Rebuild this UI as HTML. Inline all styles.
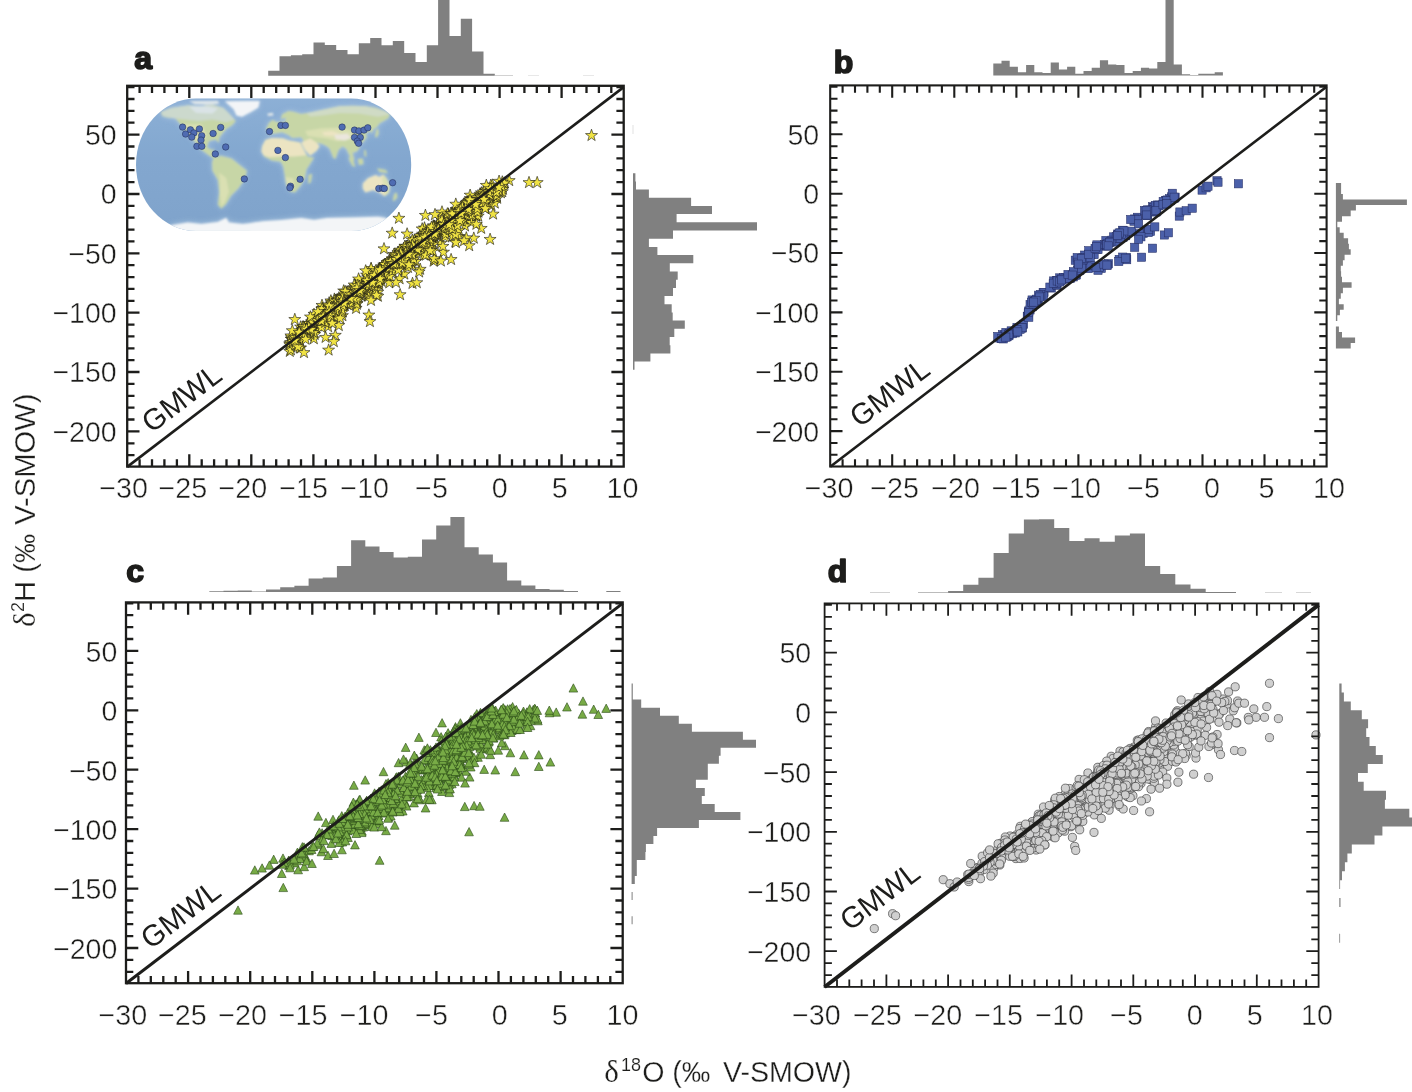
<!DOCTYPE html>
<html lang="en"><head><meta charset="utf-8"><title>Isotope figure</title>
<style>html,body{margin:0;padding:0;background:#fff}svg{display:block}.t text{stroke:#fff;stroke-width:inherit}.t{stroke-width:.45px}</style></head>
<body>
<svg width="1412" height="1092" viewBox="0 0 1412 1092" font-family='"Liberation Sans", sans-serif'>
<g fill="#808080">
<path d="M268.2 75.8V70.8H279.5V56.2H290.9V55.2H302.2V54.2H313.5V42.5H324.8V45H336.2V50H347.5V54.2H358.8V43.2H370.2V38H381.5V45.3H392.8V41.1H404.2V53.1H415.5V62H426.8V45.3H438.1V-0.2H449.5V36.1H460.8V18.7H472.1V51.6H483.5V73.7H494.8V75.8Z"/>
<rect x="495" y="75.1" width="18" height="0.7" opacity=".5"/><rect x="528" y="75.2" width="11" height="0.6" opacity=".3"/><rect x="583" y="75.2" width="11" height="0.6" opacity=".3"/>
<path d="M633 173.2H635.4V181.4H636V189.6H648.9V197.8H691.1V206H712V214.1H676.6V222.3H757V230.5H673V238.7H648.9V246.9H657.4V255.1H693.3V263.3H669.8V271.5H677.7V279.7H676V287.9H673V296H664.5V304.2H671.7V312.4H672.7V320.6H684.8V328.8H674.3V337H669.7V345.2H670.4V353.4H650.4V361.6H634.5V369.8H633Z"/>
<rect x="632.6" y="125" width="0.8" height="9" opacity=".3"/>
<path d="M993.3 75.5V63.5H1001.5V60.8H1009.7V66.8H1017.9V72.2H1026.1V65H1034.3V72.2H1042.5V73.1H1050.7V62.6H1058.9V69.6H1067.1V66.8H1075.3V73.7H1083.5V70.9H1091.7V67.8H1099.9V60.2H1108.1V64.5H1116.3V65H1124.5V73.1H1132.7V70.9H1140.9V67.8H1149.1V68.5H1157.3V62.1H1165.5V-0.5H1173.7V64.5H1181.9V74.2H1190.1V75H1198.3V73.7H1206.5V73.7H1214.7V72.2H1222.9V75.5Z"/>
<path d="M1335.9 183.1H1341.1V188.6H1341.1V194.1H1342.9V199.6H1406.9V205.1H1355.9V210.6H1350.7V216.2H1342V221.7H1337.3V227.2H1339.7V232.7H1343.7V238.2H1348.1V243.7H1348.9V249.2H1350.7V254.7H1344.6V260.2H1342.9V265.8H1340.8V271.3H1341.1V276.8H1342V282.3H1351.6V287.8H1342.9V293.3H1340.8V298.8H1338.9V304.3H1343.7V309.8H1339.9V315.3H1337.3V320.9H1335.9V326.4H1338.9V331.9H1342V337.4H1355.1V342.9H1350.7V348.4H1335.9Z"/>
<path d="M209.3 591.9V591.3H223.5V590.7H237.7V590.4H251.8V591.6H266V589.4H280.2V587.2H294.4V585.7H308.6V578.5H322.7V577.5H336.9V566.1H351.1V540.3H365.3V546.4H379.5V551.9H393.6V557.5H407.8V556.7H422V539.4H436.2V525.6H450.4V516.9H464.5V547.3H478.7V554.5H492.9V562.6H507.1V580.5H521.3V585.5H535.4V589.1H549.6V589.7H563.8V590.9H578V591.9H592.2V591.9H606.3V591H620.5V591.9Z"/>
<path d="M631.6 683.6H632.8V691.6H632.8V699.6H641.2V707.7H660V715.7H678.8V723.7H691.9V731.7H742.9V739.7H756V747.8H720.6V755.8H718.9V763.8H707.8V771.8H707.8V779.8H695.9V787.9H704.8V795.9H701.8V803.9H714.7V811.9H740.4V819.9H698.9V828H657.1V836H653.4V844H645.9V852H645.4V860H636.8V868.1H636.8V876.1H634.8V884.1H631.6V892.1H632.6V900.1H631.6V908.2H631.6V916.2H632.6V924.2H631.6Z"/>
<path d="M948.1 592.9V591.1H963.2V584.7H978.4V577.7H993.6V553H1008.7V533.5H1023.9V519.5H1039V519.2H1054.2V528.1H1069.3V541H1084.5V538.3H1099.6V541.7H1114.8V535.6H1129.9V533.5H1145V565.9H1160.2V574.1H1175.3V584.5H1190.5V588.8H1205.7V592H1220.8V592H1236V592.9Z"/>
<rect x="870" y="592.1" width="20" height="0.8" opacity=".45"/><rect x="918" y="592" width="30" height="0.9" opacity=".6"/><rect x="1265" y="592.2" width="17" height="0.7" opacity=".45"/><rect x="1296" y="592.2" width="15" height="0.7" opacity=".45"/>
<path d="M1339.3 683.5H1341.6V692.4H1343.9V701.4H1350.8V710.3H1361.8V719.3H1368.1V728.2H1366.2V737.1H1369.5V746.1H1375.8V755H1382.8V764H1367.8V772.9H1358V781.8H1363.7V790.8H1386V799.7H1384.9V808.7H1409.3V817.6H1413V826.5H1382.4V835.5H1374.5V844.4H1351.8V853.4H1347.4V862.3H1344.9V871.2H1342V880.2H1340.1V889.1H1339.3V898.1H1340.5V907H1339.3V915.9H1339.3V924.9H1339.3V933.8H1340.1V942.8H1339.3Z"/>
</g>
<g class="t">
<clipPath id="mapclip"><path d="M196 98.6H351.2A60 66.2 0 0 1 351.2 231H196A60 66.2 0 0 1 196 98.6Z"/></clipPath><filter id="soft" x="-5%" y="-5%" width="110%" height="110%"><feGaussianBlur stdDeviation="0.8"/></filter><filter id="halo" x="-10%" y="-10%" width="120%" height="120%"><feGaussianBlur stdDeviation="3.2"/></filter><linearGradient id="sea" x1="0" y1="0" x2="0" y2="1"><stop offset="0" stop-color="#8aaed5"/><stop offset=".45" stop-color="#7fa5ce"/><stop offset="1" stop-color="#7ba1ca"/></linearGradient><g clip-path="url(#mapclip)"><rect x="130" y="95" width="290" height="140" fill="url(#sea)"/><g filter="url(#halo)" opacity=".75"><polygon points="160.9,112 171.2,107.9 187.7,105.4 201.4,106.2 212.4,104.4 223.4,107.9 228.9,113.4 235.8,120.9 232.3,125 226.2,129.1 222,134 219.3,137.4 219,142.9 215.9,139.5 209,141.1 206.9,147 212.1,150.2 214.1,147.7 212.4,154.6 218.6,158.3 216.5,159.4 209.7,155.9 201.4,149.8 195.9,142.9 190.4,136.7 184.3,129.8 179.5,123 175.3,118.2 167.1,117.5 162.3,116.1" fill="#b4cde6"/><polygon points="224.8,101.3 259.8,101 258.4,107.6 250.9,112 242,116.8 236.5,115.4 233.7,109.2 228.9,105.1" fill="#b4cde6"/><polygon points="213.1,158.7 220.7,155.7 231.6,158.4 239.9,165.3 247,170.8 244.7,179.3 238.5,188.2 231,195.8 226.2,204 221.3,208.8 217.9,204.7 219.3,192.3 217.9,180 212.4,170.4 212.1,162.8" fill="#b4cde6"/><polygon points="269.2,122.6 266.4,128.3 267.9,133.7 275.6,133.5 282.1,132.2 288.5,135 292.3,138.1 301.3,137.3 303.8,141.2 301.3,142.7 305.1,150.1 310.3,155.5 316.7,150.4 319.5,146.3 316.7,142.7 321.8,143.7 326.9,146.3 329.7,148.8 333.3,158.1 335.5,159.1 338.5,150.1 342.6,146.3 346.2,148.8 348.7,154 351.3,159.1 352.8,164.5 354.1,159.1 352.6,152.7 356.4,151.7 359.2,148.8 359.2,143.7 362.8,142.4 366.9,137.3 365.6,133.5 370.5,130.9 371.8,133.5 373.3,129.6 376.9,127.1 379.7,123.2 384.6,120.6 388.5,118.1 390,114.2 384.6,111 375.6,107.8 365.4,106.3 352.6,105.8 339.7,106.3 332.1,107.8 321.8,110.1 311.5,112.3 301.3,114 293.6,111.7 288.5,111 282.1,114.2 280.8,119.4 285.9,117.4 284.9,121.9 278.2,122.6 273.1,120.6" fill="#b4cde6"/><polygon points="301.3,142.7 303.8,141.2 310.3,138.6 316.7,142.7 319.5,146.3 316.7,150.4 310.3,155.5 305.1,150.1" fill="#b4cde6"/><polygon points="321.8,132.2 332.1,130.9 339.7,133.5 332.1,136 324.4,135.4" fill="#b4cde6"/><polygon points="262.2,146.3 265.4,139.9 271.8,137.9 283.3,138.6 288.5,140.5 300,142.4 303.8,150.1 307.7,156.5 314.1,157.8 311.5,161.7 306.4,169.4 305.1,177.1 301.3,184.7 294.9,192.4 289.7,191.2 285.9,183.5 284.6,174.5 283.3,166.8 280.8,161.7 271.8,160.4 264.1,156.5 261.5,151.4" fill="#b4cde6"/><polygon points="262.2,146.3 265.4,139.9 271.8,137.9 283.3,138.6 288.5,140.5 300,142.4 303.8,150.1 306.4,155.3 293.6,156.5 280.8,156.5 269.2,157.2 263.5,155.3 261.5,151.4" fill="#b4cde6"/><polygon points="308.3,175.1 312.2,173.8 310.9,182.2 308.3,184.1" fill="#b4cde6"/><polygon points="362.8,183.5 367.9,178.3 375.6,175.1 379.5,177.1 383.3,174.5 386.5,178.3 389.7,184.7 389.1,192.4 384.6,196.3 379.5,192.4 373.1,189.9 365.4,192.4 362.8,188.6" fill="#b4cde6"/><polygon points="348.7,156.5 352.6,159.1 355.4,166.8 352.6,166.2 349.4,160.4" fill="#b4cde6"/><polygon points="357.7,159.1 362.8,158.5 363.5,164.2 359,164.9" fill="#b4cde6"/><polygon points="376.9,168.3 385.9,170 387.8,173.2 379.5,171.9" fill="#b4cde6"/><polygon points="364.1,150.1 366,150.4 366.4,156.8 364.4,155.9" fill="#b4cde6"/><polygon points="376.3,129.6 378.2,128.6 378.8,133.5 376.9,137.6 375,136.7" fill="#b4cde6"/><polygon points="271.2,120.6 273.7,120 274.4,125.1 271.5,125.8" fill="#b4cde6"/><polygon points="394.2,193.7 396.8,192.4 397.4,197.6 393.8,201.4 392.9,199.5" fill="#b4cde6"/><polygon points="164.3,232.2 171.2,225.3 187.7,222.6 201.4,223.9 217.9,221.9 226.2,217.7 228.9,222.6 242.6,223.9 261.9,221.9 281.1,222.6 281.1,232.2" fill="#c4d8ea"/><polygon points="250,223.2 262.8,221.3 282.1,220 301.3,218.1 314.1,220 326.9,218.1 352.6,217.4 378.2,216.8 385.9,218.1 391,223.2 391,234.7 250,234.7" fill="#c4d8ea"/></g><g filter="url(#soft)"><polygon points="160.9,112 171.2,107.9 187.7,105.4 201.4,106.2 212.4,104.4 223.4,107.9 228.9,113.4 235.8,120.9 232.3,125 226.2,129.1 222,134 219.3,137.4 219,142.9 215.9,139.5 209,141.1 206.9,147 212.1,150.2 214.1,147.7 212.4,154.6 218.6,158.3 216.5,159.4 209.7,155.9 201.4,149.8 195.9,142.9 190.4,136.7 184.3,129.8 179.5,123 175.3,118.2 167.1,117.5 162.3,116.1" fill="#c6d5a4"/><polygon points="183.6,124.3 201.4,124.3 206.9,135.3 201.4,144.9 194.6,139.5 187.7,131.2" fill="#d9dfb0"/><polygon points="160.9,112 171.2,107.9 187.7,105.4 201.4,106.2 212.4,104.4 223.4,107.9 228.9,113.4 234.4,119.5 226.2,122.3 212.4,119.5 198.7,120.9 184.9,119.5 174,118.2 163,116.1" fill="#cbd8cc"/><polygon points="189.1,106.5 206.9,106.2 217.9,108.5 212.4,113.4 195.9,112.7" fill="#d9e3e6"/><polygon points="224.8,101.3 259.8,101 258.4,107.6 250.9,112 242,116.8 236.5,115.4 233.7,109.2 228.9,105.1" fill="#f3f5f7"/><polygon points="189.1,101 217.9,100.7 219.3,103.7 206.9,104.8 194.6,104.3" fill="#dfe6ea"/><polygon points="213.1,158.7 220.7,155.7 231.6,158.4 239.9,165.3 247,170.8 244.7,179.3 238.5,188.2 231,195.8 226.2,204 221.3,208.8 217.9,204.7 219.3,192.3 217.9,180 212.4,170.4 212.1,162.8" fill="#c6d5a4"/><polygon points="219.3,172.4 226.2,177.9 228.9,191.6 224.8,202.6 221.3,206.8 220,194.4 220,183.4" fill="#d9dfb0"/><polygon points="267.4,113.4 272.9,112.7 273.5,115.4 268,116.1" fill="#dfe6ea"/><polygon points="269.2,122.6 266.4,128.3 267.9,133.7 275.6,133.5 282.1,132.2 288.5,135 292.3,138.1 301.3,137.3 303.8,141.2 301.3,142.7 305.1,150.1 310.3,155.5 316.7,150.4 319.5,146.3 316.7,142.7 321.8,143.7 326.9,146.3 329.7,148.8 333.3,158.1 335.5,159.1 338.5,150.1 342.6,146.3 346.2,148.8 348.7,154 351.3,159.1 352.8,164.5 354.1,159.1 352.6,152.7 356.4,151.7 359.2,148.8 359.2,143.7 362.8,142.4 366.9,137.3 365.6,133.5 370.5,130.9 371.8,133.5 373.3,129.6 376.9,127.1 379.7,123.2 384.6,120.6 388.5,118.1 390,114.2 384.6,111 375.6,107.8 365.4,106.3 352.6,105.8 339.7,106.3 332.1,107.8 321.8,110.1 311.5,112.3 301.3,114 293.6,111.7 288.5,111 282.1,114.2 280.8,119.4 285.9,117.4 284.9,121.9 278.2,122.6 273.1,120.6" fill="#c6d5a4"/><polygon points="306.4,113.2 321.8,110.1 339.7,106.3 365.4,106.3 384.6,111 390,114.2 378.2,116.8 359,113.6 339.7,112.9 321.8,115.5 310.3,116.5" fill="#cfdac4"/><polygon points="301.3,142.7 303.8,141.2 310.3,138.6 316.7,142.7 319.5,146.3 316.7,150.4 310.3,155.5 305.1,150.1" fill="#ece4c0"/><polygon points="305.1,130.9 321.8,128.3 339.7,127.7 352.6,130.9 355.1,136 347.4,139.9 337.2,141.2 326.9,138.6 316.7,137.3 307.7,136" fill="#d9dfb0"/><polygon points="321.8,132.2 332.1,130.9 339.7,133.5 332.1,136 324.4,135.4" fill="#ece4c0"/><polygon points="334,134.7 347.4,133.5 351.3,137.9 344.9,140.5 335.9,139.2" fill="#ebe6dc"/><polygon points="262.2,146.3 265.4,139.9 271.8,137.9 283.3,138.6 288.5,140.5 300,142.4 303.8,150.1 307.7,156.5 314.1,157.8 311.5,161.7 306.4,169.4 305.1,177.1 301.3,184.7 294.9,192.4 289.7,191.2 285.9,183.5 284.6,174.5 283.3,166.8 280.8,161.7 271.8,160.4 264.1,156.5 261.5,151.4" fill="#c6d5a4"/><polygon points="262.2,146.3 265.4,139.9 271.8,137.9 283.3,138.6 288.5,140.5 300,142.4 303.8,150.1 306.4,155.3 293.6,156.5 280.8,156.5 269.2,157.2 263.5,155.3 261.5,151.4" fill="#ece4c0"/><polygon points="285.3,177.1 293.6,178.3 294.2,187.3 290.4,190.5 286.5,184.1" fill="#d9dfb0"/><polygon points="308.3,175.1 312.2,173.8 310.9,182.2 308.3,184.1" fill="#c6d5a4"/><polygon points="362.8,183.5 367.9,178.3 375.6,175.1 379.5,177.1 383.3,174.5 386.5,178.3 389.7,184.7 389.1,192.4 384.6,196.3 379.5,192.4 373.1,189.9 365.4,192.4 362.8,188.6" fill="#ece4c0"/><polygon points="383.3,174.5 386.5,178.3 389.7,184.7 389.1,192.4 384.6,196.3 384.6,187.3 382.1,179.6" fill="#d9dfb0"/><polygon points="348.7,156.5 352.6,159.1 355.4,166.8 352.6,166.2 349.4,160.4" fill="#c6d5a4"/><polygon points="357.7,159.1 362.8,158.5 363.5,164.2 359,164.9" fill="#c6d5a4"/><polygon points="376.9,168.3 385.9,170 387.8,173.2 379.5,171.9" fill="#c6d5a4"/><polygon points="364.1,150.1 366,150.4 366.4,156.8 364.4,155.9" fill="#c6d5a4"/><polygon points="376.3,129.6 378.2,128.6 378.8,133.5 376.9,137.6 375,136.7" fill="#c6d5a4"/><polygon points="271.2,120.6 273.7,120 274.4,125.1 271.5,125.8" fill="#c6d5a4"/><polygon points="394.2,193.7 396.8,192.4 397.4,197.6 393.8,201.4 392.9,199.5" fill="#c6d5a4"/><polygon points="164.3,232.2 171.2,225.3 187.7,222.6 201.4,223.9 217.9,221.9 226.2,217.7 228.9,222.6 242.6,223.9 261.9,221.9 281.1,222.6 281.1,232.2" fill="#f3f5f7"/><polygon points="250,223.2 262.8,221.3 282.1,220 301.3,218.1 314.1,220 326.9,218.1 352.6,217.4 378.2,216.8 385.9,218.1 391,223.2 391,234.7 250,234.7" fill="#f3f5f7"/></g><rect x="130" y="95" width="290" height="140" fill="#fff" opacity=".03"/></g><g fill="#4f6cb2" stroke="#1f2a55" stroke-width="0.5"><circle cx="182.6" cy="127.1" r="3.25"/><circle cx="185.6" cy="134" r="3.25"/><circle cx="190.4" cy="129.8" r="3.25"/><circle cx="193.9" cy="132.9" r="3.25"/><circle cx="191.8" cy="137.1" r="3.25"/><circle cx="199.4" cy="128.9" r="3.25"/><circle cx="201.7" cy="135.7" r="3.25"/><circle cx="201" cy="140.1" r="3.25"/><circle cx="196.9" cy="146.3" r="3.25"/><circle cx="201.8" cy="146.3" r="3.25"/><circle cx="213.1" cy="133.5" r="3.25"/><circle cx="220.7" cy="127.4" r="3.25"/><circle cx="225.7" cy="147" r="3.25"/><circle cx="215.3" cy="154" r="3.25"/><circle cx="244.3" cy="178.9" r="3.25"/><circle cx="269.5" cy="131.5" r="3.25"/><circle cx="277.9" cy="150.4" r="3.25"/><circle cx="280.9" cy="125.4" r="3.25"/><circle cx="285.4" cy="125.4" r="3.25"/><circle cx="285.4" cy="157.6" r="3.25"/><circle cx="300.1" cy="179.3" r="3.25"/><circle cx="290.5" cy="186.2" r="3.25"/><circle cx="289.9" cy="187.8" r="3.25"/><circle cx="342.1" cy="127.1" r="3.25"/><circle cx="354.5" cy="130.1" r="3.25"/><circle cx="358.9" cy="130.9" r="3.25"/><circle cx="364" cy="130.1" r="3.25"/><circle cx="367.8" cy="127.8" r="3.25"/><circle cx="354.5" cy="137.4" r="3.25"/><circle cx="360.3" cy="137.4" r="3.25"/><circle cx="357.3" cy="141.1" r="3.25"/><circle cx="358.6" cy="143.3" r="3.25"/><circle cx="392.6" cy="182.7" r="3.25"/><circle cx="378.8" cy="188.5" r="3.25"/><circle cx="382.7" cy="188.2" r="3.25"/><circle cx="384.3" cy="188.5" r="3.25"/></g><g fill="#f0e344" stroke="#1a1a12" stroke-width="0.6" stroke-linejoin="miter"><path d="M407.6 249.8l1.4 4.3l4.6 0l-3.6 2.8l1.3 4.3l-3.7 -2.6l-3.7 2.6l1.3 -4.3l-3.6 -2.8l4.5 0z"/><path d="M433.3 229l1.5 4.3l4.5 0l-3.6 2.8l1.3 4.3l-3.7 -2.6l-3.7 2.6l1.4 -4.3l-3.6 -2.8l4.5 0z"/><path d="M392.2 257l1.5 4.3l4.5 0l-3.6 2.8l1.3 4.3l-3.7 -2.6l-3.7 2.6l1.4 -4.3l-3.7 -2.8l4.6 0z"/><path d="M441.6 219.4l1.4 4.3l4.6 0.1l-3.6 2.7l1.3 4.3l-3.7 -2.6l-3.7 2.6l1.3 -4.3l-3.6 -2.7l4.5 -0.1z"/><path d="M445.3 214.2l1.5 4.3l4.5 0.1l-3.6 2.7l1.4 4.3l-3.8 -2.6l-3.7 2.6l1.4 -4.3l-3.6 -2.7l4.5 -0.1z"/><path d="M304.4 324.7l1.5 4.3l4.5 0.1l-3.6 2.7l1.3 4.3l-3.7 -2.6l-3.7 2.6l1.3 -4.3l-3.6 -2.7l4.5 -0.1z"/><path d="M391.3 259.3l1.5 4.3l4.5 0.1l-3.6 2.7l1.3 4.3l-3.7 -2.6l-3.7 2.6l1.4 -4.3l-3.6 -2.7l4.5 -0.1z"/><path d="M431.7 231.7l1.5 4.3l4.5 0l-3.6 2.8l1.3 4.3l-3.7 -2.6l-3.7 2.6l1.3 -4.3l-3.6 -2.8l4.6 0z"/><path d="M311.4 315.6l1.5 4.3l4.5 0.1l-3.6 2.7l1.3 4.3l-3.7 -2.6l-3.7 2.6l1.3 -4.3l-3.6 -2.7l4.5 -0.1z"/><path d="M408.3 247.8l1.4 4.3l4.6 0.1l-3.6 2.7l1.3 4.3l-3.7 -2.6l-3.7 2.6l1.3 -4.3l-3.6 -2.7l4.5 -0.1z"/><path d="M315.5 316.2l1.5 4.3l4.5 0l-3.6 2.8l1.3 4.3l-3.7 -2.6l-3.7 2.6l1.3 -4.3l-3.6 -2.8l4.5 0z"/><path d="M357.5 282.9l1.5 4.3l4.5 0.1l-3.6 2.7l1.3 4.3l-3.7 -2.6l-3.7 2.6l1.3 -4.3l-3.6 -2.7l4.5 -0.1z"/><path d="M376 276.5l1.5 4.3l4.5 0l-3.6 2.8l1.3 4.3l-3.7 -2.6l-3.7 2.6l1.4 -4.3l-3.7 -2.8l4.6 0z"/><path d="M346.8 293.9l1.5 4.3l4.5 0.1l-3.6 2.7l1.3 4.3l-3.7 -2.6l-3.7 2.6l1.3 -4.3l-3.6 -2.7l4.5 -0.1z"/><path d="M386.5 262.3l1.4 4.3l4.6 0.1l-3.6 2.7l1.3 4.3l-3.7 -2.6l-3.7 2.6l1.3 -4.3l-3.6 -2.7l4.5 -0.1z"/><path d="M489.6 191l1.4 4.3l4.5 0l-3.6 2.8l1.4 4.3l-3.7 -2.6l-3.7 2.6l1.3 -4.3l-3.6 -2.8l4.5 0z"/><path d="M326.4 302.1l1.5 4.2l4.5 0.1l-3.6 2.7l1.3 4.4l-3.7 -2.6l-3.7 2.6l1.3 -4.4l-3.6 -2.7l4.5 -0.1z"/><path d="M476.9 201.1l1.5 4.3l4.5 0l-3.6 2.7l1.4 4.4l-3.8 -2.6l-3.7 2.6l1.4 -4.4l-3.6 -2.7l4.5 0z"/><path d="M432.2 235.5l1.5 4.3l4.5 0.1l-3.6 2.7l1.3 4.3l-3.7 -2.6l-3.7 2.6l1.3 -4.3l-3.6 -2.7l4.5 -0.1z"/><path d="M323.2 307.2l1.5 4.3l4.5 0l-3.6 2.8l1.3 4.3l-3.7 -2.6l-3.7 2.6l1.4 -4.3l-3.7 -2.8l4.6 0z"/><path d="M442.5 221.5l1.4 4.3l4.6 0.1l-3.7 2.7l1.4 4.3l-3.7 -2.6l-3.7 2.6l1.3 -4.3l-3.6 -2.7l4.5 -0.1z"/><path d="M340.1 298.7l1.5 4.3l4.5 0.1l-3.6 2.7l1.3 4.3l-3.7 -2.6l-3.7 2.6l1.4 -4.3l-3.7 -2.7l4.6 -0.1z"/><path d="M436.7 225.7l1.5 4.3l4.5 0.1l-3.6 2.7l1.3 4.3l-3.7 -2.6l-3.7 2.6l1.3 -4.3l-3.6 -2.7l4.5 -0.1z"/><path d="M360.2 284.8l1.5 4.3l4.5 0.1l-3.6 2.7l1.3 4.3l-3.7 -2.6l-3.7 2.6l1.3 -4.3l-3.6 -2.7l4.6 -0.1z"/><path d="M407.4 248.4l1.4 4.2l4.6 0.1l-3.6 2.7l1.3 4.4l-3.7 -2.6l-3.7 2.6l1.3 -4.4l-3.6 -2.7l4.5 -0.1z"/><path d="M382.6 261l1.5 4.3l4.5 0.1l-3.6 2.7l1.3 4.3l-3.7 -2.6l-3.7 2.6l1.4 -4.3l-3.7 -2.7l4.6 -0.1z"/><path d="M314 318.6l1.4 4.3l4.6 0.1l-3.6 2.7l1.3 4.3l-3.7 -2.6l-3.7 2.6l1.3 -4.3l-3.6 -2.7l4.5 -0.1z"/><path d="M481.4 186.6l1.4 4.3l4.5 0l-3.6 2.7l1.4 4.4l-3.7 -2.6l-3.7 2.6l1.3 -4.4l-3.6 -2.7l4.5 0z"/><path d="M357.7 285.4l1.5 4.3l4.5 0l-3.6 2.7l1.3 4.4l-3.7 -2.6l-3.7 2.6l1.3 -4.4l-3.6 -2.7l4.5 0z"/><path d="M294.8 313.2l1.5 4.3l4.5 0.1l-3.6 2.7l1.3 4.3l-3.7 -2.6l-3.7 2.6l1.3 -4.3l-3.6 -2.7l4.5 -0.1z"/><path d="M353.9 284.5l1.5 4.3l4.5 0.1l-3.6 2.7l1.3 4.3l-3.7 -2.6l-3.7 2.6l1.4 -4.3l-3.6 -2.7l4.5 -0.1z"/><path d="M331.9 309.7l1.5 4.3l4.5 0.1l-3.6 2.7l1.3 4.3l-3.7 -2.6l-3.7 2.6l1.3 -4.3l-3.6 -2.7l4.6 -0.1z"/><path d="M492.8 183.9l1.4 4.2l4.6 0.1l-3.7 2.7l1.4 4.4l-3.7 -2.6l-3.7 2.6l1.3 -4.4l-3.6 -2.7l4.5 -0.1z"/><path d="M397.9 246.3l1.5 4.3l4.5 0.1l-3.6 2.7l1.3 4.3l-3.7 -2.6l-3.7 2.6l1.3 -4.3l-3.6 -2.7l4.5 -0.1z"/><path d="M414.2 245.4l1.5 4.3l4.5 0.1l-3.6 2.7l1.3 4.3l-3.7 -2.6l-3.7 2.6l1.4 -4.3l-3.6 -2.7l4.5 -0.1z"/><path d="M396.2 253.6l1.5 4.2l4.5 0.1l-3.6 2.7l1.3 4.4l-3.7 -2.6l-3.7 2.6l1.3 -4.4l-3.6 -2.7l4.6 -0.1z"/><path d="M367.3 277.4l1.5 4.2l4.5 0.1l-3.6 2.7l1.3 4.4l-3.7 -2.6l-3.7 2.6l1.4 -4.4l-3.7 -2.7l4.6 -0.1z"/><path d="M400 257.3l1.5 4.3l4.5 0.1l-3.6 2.7l1.3 4.3l-3.7 -2.6l-3.7 2.6l1.3 -4.3l-3.6 -2.7l4.5 -0.1z"/><path d="M295.2 340.3l1.5 4.2l4.5 0.1l-3.6 2.7l1.3 4.4l-3.7 -2.6l-3.7 2.6l1.3 -4.4l-3.6 -2.7l4.5 -0.1z"/><path d="M448.4 207.8l1.5 4.3l4.5 0.1l-3.6 2.7l1.3 4.3l-3.7 -2.6l-3.7 2.6l1.3 -4.3l-3.6 -2.7l4.5 -0.1z"/><path d="M402.6 249.9l1.5 4.3l4.5 0.1l-3.6 2.7l1.3 4.3l-3.7 -2.6l-3.7 2.6l1.4 -4.3l-3.7 -2.7l4.6 -0.1z"/><path d="M473 201.8l1.5 4.3l4.5 0.1l-3.6 2.7l1.3 4.3l-3.7 -2.6l-3.7 2.6l1.3 -4.3l-3.6 -2.7l4.5 -0.1z"/><path d="M345.5 292.8l1.5 4.3l4.5 0.1l-3.6 2.7l1.3 4.3l-3.7 -2.6l-3.7 2.6l1.3 -4.3l-3.6 -2.7l4.5 -0.1z"/><path d="M332 302.8l1.5 4.2l4.5 0.1l-3.6 2.7l1.3 4.4l-3.7 -2.6l-3.7 2.6l1.3 -4.4l-3.6 -2.7l4.5 -0.1z"/><path d="M491.4 183.6l1.4 4.3l4.6 0.1l-3.7 2.7l1.4 4.3l-3.7 -2.6l-3.7 2.6l1.3 -4.3l-3.6 -2.7l4.5 -0.1z"/><path d="M440 225.4l1.5 4.3l4.5 0.1l-3.6 2.7l1.3 4.3l-3.7 -2.6l-3.7 2.6l1.3 -4.3l-3.6 -2.7l4.6 -0.1z"/><path d="M487.9 189.7l1.5 4.3l4.5 0l-3.6 2.8l1.3 4.3l-3.7 -2.6l-3.7 2.6l1.3 -4.3l-3.6 -2.8l4.5 0z"/><path d="M338.5 299.1l1.5 4.3l4.5 0l-3.6 2.8l1.3 4.3l-3.7 -2.6l-3.7 2.6l1.4 -4.3l-3.7 -2.8l4.6 0z"/><path d="M430.3 236.4l1.5 4.2l4.5 0.1l-3.6 2.7l1.3 4.4l-3.7 -2.6l-3.7 2.6l1.3 -4.4l-3.6 -2.7l4.5 -0.1z"/><path d="M480.5 194.5l1.5 4.2l4.5 0.1l-3.6 2.7l1.3 4.4l-3.7 -2.6l-3.7 2.6l1.4 -4.4l-3.6 -2.7l4.5 -0.1z"/><path d="M391.6 255.3l1.5 4.3l4.5 0l-3.6 2.8l1.3 4.3l-3.7 -2.6l-3.7 2.6l1.3 -4.3l-3.6 -2.8l4.5 0z"/><path d="M454.2 212.7l1.5 4.2l4.5 0.1l-3.6 2.7l1.3 4.4l-3.7 -2.6l-3.7 2.6l1.4 -4.4l-3.7 -2.7l4.6 -0.1z"/><path d="M426.4 232.2l1.4 4.3l4.6 0.1l-3.6 2.7l1.3 4.3l-3.7 -2.6l-3.7 2.6l1.3 -4.3l-3.6 -2.7l4.5 -0.1z"/><path d="M482 197l1.4 4.3l4.6 0l-3.7 2.8l1.4 4.3l-3.7 -2.6l-3.7 2.6l1.3 -4.3l-3.6 -2.8l4.5 0z"/><path d="M425.9 233l1.4 4.3l4.6 0.1l-3.7 2.7l1.4 4.3l-3.7 -2.6l-3.7 2.6l1.3 -4.3l-3.6 -2.7l4.5 -0.1z"/><path d="M289.8 345.1l1.5 4.3l4.5 0.1l-3.6 2.7l1.3 4.3l-3.7 -2.6l-3.7 2.6l1.3 -4.3l-3.6 -2.7l4.5 -0.1z"/><path d="M381.5 267.6l1.4 4.3l4.6 0l-3.6 2.8l1.3 4.3l-3.7 -2.6l-3.7 2.6l1.3 -4.3l-3.6 -2.8l4.5 0z"/><path d="M454.1 213l1.4 4.2l4.6 0.1l-3.6 2.7l1.3 4.4l-3.7 -2.6l-3.7 2.6l1.3 -4.4l-3.6 -2.7l4.5 -0.1z"/><path d="M326.3 307.1l1.5 4.3l4.5 0.1l-3.6 2.7l1.3 4.3l-3.7 -2.6l-3.7 2.6l1.3 -4.3l-3.6 -2.7l4.6 -0.1z"/><path d="M416.1 243.4l1.5 4.3l4.5 0.1l-3.6 2.7l1.3 4.3l-3.7 -2.6l-3.7 2.6l1.3 -4.3l-3.6 -2.7l4.6 -0.1z"/><path d="M340.3 297.9l1.4 4.2l4.6 0.1l-3.6 2.7l1.3 4.4l-3.7 -2.6l-3.7 2.6l1.3 -4.4l-3.6 -2.7l4.5 -0.1z"/><path d="M387.7 266.1l1.4 4.3l4.5 0.1l-3.6 2.7l1.4 4.3l-3.7 -2.6l-3.7 2.6l1.3 -4.3l-3.6 -2.7l4.5 -0.1z"/><path d="M314.7 328.2l1.5 4.3l4.5 0.1l-3.6 2.7l1.3 4.3l-3.7 -2.6l-3.7 2.6l1.4 -4.3l-3.7 -2.7l4.6 -0.1z"/><path d="M303.7 329.7l1.5 4.3l4.5 0l-3.6 2.7l1.4 4.4l-3.8 -2.6l-3.7 2.6l1.4 -4.4l-3.6 -2.7l4.5 0z"/><path d="M490.6 184.3l1.5 4.3l4.5 0.1l-3.6 2.7l1.3 4.3l-3.7 -2.6l-3.7 2.6l1.3 -4.3l-3.6 -2.7l4.5 -0.1z"/><path d="M481.2 190.8l1.5 4.2l4.5 0.1l-3.6 2.7l1.3 4.4l-3.7 -2.6l-3.7 2.6l1.3 -4.4l-3.6 -2.7l4.5 -0.1z"/><path d="M424.5 221.7l1.5 4.3l4.5 0.1l-3.6 2.7l1.3 4.3l-3.7 -2.6l-3.7 2.6l1.4 -4.3l-3.7 -2.7l4.6 -0.1z"/><path d="M482.4 190.2l1.5 4.2l4.5 0.1l-3.6 2.7l1.4 4.4l-3.8 -2.6l-3.7 2.6l1.4 -4.4l-3.6 -2.7l4.5 -0.1z"/><path d="M431.2 243.4l1.5 4.3l4.5 0.1l-3.6 2.7l1.3 4.3l-3.7 -2.6l-3.7 2.6l1.3 -4.3l-3.6 -2.7l4.5 -0.1z"/><path d="M378.3 272.1l1.5 4.3l4.5 0l-3.6 2.7l1.3 4.4l-3.7 -2.6l-3.7 2.6l1.3 -4.4l-3.6 -2.7l4.5 0z"/><path d="M379.4 270.2l1.5 4.3l4.5 0l-3.6 2.7l1.3 4.4l-3.7 -2.6l-3.7 2.6l1.3 -4.4l-3.6 -2.7l4.6 0z"/><path d="M440.8 237l1.5 4.3l4.5 0.1l-3.6 2.7l1.3 4.3l-3.7 -2.6l-3.7 2.6l1.3 -4.3l-3.6 -2.7l4.5 -0.1z"/><path d="M335 301.5l1.4 4.3l4.6 0.1l-3.6 2.7l1.3 4.3l-3.7 -2.6l-3.7 2.6l1.3 -4.3l-3.6 -2.7l4.5 -0.1z"/><path d="M411.5 245.8l1.4 4.3l4.6 0.1l-3.6 2.7l1.3 4.3l-3.7 -2.6l-3.7 2.6l1.3 -4.3l-3.6 -2.7l4.5 -0.1z"/><path d="M474.7 193.4l1.4 4.3l4.6 0.1l-3.7 2.7l1.4 4.3l-3.7 -2.6l-3.7 2.6l1.3 -4.3l-3.6 -2.7l4.5 -0.1z"/><path d="M402.1 255.2l1.4 4.3l4.6 0l-3.7 2.7l1.4 4.4l-3.7 -2.6l-3.7 2.6l1.3 -4.4l-3.6 -2.7l4.5 0z"/><path d="M389.7 258.4l1.4 4.3l4.6 0.1l-3.7 2.7l1.4 4.3l-3.7 -2.6l-3.7 2.6l1.3 -4.3l-3.6 -2.7l4.5 -0.1z"/><path d="M445.7 217.3l1.4 4.2l4.5 0.1l-3.6 2.7l1.4 4.4l-3.7 -2.6l-3.8 2.6l1.4 -4.4l-3.6 -2.7l4.5 -0.1z"/><path d="M402.3 251.2l1.5 4.3l4.5 0l-3.6 2.7l1.3 4.4l-3.7 -2.6l-3.7 2.6l1.3 -4.4l-3.6 -2.7l4.5 0z"/><path d="M481.9 189.6l1.4 4.3l4.6 0.1l-3.7 2.7l1.4 4.3l-3.7 -2.6l-3.7 2.6l1.3 -4.3l-3.6 -2.7l4.5 -0.1z"/><path d="M355.7 293.4l1.5 4.3l4.5 0.1l-3.6 2.7l1.3 4.3l-3.7 -2.6l-3.7 2.6l1.3 -4.3l-3.6 -2.7l4.5 -0.1z"/><path d="M492.4 178.8l1.4 4.3l4.5 0l-3.6 2.7l1.4 4.4l-3.7 -2.6l-3.8 2.6l1.4 -4.4l-3.6 -2.7l4.5 0z"/><path d="M296.9 329l1.5 4.3l4.5 0.1l-3.6 2.7l1.3 4.3l-3.7 -2.6l-3.7 2.6l1.3 -4.3l-3.6 -2.7l4.6 -0.1z"/><path d="M323.6 311.7l1.5 4.3l4.5 0.1l-3.6 2.7l1.3 4.3l-3.7 -2.6l-3.7 2.6l1.3 -4.3l-3.6 -2.7l4.5 -0.1z"/><path d="M391 255.1l1.5 4.3l4.5 0.1l-3.6 2.7l1.3 4.3l-3.7 -2.6l-3.7 2.6l1.3 -4.3l-3.6 -2.7l4.5 -0.1z"/><path d="M380.9 270.5l1.5 4.2l4.5 0.1l-3.6 2.7l1.3 4.3l-3.7 -2.5l-3.7 2.5l1.3 -4.3l-3.6 -2.7l4.5 -0.1z"/><path d="M435.8 226.7l1.4 4.3l4.6 0.1l-3.7 2.7l1.4 4.3l-3.7 -2.6l-3.7 2.6l1.3 -4.3l-3.6 -2.7l4.5 -0.1z"/><path d="M303 324.6l1.5 4.2l4.5 0.1l-3.6 2.7l1.3 4.4l-3.7 -2.6l-3.7 2.6l1.3 -4.4l-3.6 -2.7l4.5 -0.1z"/><path d="M343.3 298.2l1.5 4.3l4.5 0.1l-3.6 2.7l1.3 4.3l-3.7 -2.6l-3.7 2.6l1.3 -4.3l-3.6 -2.7l4.5 -0.1z"/><path d="M389.1 264.6l1.5 4.2l4.5 0.1l-3.6 2.7l1.3 4.4l-3.7 -2.6l-3.7 2.6l1.3 -4.4l-3.6 -2.7l4.5 -0.1z"/><path d="M345.5 292.6l1.4 4.3l4.6 0l-3.6 2.8l1.3 4.3l-3.7 -2.6l-3.7 2.6l1.3 -4.3l-3.6 -2.8l4.5 0z"/><path d="M372.2 273.8l1.5 4.3l4.5 0.1l-3.6 2.7l1.3 4.3l-3.7 -2.6l-3.7 2.6l1.4 -4.3l-3.7 -2.7l4.6 -0.1z"/><path d="M449.1 220.2l1.5 4.2l4.5 0.1l-3.6 2.7l1.3 4.3l-3.7 -2.5l-3.7 2.5l1.4 -4.3l-3.7 -2.7l4.6 -0.1z"/><path d="M389.9 263.8l1.4 4.2l4.6 0.1l-3.7 2.7l1.4 4.4l-3.7 -2.6l-3.7 2.6l1.3 -4.4l-3.6 -2.7l4.5 -0.1z"/><path d="M467.1 205.8l1.5 4.3l4.5 0.1l-3.6 2.7l1.3 4.3l-3.7 -2.6l-3.7 2.6l1.4 -4.3l-3.7 -2.7l4.6 -0.1z"/><path d="M478.5 195.8l1.5 4.3l4.5 0.1l-3.6 2.7l1.3 4.3l-3.7 -2.6l-3.7 2.6l1.3 -4.3l-3.6 -2.7l4.5 -0.1z"/><path d="M366.9 273.5l1.5 4.3l4.5 0.1l-3.6 2.7l1.3 4.3l-3.7 -2.6l-3.7 2.6l1.3 -4.3l-3.6 -2.7l4.5 -0.1z"/><path d="M489.8 186.1l1.4 4.3l4.6 0l-3.6 2.8l1.3 4.3l-3.7 -2.6l-3.7 2.6l1.3 -4.3l-3.6 -2.8l4.5 0z"/><path d="M476.9 195.8l1.4 4.3l4.6 0.1l-3.7 2.7l1.4 4.3l-3.7 -2.6l-3.7 2.6l1.3 -4.3l-3.6 -2.7l4.5 -0.1z"/><path d="M452 217.9l1.4 4.2l4.5 0.1l-3.6 2.7l1.4 4.4l-3.7 -2.6l-3.8 2.6l1.4 -4.4l-3.6 -2.7l4.5 -0.1z"/><path d="M322.8 310.5l1.4 4.3l4.6 0l-3.6 2.8l1.3 4.3l-3.7 -2.6l-3.7 2.6l1.3 -4.3l-3.6 -2.8l4.5 0z"/><path d="M461.8 208.2l1.5 4.3l4.5 0.1l-3.6 2.7l1.3 4.3l-3.7 -2.6l-3.7 2.6l1.4 -4.3l-3.6 -2.7l4.5 -0.1z"/><path d="M332 304.5l1.5 4.3l4.5 0.1l-3.6 2.7l1.3 4.3l-3.7 -2.6l-3.7 2.6l1.4 -4.3l-3.6 -2.7l4.5 -0.1z"/><path d="M386.3 259.2l1.4 4.3l4.6 0.1l-3.7 2.7l1.4 4.3l-3.7 -2.6l-3.7 2.6l1.3 -4.3l-3.6 -2.7l4.5 -0.1z"/><path d="M463.1 202.3l1.4 4.3l4.6 0.1l-3.6 2.7l1.3 4.3l-3.7 -2.6l-3.7 2.6l1.3 -4.3l-3.6 -2.7l4.5 -0.1z"/><path d="M304.4 321.3l1.5 4.3l4.5 0.1l-3.6 2.7l1.3 4.3l-3.7 -2.6l-3.7 2.6l1.3 -4.3l-3.6 -2.7l4.5 -0.1z"/><path d="M452.3 215.6l1.4 4.3l4.6 0l-3.7 2.8l1.4 4.3l-3.7 -2.6l-3.7 2.6l1.3 -4.3l-3.6 -2.8l4.5 0z"/><path d="M421.2 235.2l1.5 4.3l4.5 0l-3.6 2.8l1.3 4.3l-3.7 -2.6l-3.7 2.6l1.4 -4.3l-3.7 -2.8l4.6 0z"/><path d="M423.3 234.4l1.4 4.2l4.6 0.1l-3.7 2.7l1.4 4.4l-3.7 -2.6l-3.7 2.6l1.3 -4.4l-3.6 -2.7l4.5 -0.1z"/><path d="M457.2 206l1.5 4.3l4.5 0l-3.6 2.7l1.3 4.4l-3.7 -2.6l-3.7 2.6l1.3 -4.4l-3.6 -2.7l4.5 0z"/><path d="M509.2 174.3l1.5 4.3l4.5 0.1l-3.6 2.7l1.3 4.3l-3.7 -2.6l-3.7 2.6l1.3 -4.3l-3.6 -2.7l4.5 -0.1z"/><path d="M444.6 220.4l1.5 4.3l4.5 0.1l-3.6 2.7l1.3 4.3l-3.7 -2.6l-3.7 2.6l1.3 -4.3l-3.6 -2.7l4.6 -0.1z"/><path d="M393.6 254.6l1.4 4.3l4.6 0.1l-3.6 2.7l1.3 4.3l-3.7 -2.6l-3.7 2.6l1.3 -4.3l-3.6 -2.7l4.5 -0.1z"/><path d="M431.9 226.1l1.4 4.2l4.5 0.1l-3.6 2.7l1.4 4.4l-3.7 -2.6l-3.7 2.6l1.3 -4.4l-3.6 -2.7l4.5 -0.1z"/><path d="M376.2 275l1.5 4.3l4.5 0.1l-3.6 2.7l1.3 4.3l-3.7 -2.6l-3.7 2.6l1.3 -4.3l-3.6 -2.7l4.5 -0.1z"/><path d="M415.3 240.1l1.4 4.3l4.5 0.1l-3.6 2.7l1.4 4.3l-3.7 -2.6l-3.8 2.6l1.4 -4.3l-3.6 -2.7l4.5 -0.1z"/><path d="M491.5 199.3l1.5 4.3l4.5 0.1l-3.6 2.7l1.3 4.3l-3.7 -2.6l-3.7 2.6l1.3 -4.3l-3.6 -2.7l4.5 -0.1z"/><path d="M379.7 266.1l1.4 4.3l4.6 0.1l-3.7 2.7l1.4 4.3l-3.7 -2.6l-3.7 2.6l1.3 -4.3l-3.6 -2.7l4.5 -0.1z"/><path d="M461.3 203.6l1.5 4.2l4.5 0.1l-3.6 2.7l1.4 4.4l-3.8 -2.6l-3.7 2.6l1.4 -4.4l-3.6 -2.7l4.5 -0.1z"/><path d="M469.8 210.2l1.5 4.3l4.5 0.1l-3.6 2.7l1.3 4.3l-3.7 -2.6l-3.7 2.6l1.3 -4.3l-3.6 -2.7l4.5 -0.1z"/><path d="M370.2 273.2l1.5 4.3l4.5 0.1l-3.6 2.7l1.3 4.3l-3.7 -2.6l-3.7 2.6l1.3 -4.3l-3.6 -2.7l4.5 -0.1z"/><path d="M484.8 191.9l1.4 4.3l4.6 0l-3.7 2.8l1.4 4.3l-3.7 -2.6l-3.7 2.6l1.3 -4.3l-3.6 -2.8l4.5 0z"/><path d="M378.4 270.5l1.5 4.3l4.5 0l-3.6 2.8l1.3 4.3l-3.7 -2.6l-3.7 2.6l1.3 -4.3l-3.6 -2.8l4.6 0z"/><path d="M476.6 195.9l1.4 4.2l4.6 0.1l-3.7 2.7l1.4 4.4l-3.7 -2.6l-3.7 2.6l1.3 -4.4l-3.6 -2.7l4.5 -0.1z"/><path d="M437.5 222.3l1.5 4.3l4.5 0l-3.6 2.8l1.3 4.3l-3.7 -2.6l-3.7 2.6l1.3 -4.3l-3.6 -2.8l4.5 0z"/><path d="M411.5 239.4l1.4 4.2l4.5 0.1l-3.6 2.7l1.4 4.4l-3.7 -2.6l-3.7 2.6l1.3 -4.4l-3.6 -2.7l4.5 -0.1z"/><path d="M369.9 274.5l1.5 4.2l4.5 0.1l-3.6 2.7l1.4 4.4l-3.8 -2.6l-3.7 2.6l1.4 -4.4l-3.6 -2.7l4.5 -0.1z"/><path d="M453.5 217.4l1.5 4.2l4.5 0.1l-3.6 2.7l1.3 4.4l-3.7 -2.6l-3.7 2.6l1.3 -4.4l-3.6 -2.7l4.6 -0.1z"/><path d="M325.2 309.4l1.5 4.2l4.5 0.1l-3.6 2.7l1.3 4.4l-3.7 -2.6l-3.7 2.6l1.4 -4.4l-3.6 -2.7l4.5 -0.1z"/><path d="M325.4 310.4l1.5 4.3l4.5 0.1l-3.6 2.7l1.3 4.3l-3.7 -2.6l-3.7 2.6l1.4 -4.3l-3.7 -2.7l4.6 -0.1z"/><path d="M398.6 257.1l1.4 4.3l4.5 0l-3.6 2.8l1.4 4.3l-3.7 -2.6l-3.8 2.6l1.4 -4.3l-3.6 -2.8l4.5 0z"/><path d="M445.7 217.9l1.4 4.3l4.5 0.1l-3.6 2.7l1.4 4.3l-3.7 -2.6l-3.8 2.6l1.4 -4.3l-3.6 -2.7l4.5 -0.1z"/><path d="M424.2 235.7l1.5 4.3l4.5 0.1l-3.6 2.7l1.3 4.3l-3.7 -2.6l-3.7 2.6l1.3 -4.3l-3.6 -2.7l4.6 -0.1z"/><path d="M321.8 303l1.5 4.3l4.5 0l-3.6 2.8l1.3 4.3l-3.7 -2.6l-3.7 2.6l1.3 -4.3l-3.6 -2.8l4.6 0z"/><path d="M301.9 324.2l1.5 4.3l4.5 0.1l-3.6 2.7l1.3 4.3l-3.7 -2.6l-3.7 2.6l1.3 -4.3l-3.6 -2.7l4.6 -0.1z"/><path d="M445.2 230.7l1.5 4.3l4.5 0.1l-3.6 2.7l1.3 4.3l-3.7 -2.6l-3.7 2.6l1.3 -4.3l-3.6 -2.7l4.5 -0.1z"/><path d="M418.9 235.2l1.5 4.3l4.5 0.1l-3.6 2.7l1.3 4.3l-3.7 -2.6l-3.7 2.6l1.4 -4.3l-3.7 -2.7l4.6 -0.1z"/><path d="M379.3 278.6l1.5 4.3l4.5 0l-3.6 2.8l1.3 4.3l-3.7 -2.6l-3.7 2.6l1.3 -4.3l-3.6 -2.8l4.6 0z"/><path d="M344.3 294.3l1.5 4.3l4.5 0l-3.6 2.7l1.3 4.4l-3.7 -2.6l-3.7 2.6l1.3 -4.4l-3.6 -2.7l4.5 0z"/><path d="M467.2 207.4l1.5 4.3l4.5 0.1l-3.6 2.7l1.3 4.3l-3.7 -2.6l-3.7 2.6l1.3 -4.3l-3.6 -2.7l4.5 -0.1z"/><path d="M500.7 183.8l1.5 4.3l4.5 0.1l-3.6 2.7l1.3 4.3l-3.7 -2.6l-3.7 2.6l1.3 -4.3l-3.6 -2.7l4.5 -0.1z"/><path d="M439.7 224.5l1.4 4.3l4.6 0.1l-3.7 2.7l1.4 4.3l-3.7 -2.6l-3.7 2.6l1.3 -4.3l-3.6 -2.7l4.5 -0.1z"/><path d="M403.2 249.5l1.5 4.3l4.5 0.1l-3.6 2.7l1.3 4.3l-3.7 -2.6l-3.7 2.6l1.4 -4.3l-3.7 -2.7l4.6 -0.1z"/><path d="M377.9 269.1l1.5 4.3l4.5 0l-3.6 2.7l1.3 4.4l-3.7 -2.6l-3.7 2.6l1.4 -4.4l-3.7 -2.7l4.6 0z"/><path d="M341.8 298.5l1.5 4.3l4.5 0.1l-3.6 2.7l1.3 4.3l-3.7 -2.6l-3.7 2.6l1.4 -4.3l-3.7 -2.7l4.6 -0.1z"/><path d="M370.3 269l1.5 4.2l4.5 0.1l-3.6 2.7l1.3 4.4l-3.7 -2.6l-3.7 2.6l1.3 -4.4l-3.6 -2.7l4.6 -0.1z"/><path d="M316.6 315l1.5 4.3l4.5 0.1l-3.6 2.7l1.4 4.3l-3.8 -2.6l-3.7 2.6l1.4 -4.3l-3.6 -2.7l4.5 -0.1z"/><path d="M327.7 306.8l1.5 4.2l4.5 0.1l-3.6 2.7l1.3 4.4l-3.7 -2.6l-3.7 2.6l1.3 -4.4l-3.6 -2.7l4.5 -0.1z"/><path d="M448.7 215.9l1.5 4.3l4.5 0l-3.6 2.8l1.3 4.3l-3.7 -2.6l-3.7 2.6l1.3 -4.3l-3.6 -2.8l4.5 0z"/><path d="M350.9 286l1.4 4.3l4.6 0.1l-3.7 2.7l1.4 4.3l-3.7 -2.6l-3.7 2.6l1.3 -4.3l-3.6 -2.7l4.5 -0.1z"/><path d="M290.9 343.5l1.5 4.3l4.5 0.1l-3.6 2.7l1.3 4.3l-3.7 -2.6l-3.7 2.6l1.4 -4.3l-3.7 -2.7l4.6 -0.1z"/><path d="M363.1 282l1.4 4.3l4.5 0l-3.6 2.8l1.4 4.3l-3.7 -2.6l-3.8 2.6l1.4 -4.3l-3.6 -2.8l4.5 0z"/><path d="M342.7 296l1.4 4.3l4.5 0l-3.6 2.7l1.4 4.4l-3.7 -2.6l-3.8 2.6l1.4 -4.4l-3.6 -2.7l4.5 0z"/><path d="M353.1 284.4l1.5 4.3l4.5 0.1l-3.6 2.7l1.3 4.3l-3.7 -2.6l-3.7 2.6l1.3 -4.3l-3.6 -2.7l4.5 -0.1z"/><path d="M470.7 209.9l1.4 4.2l4.6 0.1l-3.7 2.7l1.4 4.4l-3.7 -2.6l-3.7 2.6l1.3 -4.4l-3.6 -2.7l4.5 -0.1z"/><path d="M401.5 253l1.5 4.3l4.5 0.1l-3.6 2.7l1.3 4.3l-3.7 -2.6l-3.7 2.6l1.3 -4.3l-3.6 -2.7l4.6 -0.1z"/><path d="M404.6 251.2l1.5 4.3l4.5 0l-3.6 2.8l1.3 4.3l-3.7 -2.6l-3.7 2.6l1.3 -4.3l-3.6 -2.8l4.5 0z"/><path d="M386.9 264.2l1.5 4.2l4.5 0.1l-3.6 2.7l1.3 4.3l-3.7 -2.5l-3.7 2.5l1.3 -4.3l-3.6 -2.7l4.5 -0.1z"/><path d="M330.4 306.3l1.5 4.3l4.5 0l-3.6 2.8l1.3 4.3l-3.7 -2.6l-3.7 2.6l1.3 -4.3l-3.6 -2.8l4.6 0z"/><path d="M463.3 209.5l1.5 4.3l4.5 0l-3.6 2.8l1.3 4.3l-3.7 -2.6l-3.7 2.6l1.3 -4.3l-3.6 -2.8l4.5 0z"/><path d="M439 218l1.4 4.3l4.5 0l-3.6 2.7l1.4 4.4l-3.7 -2.6l-3.8 2.6l1.4 -4.4l-3.6 -2.7l4.5 0z"/><path d="M392.9 258.4l1.5 4.3l4.5 0.1l-3.6 2.7l1.3 4.3l-3.7 -2.6l-3.7 2.6l1.3 -4.3l-3.6 -2.7l4.5 -0.1z"/><path d="M420.7 237l1.4 4.2l4.6 0.1l-3.6 2.7l1.3 4.4l-3.7 -2.6l-3.7 2.6l1.3 -4.4l-3.6 -2.7l4.5 -0.1z"/><path d="M433.6 254.9l1.5 4.3l4.5 0.1l-3.6 2.7l1.3 4.3l-3.7 -2.6l-3.7 2.6l1.3 -4.3l-3.6 -2.7l4.5 -0.1z"/><path d="M408.9 246.4l1.5 4.3l4.5 0.1l-3.6 2.7l1.3 4.3l-3.7 -2.6l-3.7 2.6l1.3 -4.3l-3.6 -2.7l4.5 -0.1z"/><path d="M477.9 200.9l1.4 4.2l4.6 0.1l-3.7 2.7l1.4 4.4l-3.7 -2.6l-3.7 2.6l1.3 -4.4l-3.6 -2.7l4.5 -0.1z"/><path d="M385.7 270.2l1.4 4.3l4.6 0l-3.7 2.8l1.4 4.3l-3.7 -2.6l-3.7 2.6l1.3 -4.3l-3.6 -2.8l4.5 0z"/><path d="M336.6 302l1.5 4.2l4.5 0.1l-3.6 2.7l1.3 4.4l-3.7 -2.6l-3.7 2.6l1.3 -4.4l-3.6 -2.7l4.6 -0.1z"/><path d="M342.5 292l1.4 4.3l4.5 0.1l-3.6 2.7l1.4 4.3l-3.7 -2.6l-3.7 2.6l1.3 -4.3l-3.6 -2.7l4.5 -0.1z"/><path d="M410 248.6l1.4 4.2l4.5 0.1l-3.6 2.7l1.4 4.4l-3.7 -2.6l-3.7 2.6l1.3 -4.4l-3.6 -2.7l4.5 -0.1z"/><path d="M383.6 270.8l1.5 4.2l4.5 0.1l-3.6 2.7l1.3 4.4l-3.7 -2.6l-3.7 2.6l1.4 -4.4l-3.7 -2.7l4.6 -0.1z"/><path d="M340.3 295.7l1.4 4.3l4.6 0.1l-3.6 2.7l1.3 4.3l-3.7 -2.6l-3.7 2.6l1.3 -4.3l-3.6 -2.7l4.5 -0.1z"/><path d="M396.9 249.5l1.5 4.3l4.5 0.1l-3.6 2.7l1.3 4.3l-3.7 -2.6l-3.7 2.6l1.3 -4.3l-3.6 -2.7l4.5 -0.1z"/><path d="M445.1 220.5l1.4 4.3l4.6 0.1l-3.7 2.7l1.4 4.3l-3.7 -2.6l-3.7 2.6l1.3 -4.3l-3.6 -2.7l4.5 -0.1z"/><path d="M358.8 287.3l1.4 4.3l4.6 0.1l-3.7 2.7l1.4 4.3l-3.7 -2.6l-3.7 2.6l1.3 -4.3l-3.6 -2.7l4.5 -0.1z"/><path d="M335.7 298.8l1.5 4.3l4.5 0l-3.6 2.7l1.3 4.4l-3.7 -2.6l-3.7 2.6l1.3 -4.4l-3.6 -2.7l4.5 0z"/><path d="M449.2 218.9l1.5 4.3l4.5 0.1l-3.6 2.7l1.3 4.3l-3.7 -2.6l-3.7 2.6l1.4 -4.3l-3.7 -2.7l4.6 -0.1z"/><path d="M342.4 309.4l1.5 4.3l4.5 0l-3.6 2.8l1.3 4.3l-3.7 -2.6l-3.7 2.6l1.4 -4.3l-3.6 -2.8l4.5 0z"/><path d="M431 222.9l1.4 4.3l4.6 0.1l-3.7 2.7l1.4 4.3l-3.7 -2.6l-3.7 2.6l1.3 -4.3l-3.6 -2.7l4.5 -0.1z"/><path d="M486.1 191.4l1.5 4.2l4.5 0.1l-3.6 2.7l1.3 4.4l-3.7 -2.6l-3.7 2.6l1.3 -4.4l-3.6 -2.7l4.5 -0.1z"/><path d="M433.9 219.8l1.5 4.2l4.5 0.1l-3.6 2.7l1.3 4.4l-3.7 -2.6l-3.7 2.6l1.4 -4.4l-3.6 -2.7l4.5 -0.1z"/><path d="M299.2 328.1l1.5 4.3l4.5 0l-3.6 2.8l1.3 4.3l-3.7 -2.6l-3.7 2.6l1.3 -4.3l-3.6 -2.8l4.6 0z"/><path d="M322 299.1l1.5 4.3l4.5 0.1l-3.6 2.7l1.3 4.3l-3.7 -2.6l-3.7 2.6l1.3 -4.3l-3.6 -2.7l4.5 -0.1z"/><path d="M434.7 223.2l1.5 4.3l4.5 0l-3.6 2.8l1.3 4.3l-3.7 -2.6l-3.7 2.6l1.3 -4.3l-3.6 -2.8l4.5 0z"/><path d="M491.1 182.9l1.4 4.3l4.6 0l-3.7 2.7l1.4 4.4l-3.7 -2.6l-3.7 2.6l1.3 -4.4l-3.6 -2.7l4.5 0z"/><path d="M346.6 295.6l1.5 4.3l4.5 0.1l-3.6 2.7l1.3 4.3l-3.7 -2.6l-3.7 2.6l1.4 -4.3l-3.6 -2.7l4.5 -0.1z"/><path d="M421.8 229.3l1.4 4.2l4.6 0.1l-3.7 2.7l1.4 4.4l-3.7 -2.6l-3.7 2.6l1.3 -4.4l-3.6 -2.7l4.5 -0.1z"/><path d="M316.3 317l1.5 4.2l4.5 0.1l-3.6 2.7l1.3 4.3l-3.7 -2.5l-3.7 2.5l1.3 -4.3l-3.6 -2.7l4.5 -0.1z"/><path d="M359.7 278.6l1.4 4.3l4.5 0.1l-3.6 2.7l1.4 4.3l-3.7 -2.6l-3.8 2.6l1.4 -4.3l-3.6 -2.7l4.5 -0.1z"/><path d="M369.7 266.8l1.5 4.3l4.5 0.1l-3.6 2.7l1.3 4.3l-3.7 -2.6l-3.7 2.6l1.3 -4.3l-3.6 -2.7l4.5 -0.1z"/><path d="M309.3 327.8l1.5 4.3l4.5 0l-3.6 2.7l1.3 4.4l-3.7 -2.6l-3.7 2.6l1.4 -4.4l-3.7 -2.7l4.6 0z"/><path d="M446.9 223.8l1.4 4.3l4.6 0.1l-3.7 2.7l1.4 4.3l-3.7 -2.6l-3.7 2.6l1.3 -4.3l-3.6 -2.7l4.5 -0.1z"/><path d="M433.7 224.3l1.4 4.3l4.6 0.1l-3.6 2.7l1.3 4.3l-3.7 -2.6l-3.7 2.6l1.3 -4.3l-3.6 -2.7l4.5 -0.1z"/><path d="M413.9 241.7l1.4 4.3l4.5 0.1l-3.6 2.7l1.4 4.3l-3.7 -2.6l-3.7 2.6l1.3 -4.3l-3.6 -2.7l4.5 -0.1z"/><path d="M357.2 296.8l1.4 4.3l4.6 0.1l-3.7 2.7l1.4 4.3l-3.7 -2.6l-3.7 2.6l1.3 -4.3l-3.6 -2.7l4.5 -0.1z"/><path d="M437.6 229.3l1.4 4.2l4.6 0.1l-3.7 2.7l1.4 4.3l-3.7 -2.5l-3.7 2.5l1.3 -4.3l-3.6 -2.7l4.5 -0.1z"/><path d="M463.1 204.3l1.5 4.2l4.5 0.1l-3.6 2.7l1.3 4.4l-3.7 -2.6l-3.7 2.6l1.3 -4.4l-3.6 -2.7l4.5 -0.1z"/><path d="M365.3 279l1.5 4.3l4.5 0l-3.6 2.8l1.3 4.3l-3.7 -2.6l-3.7 2.6l1.3 -4.3l-3.6 -2.8l4.5 0z"/><path d="M410.7 236.6l1.5 4.3l4.5 0.1l-3.6 2.7l1.3 4.3l-3.7 -2.6l-3.7 2.6l1.3 -4.3l-3.6 -2.7l4.5 -0.1z"/><path d="M491.6 185.9l1.5 4.2l4.5 0.1l-3.6 2.7l1.3 4.4l-3.7 -2.6l-3.7 2.6l1.3 -4.4l-3.6 -2.7l4.5 -0.1z"/><path d="M437.1 218.7l1.4 4.3l4.6 0.1l-3.7 2.7l1.4 4.3l-3.7 -2.6l-3.7 2.6l1.3 -4.3l-3.6 -2.7l4.5 -0.1z"/><path d="M291 332.9l1.5 4.3l4.5 0l-3.6 2.8l1.3 4.3l-3.7 -2.6l-3.7 2.6l1.4 -4.3l-3.6 -2.8l4.5 0z"/><path d="M414 240.6l1.4 4.2l4.6 0.1l-3.6 2.7l1.3 4.4l-3.7 -2.6l-3.7 2.6l1.3 -4.4l-3.6 -2.7l4.5 -0.1z"/><path d="M347.3 298l1.5 4.3l4.5 0.1l-3.6 2.7l1.3 4.3l-3.7 -2.6l-3.7 2.6l1.3 -4.3l-3.6 -2.7l4.5 -0.1z"/><path d="M390.7 259.2l1.5 4.3l4.5 0.1l-3.6 2.7l1.3 4.3l-3.7 -2.6l-3.7 2.6l1.3 -4.3l-3.6 -2.7l4.5 -0.1z"/><path d="M414.2 234.7l1.5 4.3l4.5 0l-3.6 2.7l1.4 4.4l-3.8 -2.6l-3.7 2.6l1.4 -4.4l-3.6 -2.7l4.5 0z"/><path d="M374.7 270.1l1.4 4.2l4.6 0.1l-3.7 2.7l1.4 4.4l-3.7 -2.6l-3.7 2.6l1.3 -4.4l-3.6 -2.7l4.5 -0.1z"/><path d="M461.1 211.7l1.4 4.3l4.6 0l-3.6 2.8l1.3 4.3l-3.7 -2.6l-3.7 2.6l1.3 -4.3l-3.6 -2.8l4.5 0z"/><path d="M306.9 320.9l1.5 4.3l4.5 0.1l-3.6 2.7l1.3 4.3l-3.7 -2.6l-3.7 2.6l1.4 -4.3l-3.6 -2.7l4.5 -0.1z"/><path d="M338.3 297.3l1.5 4.3l4.5 0.1l-3.6 2.7l1.3 4.3l-3.7 -2.6l-3.7 2.6l1.4 -4.3l-3.7 -2.7l4.6 -0.1z"/><path d="M319 306.9l1.5 4.3l4.5 0l-3.6 2.8l1.3 4.3l-3.7 -2.6l-3.7 2.6l1.3 -4.3l-3.6 -2.8l4.5 0z"/><path d="M350 287.3l1.5 4.3l4.5 0l-3.6 2.8l1.3 4.3l-3.7 -2.6l-3.7 2.6l1.3 -4.3l-3.6 -2.8l4.5 0z"/><path d="M426.7 238.5l1.5 4.3l4.5 0l-3.6 2.8l1.3 4.3l-3.7 -2.6l-3.7 2.6l1.3 -4.3l-3.6 -2.8l4.5 0z"/><path d="M476.3 209.8l1.5 4.3l4.5 0l-3.6 2.8l1.3 4.3l-3.7 -2.6l-3.7 2.6l1.3 -4.3l-3.6 -2.8l4.5 0z"/><path d="M469.1 193.9l1.5 4.2l4.5 0.1l-3.6 2.7l1.3 4.4l-3.7 -2.6l-3.7 2.6l1.3 -4.4l-3.6 -2.7l4.5 -0.1z"/><path d="M481.2 222.1l1.5 4.3l4.5 0.1l-3.6 2.7l1.3 4.3l-3.7 -2.6l-3.7 2.6l1.3 -4.3l-3.6 -2.7l4.5 -0.1z"/><path d="M377.6 277.8l1.4 4.3l4.5 0.1l-3.6 2.7l1.4 4.3l-3.7 -2.6l-3.8 2.6l1.4 -4.3l-3.6 -2.7l4.5 -0.1z"/><path d="M402.3 248.8l1.5 4.2l4.5 0.1l-3.6 2.7l1.3 4.4l-3.7 -2.6l-3.7 2.6l1.3 -4.4l-3.6 -2.7l4.5 -0.1z"/><path d="M461.1 202.8l1.4 4.3l4.6 0l-3.7 2.7l1.4 4.4l-3.7 -2.6l-3.7 2.6l1.3 -4.4l-3.6 -2.7l4.5 0z"/><path d="M487.4 186.9l1.5 4.2l4.5 0.1l-3.6 2.7l1.3 4.3l-3.7 -2.5l-3.7 2.5l1.3 -4.3l-3.6 -2.7l4.5 -0.1z"/><path d="M359.7 287.6l1.5 4.2l4.5 0.1l-3.6 2.7l1.3 4.4l-3.7 -2.6l-3.7 2.6l1.3 -4.4l-3.6 -2.7l4.5 -0.1z"/><path d="M400.5 246.3l1.5 4.3l4.5 0.1l-3.6 2.7l1.3 4.3l-3.7 -2.6l-3.7 2.6l1.3 -4.3l-3.6 -2.7l4.5 -0.1z"/><path d="M478.7 195.4l1.5 4.2l4.5 0.1l-3.6 2.7l1.3 4.4l-3.7 -2.6l-3.7 2.6l1.3 -4.4l-3.6 -2.7l4.5 -0.1z"/><path d="M459.7 208.9l1.5 4.3l4.5 0.1l-3.6 2.7l1.3 4.3l-3.7 -2.6l-3.7 2.6l1.4 -4.3l-3.7 -2.7l4.6 -0.1z"/><path d="M468 201.3l1.5 4.2l4.5 0.1l-3.6 2.7l1.3 4.4l-3.7 -2.6l-3.7 2.6l1.3 -4.4l-3.6 -2.7l4.5 -0.1z"/><path d="M485.4 196.9l1.5 4.3l4.5 0l-3.6 2.8l1.3 4.3l-3.7 -2.6l-3.7 2.6l1.4 -4.3l-3.7 -2.8l4.6 0z"/><path d="M411.7 238.3l1.5 4.3l4.5 0.1l-3.6 2.7l1.3 4.3l-3.7 -2.6l-3.7 2.6l1.3 -4.3l-3.6 -2.7l4.5 -0.1z"/><path d="M470.1 206.5l1.4 4.3l4.6 0l-3.7 2.8l1.4 4.3l-3.7 -2.6l-3.7 2.6l1.3 -4.3l-3.6 -2.8l4.5 0z"/><path d="M443.5 245.9l1.4 4.3l4.6 0.1l-3.7 2.7l1.4 4.3l-3.7 -2.6l-3.7 2.6l1.3 -4.3l-3.6 -2.7l4.5 -0.1z"/><path d="M399.9 256.1l1.4 4.3l4.6 0.1l-3.7 2.7l1.4 4.3l-3.7 -2.6l-3.7 2.6l1.3 -4.3l-3.6 -2.7l4.5 -0.1z"/><path d="M293.2 332.3l1.5 4.3l4.5 0.1l-3.6 2.7l1.3 4.3l-3.7 -2.6l-3.7 2.6l1.3 -4.3l-3.6 -2.7l4.5 -0.1z"/><path d="M390.9 262.4l1.5 4.3l4.5 0l-3.6 2.7l1.3 4.4l-3.7 -2.6l-3.7 2.6l1.4 -4.4l-3.6 -2.7l4.5 0z"/><path d="M457.5 202.8l1.4 4.3l4.5 0.1l-3.6 2.7l1.4 4.3l-3.7 -2.6l-3.8 2.6l1.4 -4.3l-3.6 -2.7l4.5 -0.1z"/><path d="M370.3 272.6l1.4 4.3l4.6 0.1l-3.7 2.7l1.4 4.3l-3.7 -2.6l-3.7 2.6l1.3 -4.3l-3.6 -2.7l4.5 -0.1z"/><path d="M370.9 275l1.5 4.3l4.5 0.1l-3.6 2.7l1.3 4.3l-3.7 -2.6l-3.7 2.6l1.4 -4.3l-3.6 -2.7l4.5 -0.1z"/><path d="M385.3 266.4l1.5 4.3l4.5 0.1l-3.6 2.7l1.3 4.3l-3.7 -2.6l-3.7 2.6l1.3 -4.3l-3.6 -2.7l4.5 -0.1z"/><path d="M463.1 208l1.5 4.3l4.5 0.1l-3.6 2.7l1.3 4.3l-3.7 -2.6l-3.7 2.6l1.3 -4.3l-3.6 -2.7l4.5 -0.1z"/><path d="M296.3 337.6l1.5 4.3l4.5 0.1l-3.6 2.7l1.3 4.3l-3.7 -2.6l-3.7 2.6l1.3 -4.3l-3.6 -2.7l4.5 -0.1z"/><path d="M346.6 293.1l1.5 4.2l4.5 0.1l-3.6 2.7l1.3 4.4l-3.7 -2.6l-3.7 2.6l1.4 -4.4l-3.7 -2.7l4.6 -0.1z"/><path d="M465.1 214.2l1.5 4.3l4.5 0.1l-3.6 2.7l1.3 4.3l-3.7 -2.6l-3.7 2.6l1.4 -4.3l-3.7 -2.7l4.6 -0.1z"/><path d="M422.2 222.6l1.4 4.3l4.5 0.1l-3.6 2.7l1.4 4.3l-3.7 -2.6l-3.7 2.6l1.3 -4.3l-3.6 -2.7l4.5 -0.1z"/><path d="M328.4 308.5l1.4 4.3l4.5 0.1l-3.6 2.7l1.4 4.3l-3.7 -2.6l-3.8 2.6l1.4 -4.3l-3.6 -2.7l4.5 -0.1z"/><path d="M289.8 337.4l1.5 4.3l4.5 0l-3.6 2.8l1.3 4.3l-3.7 -2.6l-3.7 2.6l1.3 -4.3l-3.6 -2.8l4.5 0z"/><path d="M321.4 307.7l1.5 4.3l4.5 0.1l-3.6 2.7l1.3 4.3l-3.7 -2.6l-3.7 2.6l1.3 -4.3l-3.6 -2.7l4.5 -0.1z"/><path d="M422.7 234l1.4 4.3l4.5 0.1l-3.6 2.7l1.4 4.3l-3.7 -2.6l-3.8 2.6l1.4 -4.3l-3.6 -2.7l4.5 -0.1z"/><path d="M297.1 327.1l1.5 4.3l4.5 0.1l-3.6 2.7l1.3 4.3l-3.7 -2.6l-3.7 2.6l1.4 -4.3l-3.6 -2.7l4.5 -0.1z"/><path d="M373.8 272.5l1.5 4.3l4.5 0.1l-3.6 2.7l1.3 4.3l-3.7 -2.6l-3.7 2.6l1.4 -4.3l-3.7 -2.7l4.6 -0.1z"/><path d="M492.8 188.7l1.5 4.2l4.5 0.1l-3.6 2.7l1.3 4.4l-3.7 -2.6l-3.7 2.6l1.3 -4.4l-3.6 -2.7l4.6 -0.1z"/><path d="M418.9 239.7l1.5 4.3l4.5 0.1l-3.6 2.7l1.3 4.3l-3.7 -2.6l-3.7 2.6l1.3 -4.3l-3.6 -2.7l4.5 -0.1z"/><path d="M494.8 196.8l1.4 4.3l4.6 0.1l-3.6 2.7l1.3 4.3l-3.7 -2.6l-3.7 2.6l1.3 -4.3l-3.6 -2.7l4.5 -0.1z"/><path d="M426.8 229.4l1.4 4.2l4.6 0.1l-3.6 2.7l1.3 4.4l-3.7 -2.6l-3.7 2.6l1.3 -4.4l-3.6 -2.7l4.5 -0.1z"/><path d="M397.5 252.9l1.5 4.3l4.5 0.1l-3.6 2.7l1.4 4.3l-3.8 -2.6l-3.7 2.6l1.4 -4.3l-3.6 -2.7l4.5 -0.1z"/><path d="M367.6 289.6l1.4 4.2l4.6 0.1l-3.7 2.7l1.4 4.4l-3.7 -2.6l-3.7 2.6l1.3 -4.4l-3.6 -2.7l4.5 -0.1z"/><path d="M494.4 190.4l1.5 4.3l4.5 0l-3.6 2.8l1.3 4.3l-3.7 -2.6l-3.7 2.6l1.3 -4.3l-3.6 -2.8l4.5 0z"/><path d="M413.4 242.5l1.5 4.3l4.5 0.1l-3.6 2.7l1.3 4.3l-3.7 -2.6l-3.7 2.6l1.4 -4.3l-3.7 -2.7l4.6 -0.1z"/><path d="M485.6 189.1l1.4 4.2l4.6 0.1l-3.7 2.7l1.4 4.4l-3.7 -2.6l-3.7 2.6l1.3 -4.4l-3.6 -2.7l4.5 -0.1z"/><path d="M407.6 250l1.5 4.2l4.5 0.1l-3.6 2.7l1.3 4.4l-3.7 -2.6l-3.7 2.6l1.3 -4.4l-3.6 -2.7l4.5 -0.1z"/><path d="M298 329.5l1.5 4.3l4.5 0.1l-3.6 2.7l1.3 4.3l-3.7 -2.6l-3.7 2.6l1.3 -4.3l-3.6 -2.7l4.5 -0.1z"/><path d="M331.3 296.3l1.4 4.3l4.5 0.1l-3.6 2.7l1.4 4.3l-3.7 -2.6l-3.8 2.6l1.4 -4.3l-3.6 -2.7l4.5 -0.1z"/><path d="M325.6 331.1l1.5 4.3l4.5 0.1l-3.6 2.7l1.3 4.3l-3.7 -2.6l-3.7 2.6l1.3 -4.3l-3.6 -2.7l4.5 -0.1z"/><path d="M323.6 308.7l1.4 4.3l4.6 0.1l-3.6 2.7l1.3 4.3l-3.7 -2.6l-3.7 2.6l1.3 -4.3l-3.6 -2.7l4.5 -0.1z"/><path d="M357.6 281.9l1.5 4.3l4.5 0l-3.6 2.7l1.3 4.4l-3.7 -2.6l-3.7 2.6l1.4 -4.4l-3.7 -2.7l4.6 0z"/><path d="M388.7 258.3l1.5 4.3l4.5 0.1l-3.6 2.7l1.3 4.3l-3.7 -2.6l-3.7 2.6l1.3 -4.3l-3.6 -2.7l4.5 -0.1z"/><path d="M342.8 294l1.5 4.3l4.5 0.1l-3.6 2.7l1.3 4.3l-3.7 -2.6l-3.7 2.6l1.4 -4.3l-3.7 -2.7l4.6 -0.1z"/><path d="M404.3 248.3l1.5 4.2l4.5 0.1l-3.6 2.7l1.3 4.4l-3.7 -2.6l-3.7 2.6l1.4 -4.4l-3.6 -2.7l4.5 -0.1z"/><path d="M392.5 258l1.5 4.3l4.5 0.1l-3.6 2.7l1.3 4.3l-3.7 -2.6l-3.7 2.6l1.4 -4.3l-3.7 -2.7l4.6 -0.1z"/><path d="M350.2 285.9l1.4 4.3l4.6 0.1l-3.7 2.7l1.4 4.3l-3.7 -2.6l-3.7 2.6l1.3 -4.3l-3.6 -2.7l4.5 -0.1z"/><path d="M434.3 221.8l1.4 4.3l4.5 0.1l-3.6 2.7l1.4 4.3l-3.7 -2.6l-3.7 2.6l1.3 -4.3l-3.6 -2.7l4.5 -0.1z"/><path d="M337.1 301.7l1.4 4.3l4.6 0.1l-3.7 2.7l1.4 4.3l-3.7 -2.6l-3.7 2.6l1.3 -4.3l-3.6 -2.7l4.5 -0.1z"/><path d="M466.3 197.4l1.5 4.3l4.5 0.1l-3.6 2.7l1.3 4.3l-3.7 -2.6l-3.7 2.6l1.3 -4.3l-3.6 -2.7l4.6 -0.1z"/><path d="M442.4 216.7l1.4 4.3l4.6 0.1l-3.7 2.7l1.4 4.3l-3.7 -2.6l-3.7 2.6l1.3 -4.3l-3.6 -2.7l4.5 -0.1z"/><path d="M445.8 225.5l1.5 4.3l4.5 0l-3.6 2.8l1.3 4.3l-3.7 -2.6l-3.7 2.6l1.4 -4.3l-3.7 -2.8l4.6 0z"/><path d="M349.1 290.4l1.5 4.2l4.5 0.1l-3.6 2.7l1.3 4.4l-3.7 -2.6l-3.7 2.6l1.3 -4.4l-3.6 -2.7l4.5 -0.1z"/><path d="M368.4 290l1.4 4.3l4.5 0.1l-3.6 2.7l1.4 4.3l-3.7 -2.6l-3.7 2.6l1.3 -4.3l-3.6 -2.7l4.5 -0.1z"/><path d="M395.3 253.5l1.5 4.3l4.5 0.1l-3.6 2.7l1.4 4.3l-3.8 -2.6l-3.7 2.6l1.4 -4.3l-3.6 -2.7l4.5 -0.1z"/><path d="M393.7 255.4l1.5 4.3l4.5 0l-3.6 2.8l1.3 4.3l-3.7 -2.6l-3.7 2.6l1.3 -4.3l-3.6 -2.8l4.6 0z"/><path d="M389.7 257.9l1.5 4.3l4.5 0l-3.6 2.8l1.3 4.3l-3.7 -2.6l-3.7 2.6l1.3 -4.3l-3.6 -2.8l4.5 0z"/><path d="M336.3 297.1l1.4 4.3l4.6 0.1l-3.6 2.7l1.3 4.3l-3.7 -2.6l-3.7 2.6l1.3 -4.3l-3.6 -2.7l4.5 -0.1z"/><path d="M445.4 215.8l1.4 4.3l4.6 0.1l-3.7 2.7l1.4 4.3l-3.7 -2.6l-3.7 2.6l1.3 -4.3l-3.6 -2.7l4.5 -0.1z"/><path d="M412.5 277.2l1.5 4.3l4.5 0.1l-3.6 2.7l1.3 4.3l-3.7 -2.6l-3.7 2.6l1.3 -4.3l-3.6 -2.7l4.5 -0.1z"/><path d="M366 276l1.5 4.3l4.5 0l-3.6 2.8l1.3 4.3l-3.7 -2.6l-3.7 2.6l1.3 -4.3l-3.6 -2.8l4.6 0z"/><path d="M455.3 210.9l1.5 4.3l4.5 0l-3.6 2.8l1.3 4.3l-3.7 -2.6l-3.7 2.6l1.3 -4.3l-3.6 -2.8l4.5 0z"/><path d="M464.3 212.3l1.5 4.2l4.5 0.1l-3.6 2.7l1.3 4.4l-3.7 -2.6l-3.7 2.6l1.3 -4.4l-3.6 -2.7l4.5 -0.1z"/><path d="M364.4 282.3l1.5 4.3l4.5 0.1l-3.6 2.7l1.3 4.3l-3.7 -2.6l-3.7 2.6l1.4 -4.3l-3.7 -2.7l4.6 -0.1z"/><path d="M347.3 286.5l1.5 4.3l4.5 0.1l-3.6 2.7l1.3 4.3l-3.7 -2.6l-3.7 2.6l1.4 -4.3l-3.7 -2.7l4.6 -0.1z"/><path d="M369 279.5l1.4 4.3l4.5 0.1l-3.6 2.7l1.4 4.3l-3.7 -2.6l-3.7 2.6l1.3 -4.3l-3.6 -2.7l4.5 -0.1z"/><path d="M502.6 181.7l1.5 4.3l4.5 0l-3.6 2.8l1.3 4.3l-3.7 -2.6l-3.7 2.6l1.3 -4.3l-3.6 -2.8l4.5 0z"/><path d="M413 240.7l1.5 4.3l4.5 0.1l-3.6 2.7l1.3 4.3l-3.7 -2.6l-3.7 2.6l1.3 -4.3l-3.6 -2.7l4.5 -0.1z"/><path d="M401.6 259.7l1.5 4.3l4.5 0.1l-3.6 2.7l1.3 4.3l-3.7 -2.6l-3.7 2.6l1.3 -4.3l-3.6 -2.7l4.6 -0.1z"/><path d="M497.2 192l1.5 4.3l4.5 0.1l-3.6 2.7l1.3 4.3l-3.7 -2.6l-3.7 2.6l1.3 -4.3l-3.6 -2.7l4.6 -0.1z"/><path d="M432.8 238.3l1.5 4.3l4.5 0l-3.6 2.8l1.3 4.3l-3.7 -2.6l-3.7 2.6l1.3 -4.3l-3.6 -2.8l4.5 0z"/><path d="M490.1 191.4l1.5 4.2l4.5 0.1l-3.6 2.7l1.3 4.3l-3.7 -2.5l-3.7 2.5l1.4 -4.3l-3.7 -2.7l4.6 -0.1z"/><path d="M374.3 272.1l1.4 4.3l4.6 0.1l-3.6 2.7l1.3 4.3l-3.7 -2.6l-3.7 2.6l1.3 -4.3l-3.6 -2.7l4.5 -0.1z"/><path d="M372 275.8l1.5 4.3l4.5 0.1l-3.6 2.7l1.3 4.3l-3.7 -2.6l-3.7 2.6l1.3 -4.3l-3.6 -2.7l4.5 -0.1z"/><path d="M480.7 192.5l1.5 4.3l4.5 0.1l-3.6 2.7l1.4 4.3l-3.8 -2.6l-3.7 2.6l1.4 -4.3l-3.6 -2.7l4.5 -0.1z"/><path d="M461.4 216.4l1.5 4.3l4.5 0.1l-3.6 2.7l1.3 4.3l-3.7 -2.6l-3.7 2.6l1.3 -4.3l-3.6 -2.7l4.5 -0.1z"/><path d="M293.1 331.5l1.5 4.3l4.5 0.1l-3.6 2.7l1.3 4.3l-3.7 -2.6l-3.7 2.6l1.3 -4.3l-3.6 -2.7l4.5 -0.1z"/><path d="M486 189.7l1.5 4.3l4.5 0.1l-3.6 2.7l1.3 4.3l-3.7 -2.6l-3.7 2.6l1.3 -4.3l-3.6 -2.7l4.5 -0.1z"/><path d="M492.2 183.8l1.5 4.3l4.5 0l-3.6 2.8l1.3 4.3l-3.7 -2.6l-3.7 2.6l1.3 -4.3l-3.6 -2.8l4.6 0z"/><path d="M491.5 185l1.5 4.2l4.5 0.1l-3.6 2.7l1.3 4.4l-3.7 -2.6l-3.7 2.6l1.4 -4.4l-3.6 -2.7l4.5 -0.1z"/><path d="M370.5 278.2l1.5 4.3l4.5 0.1l-3.6 2.7l1.3 4.3l-3.7 -2.6l-3.7 2.6l1.4 -4.3l-3.6 -2.7l4.5 -0.1z"/><path d="M447.5 219.7l1.5 4.3l4.5 0.1l-3.6 2.7l1.3 4.3l-3.7 -2.6l-3.7 2.6l1.4 -4.3l-3.6 -2.7l4.5 -0.1z"/><path d="M331.6 297.9l1.4 4.3l4.6 0l-3.6 2.7l1.3 4.4l-3.7 -2.6l-3.7 2.6l1.3 -4.4l-3.6 -2.7l4.5 0z"/><path d="M366.1 273.1l1.5 4.3l4.5 0.1l-3.6 2.7l1.3 4.3l-3.7 -2.6l-3.7 2.6l1.4 -4.3l-3.6 -2.7l4.5 -0.1z"/><path d="M471.2 216.1l1.5 4.3l4.5 0l-3.6 2.8l1.3 4.3l-3.7 -2.6l-3.7 2.6l1.3 -4.3l-3.6 -2.8l4.5 0z"/><path d="M328.8 305.5l1.5 4.3l4.5 0.1l-3.6 2.7l1.3 4.3l-3.7 -2.6l-3.7 2.6l1.3 -4.3l-3.6 -2.7l4.6 -0.1z"/><path d="M460.6 210.6l1.5 4.2l4.5 0.1l-3.6 2.7l1.3 4.4l-3.7 -2.6l-3.7 2.6l1.3 -4.4l-3.6 -2.7l4.5 -0.1z"/><path d="M485.4 183.8l1.5 4.3l4.5 0.1l-3.6 2.7l1.3 4.3l-3.7 -2.6l-3.7 2.6l1.3 -4.3l-3.6 -2.7l4.5 -0.1z"/><path d="M425.4 229.4l1.5 4.3l4.5 0l-3.6 2.8l1.3 4.3l-3.7 -2.6l-3.7 2.6l1.3 -4.3l-3.6 -2.8l4.6 0z"/><path d="M444.8 226l1.4 4.3l4.6 0.1l-3.7 2.7l1.4 4.3l-3.7 -2.6l-3.7 2.6l1.3 -4.3l-3.6 -2.7l4.5 -0.1z"/><path d="M404.7 250.5l1.5 4.3l4.5 0.1l-3.6 2.7l1.3 4.3l-3.7 -2.6l-3.7 2.6l1.3 -4.3l-3.6 -2.7l4.6 -0.1z"/><path d="M391.9 255.9l1.4 4.3l4.6 0l-3.7 2.8l1.4 4.3l-3.7 -2.6l-3.7 2.6l1.3 -4.3l-3.6 -2.8l4.5 0z"/><path d="M398.6 254.3l1.5 4.3l4.5 0.1l-3.6 2.7l1.3 4.3l-3.7 -2.6l-3.7 2.6l1.3 -4.3l-3.6 -2.7l4.5 -0.1z"/><path d="M471.4 201.2l1.5 4.3l4.5 0.1l-3.6 2.7l1.3 4.3l-3.7 -2.6l-3.7 2.6l1.4 -4.3l-3.6 -2.7l4.5 -0.1z"/><path d="M502.3 175.7l1.5 4.2l4.5 0.1l-3.6 2.7l1.3 4.4l-3.7 -2.6l-3.7 2.6l1.4 -4.4l-3.7 -2.7l4.6 -0.1z"/><path d="M465 205.6l1.4 4.2l4.6 0.1l-3.7 2.7l1.4 4.4l-3.7 -2.6l-3.7 2.6l1.3 -4.4l-3.6 -2.7l4.5 -0.1z"/><path d="M400.1 288.4l1.5 4.3l4.5 0.1l-3.6 2.7l1.3 4.3l-3.7 -2.6l-3.7 2.6l1.3 -4.3l-3.6 -2.7l4.5 -0.1z"/><path d="M490.6 186l1.5 4.3l4.5 0.1l-3.6 2.7l1.3 4.3l-3.7 -2.6l-3.7 2.6l1.3 -4.3l-3.6 -2.7l4.5 -0.1z"/><path d="M480.3 188l1.4 4.2l4.5 0.1l-3.6 2.7l1.4 4.3l-3.7 -2.5l-3.7 2.5l1.3 -4.3l-3.6 -2.7l4.5 -0.1z"/><path d="M500.9 186.5l1.5 4.3l4.5 0l-3.6 2.8l1.3 4.3l-3.7 -2.6l-3.7 2.6l1.4 -4.3l-3.6 -2.8l4.5 0z"/><path d="M329.8 307.4l1.5 4.3l4.5 0l-3.6 2.8l1.3 4.3l-3.7 -2.6l-3.7 2.6l1.3 -4.3l-3.6 -2.8l4.6 0z"/><path d="M355.4 289.9l1.4 4.3l4.6 0.1l-3.7 2.7l1.4 4.3l-3.7 -2.6l-3.7 2.6l1.3 -4.3l-3.6 -2.7l4.5 -0.1z"/><path d="M404.3 267.8l1.4 4.3l4.6 0.1l-3.7 2.7l1.4 4.3l-3.7 -2.6l-3.7 2.6l1.3 -4.3l-3.6 -2.7l4.5 -0.1z"/><path d="M460 212.4l1.5 4.3l4.5 0.1l-3.6 2.7l1.3 4.3l-3.7 -2.6l-3.7 2.6l1.4 -4.3l-3.6 -2.7l4.5 -0.1z"/><path d="M425.4 227.1l1.4 4.3l4.6 0.1l-3.6 2.7l1.3 4.3l-3.7 -2.6l-3.7 2.6l1.3 -4.3l-3.6 -2.7l4.5 -0.1z"/><path d="M359.9 279.9l1.4 4.3l4.6 0.1l-3.7 2.7l1.4 4.3l-3.7 -2.6l-3.7 2.6l1.3 -4.3l-3.6 -2.7l4.5 -0.1z"/><path d="M466 201.5l1.5 4.3l4.5 0.1l-3.6 2.7l1.3 4.3l-3.7 -2.6l-3.7 2.6l1.3 -4.3l-3.6 -2.7l4.5 -0.1z"/><path d="M359.1 279.4l1.5 4.3l4.5 0.1l-3.6 2.7l1.3 4.3l-3.7 -2.6l-3.7 2.6l1.3 -4.3l-3.6 -2.7l4.5 -0.1z"/><path d="M326.3 306.9l1.5 4.3l4.5 0.1l-3.6 2.7l1.3 4.3l-3.7 -2.6l-3.7 2.6l1.3 -4.3l-3.6 -2.7l4.5 -0.1z"/><path d="M476 209.7l1.5 4.3l4.5 0.1l-3.6 2.7l1.3 4.3l-3.7 -2.6l-3.7 2.6l1.3 -4.3l-3.6 -2.7l4.5 -0.1z"/><path d="M309.4 317.5l1.5 4.2l4.5 0.1l-3.6 2.7l1.3 4.4l-3.7 -2.6l-3.7 2.6l1.3 -4.4l-3.6 -2.7l4.5 -0.1z"/><path d="M379.6 273.5l1.5 4.3l4.5 0.1l-3.6 2.7l1.3 4.3l-3.7 -2.6l-3.7 2.6l1.3 -4.3l-3.6 -2.7l4.5 -0.1z"/><path d="M412.2 259.2l1.5 4.3l4.5 0.1l-3.6 2.7l1.3 4.3l-3.7 -2.6l-3.7 2.6l1.3 -4.3l-3.6 -2.7l4.5 -0.1z"/><path d="M326.4 312.2l1.5 4.3l4.5 0.1l-3.6 2.7l1.3 4.3l-3.7 -2.6l-3.7 2.6l1.4 -4.3l-3.7 -2.7l4.6 -0.1z"/><path d="M421.2 231.9l1.4 4.2l4.6 0.1l-3.7 2.7l1.4 4.4l-3.7 -2.6l-3.7 2.6l1.3 -4.4l-3.6 -2.7l4.5 -0.1z"/><path d="M371.1 262.5l1.5 4.3l4.5 0.1l-3.6 2.7l1.3 4.3l-3.7 -2.6l-3.7 2.6l1.4 -4.3l-3.7 -2.7l4.6 -0.1z"/><path d="M451.1 253.3l1.5 4.2l4.5 0.1l-3.6 2.7l1.3 4.3l-3.7 -2.5l-3.7 2.5l1.3 -4.3l-3.6 -2.7l4.5 -0.1z"/><path d="M453 208.9l1.5 4.3l4.5 0l-3.6 2.8l1.3 4.3l-3.7 -2.6l-3.7 2.6l1.4 -4.3l-3.7 -2.8l4.6 0z"/><path d="M390.1 255.4l1.4 4.3l4.6 0.1l-3.6 2.7l1.3 4.3l-3.7 -2.6l-3.7 2.6l1.3 -4.3l-3.6 -2.7l4.5 -0.1z"/><path d="M385.6 265.7l1.4 4.3l4.6 0.1l-3.6 2.7l1.3 4.3l-3.7 -2.6l-3.7 2.6l1.3 -4.3l-3.6 -2.7l4.5 -0.1z"/><path d="M354.5 290.4l1.5 4.3l4.5 0.1l-3.6 2.7l1.3 4.3l-3.7 -2.6l-3.7 2.6l1.3 -4.3l-3.6 -2.7l4.5 -0.1z"/><path d="M503 183l1.5 4.3l4.5 0.1l-3.6 2.7l1.3 4.3l-3.7 -2.6l-3.7 2.6l1.3 -4.3l-3.6 -2.7l4.5 -0.1z"/><path d="M316.5 311.4l1.5 4.3l4.5 0.1l-3.6 2.7l1.3 4.3l-3.7 -2.6l-3.7 2.6l1.4 -4.3l-3.7 -2.7l4.6 -0.1z"/><path d="M435.3 253.5l1.5 4.3l4.5 0.1l-3.6 2.7l1.3 4.3l-3.7 -2.6l-3.7 2.6l1.3 -4.3l-3.6 -2.7l4.5 -0.1z"/><path d="M445.1 212.7l1.5 4.3l4.5 0l-3.6 2.7l1.3 4.4l-3.7 -2.6l-3.7 2.6l1.3 -4.4l-3.6 -2.7l4.5 0z"/><path d="M408.8 256.1l1.4 4.2l4.5 0.1l-3.6 2.7l1.4 4.4l-3.7 -2.6l-3.8 2.6l1.4 -4.4l-3.6 -2.7l4.5 -0.1z"/><path d="M477.8 201.6l1.4 4.3l4.5 0l-3.6 2.7l1.4 4.4l-3.7 -2.6l-3.8 2.6l1.4 -4.4l-3.6 -2.7l4.5 0z"/><path d="M502.3 185.5l1.5 4.2l4.5 0.1l-3.6 2.7l1.3 4.3l-3.7 -2.5l-3.7 2.5l1.3 -4.3l-3.6 -2.7l4.5 -0.1z"/><path d="M335.3 329l1.4 4.3l4.6 0.1l-3.7 2.7l1.4 4.3l-3.7 -2.6l-3.7 2.6l1.3 -4.3l-3.6 -2.7l4.5 -0.1z"/><path d="M417.3 233.7l1.5 4.3l4.5 0.1l-3.6 2.7l1.3 4.3l-3.7 -2.6l-3.7 2.6l1.3 -4.3l-3.6 -2.7l4.5 -0.1z"/><path d="M373.9 280.8l1.5 4.3l4.5 0.1l-3.6 2.7l1.3 4.3l-3.7 -2.6l-3.7 2.6l1.4 -4.3l-3.6 -2.7l4.5 -0.1z"/><path d="M301.1 327.8l1.5 4.3l4.5 0.1l-3.6 2.7l1.3 4.3l-3.7 -2.6l-3.7 2.6l1.3 -4.3l-3.6 -2.7l4.6 -0.1z"/><path d="M340.9 299l1.5 4.3l4.5 0l-3.6 2.8l1.3 4.3l-3.7 -2.6l-3.7 2.6l1.4 -4.3l-3.7 -2.8l4.6 0z"/><path d="M315.5 321.4l1.5 4.3l4.5 0l-3.6 2.8l1.3 4.3l-3.7 -2.6l-3.7 2.6l1.4 -4.3l-3.7 -2.8l4.6 0z"/><path d="M420.9 239.8l1.5 4.2l4.5 0.1l-3.6 2.7l1.3 4.4l-3.7 -2.6l-3.7 2.6l1.3 -4.4l-3.6 -2.7l4.5 -0.1z"/><path d="M370 276.9l1.4 4.2l4.6 0.1l-3.7 2.7l1.4 4.4l-3.7 -2.6l-3.7 2.6l1.3 -4.4l-3.6 -2.7l4.5 -0.1z"/><path d="M444.7 220.2l1.5 4.2l4.5 0.1l-3.6 2.7l1.3 4.4l-3.7 -2.6l-3.7 2.6l1.3 -4.4l-3.6 -2.7l4.5 -0.1z"/><path d="M348.9 289.3l1.5 4.3l4.5 0.1l-3.6 2.7l1.3 4.3l-3.7 -2.6l-3.7 2.6l1.4 -4.3l-3.7 -2.7l4.6 -0.1z"/><path d="M480 198.7l1.5 4.3l4.5 0.1l-3.6 2.7l1.3 4.3l-3.7 -2.6l-3.7 2.6l1.3 -4.3l-3.6 -2.7l4.5 -0.1z"/><path d="M336.2 297.7l1.5 4.3l4.5 0l-3.6 2.8l1.3 4.3l-3.7 -2.6l-3.7 2.6l1.3 -4.3l-3.6 -2.8l4.6 0z"/><path d="M412.6 254.2l1.4 4.3l4.5 0l-3.6 2.8l1.4 4.3l-3.7 -2.6l-3.7 2.6l1.3 -4.3l-3.6 -2.8l4.5 0z"/><path d="M299.8 333.1l1.5 4.3l4.5 0.1l-3.6 2.7l1.3 4.3l-3.7 -2.6l-3.7 2.6l1.3 -4.3l-3.6 -2.7l4.5 -0.1z"/><path d="M382.3 264.9l1.4 4.2l4.6 0.1l-3.7 2.7l1.4 4.4l-3.7 -2.6l-3.7 2.6l1.3 -4.4l-3.6 -2.7l4.5 -0.1z"/><path d="M417.2 240.8l1.5 4.3l4.5 0l-3.6 2.7l1.3 4.4l-3.7 -2.6l-3.7 2.6l1.3 -4.4l-3.6 -2.7l4.5 0z"/><path d="M434.2 252.4l1.5 4.3l4.5 0.1l-3.6 2.7l1.3 4.3l-3.7 -2.6l-3.7 2.6l1.3 -4.3l-3.6 -2.7l4.6 -0.1z"/><path d="M380.4 263.4l1.5 4.3l4.5 0.1l-3.6 2.7l1.3 4.3l-3.7 -2.6l-3.7 2.6l1.4 -4.3l-3.7 -2.7l4.6 -0.1z"/><path d="M289.8 338.4l1.5 4.3l4.5 0.1l-3.6 2.7l1.3 4.3l-3.7 -2.6l-3.7 2.6l1.3 -4.3l-3.6 -2.7l4.5 -0.1z"/><path d="M376.9 267.6l1.4 4.3l4.6 0.1l-3.7 2.7l1.4 4.3l-3.7 -2.6l-3.7 2.6l1.3 -4.3l-3.6 -2.7l4.5 -0.1z"/><path d="M370.1 274.1l1.5 4.2l4.5 0.1l-3.6 2.7l1.3 4.4l-3.7 -2.6l-3.7 2.6l1.4 -4.4l-3.6 -2.7l4.5 -0.1z"/><path d="M356.5 281.8l1.4 4.3l4.6 0l-3.7 2.8l1.4 4.3l-3.7 -2.6l-3.7 2.6l1.3 -4.3l-3.6 -2.8l4.5 0z"/><path d="M374.1 271.4l1.5 4.3l4.5 0.1l-3.6 2.7l1.3 4.3l-3.7 -2.6l-3.7 2.6l1.3 -4.3l-3.6 -2.7l4.5 -0.1z"/><path d="M408.1 243l1.5 4.2l4.5 0.1l-3.6 2.7l1.3 4.4l-3.7 -2.6l-3.7 2.6l1.3 -4.4l-3.6 -2.7l4.5 -0.1z"/><path d="M325.5 311.3l1.5 4.3l4.5 0.1l-3.6 2.7l1.3 4.3l-3.7 -2.6l-3.7 2.6l1.3 -4.3l-3.6 -2.7l4.5 -0.1z"/><path d="M330.7 302.9l1.4 4.3l4.5 0.1l-3.6 2.7l1.4 4.3l-3.7 -2.6l-3.7 2.6l1.3 -4.3l-3.6 -2.7l4.5 -0.1z"/><path d="M293.8 332.1l1.5 4.2l4.5 0.1l-3.6 2.7l1.3 4.4l-3.7 -2.6l-3.7 2.6l1.3 -4.4l-3.6 -2.7l4.5 -0.1z"/><path d="M457.3 208.9l1.5 4.3l4.5 0l-3.6 2.8l1.3 4.3l-3.7 -2.6l-3.7 2.6l1.3 -4.3l-3.6 -2.8l4.5 0z"/><path d="M493.1 185.6l1.4 4.2l4.6 0.1l-3.7 2.7l1.4 4.3l-3.7 -2.5l-3.7 2.5l1.3 -4.3l-3.6 -2.7l4.5 -0.1z"/><path d="M387.5 268.4l1.4 4.3l4.6 0.1l-3.7 2.7l1.4 4.3l-3.7 -2.6l-3.7 2.6l1.3 -4.3l-3.6 -2.7l4.5 -0.1z"/><path d="M432.1 229.1l1.5 4.3l4.5 0.1l-3.6 2.7l1.3 4.3l-3.7 -2.6l-3.7 2.6l1.3 -4.3l-3.6 -2.7l4.5 -0.1z"/><path d="M397.9 251l1.5 4.3l4.5 0l-3.6 2.8l1.3 4.3l-3.7 -2.6l-3.7 2.6l1.4 -4.3l-3.7 -2.8l4.6 0z"/><path d="M366.8 274.9l1.5 4.3l4.5 0.1l-3.6 2.7l1.3 4.3l-3.7 -2.6l-3.7 2.6l1.3 -4.3l-3.6 -2.7l4.5 -0.1z"/><path d="M386.8 271.4l1.5 4.3l4.5 0l-3.6 2.7l1.3 4.4l-3.7 -2.6l-3.7 2.6l1.3 -4.4l-3.6 -2.7l4.5 0z"/><path d="M310.6 319.7l1.4 4.3l4.6 0.1l-3.7 2.7l1.4 4.3l-3.7 -2.6l-3.7 2.6l1.3 -4.3l-3.6 -2.7l4.5 -0.1z"/><path d="M350 295.6l1.5 4.3l4.5 0l-3.6 2.7l1.3 4.4l-3.7 -2.6l-3.7 2.6l1.3 -4.4l-3.6 -2.7l4.5 0z"/><path d="M454 222.3l1.5 4.3l4.5 0.1l-3.6 2.7l1.3 4.3l-3.7 -2.6l-3.7 2.6l1.3 -4.3l-3.6 -2.7l4.5 -0.1z"/><path d="M466.7 204.9l1.4 4.3l4.6 0l-3.6 2.8l1.3 4.3l-3.7 -2.6l-3.7 2.6l1.3 -4.3l-3.6 -2.8l4.5 0z"/><path d="M383.8 258.9l1.5 4.2l4.5 0.1l-3.6 2.7l1.3 4.3l-3.7 -2.5l-3.7 2.5l1.3 -4.3l-3.6 -2.7l4.5 -0.1z"/><path d="M313.8 332.5l1.5 4.3l4.5 0l-3.6 2.8l1.3 4.3l-3.7 -2.6l-3.7 2.6l1.3 -4.3l-3.6 -2.8l4.5 0z"/><path d="M336 299.8l1.5 4.3l4.5 0.1l-3.6 2.7l1.4 4.3l-3.8 -2.6l-3.7 2.6l1.4 -4.3l-3.6 -2.7l4.5 -0.1z"/><path d="M375.7 273.8l1.5 4.3l4.5 0l-3.6 2.8l1.3 4.3l-3.7 -2.6l-3.7 2.6l1.4 -4.3l-3.7 -2.8l4.6 0z"/><path d="M343.5 294.3l1.4 4.3l4.6 0.1l-3.6 2.7l1.3 4.3l-3.7 -2.6l-3.7 2.6l1.3 -4.3l-3.6 -2.7l4.5 -0.1z"/><path d="M353.6 282.8l1.5 4.3l4.5 0l-3.6 2.8l1.3 4.3l-3.7 -2.6l-3.7 2.6l1.4 -4.3l-3.7 -2.8l4.6 0z"/><path d="M445 217.8l1.4 4.3l4.6 0.1l-3.7 2.7l1.4 4.3l-3.7 -2.6l-3.7 2.6l1.3 -4.3l-3.6 -2.7l4.5 -0.1z"/><path d="M327.5 316.6l1.5 4.3l4.5 0.1l-3.6 2.7l1.3 4.3l-3.7 -2.6l-3.7 2.6l1.4 -4.3l-3.6 -2.7l4.5 -0.1z"/><path d="M330.9 305.8l1.5 4.3l4.5 0.1l-3.6 2.7l1.3 4.3l-3.7 -2.6l-3.7 2.6l1.3 -4.3l-3.6 -2.7l4.5 -0.1z"/><path d="M405.6 251.6l1.5 4.2l4.5 0.1l-3.6 2.7l1.3 4.3l-3.7 -2.5l-3.7 2.5l1.3 -4.3l-3.6 -2.7l4.5 -0.1z"/><path d="M372.6 278.8l1.4 4.3l4.6 0l-3.7 2.8l1.4 4.3l-3.7 -2.6l-3.7 2.6l1.3 -4.3l-3.6 -2.8l4.5 0z"/><path d="M475.8 200.1l1.5 4.3l4.5 0.1l-3.6 2.7l1.3 4.3l-3.7 -2.6l-3.7 2.6l1.4 -4.3l-3.7 -2.7l4.6 -0.1z"/><path d="M385.1 272l1.5 4.3l4.5 0.1l-3.6 2.7l1.3 4.3l-3.7 -2.6l-3.7 2.6l1.3 -4.3l-3.6 -2.7l4.5 -0.1z"/><path d="M477.1 193.8l1.4 4.3l4.6 0.1l-3.7 2.7l1.4 4.3l-3.7 -2.6l-3.7 2.6l1.3 -4.3l-3.6 -2.7l4.5 -0.1z"/><path d="M424 233.1l1.4 4.2l4.6 0.1l-3.6 2.7l1.3 4.4l-3.7 -2.6l-3.7 2.6l1.3 -4.4l-3.6 -2.7l4.5 -0.1z"/><path d="M410.6 238.5l1.5 4.3l4.5 0l-3.6 2.8l1.3 4.3l-3.7 -2.6l-3.7 2.6l1.3 -4.3l-3.6 -2.8l4.5 0z"/><path d="M327.6 303.4l1.4 4.3l4.5 0.1l-3.6 2.7l1.4 4.3l-3.7 -2.6l-3.8 2.6l1.4 -4.3l-3.6 -2.7l4.5 -0.1z"/><path d="M372.5 271l1.5 4.3l4.5 0l-3.6 2.8l1.3 4.3l-3.7 -2.6l-3.7 2.6l1.4 -4.3l-3.7 -2.8l4.6 0z"/><path d="M364.2 274.2l1.5 4.3l4.5 0.1l-3.6 2.7l1.3 4.3l-3.7 -2.6l-3.7 2.6l1.3 -4.3l-3.6 -2.7l4.5 -0.1z"/><path d="M342.9 299.4l1.5 4.2l4.5 0.1l-3.6 2.7l1.3 4.4l-3.7 -2.6l-3.7 2.6l1.3 -4.4l-3.6 -2.7l4.5 -0.1z"/><path d="M295.5 334.1l1.5 4.3l4.5 0.1l-3.6 2.7l1.3 4.3l-3.7 -2.6l-3.7 2.6l1.3 -4.3l-3.6 -2.7l4.5 -0.1z"/><path d="M415.6 241.3l1.5 4.3l4.5 0.1l-3.6 2.7l1.3 4.3l-3.7 -2.6l-3.7 2.6l1.4 -4.3l-3.6 -2.7l4.5 -0.1z"/><path d="M411.3 249.7l1.4 4.2l4.6 0.1l-3.6 2.7l1.3 4.4l-3.7 -2.6l-3.7 2.6l1.3 -4.4l-3.6 -2.7l4.5 -0.1z"/><path d="M472.1 195.4l1.5 4.3l4.5 0l-3.6 2.8l1.3 4.3l-3.7 -2.6l-3.7 2.6l1.3 -4.3l-3.6 -2.8l4.5 0z"/><path d="M406.7 240.2l1.5 4.3l4.5 0l-3.6 2.8l1.3 4.3l-3.7 -2.6l-3.7 2.6l1.3 -4.3l-3.6 -2.8l4.6 0z"/><path d="M423.4 232.3l1.4 4.3l4.6 0.1l-3.6 2.7l1.3 4.3l-3.7 -2.6l-3.7 2.6l1.3 -4.3l-3.6 -2.7l4.5 -0.1z"/><path d="M375.3 274.5l1.5 4.2l4.5 0.1l-3.6 2.7l1.3 4.4l-3.7 -2.6l-3.7 2.6l1.4 -4.4l-3.7 -2.7l4.6 -0.1z"/><path d="M326.1 304.9l1.4 4.3l4.6 0l-3.7 2.7l1.4 4.4l-3.7 -2.6l-3.7 2.6l1.3 -4.4l-3.6 -2.7l4.5 0z"/><path d="M489.8 184.8l1.5 4.3l4.5 0.1l-3.6 2.7l1.3 4.3l-3.7 -2.6l-3.7 2.6l1.3 -4.3l-3.6 -2.7l4.5 -0.1z"/><path d="M471.6 204.1l1.5 4.3l4.5 0.1l-3.6 2.7l1.3 4.3l-3.7 -2.6l-3.7 2.6l1.3 -4.3l-3.6 -2.7l4.6 -0.1z"/><path d="M393.9 248.2l1.5 4.2l4.5 0.1l-3.6 2.7l1.3 4.4l-3.7 -2.6l-3.7 2.6l1.3 -4.4l-3.6 -2.7l4.5 -0.1z"/><path d="M329.4 307.8l1.5 4.3l4.5 0.1l-3.6 2.7l1.3 4.3l-3.7 -2.6l-3.7 2.6l1.4 -4.3l-3.6 -2.7l4.5 -0.1z"/><path d="M411.4 246.4l1.4 4.3l4.6 0.1l-3.7 2.7l1.4 4.3l-3.7 -2.6l-3.7 2.6l1.3 -4.3l-3.6 -2.7l4.5 -0.1z"/><path d="M395.7 253.2l1.4 4.3l4.6 0.1l-3.7 2.7l1.4 4.3l-3.7 -2.6l-3.7 2.6l1.3 -4.3l-3.6 -2.7l4.5 -0.1z"/><path d="M305.2 322.9l1.5 4.3l4.5 0l-3.6 2.8l1.3 4.3l-3.7 -2.6l-3.7 2.6l1.3 -4.3l-3.6 -2.8l4.5 0z"/><path d="M370.3 279l1.5 4.3l4.5 0l-3.6 2.8l1.3 4.3l-3.7 -2.6l-3.7 2.6l1.3 -4.3l-3.6 -2.8l4.6 0z"/><path d="M431.9 230.1l1.4 4.3l4.6 0l-3.7 2.8l1.4 4.3l-3.7 -2.6l-3.7 2.6l1.3 -4.3l-3.6 -2.8l4.5 0z"/><path d="M406.1 251.2l1.4 4.3l4.5 0.1l-3.6 2.7l1.4 4.3l-3.7 -2.6l-3.8 2.6l1.4 -4.3l-3.6 -2.7l4.5 -0.1z"/><path d="M415.8 236.4l1.4 4.2l4.6 0.1l-3.7 2.7l1.4 4.4l-3.7 -2.6l-3.7 2.6l1.3 -4.4l-3.6 -2.7l4.5 -0.1z"/><path d="M360.2 285.1l1.5 4.3l4.5 0.1l-3.6 2.7l1.3 4.3l-3.7 -2.6l-3.7 2.6l1.4 -4.3l-3.7 -2.7l4.6 -0.1z"/><path d="M390.6 254.7l1.4 4.3l4.6 0l-3.7 2.8l1.4 4.3l-3.7 -2.6l-3.7 2.6l1.3 -4.3l-3.6 -2.8l4.5 0z"/><path d="M338.8 300.8l1.5 4.2l4.5 0.1l-3.6 2.7l1.3 4.4l-3.7 -2.6l-3.7 2.6l1.3 -4.4l-3.6 -2.7l4.5 -0.1z"/><path d="M376.7 276.3l1.5 4.3l4.5 0l-3.6 2.7l1.3 4.4l-3.7 -2.6l-3.7 2.6l1.3 -4.4l-3.6 -2.7l4.5 0z"/><path d="M294.1 334.3l1.5 4.2l4.5 0.1l-3.6 2.7l1.3 4.3l-3.7 -2.5l-3.7 2.5l1.3 -4.3l-3.6 -2.7l4.6 -0.1z"/><path d="M418.1 237.8l1.5 4.3l4.5 0.1l-3.6 2.7l1.3 4.3l-3.7 -2.6l-3.7 2.6l1.3 -4.3l-3.6 -2.7l4.5 -0.1z"/><path d="M403.6 242.2l1.5 4.3l4.5 0.1l-3.6 2.7l1.3 4.3l-3.7 -2.6l-3.7 2.6l1.3 -4.3l-3.6 -2.7l4.5 -0.1z"/><path d="M367.2 273.1l1.4 4.3l4.6 0.1l-3.6 2.7l1.3 4.3l-3.7 -2.6l-3.7 2.6l1.3 -4.3l-3.6 -2.7l4.5 -0.1z"/><path d="M318.4 310.7l1.4 4.2l4.5 0.1l-3.6 2.7l1.4 4.4l-3.7 -2.6l-3.8 2.6l1.4 -4.4l-3.6 -2.7l4.5 -0.1z"/><path d="M348.7 288.5l1.5 4.3l4.5 0.1l-3.6 2.7l1.3 4.3l-3.7 -2.6l-3.7 2.6l1.4 -4.3l-3.6 -2.7l4.5 -0.1z"/><path d="M478.2 209.8l1.5 4.3l4.5 0.1l-3.6 2.7l1.3 4.3l-3.7 -2.6l-3.7 2.6l1.4 -4.3l-3.7 -2.7l4.6 -0.1z"/><path d="M307.7 317.2l1.5 4.3l4.5 0l-3.6 2.8l1.3 4.3l-3.7 -2.6l-3.7 2.6l1.3 -4.3l-3.6 -2.8l4.5 0z"/><path d="M467.8 199l1.4 4.3l4.6 0.1l-3.7 2.7l1.4 4.3l-3.7 -2.6l-3.7 2.6l1.3 -4.3l-3.6 -2.7l4.5 -0.1z"/><path d="M424.7 236.8l1.5 4.2l4.5 0.1l-3.6 2.7l1.3 4.4l-3.7 -2.6l-3.7 2.6l1.3 -4.4l-3.6 -2.7l4.6 -0.1z"/><path d="M377.7 286.1l1.5 4.2l4.5 0.1l-3.6 2.7l1.3 4.4l-3.7 -2.6l-3.7 2.6l1.3 -4.4l-3.6 -2.7l4.5 -0.1z"/><path d="M417.8 239.4l1.5 4.3l4.5 0l-3.6 2.8l1.3 4.3l-3.7 -2.6l-3.7 2.6l1.3 -4.3l-3.6 -2.8l4.6 0z"/><path d="M351.2 290l1.5 4.2l4.5 0.1l-3.6 2.7l1.3 4.4l-3.7 -2.6l-3.7 2.6l1.3 -4.4l-3.6 -2.7l4.5 -0.1z"/><path d="M295.4 330.3l1.5 4.3l4.5 0.1l-3.6 2.7l1.3 4.3l-3.7 -2.6l-3.7 2.6l1.3 -4.3l-3.6 -2.7l4.5 -0.1z"/><path d="M433.4 227.1l1.5 4.3l4.5 0.1l-3.6 2.7l1.3 4.3l-3.7 -2.6l-3.7 2.6l1.3 -4.3l-3.6 -2.7l4.5 -0.1z"/><path d="M322.4 302.7l1.5 4.2l4.5 0.1l-3.6 2.7l1.3 4.4l-3.7 -2.6l-3.7 2.6l1.3 -4.4l-3.6 -2.7l4.5 -0.1z"/><path d="M360.4 283.3l1.5 4.2l4.5 0.1l-3.6 2.7l1.3 4.4l-3.7 -2.6l-3.7 2.6l1.3 -4.4l-3.6 -2.7l4.5 -0.1z"/><path d="M463.9 206.8l1.4 4.2l4.5 0.1l-3.6 2.7l1.4 4.4l-3.7 -2.6l-3.7 2.6l1.3 -4.4l-3.6 -2.7l4.5 -0.1z"/><path d="M473.5 201l1.5 4.3l4.5 0l-3.6 2.7l1.3 4.4l-3.7 -2.6l-3.7 2.6l1.3 -4.4l-3.6 -2.7l4.5 0z"/><path d="M499.1 175l1.5 4.3l4.5 0.1l-3.6 2.7l1.3 4.3l-3.7 -2.6l-3.7 2.6l1.3 -4.3l-3.6 -2.7l4.5 -0.1z"/><path d="M342.6 289.4l1.5 4.3l4.5 0.1l-3.6 2.7l1.3 4.3l-3.7 -2.6l-3.7 2.6l1.4 -4.3l-3.6 -2.7l4.5 -0.1z"/><path d="M485.1 191.9l1.5 4.3l4.5 0l-3.6 2.8l1.3 4.3l-3.7 -2.6l-3.7 2.6l1.4 -4.3l-3.6 -2.8l4.5 0z"/><path d="M399.3 253l1.5 4.3l4.5 0l-3.6 2.8l1.3 4.3l-3.7 -2.6l-3.7 2.6l1.3 -4.3l-3.6 -2.8l4.6 0z"/><path d="M470.2 192.3l1.5 4.3l4.5 0.1l-3.6 2.7l1.3 4.3l-3.7 -2.6l-3.7 2.6l1.3 -4.3l-3.6 -2.7l4.6 -0.1z"/><path d="M404.9 240.1l1.4 4.3l4.6 0.1l-3.7 2.7l1.4 4.3l-3.7 -2.6l-3.7 2.6l1.3 -4.3l-3.6 -2.7l4.5 -0.1z"/><path d="M414.6 234.2l1.4 4.2l4.6 0.1l-3.7 2.7l1.4 4.4l-3.7 -2.6l-3.7 2.6l1.3 -4.4l-3.6 -2.7l4.5 -0.1z"/><path d="M363.7 276.8l1.5 4.3l4.5 0l-3.6 2.8l1.3 4.3l-3.7 -2.6l-3.7 2.6l1.3 -4.3l-3.6 -2.8l4.5 0z"/><path d="M351 283l1.4 4.3l4.6 0.1l-3.6 2.7l1.3 4.3l-3.7 -2.6l-3.7 2.6l1.3 -4.3l-3.6 -2.7l4.5 -0.1z"/><path d="M343.8 296.4l1.4 4.2l4.6 0.1l-3.7 2.7l1.4 4.4l-3.7 -2.6l-3.7 2.6l1.3 -4.4l-3.6 -2.7l4.5 -0.1z"/><path d="M292.1 333l1.5 4.3l4.5 0.1l-3.6 2.7l1.3 4.3l-3.7 -2.6l-3.7 2.6l1.3 -4.3l-3.6 -2.7l4.5 -0.1z"/><path d="M459.6 208.2l1.5 4.3l4.5 0.1l-3.6 2.7l1.3 4.3l-3.7 -2.6l-3.7 2.6l1.3 -4.3l-3.6 -2.7l4.6 -0.1z"/><path d="M389.3 257.7l1.4 4.3l4.6 0.1l-3.6 2.7l1.3 4.3l-3.7 -2.6l-3.7 2.6l1.3 -4.3l-3.6 -2.7l4.5 -0.1z"/><path d="M345 291.9l1.5 4.3l4.5 0l-3.6 2.8l1.3 4.3l-3.7 -2.6l-3.7 2.6l1.3 -4.3l-3.6 -2.8l4.5 0z"/><path d="M430.6 242l1.4 4.3l4.5 0.1l-3.6 2.7l1.4 4.3l-3.7 -2.6l-3.7 2.6l1.3 -4.3l-3.6 -2.7l4.5 -0.1z"/><path d="M450.2 226.4l1.5 4.3l4.5 0.1l-3.6 2.7l1.3 4.3l-3.7 -2.6l-3.7 2.6l1.3 -4.3l-3.6 -2.7l4.5 -0.1z"/><path d="M406.8 247l1.5 4.2l4.5 0.1l-3.6 2.7l1.3 4.4l-3.7 -2.6l-3.7 2.6l1.3 -4.4l-3.6 -2.7l4.5 -0.1z"/><path d="M490.8 179l1.5 4.3l4.5 0.1l-3.6 2.7l1.3 4.3l-3.7 -2.6l-3.7 2.6l1.4 -4.3l-3.7 -2.7l4.6 -0.1z"/><path d="M365.2 274.9l1.5 4.3l4.5 0.1l-3.6 2.7l1.3 4.3l-3.7 -2.6l-3.7 2.6l1.3 -4.3l-3.6 -2.7l4.5 -0.1z"/><path d="M466.1 206.5l1.5 4.3l4.5 0l-3.6 2.8l1.3 4.3l-3.7 -2.6l-3.7 2.6l1.3 -4.3l-3.6 -2.8l4.5 0z"/><path d="M363.3 280.7l1.5 4.3l4.5 0l-3.6 2.8l1.3 4.3l-3.7 -2.6l-3.7 2.6l1.3 -4.3l-3.6 -2.8l4.5 0z"/><path d="M379.5 273l1.4 4.3l4.6 0.1l-3.7 2.7l1.4 4.3l-3.7 -2.6l-3.7 2.6l1.3 -4.3l-3.6 -2.7l4.5 -0.1z"/><path d="M423.6 236.8l1.5 4.3l4.5 0l-3.6 2.8l1.3 4.3l-3.7 -2.6l-3.7 2.6l1.3 -4.3l-3.6 -2.8l4.5 0z"/><path d="M370.1 286.4l1.5 4.3l4.5 0.1l-3.6 2.7l1.3 4.3l-3.7 -2.6l-3.7 2.6l1.4 -4.3l-3.7 -2.7l4.6 -0.1z"/><path d="M341.2 290.2l1.4 4.3l4.6 0l-3.6 2.7l1.3 4.4l-3.7 -2.6l-3.7 2.6l1.3 -4.4l-3.6 -2.7l4.5 0z"/><path d="M369.2 280.8l1.4 4.3l4.6 0.1l-3.7 2.7l1.4 4.3l-3.7 -2.6l-3.7 2.6l1.3 -4.3l-3.6 -2.7l4.5 -0.1z"/><path d="M382.4 260.4l1.4 4.3l4.5 0.1l-3.6 2.7l1.4 4.3l-3.7 -2.6l-3.8 2.6l1.4 -4.3l-3.6 -2.7l4.5 -0.1z"/><path d="M484.8 202.1l1.5 4.3l4.5 0.1l-3.6 2.7l1.3 4.3l-3.7 -2.6l-3.7 2.6l1.3 -4.3l-3.6 -2.7l4.5 -0.1z"/><path d="M370.8 272.8l1.5 4.3l4.5 0.1l-3.6 2.7l1.3 4.3l-3.7 -2.6l-3.7 2.6l1.3 -4.3l-3.6 -2.7l4.5 -0.1z"/><path d="M400.6 249.5l1.4 4.2l4.6 0.1l-3.7 2.7l1.4 4.4l-3.7 -2.6l-3.7 2.6l1.3 -4.4l-3.6 -2.7l4.5 -0.1z"/><path d="M456.3 203.5l1.5 4.2l4.5 0.1l-3.6 2.7l1.3 4.3l-3.7 -2.5l-3.7 2.5l1.3 -4.3l-3.6 -2.7l4.6 -0.1z"/><path d="M443.7 224.4l1.5 4.3l4.5 0.1l-3.6 2.7l1.3 4.3l-3.7 -2.6l-3.7 2.6l1.4 -4.3l-3.7 -2.7l4.6 -0.1z"/><path d="M426.8 229.2l1.5 4.3l4.5 0l-3.6 2.7l1.3 4.4l-3.7 -2.6l-3.7 2.6l1.4 -4.4l-3.7 -2.7l4.6 0z"/><path d="M478.6 193.3l1.5 4.2l4.5 0.1l-3.6 2.7l1.3 4.4l-3.7 -2.6l-3.7 2.6l1.4 -4.4l-3.7 -2.7l4.6 -0.1z"/><path d="M304.5 326.2l1.4 4.3l4.6 0.1l-3.6 2.7l1.3 4.3l-3.7 -2.6l-3.7 2.6l1.3 -4.3l-3.6 -2.7l4.5 -0.1z"/><path d="M347.8 287l1.4 4.3l4.6 0l-3.6 2.7l1.3 4.4l-3.7 -2.6l-3.7 2.6l1.3 -4.4l-3.6 -2.7l4.5 0z"/><path d="M417.5 244l1.5 4.3l4.5 0.1l-3.6 2.7l1.3 4.3l-3.7 -2.6l-3.7 2.6l1.3 -4.3l-3.6 -2.7l4.5 -0.1z"/><path d="M300.6 320.7l1.5 4.3l4.5 0.1l-3.6 2.7l1.3 4.3l-3.7 -2.6l-3.7 2.6l1.4 -4.3l-3.7 -2.7l4.6 -0.1z"/><path d="M441.7 220.1l1.5 4.3l4.5 0.1l-3.6 2.7l1.3 4.3l-3.7 -2.6l-3.7 2.6l1.3 -4.3l-3.6 -2.7l4.6 -0.1z"/><path d="M485 188.2l1.5 4.3l4.5 0.1l-3.6 2.7l1.3 4.3l-3.7 -2.6l-3.7 2.6l1.4 -4.3l-3.7 -2.7l4.6 -0.1z"/><path d="M365.3 276.1l1.5 4.3l4.5 0l-3.6 2.7l1.3 4.4l-3.7 -2.6l-3.7 2.6l1.4 -4.4l-3.7 -2.7l4.6 0z"/><path d="M389.4 265.4l1.5 4.3l4.5 0l-3.6 2.8l1.3 4.3l-3.7 -2.6l-3.7 2.6l1.3 -4.3l-3.6 -2.8l4.6 0z"/><path d="M400.6 255.4l1.5 4.2l4.5 0.1l-3.6 2.7l1.4 4.4l-3.8 -2.6l-3.7 2.6l1.4 -4.4l-3.6 -2.7l4.5 -0.1z"/><path d="M366.9 285.5l1.5 4.3l4.5 0l-3.6 2.7l1.3 4.4l-3.7 -2.6l-3.7 2.6l1.3 -4.4l-3.6 -2.7l4.6 0z"/><path d="M433.7 225.7l1.5 4.3l4.5 0.1l-3.6 2.7l1.3 4.3l-3.7 -2.6l-3.7 2.6l1.4 -4.3l-3.6 -2.7l4.5 -0.1z"/><path d="M348.6 292.8l1.5 4.2l4.5 0.1l-3.6 2.7l1.3 4.4l-3.7 -2.6l-3.7 2.6l1.3 -4.4l-3.6 -2.7l4.5 -0.1z"/><path d="M400.5 248.6l1.4 4.3l4.6 0l-3.7 2.7l1.4 4.4l-3.7 -2.6l-3.7 2.6l1.3 -4.4l-3.6 -2.7l4.5 0z"/><path d="M367.9 275.9l1.5 4.3l4.5 0.1l-3.6 2.7l1.3 4.3l-3.7 -2.6l-3.7 2.6l1.3 -4.3l-3.6 -2.7l4.6 -0.1z"/><path d="M439.7 220.6l1.4 4.2l4.6 0.1l-3.7 2.7l1.4 4.4l-3.7 -2.6l-3.7 2.6l1.3 -4.4l-3.6 -2.7l4.5 -0.1z"/><path d="M411.4 247l1.5 4.3l4.5 0.1l-3.6 2.7l1.3 4.3l-3.7 -2.6l-3.7 2.6l1.3 -4.3l-3.6 -2.7l4.5 -0.1z"/><path d="M359.1 286.2l1.5 4.3l4.5 0.1l-3.6 2.7l1.3 4.3l-3.7 -2.6l-3.7 2.6l1.4 -4.3l-3.6 -2.7l4.5 -0.1z"/><path d="M309.4 324.5l1.4 4.2l4.5 0.1l-3.6 2.7l1.4 4.4l-3.7 -2.6l-3.8 2.6l1.4 -4.4l-3.6 -2.7l4.5 -0.1z"/><path d="M477.8 194.6l1.4 4.3l4.6 0.1l-3.7 2.7l1.4 4.3l-3.7 -2.6l-3.7 2.6l1.3 -4.3l-3.6 -2.7l4.5 -0.1z"/><path d="M318.6 314.8l1.5 4.3l4.5 0l-3.6 2.8l1.3 4.3l-3.7 -2.6l-3.7 2.6l1.3 -4.3l-3.6 -2.8l4.5 0z"/><path d="M295 333.9l1.5 4.3l4.5 0l-3.6 2.8l1.3 4.3l-3.7 -2.6l-3.7 2.6l1.4 -4.3l-3.7 -2.8l4.6 0z"/><path d="M434.5 220.2l1.5 4.3l4.5 0.1l-3.6 2.7l1.3 4.3l-3.7 -2.6l-3.7 2.6l1.3 -4.3l-3.6 -2.7l4.6 -0.1z"/><path d="M386 261.1l1.5 4.3l4.5 0l-3.6 2.8l1.3 4.3l-3.7 -2.6l-3.7 2.6l1.3 -4.3l-3.6 -2.8l4.5 0z"/><path d="M454.5 209.2l1.4 4.2l4.6 0.1l-3.7 2.7l1.4 4.4l-3.7 -2.6l-3.7 2.6l1.3 -4.4l-3.6 -2.7l4.5 -0.1z"/><path d="M464 205.2l1.5 4.3l4.5 0.1l-3.6 2.7l1.3 4.3l-3.7 -2.6l-3.7 2.6l1.3 -4.3l-3.6 -2.7l4.5 -0.1z"/><path d="M347.1 285.5l1.5 4.2l4.5 0.1l-3.6 2.7l1.3 4.4l-3.7 -2.6l-3.7 2.6l1.3 -4.4l-3.6 -2.7l4.5 -0.1z"/><path d="M417.3 244l1.5 4.3l4.5 0l-3.6 2.8l1.3 4.3l-3.7 -2.6l-3.7 2.6l1.3 -4.3l-3.6 -2.8l4.5 0z"/><path d="M375.7 271.9l1.4 4.2l4.6 0.1l-3.6 2.7l1.3 4.4l-3.7 -2.6l-3.7 2.6l1.3 -4.4l-3.6 -2.7l4.5 -0.1z"/><path d="M419.4 237l1.4 4.3l4.5 0.1l-3.6 2.7l1.4 4.3l-3.7 -2.6l-3.8 2.6l1.4 -4.3l-3.6 -2.7l4.5 -0.1z"/><path d="M347.4 294.2l1.5 4.3l4.5 0.1l-3.6 2.7l1.3 4.3l-3.7 -2.6l-3.7 2.6l1.3 -4.3l-3.6 -2.7l4.5 -0.1z"/><path d="M377.1 267.2l1.5 4.3l4.5 0.1l-3.6 2.7l1.3 4.3l-3.7 -2.6l-3.7 2.6l1.4 -4.3l-3.7 -2.7l4.6 -0.1z"/><path d="M387.3 259.7l1.4 4.2l4.6 0.1l-3.7 2.7l1.4 4.3l-3.7 -2.5l-3.7 2.5l1.3 -4.3l-3.6 -2.7l4.5 -0.1z"/><path d="M479.9 189.5l1.5 4.3l4.5 0.1l-3.6 2.7l1.3 4.3l-3.7 -2.6l-3.7 2.6l1.3 -4.3l-3.6 -2.7l4.5 -0.1z"/><path d="M370.3 276.4l1.4 4.3l4.6 0.1l-3.7 2.7l1.4 4.3l-3.7 -2.6l-3.7 2.6l1.3 -4.3l-3.6 -2.7l4.5 -0.1z"/><path d="M397.7 259.5l1.5 4.2l4.5 0.1l-3.6 2.7l1.3 4.3l-3.7 -2.5l-3.7 2.5l1.3 -4.3l-3.6 -2.7l4.6 -0.1z"/><path d="M471.6 199.8l1.5 4.3l4.5 0.1l-3.6 2.7l1.3 4.3l-3.7 -2.6l-3.7 2.6l1.3 -4.3l-3.6 -2.7l4.5 -0.1z"/><path d="M300.3 329.7l1.5 4.3l4.5 0.1l-3.6 2.7l1.3 4.3l-3.7 -2.6l-3.7 2.6l1.3 -4.3l-3.6 -2.7l4.5 -0.1z"/><path d="M292.7 333.3l1.5 4.3l4.5 0.1l-3.6 2.7l1.3 4.3l-3.7 -2.6l-3.7 2.6l1.3 -4.3l-3.6 -2.7l4.5 -0.1z"/><path d="M436.9 229.3l1.5 4.3l4.5 0.1l-3.6 2.7l1.3 4.3l-3.7 -2.6l-3.7 2.6l1.3 -4.3l-3.6 -2.7l4.5 -0.1z"/><path d="M383 267.1l1.4 4.2l4.5 0.1l-3.6 2.7l1.4 4.4l-3.7 -2.6l-3.7 2.6l1.3 -4.4l-3.6 -2.7l4.5 -0.1z"/><path d="M351.4 289.6l1.5 4.2l4.5 0.1l-3.6 2.7l1.3 4.4l-3.7 -2.6l-3.7 2.6l1.3 -4.4l-3.6 -2.7l4.5 -0.1z"/><path d="M492.2 186.6l1.5 4.3l4.5 0.1l-3.6 2.7l1.3 4.3l-3.7 -2.6l-3.7 2.6l1.3 -4.3l-3.6 -2.7l4.6 -0.1z"/><path d="M416.5 234.1l1.4 4.3l4.5 0.1l-3.6 2.7l1.4 4.3l-3.7 -2.6l-3.7 2.6l1.3 -4.3l-3.6 -2.7l4.5 -0.1z"/><path d="M319.2 315.9l1.5 4.3l4.5 0l-3.6 2.7l1.3 4.4l-3.7 -2.6l-3.7 2.6l1.3 -4.4l-3.6 -2.7l4.6 0z"/><path d="M386.5 267.8l1.5 4.3l4.5 0l-3.6 2.7l1.3 4.4l-3.7 -2.6l-3.7 2.6l1.3 -4.4l-3.6 -2.7l4.5 0z"/><path d="M357.8 289.7l1.5 4.3l4.5 0.1l-3.6 2.7l1.3 4.3l-3.7 -2.6l-3.7 2.6l1.3 -4.3l-3.6 -2.7l4.5 -0.1z"/><path d="M336 294.6l1.5 4.3l4.5 0.1l-3.6 2.7l1.3 4.3l-3.7 -2.6l-3.7 2.6l1.3 -4.3l-3.6 -2.7l4.6 -0.1z"/><path d="M362 279.1l1.4 4.3l4.6 0.1l-3.7 2.7l1.4 4.3l-3.7 -2.6l-3.7 2.6l1.3 -4.3l-3.6 -2.7l4.5 -0.1z"/><path d="M387.8 257.5l1.5 4.3l4.5 0.1l-3.6 2.7l1.3 4.3l-3.7 -2.6l-3.7 2.6l1.4 -4.3l-3.6 -2.7l4.5 -0.1z"/><path d="M473.4 199.6l1.4 4.3l4.6 0.1l-3.7 2.7l1.4 4.3l-3.7 -2.6l-3.7 2.6l1.3 -4.3l-3.6 -2.7l4.5 -0.1z"/><path d="M368.5 273.2l1.5 4.3l4.5 0.1l-3.6 2.7l1.3 4.3l-3.7 -2.6l-3.7 2.6l1.3 -4.3l-3.6 -2.7l4.5 -0.1z"/><path d="M377.2 267.4l1.5 4.3l4.5 0.1l-3.6 2.7l1.3 4.3l-3.7 -2.6l-3.7 2.6l1.3 -4.3l-3.6 -2.7l4.5 -0.1z"/><path d="M450.5 214l1.5 4.3l4.5 0.1l-3.6 2.7l1.3 4.3l-3.7 -2.6l-3.7 2.6l1.3 -4.3l-3.6 -2.7l4.5 -0.1z"/><path d="M400.3 251.4l1.4 4.3l4.6 0.1l-3.6 2.7l1.3 4.3l-3.7 -2.6l-3.7 2.6l1.3 -4.3l-3.6 -2.7l4.5 -0.1z"/><path d="M372.9 274.3l1.5 4.3l4.5 0.1l-3.6 2.7l1.3 4.3l-3.7 -2.6l-3.7 2.6l1.3 -4.3l-3.6 -2.7l4.6 -0.1z"/><path d="M385.1 258.2l1.5 4.3l4.5 0.1l-3.6 2.7l1.3 4.3l-3.7 -2.6l-3.7 2.6l1.4 -4.3l-3.6 -2.7l4.5 -0.1z"/><path d="M369.7 282.5l1.5 4.3l4.5 0.1l-3.6 2.7l1.3 4.3l-3.7 -2.6l-3.7 2.6l1.3 -4.3l-3.6 -2.7l4.5 -0.1z"/><path d="M297.2 327.3l1.4 4.3l4.5 0.1l-3.6 2.7l1.4 4.3l-3.7 -2.6l-3.8 2.6l1.4 -4.3l-3.6 -2.7l4.5 -0.1z"/><path d="M351.1 288.4l1.5 4.3l4.5 0.1l-3.6 2.7l1.3 4.3l-3.7 -2.6l-3.7 2.6l1.3 -4.3l-3.6 -2.7l4.5 -0.1z"/><path d="M461 211.1l1.4 4.3l4.5 0.1l-3.6 2.7l1.4 4.3l-3.7 -2.6l-3.7 2.6l1.3 -4.3l-3.6 -2.7l4.5 -0.1z"/><path d="M307.2 328l1.4 4.3l4.5 0.1l-3.6 2.7l1.4 4.3l-3.7 -2.6l-3.8 2.6l1.4 -4.3l-3.6 -2.7l4.5 -0.1z"/><path d="M537.2 176.3l1.5 4.3l4.5 0.1l-3.6 2.7l1.3 4.3l-3.7 -2.6l-3.7 2.6l1.3 -4.3l-3.6 -2.7l4.5 -0.1z"/><path d="M397.5 251l1.5 4.2l4.5 0.1l-3.6 2.7l1.3 4.4l-3.7 -2.6l-3.7 2.6l1.3 -4.4l-3.6 -2.7l4.6 -0.1z"/><path d="M401.1 247l1.4 4.2l4.6 0.1l-3.7 2.7l1.4 4.4l-3.7 -2.6l-3.7 2.6l1.3 -4.4l-3.6 -2.7l4.5 -0.1z"/><path d="M400.6 255.1l1.5 4.3l4.5 0.1l-3.6 2.7l1.3 4.3l-3.7 -2.6l-3.7 2.6l1.4 -4.3l-3.7 -2.7l4.6 -0.1z"/><path d="M369.4 276.3l1.4 4.2l4.6 0.1l-3.7 2.7l1.4 4.3l-3.7 -2.5l-3.7 2.5l1.3 -4.3l-3.6 -2.7l4.5 -0.1z"/><path d="M384.3 270.6l1.5 4.3l4.5 0.1l-3.6 2.7l1.3 4.3l-3.7 -2.6l-3.7 2.6l1.3 -4.3l-3.6 -2.7l4.6 -0.1z"/><path d="M407 249.8l1.4 4.3l4.6 0.1l-3.7 2.7l1.4 4.3l-3.7 -2.6l-3.7 2.6l1.3 -4.3l-3.6 -2.7l4.5 -0.1z"/><path d="M370.6 275.7l1.5 4.3l4.5 0.1l-3.6 2.7l1.3 4.3l-3.7 -2.6l-3.7 2.6l1.4 -4.3l-3.7 -2.7l4.6 -0.1z"/><path d="M290.6 336.2l1.5 4.3l4.5 0.1l-3.6 2.7l1.3 4.3l-3.7 -2.6l-3.7 2.6l1.3 -4.3l-3.6 -2.7l4.5 -0.1z"/><path d="M409 245.1l1.5 4.3l4.5 0l-3.6 2.8l1.3 4.3l-3.7 -2.6l-3.7 2.6l1.3 -4.3l-3.6 -2.8l4.5 0z"/><path d="M477.3 200.2l1.5 4.3l4.5 0.1l-3.6 2.7l1.3 4.3l-3.7 -2.6l-3.7 2.6l1.3 -4.3l-3.6 -2.7l4.5 -0.1z"/><path d="M486.8 189.6l1.5 4.3l4.5 0l-3.6 2.8l1.3 4.3l-3.7 -2.6l-3.7 2.6l1.3 -4.3l-3.6 -2.8l4.5 0z"/><path d="M426.7 235.2l1.5 4.2l4.5 0.1l-3.6 2.7l1.3 4.4l-3.7 -2.6l-3.7 2.6l1.3 -4.4l-3.6 -2.7l4.5 -0.1z"/><path d="M370.5 269l1.5 4.3l4.5 0.1l-3.6 2.7l1.3 4.3l-3.7 -2.6l-3.7 2.6l1.4 -4.3l-3.6 -2.7l4.5 -0.1z"/><path d="M377.9 290l1.5 4.2l4.5 0.1l-3.6 2.7l1.3 4.4l-3.7 -2.6l-3.7 2.6l1.4 -4.4l-3.7 -2.7l4.6 -0.1z"/><path d="M496.3 184.4l1.5 4.3l4.5 0.1l-3.6 2.7l1.3 4.3l-3.7 -2.6l-3.7 2.6l1.3 -4.3l-3.6 -2.7l4.5 -0.1z"/><path d="M329.8 303.7l1.5 4.2l4.5 0.1l-3.6 2.7l1.3 4.4l-3.7 -2.6l-3.7 2.6l1.3 -4.4l-3.6 -2.7l4.5 -0.1z"/><path d="M405 248.8l1.5 4.3l4.5 0.1l-3.6 2.7l1.3 4.3l-3.7 -2.6l-3.7 2.6l1.3 -4.3l-3.6 -2.7l4.5 -0.1z"/><path d="M363 280.3l1.5 4.3l4.5 0l-3.6 2.7l1.3 4.4l-3.7 -2.6l-3.7 2.6l1.3 -4.4l-3.6 -2.7l4.5 0z"/><path d="M390 255.4l1.4 4.3l4.5 0.1l-3.6 2.7l1.4 4.3l-3.7 -2.6l-3.8 2.6l1.4 -4.3l-3.6 -2.7l4.5 -0.1z"/><path d="M467.1 205.3l1.5 4.3l4.5 0.1l-3.6 2.7l1.3 4.3l-3.7 -2.6l-3.7 2.6l1.3 -4.3l-3.6 -2.7l4.6 -0.1z"/><path d="M459.4 204.9l1.5 4.2l4.5 0.1l-3.6 2.7l1.3 4.4l-3.7 -2.6l-3.7 2.6l1.3 -4.4l-3.6 -2.7l4.5 -0.1z"/><path d="M353.8 294.4l1.5 4.3l4.5 0.1l-3.6 2.7l1.3 4.3l-3.7 -2.6l-3.7 2.6l1.3 -4.3l-3.6 -2.7l4.5 -0.1z"/><path d="M389.3 276.6l1.4 4.3l4.5 0.1l-3.6 2.7l1.4 4.3l-3.7 -2.6l-3.7 2.6l1.3 -4.3l-3.6 -2.7l4.5 -0.1z"/><path d="M468.5 202.5l1.5 4.3l4.5 0l-3.6 2.7l1.3 4.4l-3.7 -2.6l-3.7 2.6l1.4 -4.4l-3.6 -2.7l4.5 0z"/><path d="M339.1 293.6l1.4 4.3l4.5 0l-3.6 2.7l1.4 4.4l-3.7 -2.6l-3.8 2.6l1.4 -4.4l-3.6 -2.7l4.5 0z"/><path d="M386 269.5l1.5 4.3l4.5 0.1l-3.6 2.7l1.3 4.3l-3.7 -2.6l-3.7 2.6l1.4 -4.3l-3.7 -2.7l4.6 -0.1z"/><path d="M399.9 243.8l1.5 4.3l4.5 0l-3.6 2.8l1.3 4.3l-3.7 -2.6l-3.7 2.6l1.4 -4.3l-3.6 -2.8l4.5 0z"/><path d="M295.8 329.2l1.5 4.3l4.5 0.1l-3.6 2.7l1.3 4.3l-3.7 -2.6l-3.7 2.6l1.3 -4.3l-3.6 -2.7l4.5 -0.1z"/><path d="M375.8 283.8l1.5 4.3l4.5 0.1l-3.6 2.7l1.3 4.3l-3.7 -2.6l-3.7 2.6l1.3 -4.3l-3.6 -2.7l4.5 -0.1z"/><path d="M388 257.7l1.5 4.3l4.5 0.1l-3.6 2.7l1.3 4.3l-3.7 -2.6l-3.7 2.6l1.3 -4.3l-3.6 -2.7l4.5 -0.1z"/><path d="M394.3 251.8l1.4 4.2l4.6 0.1l-3.7 2.7l1.4 4.3l-3.7 -2.5l-3.7 2.5l1.3 -4.3l-3.6 -2.7l4.5 -0.1z"/><path d="M351.1 287.6l1.5 4.3l4.5 0.1l-3.6 2.7l1.3 4.3l-3.7 -2.6l-3.7 2.6l1.3 -4.3l-3.6 -2.7l4.5 -0.1z"/><path d="M480.3 193.1l1.5 4.3l4.5 0.1l-3.6 2.7l1.4 4.3l-3.8 -2.6l-3.7 2.6l1.4 -4.3l-3.6 -2.7l4.5 -0.1z"/><path d="M441.6 218.4l1.5 4.3l4.5 0l-3.6 2.8l1.3 4.3l-3.7 -2.6l-3.7 2.6l1.3 -4.3l-3.6 -2.8l4.6 0z"/><path d="M389.3 259.7l1.5 4.3l4.5 0.1l-3.6 2.7l1.3 4.3l-3.7 -2.6l-3.7 2.6l1.4 -4.3l-3.7 -2.7l4.6 -0.1z"/><path d="M345.2 290.1l1.4 4.3l4.5 0l-3.6 2.8l1.4 4.3l-3.7 -2.6l-3.7 2.6l1.3 -4.3l-3.6 -2.8l4.5 0z"/><path d="M424.4 241.1l1.4 4.3l4.5 0.1l-3.6 2.7l1.4 4.3l-3.7 -2.6l-3.8 2.6l1.4 -4.3l-3.6 -2.7l4.5 -0.1z"/><path d="M364.9 280.7l1.5 4.3l4.5 0.1l-3.6 2.7l1.3 4.3l-3.7 -2.6l-3.7 2.6l1.3 -4.3l-3.6 -2.7l4.5 -0.1z"/><path d="M374.1 275.4l1.5 4.3l4.5 0.1l-3.6 2.7l1.3 4.3l-3.7 -2.6l-3.7 2.6l1.4 -4.3l-3.7 -2.7l4.6 -0.1z"/><path d="M369.1 275.7l1.5 4.3l4.5 0.1l-3.6 2.7l1.3 4.3l-3.7 -2.6l-3.7 2.6l1.3 -4.3l-3.6 -2.7l4.5 -0.1z"/><path d="M472.3 197.5l1.5 4.3l4.5 0.1l-3.6 2.7l1.3 4.3l-3.7 -2.6l-3.7 2.6l1.3 -4.3l-3.6 -2.7l4.5 -0.1z"/><path d="M483.9 188.9l1.5 4.3l4.5 0l-3.6 2.8l1.3 4.3l-3.7 -2.6l-3.7 2.6l1.3 -4.3l-3.6 -2.8l4.5 0z"/><path d="M426.1 231.4l1.5 4.2l4.5 0.1l-3.6 2.7l1.3 4.4l-3.7 -2.6l-3.7 2.6l1.3 -4.4l-3.6 -2.7l4.6 -0.1z"/><path d="M361.3 289.2l1.5 4.3l4.5 0.1l-3.6 2.7l1.3 4.3l-3.7 -2.6l-3.7 2.6l1.4 -4.3l-3.7 -2.7l4.6 -0.1z"/><path d="M343.1 290l1.4 4.3l4.6 0l-3.6 2.8l1.3 4.3l-3.7 -2.6l-3.7 2.6l1.3 -4.3l-3.6 -2.8l4.5 0z"/><path d="M415.8 255.2l1.5 4.3l4.5 0l-3.6 2.8l1.4 4.3l-3.8 -2.6l-3.7 2.6l1.4 -4.3l-3.6 -2.8l4.5 0z"/><path d="M399 253.5l1.4 4.3l4.6 0.1l-3.6 2.7l1.3 4.3l-3.7 -2.6l-3.7 2.6l1.3 -4.3l-3.6 -2.7l4.5 -0.1z"/><path d="M301.1 326.4l1.5 4.3l4.5 0l-3.6 2.8l1.3 4.3l-3.7 -2.6l-3.7 2.6l1.3 -4.3l-3.6 -2.8l4.5 0z"/><path d="M368.6 276.3l1.5 4.3l4.5 0.1l-3.6 2.7l1.3 4.3l-3.7 -2.6l-3.7 2.6l1.4 -4.3l-3.7 -2.7l4.6 -0.1z"/><path d="M413.6 244.6l1.5 4.3l4.5 0.1l-3.6 2.7l1.3 4.3l-3.7 -2.6l-3.7 2.6l1.3 -4.3l-3.6 -2.7l4.5 -0.1z"/><path d="M438.6 222.5l1.5 4.3l4.5 0l-3.6 2.7l1.3 4.4l-3.7 -2.6l-3.7 2.6l1.4 -4.4l-3.7 -2.7l4.6 0z"/><path d="M393.7 261l1.4 4.3l4.5 0l-3.6 2.7l1.4 4.4l-3.7 -2.6l-3.8 2.6l1.4 -4.4l-3.6 -2.7l4.5 0z"/><path d="M401.1 250.7l1.4 4.2l4.6 0.1l-3.7 2.7l1.4 4.4l-3.7 -2.6l-3.7 2.6l1.3 -4.4l-3.6 -2.7l4.5 -0.1z"/><path d="M489.1 191.8l1.5 4.3l4.5 0.1l-3.6 2.7l1.3 4.3l-3.7 -2.6l-3.7 2.6l1.3 -4.3l-3.6 -2.7l4.5 -0.1z"/><path d="M397.3 254.9l1.4 4.3l4.6 0.1l-3.7 2.7l1.4 4.3l-3.7 -2.6l-3.7 2.6l1.3 -4.3l-3.6 -2.7l4.5 -0.1z"/><path d="M422.8 234l1.5 4.3l4.5 0.1l-3.6 2.7l1.3 4.3l-3.7 -2.6l-3.7 2.6l1.3 -4.3l-3.6 -2.7l4.5 -0.1z"/><path d="M368.9 308.8l1.5 4.3l4.5 0l-3.6 2.8l1.3 4.3l-3.7 -2.6l-3.7 2.6l1.4 -4.3l-3.7 -2.8l4.6 0z"/><path d="M318.9 316.1l1.5 4.3l4.5 0l-3.6 2.8l1.3 4.3l-3.7 -2.6l-3.7 2.6l1.3 -4.3l-3.6 -2.8l4.5 0z"/><path d="M464.1 203.6l1.5 4.3l4.5 0l-3.6 2.8l1.3 4.3l-3.7 -2.6l-3.7 2.6l1.3 -4.3l-3.6 -2.8l4.5 0z"/><path d="M308.8 319.4l1.4 4.3l4.5 0.1l-3.6 2.7l1.4 4.3l-3.7 -2.6l-3.8 2.6l1.4 -4.3l-3.6 -2.7l4.5 -0.1z"/><path d="M377.6 266.5l1.4 4.3l4.6 0.1l-3.6 2.7l1.3 4.3l-3.7 -2.6l-3.7 2.6l1.3 -4.3l-3.6 -2.7l4.5 -0.1z"/><path d="M316.5 313.5l1.4 4.3l4.6 0l-3.7 2.8l1.4 4.3l-3.7 -2.6l-3.7 2.6l1.3 -4.3l-3.6 -2.8l4.5 0z"/><path d="M418.7 245.1l1.5 4.3l4.5 0.1l-3.6 2.7l1.3 4.3l-3.7 -2.6l-3.7 2.6l1.3 -4.3l-3.6 -2.7l4.5 -0.1z"/><path d="M443.9 223.3l1.4 4.3l4.6 0l-3.7 2.8l1.4 4.3l-3.7 -2.6l-3.7 2.6l1.3 -4.3l-3.6 -2.8l4.5 0z"/><path d="M412.1 242.8l1.5 4.3l4.5 0l-3.6 2.8l1.3 4.3l-3.7 -2.6l-3.7 2.6l1.4 -4.3l-3.7 -2.8l4.6 0z"/><path d="M334 310.6l1.5 4.3l4.5 0.1l-3.6 2.7l1.3 4.3l-3.7 -2.6l-3.7 2.6l1.3 -4.3l-3.6 -2.7l4.5 -0.1z"/><path d="M425.3 232l1.4 4.3l4.6 0l-3.7 2.7l1.4 4.4l-3.7 -2.6l-3.7 2.6l1.3 -4.4l-3.6 -2.7l4.5 0z"/><path d="M334.4 292.9l1.5 4.3l4.5 0l-3.6 2.8l1.3 4.3l-3.7 -2.6l-3.7 2.6l1.4 -4.3l-3.7 -2.8l4.6 0z"/><path d="M454.4 208.3l1.5 4.3l4.5 0.1l-3.6 2.7l1.3 4.3l-3.7 -2.6l-3.7 2.6l1.3 -4.3l-3.6 -2.7l4.5 -0.1z"/><path d="M385.7 258.5l1.5 4.2l4.5 0.1l-3.6 2.7l1.3 4.3l-3.7 -2.5l-3.7 2.5l1.3 -4.3l-3.6 -2.7l4.6 -0.1z"/><path d="M381.6 275.1l1.5 4.3l4.5 0.1l-3.6 2.7l1.3 4.3l-3.7 -2.6l-3.7 2.6l1.3 -4.3l-3.6 -2.7l4.5 -0.1z"/><path d="M318.7 316.2l1.4 4.3l4.5 0l-3.6 2.8l1.4 4.3l-3.7 -2.6l-3.8 2.6l1.4 -4.3l-3.6 -2.8l4.5 0z"/><path d="M329.8 306.8l1.4 4.3l4.5 0.1l-3.6 2.7l1.4 4.3l-3.7 -2.6l-3.7 2.6l1.3 -4.3l-3.6 -2.7l4.5 -0.1z"/><path d="M367.9 274.5l1.5 4.3l4.5 0.1l-3.6 2.7l1.3 4.3l-3.7 -2.6l-3.7 2.6l1.3 -4.3l-3.6 -2.7l4.5 -0.1z"/><path d="M403 249.8l1.5 4.3l4.5 0l-3.6 2.8l1.3 4.3l-3.7 -2.6l-3.7 2.6l1.3 -4.3l-3.6 -2.8l4.6 0z"/><path d="M443.6 214.8l1.5 4.3l4.5 0.1l-3.6 2.7l1.3 4.3l-3.7 -2.6l-3.7 2.6l1.3 -4.3l-3.6 -2.7l4.5 -0.1z"/><path d="M466.1 196.7l1.5 4.3l4.5 0.1l-3.6 2.7l1.3 4.3l-3.7 -2.6l-3.7 2.6l1.3 -4.3l-3.6 -2.7l4.5 -0.1z"/><path d="M397.4 263l1.5 4.3l4.5 0l-3.6 2.8l1.3 4.3l-3.7 -2.6l-3.7 2.6l1.3 -4.3l-3.6 -2.8l4.6 0z"/><path d="M325.4 310.5l1.4 4.3l4.6 0.1l-3.6 2.7l1.3 4.3l-3.7 -2.6l-3.7 2.6l1.3 -4.3l-3.6 -2.7l4.5 -0.1z"/><path d="M340.1 302l1.4 4.3l4.6 0.1l-3.7 2.7l1.4 4.3l-3.7 -2.6l-3.7 2.6l1.3 -4.3l-3.6 -2.7l4.5 -0.1z"/><path d="M296.3 339l1.4 4.3l4.6 0.1l-3.7 2.7l1.4 4.3l-3.7 -2.6l-3.7 2.6l1.3 -4.3l-3.6 -2.7l4.5 -0.1z"/><path d="M474.4 203.9l1.5 4.3l4.5 0.1l-3.6 2.7l1.3 4.3l-3.7 -2.6l-3.7 2.6l1.4 -4.3l-3.6 -2.7l4.5 -0.1z"/><path d="M365.7 281.3l1.5 4.2l4.5 0.1l-3.6 2.7l1.3 4.4l-3.7 -2.6l-3.7 2.6l1.3 -4.4l-3.6 -2.7l4.5 -0.1z"/><path d="M411.4 255.5l1.5 4.2l4.5 0.1l-3.6 2.7l1.3 4.4l-3.7 -2.6l-3.7 2.6l1.4 -4.4l-3.7 -2.7l4.6 -0.1z"/><path d="M388.6 255.5l1.5 4.3l4.5 0l-3.6 2.8l1.3 4.3l-3.7 -2.6l-3.7 2.6l1.3 -4.3l-3.6 -2.8l4.5 0z"/><path d="M430.1 237.6l1.5 4.3l4.5 0l-3.6 2.8l1.3 4.3l-3.7 -2.6l-3.7 2.6l1.3 -4.3l-3.6 -2.8l4.6 0z"/><path d="M431.5 225.1l1.4 4.2l4.6 0.1l-3.6 2.7l1.3 4.4l-3.7 -2.6l-3.7 2.6l1.3 -4.4l-3.6 -2.7l4.5 -0.1z"/><path d="M353.9 288.4l1.5 4.2l4.5 0.1l-3.6 2.7l1.3 4.3l-3.7 -2.5l-3.7 2.5l1.3 -4.3l-3.6 -2.7l4.5 -0.1z"/><path d="M374.9 268.5l1.5 4.3l4.5 0.1l-3.6 2.7l1.3 4.3l-3.7 -2.6l-3.7 2.6l1.3 -4.3l-3.6 -2.7l4.5 -0.1z"/><path d="M387.3 256.5l1.5 4.2l4.5 0.1l-3.6 2.7l1.3 4.4l-3.7 -2.6l-3.7 2.6l1.4 -4.4l-3.6 -2.7l4.5 -0.1z"/><path d="M359.7 275.2l1.5 4.3l4.5 0l-3.6 2.7l1.3 4.4l-3.7 -2.6l-3.7 2.6l1.3 -4.4l-3.6 -2.7l4.5 0z"/><path d="M398.6 262.8l1.5 4.2l4.5 0.1l-3.6 2.7l1.3 4.4l-3.7 -2.6l-3.7 2.6l1.4 -4.4l-3.7 -2.7l4.6 -0.1z"/><path d="M415.8 239.6l1.5 4.2l4.5 0.1l-3.6 2.7l1.3 4.4l-3.7 -2.6l-3.7 2.6l1.4 -4.4l-3.7 -2.7l4.6 -0.1z"/><path d="M425.6 232.3l1.4 4.3l4.5 0l-3.6 2.8l1.4 4.3l-3.7 -2.6l-3.7 2.6l1.3 -4.3l-3.6 -2.8l4.5 0z"/><path d="M316 319.5l1.5 4.3l4.5 0.1l-3.6 2.7l1.3 4.3l-3.7 -2.6l-3.7 2.6l1.4 -4.3l-3.7 -2.7l4.6 -0.1z"/><path d="M373.1 275.2l1.5 4.3l4.5 0.1l-3.6 2.7l1.3 4.3l-3.7 -2.6l-3.7 2.6l1.3 -4.3l-3.6 -2.7l4.5 -0.1z"/><path d="M367.2 275.9l1.4 4.3l4.5 0l-3.6 2.8l1.4 4.3l-3.7 -2.6l-3.7 2.6l1.3 -4.3l-3.6 -2.8l4.5 0z"/><path d="M406.2 247.6l1.5 4.3l4.5 0.1l-3.6 2.7l1.3 4.3l-3.7 -2.6l-3.7 2.6l1.3 -4.3l-3.6 -2.7l4.5 -0.1z"/><path d="M323.5 305.1l1.5 4.2l4.5 0.1l-3.6 2.7l1.3 4.4l-3.7 -2.6l-3.7 2.6l1.3 -4.4l-3.6 -2.7l4.6 -0.1z"/><path d="M325.6 311.8l1.4 4.2l4.6 0.1l-3.7 2.7l1.4 4.4l-3.7 -2.6l-3.7 2.6l1.3 -4.4l-3.6 -2.7l4.5 -0.1z"/><path d="M467 209.8l1.5 4.3l4.5 0.1l-3.6 2.7l1.3 4.3l-3.7 -2.6l-3.7 2.6l1.3 -4.3l-3.6 -2.7l4.5 -0.1z"/><path d="M385.3 265.4l1.5 4.3l4.5 0.1l-3.6 2.7l1.3 4.3l-3.7 -2.6l-3.7 2.6l1.3 -4.3l-3.6 -2.7l4.5 -0.1z"/><path d="M432.8 244.5l1.4 4.3l4.6 0.1l-3.7 2.7l1.4 4.3l-3.7 -2.6l-3.7 2.6l1.3 -4.3l-3.6 -2.7l4.5 -0.1z"/><path d="M335.6 302.7l1.5 4.3l4.5 0l-3.6 2.8l1.3 4.3l-3.7 -2.6l-3.7 2.6l1.4 -4.3l-3.7 -2.8l4.6 0z"/><path d="M463.3 198.7l1.5 4.3l4.5 0l-3.6 2.8l1.3 4.3l-3.7 -2.6l-3.7 2.6l1.4 -4.3l-3.7 -2.8l4.6 0z"/><path d="M361 283l1.5 4.3l4.5 0.1l-3.6 2.7l1.3 4.3l-3.7 -2.6l-3.7 2.6l1.4 -4.3l-3.7 -2.7l4.6 -0.1z"/><path d="M402 247.7l1.5 4.3l4.5 0.1l-3.6 2.7l1.3 4.3l-3.7 -2.6l-3.7 2.6l1.3 -4.3l-3.6 -2.7l4.5 -0.1z"/><path d="M303 320.5l1.5 4.3l4.5 0l-3.6 2.7l1.3 4.4l-3.7 -2.6l-3.7 2.6l1.3 -4.4l-3.6 -2.7l4.5 0z"/><path d="M419 235.4l1.5 4.3l4.5 0l-3.6 2.7l1.3 4.4l-3.7 -2.6l-3.7 2.6l1.3 -4.4l-3.6 -2.7l4.5 0z"/><path d="M335.8 301.5l1.5 4.3l4.5 0.1l-3.6 2.7l1.3 4.3l-3.7 -2.6l-3.7 2.6l1.3 -4.3l-3.6 -2.7l4.5 -0.1z"/><path d="M422.6 227.9l1.5 4.3l4.5 0.1l-3.6 2.7l1.3 4.3l-3.7 -2.6l-3.7 2.6l1.4 -4.3l-3.7 -2.7l4.6 -0.1z"/><path d="M356.1 302.1l1.5 4.3l4.5 0l-3.6 2.7l1.3 4.4l-3.7 -2.6l-3.7 2.6l1.3 -4.4l-3.6 -2.7l4.5 0z"/><path d="M314 308.1l1.4 4.3l4.6 0l-3.7 2.7l1.4 4.4l-3.7 -2.6l-3.7 2.6l1.3 -4.4l-3.6 -2.7l4.5 0z"/><path d="M504.3 176.8l1.5 4.3l4.5 0.1l-3.6 2.7l1.3 4.3l-3.7 -2.6l-3.7 2.6l1.3 -4.3l-3.6 -2.7l4.5 -0.1z"/><path d="M437.5 223.9l1.5 4.3l4.5 0l-3.6 2.8l1.4 4.3l-3.8 -2.6l-3.7 2.6l1.4 -4.3l-3.6 -2.8l4.5 0z"/><path d="M454 210.4l1.5 4.2l4.5 0.1l-3.6 2.7l1.3 4.4l-3.7 -2.6l-3.7 2.6l1.3 -4.4l-3.6 -2.7l4.5 -0.1z"/><path d="M472.1 208.9l1.5 4.3l4.5 0l-3.6 2.8l1.3 4.3l-3.7 -2.6l-3.7 2.6l1.4 -4.3l-3.7 -2.8l4.6 0z"/><path d="M342.6 299.4l1.5 4.2l4.5 0.1l-3.6 2.7l1.3 4.4l-3.7 -2.6l-3.7 2.6l1.3 -4.4l-3.6 -2.7l4.6 -0.1z"/><path d="M495.9 190.2l1.5 4.3l4.5 0l-3.6 2.7l1.3 4.4l-3.7 -2.6l-3.7 2.6l1.3 -4.4l-3.6 -2.7l4.5 0z"/><path d="M310.4 321.3l1.4 4.3l4.6 0l-3.6 2.8l1.3 4.3l-3.7 -2.6l-3.7 2.6l1.3 -4.3l-3.6 -2.8l4.5 0z"/><path d="M352.8 293.7l1.4 4.3l4.6 0l-3.7 2.8l1.4 4.3l-3.7 -2.6l-3.7 2.6l1.3 -4.3l-3.6 -2.8l4.5 0z"/><path d="M406.9 250l1.4 4.3l4.6 0l-3.7 2.8l1.4 4.3l-3.7 -2.6l-3.7 2.6l1.3 -4.3l-3.6 -2.8l4.5 0z"/><path d="M401.1 248.2l1.5 4.3l4.5 0.1l-3.6 2.7l1.3 4.3l-3.7 -2.6l-3.7 2.6l1.3 -4.3l-3.6 -2.7l4.5 -0.1z"/><path d="M384.7 263l1.5 4.3l4.5 0l-3.6 2.8l1.3 4.3l-3.7 -2.6l-3.7 2.6l1.3 -4.3l-3.6 -2.8l4.5 0z"/><path d="M473.2 201.2l1.5 4.3l4.5 0.1l-3.6 2.7l1.4 4.3l-3.8 -2.6l-3.7 2.6l1.4 -4.3l-3.6 -2.7l4.5 -0.1z"/><path d="M367.1 276.7l1.5 4.3l4.5 0l-3.6 2.8l1.3 4.3l-3.7 -2.6l-3.7 2.6l1.3 -4.3l-3.6 -2.8l4.6 0z"/><path d="M398.6 254.6l1.5 4.3l4.5 0l-3.6 2.8l1.3 4.3l-3.7 -2.6l-3.7 2.6l1.3 -4.3l-3.6 -2.8l4.5 0z"/><path d="M491 189.4l1.5 4.3l4.5 0.1l-3.6 2.7l1.3 4.3l-3.7 -2.6l-3.7 2.6l1.3 -4.3l-3.6 -2.7l4.5 -0.1z"/><path d="M359.6 284.5l1.5 4.3l4.5 0.1l-3.6 2.7l1.3 4.3l-3.7 -2.6l-3.7 2.6l1.3 -4.3l-3.6 -2.7l4.5 -0.1z"/><path d="M492.7 188.7l1.5 4.3l4.5 0.1l-3.6 2.7l1.3 4.3l-3.7 -2.6l-3.7 2.6l1.4 -4.3l-3.6 -2.7l4.5 -0.1z"/><path d="M297.4 329.8l1.4 4.2l4.6 0.1l-3.7 2.7l1.4 4.4l-3.7 -2.6l-3.7 2.6l1.3 -4.4l-3.6 -2.7l4.5 -0.1z"/><path d="M439.9 211.9l1.4 4.2l4.5 0.1l-3.6 2.7l1.4 4.4l-3.7 -2.6l-3.7 2.6l1.3 -4.4l-3.6 -2.7l4.5 -0.1z"/><path d="M398.8 255.1l1.4 4.3l4.6 0.1l-3.7 2.7l1.4 4.3l-3.7 -2.6l-3.7 2.6l1.3 -4.3l-3.6 -2.7l4.5 -0.1z"/><path d="M384.8 260.7l1.5 4.3l4.5 0.1l-3.6 2.7l1.3 4.3l-3.7 -2.6l-3.7 2.6l1.3 -4.3l-3.6 -2.7l4.6 -0.1z"/><path d="M395.1 253.1l1.5 4.3l4.5 0.1l-3.6 2.7l1.3 4.3l-3.7 -2.6l-3.7 2.6l1.3 -4.3l-3.6 -2.7l4.5 -0.1z"/><path d="M465 219.7l1.5 4.3l4.5 0.1l-3.6 2.7l1.3 4.3l-3.7 -2.6l-3.7 2.6l1.3 -4.3l-3.6 -2.7l4.5 -0.1z"/><path d="M350.8 291l1.5 4.3l4.5 0.1l-3.6 2.7l1.3 4.3l-3.7 -2.6l-3.7 2.6l1.3 -4.3l-3.6 -2.7l4.6 -0.1z"/><path d="M368.2 276.3l1.5 4.3l4.5 0.1l-3.6 2.7l1.3 4.3l-3.7 -2.6l-3.7 2.6l1.3 -4.3l-3.6 -2.7l4.5 -0.1z"/><path d="M343.4 295.1l1.5 4.3l4.5 0.1l-3.6 2.7l1.3 4.3l-3.7 -2.6l-3.7 2.6l1.3 -4.3l-3.6 -2.7l4.5 -0.1z"/><path d="M314.2 314.4l1.5 4.3l4.5 0.1l-3.6 2.7l1.3 4.3l-3.7 -2.6l-3.7 2.6l1.3 -4.3l-3.6 -2.7l4.6 -0.1z"/><path d="M396.8 252.8l1.5 4.2l4.5 0.1l-3.6 2.7l1.3 4.4l-3.7 -2.6l-3.7 2.6l1.3 -4.4l-3.6 -2.7l4.5 -0.1z"/><path d="M380.4 268.7l1.5 4.3l4.5 0.1l-3.6 2.7l1.3 4.3l-3.7 -2.6l-3.7 2.6l1.3 -4.3l-3.6 -2.7l4.6 -0.1z"/><path d="M485.3 200.4l1.4 4.2l4.5 0.1l-3.6 2.7l1.4 4.4l-3.7 -2.6l-3.8 2.6l1.4 -4.4l-3.6 -2.7l4.5 -0.1z"/><path d="M344.2 298.4l1.5 4.3l4.5 0l-3.6 2.8l1.3 4.3l-3.7 -2.6l-3.7 2.6l1.3 -4.3l-3.6 -2.8l4.5 0z"/><path d="M340.4 293.9l1.5 4.3l4.5 0.1l-3.6 2.7l1.3 4.3l-3.7 -2.6l-3.7 2.6l1.3 -4.3l-3.6 -2.7l4.5 -0.1z"/><path d="M322.9 311.3l1.5 4.2l4.5 0.1l-3.6 2.7l1.3 4.4l-3.7 -2.6l-3.7 2.6l1.3 -4.4l-3.6 -2.7l4.6 -0.1z"/><path d="M417.7 237.4l1.4 4.3l4.5 0l-3.6 2.8l1.4 4.3l-3.7 -2.6l-3.8 2.6l1.4 -4.3l-3.6 -2.8l4.5 0z"/><path d="M472.5 196.5l1.5 4.2l4.5 0.1l-3.6 2.7l1.3 4.4l-3.7 -2.6l-3.7 2.6l1.3 -4.4l-3.6 -2.7l4.5 -0.1z"/><path d="M415.8 241.8l1.5 4.3l4.5 0l-3.6 2.7l1.3 4.4l-3.7 -2.6l-3.7 2.6l1.4 -4.4l-3.7 -2.7l4.6 0z"/><path d="M335.8 305.6l1.4 4.2l4.6 0.1l-3.7 2.7l1.4 4.4l-3.7 -2.6l-3.7 2.6l1.3 -4.4l-3.6 -2.7l4.5 -0.1z"/><path d="M359 286.2l1.4 4.3l4.6 0l-3.6 2.8l1.3 4.3l-3.7 -2.6l-3.7 2.6l1.3 -4.3l-3.6 -2.8l4.5 0z"/><path d="M362.3 280.7l1.5 4.2l4.5 0.1l-3.6 2.7l1.3 4.4l-3.7 -2.6l-3.7 2.6l1.3 -4.4l-3.6 -2.7l4.5 -0.1z"/><path d="M291.5 331.3l1.4 4.3l4.6 0.1l-3.7 2.7l1.4 4.3l-3.7 -2.6l-3.7 2.6l1.3 -4.3l-3.6 -2.7l4.5 -0.1z"/><path d="M380.1 267.5l1.5 4.3l4.5 0.1l-3.6 2.7l1.3 4.3l-3.7 -2.6l-3.7 2.6l1.3 -4.3l-3.6 -2.7l4.6 -0.1z"/><path d="M362.6 277.6l1.5 4.3l4.5 0.1l-3.6 2.7l1.3 4.3l-3.7 -2.6l-3.7 2.6l1.4 -4.3l-3.7 -2.7l4.6 -0.1z"/><path d="M419 247.2l1.4 4.3l4.6 0.1l-3.6 2.7l1.3 4.3l-3.7 -2.6l-3.7 2.6l1.3 -4.3l-3.6 -2.7l4.5 -0.1z"/><path d="M452.9 215.3l1.5 4.2l4.5 0.1l-3.6 2.7l1.3 4.4l-3.7 -2.6l-3.7 2.6l1.4 -4.4l-3.6 -2.7l4.5 -0.1z"/><path d="M473.8 231.9l1.5 4.3l4.5 0.1l-3.6 2.7l1.3 4.3l-3.7 -2.6l-3.7 2.6l1.3 -4.3l-3.6 -2.7l4.5 -0.1z"/><path d="M352.2 282.8l1.4 4.3l4.6 0.1l-3.7 2.7l1.4 4.3l-3.7 -2.6l-3.7 2.6l1.3 -4.3l-3.6 -2.7l4.5 -0.1z"/><path d="M424 248.7l1.5 4.3l4.5 0.1l-3.6 2.7l1.3 4.3l-3.7 -2.6l-3.7 2.6l1.3 -4.3l-3.6 -2.7l4.5 -0.1z"/><path d="M350.9 289.6l1.5 4.3l4.5 0.1l-3.6 2.7l1.3 4.3l-3.7 -2.6l-3.7 2.6l1.3 -4.3l-3.6 -2.7l4.5 -0.1z"/><path d="M464.6 204.3l1.5 4.2l4.5 0.1l-3.6 2.7l1.3 4.4l-3.7 -2.6l-3.7 2.6l1.4 -4.4l-3.7 -2.7l4.6 -0.1z"/><path d="M308 323.7l1.5 4.3l4.5 0.1l-3.6 2.7l1.3 4.3l-3.7 -2.6l-3.7 2.6l1.4 -4.3l-3.7 -2.7l4.6 -0.1z"/><path d="M399.6 272.5l1.4 4.2l4.6 0.1l-3.7 2.7l1.4 4.4l-3.7 -2.6l-3.7 2.6l1.3 -4.4l-3.6 -2.7l4.5 -0.1z"/><path d="M462.1 209.1l1.5 4.3l4.5 0.1l-3.6 2.7l1.3 4.3l-3.7 -2.6l-3.7 2.6l1.3 -4.3l-3.6 -2.7l4.5 -0.1z"/><path d="M405.7 243.7l1.4 4.2l4.5 0.1l-3.6 2.7l1.4 4.4l-3.7 -2.6l-3.7 2.6l1.3 -4.4l-3.6 -2.7l4.5 -0.1z"/><path d="M330.5 301.1l1.5 4.3l4.5 0.1l-3.6 2.7l1.3 4.3l-3.7 -2.6l-3.7 2.6l1.3 -4.3l-3.6 -2.7l4.5 -0.1z"/><path d="M463.1 202.5l1.4 4.3l4.6 0.1l-3.6 2.7l1.3 4.3l-3.7 -2.6l-3.7 2.6l1.3 -4.3l-3.6 -2.7l4.5 -0.1z"/><path d="M349.2 299.1l1.5 4.3l4.5 0l-3.6 2.8l1.3 4.3l-3.7 -2.6l-3.7 2.6l1.4 -4.3l-3.6 -2.8l4.5 0z"/><path d="M426.7 230.2l1.5 4.3l4.5 0l-3.6 2.8l1.3 4.3l-3.7 -2.6l-3.7 2.6l1.4 -4.3l-3.7 -2.8l4.6 0z"/><path d="M422.3 233.9l1.4 4.3l4.5 0.1l-3.6 2.7l1.4 4.3l-3.7 -2.6l-3.8 2.6l1.4 -4.3l-3.6 -2.7l4.5 -0.1z"/><path d="M465.1 205.9l1.5 4.2l4.5 0.1l-3.6 2.7l1.3 4.3l-3.7 -2.5l-3.7 2.5l1.3 -4.3l-3.6 -2.7l4.5 -0.1z"/><path d="M485.9 185.9l1.4 4.3l4.5 0l-3.6 2.8l1.4 4.3l-3.7 -2.6l-3.8 2.6l1.4 -4.3l-3.6 -2.8l4.5 0z"/><path d="M591.5 129.2l1.5 4.3l4.5 0.1l-3.6 2.7l1.3 4.3l-3.7 -2.6l-3.7 2.6l1.3 -4.3l-3.6 -2.7l4.5 -0.1z"/><path d="M478.8 197.9l1.5 4.3l4.5 0.1l-3.6 2.7l1.3 4.3l-3.7 -2.6l-3.7 2.6l1.3 -4.3l-3.6 -2.7l4.5 -0.1z"/><path d="M410.2 244.1l1.4 4.3l4.5 0.1l-3.6 2.7l1.4 4.3l-3.7 -2.6l-3.8 2.6l1.4 -4.3l-3.6 -2.7l4.5 -0.1z"/><path d="M471.3 202.9l1.5 4.3l4.5 0.1l-3.6 2.7l1.3 4.3l-3.7 -2.6l-3.7 2.6l1.3 -4.3l-3.6 -2.7l4.5 -0.1z"/><path d="M423.5 234.2l1.4 4.3l4.5 0l-3.6 2.8l1.4 4.3l-3.7 -2.6l-3.7 2.6l1.3 -4.3l-3.6 -2.8l4.5 0z"/><path d="M351.8 286l1.5 4.3l4.5 0.1l-3.6 2.7l1.3 4.3l-3.7 -2.6l-3.7 2.6l1.4 -4.3l-3.7 -2.7l4.6 -0.1z"/><path d="M339 299.3l1.5 4.2l4.5 0.1l-3.6 2.7l1.3 4.4l-3.7 -2.6l-3.7 2.6l1.3 -4.4l-3.6 -2.7l4.5 -0.1z"/><path d="M346.9 290.1l1.5 4.3l4.5 0.1l-3.6 2.7l1.3 4.3l-3.7 -2.6l-3.7 2.6l1.4 -4.3l-3.7 -2.7l4.6 -0.1z"/><path d="M450 211.8l1.5 4.3l4.5 0l-3.6 2.8l1.3 4.3l-3.7 -2.6l-3.7 2.6l1.3 -4.3l-3.6 -2.8l4.5 0z"/><path d="M356.8 298l1.5 4.2l4.5 0.1l-3.6 2.7l1.3 4.4l-3.7 -2.6l-3.7 2.6l1.3 -4.4l-3.6 -2.7l4.5 -0.1z"/><path d="M453.2 223.7l1.4 4.3l4.6 0.1l-3.6 2.7l1.3 4.3l-3.7 -2.6l-3.7 2.6l1.3 -4.3l-3.6 -2.7l4.5 -0.1z"/><path d="M296.1 331.6l1.5 4.2l4.5 0.1l-3.6 2.7l1.3 4.4l-3.7 -2.6l-3.7 2.6l1.3 -4.4l-3.6 -2.7l4.5 -0.1z"/><path d="M477.5 192.9l1.5 4.3l4.5 0l-3.6 2.7l1.3 4.4l-3.7 -2.6l-3.7 2.6l1.4 -4.4l-3.7 -2.7l4.6 0z"/><path d="M312.1 317.6l1.5 4.3l4.5 0l-3.6 2.8l1.3 4.3l-3.7 -2.6l-3.7 2.6l1.3 -4.3l-3.6 -2.8l4.5 0z"/><path d="M470.1 189l1.5 4.2l4.5 0.1l-3.6 2.7l1.4 4.3l-3.8 -2.5l-3.7 2.5l1.4 -4.3l-3.6 -2.7l4.5 -0.1z"/><path d="M421.3 232l1.4 4.3l4.6 0.1l-3.6 2.7l1.3 4.3l-3.7 -2.6l-3.7 2.6l1.3 -4.3l-3.6 -2.7l4.5 -0.1z"/><path d="M315.1 317.1l1.4 4.2l4.5 0.1l-3.6 2.7l1.4 4.4l-3.7 -2.6l-3.7 2.6l1.3 -4.4l-3.6 -2.7l4.5 -0.1z"/><path d="M390.1 257.2l1.5 4.3l4.5 0.1l-3.6 2.7l1.3 4.3l-3.7 -2.6l-3.7 2.6l1.3 -4.3l-3.6 -2.7l4.5 -0.1z"/><path d="M296.9 336l1.4 4.2l4.5 0.1l-3.6 2.7l1.4 4.4l-3.7 -2.6l-3.7 2.6l1.3 -4.4l-3.6 -2.7l4.5 -0.1z"/><path d="M455.8 197.9l1.5 4.3l4.5 0.1l-3.6 2.7l1.3 4.3l-3.7 -2.6l-3.7 2.6l1.3 -4.3l-3.6 -2.7l4.5 -0.1z"/><path d="M346.6 289.2l1.4 4.3l4.5 0l-3.6 2.8l1.4 4.3l-3.7 -2.6l-3.7 2.6l1.3 -4.3l-3.6 -2.8l4.5 0z"/><path d="M392.2 226.9l1.5 4.3l4.5 0.1l-3.6 2.7l1.3 4.3l-3.7 -2.6l-3.7 2.6l1.3 -4.3l-3.6 -2.7l4.5 -0.1z"/><path d="M469.3 199.9l1.5 4.3l4.5 0.1l-3.6 2.7l1.3 4.3l-3.7 -2.6l-3.7 2.6l1.4 -4.3l-3.6 -2.7l4.5 -0.1z"/><path d="M298.3 337.1l1.4 4.3l4.6 0.1l-3.6 2.7l1.3 4.3l-3.7 -2.6l-3.7 2.6l1.3 -4.3l-3.6 -2.7l4.5 -0.1z"/><path d="M376.8 270.4l1.5 4.3l4.5 0l-3.6 2.8l1.3 4.3l-3.7 -2.6l-3.7 2.6l1.3 -4.3l-3.6 -2.8l4.5 0z"/><path d="M340.3 295.5l1.5 4.2l4.5 0.1l-3.6 2.7l1.3 4.4l-3.7 -2.6l-3.7 2.6l1.4 -4.4l-3.7 -2.7l4.6 -0.1z"/><path d="M396.6 254.6l1.5 4.2l4.5 0.1l-3.6 2.7l1.3 4.4l-3.7 -2.6l-3.7 2.6l1.4 -4.4l-3.7 -2.7l4.6 -0.1z"/><path d="M376.5 289l1.5 4.3l4.5 0.1l-3.6 2.7l1.3 4.3l-3.7 -2.6l-3.7 2.6l1.3 -4.3l-3.6 -2.7l4.5 -0.1z"/><path d="M476.3 195.9l1.4 4.3l4.6 0.1l-3.6 2.7l1.3 4.3l-3.7 -2.6l-3.7 2.6l1.3 -4.3l-3.6 -2.7l4.5 -0.1z"/><path d="M310.4 328.3l1.4 4.3l4.5 0l-3.6 2.8l1.4 4.3l-3.7 -2.6l-3.8 2.6l1.4 -4.3l-3.6 -2.8l4.5 0z"/><path d="M449.2 223.8l1.5 4.3l4.5 0.1l-3.6 2.7l1.3 4.3l-3.7 -2.6l-3.7 2.6l1.3 -4.3l-3.6 -2.7l4.5 -0.1z"/><path d="M414.9 241.3l1.4 4.3l4.6 0l-3.7 2.7l1.4 4.4l-3.7 -2.6l-3.7 2.6l1.3 -4.4l-3.6 -2.7l4.5 0z"/><path d="M321.9 311.9l1.4 4.3l4.6 0l-3.7 2.8l1.4 4.3l-3.7 -2.6l-3.7 2.6l1.3 -4.3l-3.6 -2.8l4.5 0z"/><path d="M379.4 263l1.5 4.3l4.5 0l-3.6 2.8l1.3 4.3l-3.7 -2.6l-3.7 2.6l1.4 -4.3l-3.7 -2.8l4.6 0z"/><path d="M411.4 247.7l1.5 4.3l4.5 0.1l-3.6 2.7l1.3 4.3l-3.7 -2.6l-3.7 2.6l1.4 -4.3l-3.7 -2.7l4.6 -0.1z"/><path d="M340.9 297.8l1.5 4.2l4.5 0.1l-3.6 2.7l1.4 4.3l-3.8 -2.5l-3.7 2.5l1.4 -4.3l-3.6 -2.7l4.5 -0.1z"/><path d="M366.3 277.1l1.5 4.3l4.5 0.1l-3.6 2.7l1.3 4.3l-3.7 -2.6l-3.7 2.6l1.3 -4.3l-3.6 -2.7l4.5 -0.1z"/><path d="M472.9 196.1l1.5 4.2l4.5 0.1l-3.6 2.7l1.3 4.3l-3.7 -2.5l-3.7 2.5l1.3 -4.3l-3.6 -2.7l4.6 -0.1z"/><path d="M377.5 272.6l1.5 4.3l4.5 0.1l-3.6 2.7l1.3 4.3l-3.7 -2.6l-3.7 2.6l1.4 -4.3l-3.7 -2.7l4.6 -0.1z"/><path d="M394.1 255.3l1.4 4.2l4.6 0.1l-3.7 2.7l1.4 4.4l-3.7 -2.6l-3.7 2.6l1.3 -4.4l-3.6 -2.7l4.5 -0.1z"/><path d="M347.6 293.3l1.5 4.3l4.5 0.1l-3.6 2.7l1.4 4.3l-3.8 -2.6l-3.7 2.6l1.4 -4.3l-3.6 -2.7l4.5 -0.1z"/><path d="M298.5 331l1.4 4.3l4.5 0l-3.6 2.7l1.4 4.4l-3.7 -2.6l-3.7 2.6l1.3 -4.4l-3.6 -2.7l4.5 0z"/><path d="M298.3 332.7l1.4 4.3l4.6 0l-3.7 2.8l1.4 4.3l-3.7 -2.6l-3.7 2.6l1.3 -4.3l-3.6 -2.8l4.5 0z"/><path d="M330.9 294.6l1.5 4.3l4.5 0.1l-3.6 2.7l1.3 4.3l-3.7 -2.6l-3.7 2.6l1.3 -4.3l-3.6 -2.7l4.5 -0.1z"/><path d="M496.9 189.4l1.4 4.3l4.6 0l-3.6 2.8l1.3 4.3l-3.7 -2.6l-3.7 2.6l1.3 -4.3l-3.6 -2.8l4.5 0z"/><path d="M397.4 256l1.4 4.3l4.6 0l-3.6 2.8l1.3 4.3l-3.7 -2.6l-3.7 2.6l1.3 -4.3l-3.6 -2.8l4.5 0z"/><path d="M351.6 296.8l1.5 4.2l4.5 0.1l-3.6 2.7l1.4 4.4l-3.8 -2.6l-3.7 2.6l1.4 -4.4l-3.6 -2.7l4.5 -0.1z"/><path d="M316.1 320.7l1.5 4.3l4.5 0.1l-3.6 2.7l1.3 4.3l-3.7 -2.6l-3.7 2.6l1.4 -4.3l-3.6 -2.7l4.5 -0.1z"/><path d="M433.2 229.2l1.4 4.2l4.6 0.1l-3.7 2.7l1.4 4.4l-3.7 -2.6l-3.7 2.6l1.3 -4.4l-3.6 -2.7l4.5 -0.1z"/><path d="M404.3 251.1l1.5 4.3l4.5 0l-3.6 2.8l1.3 4.3l-3.7 -2.6l-3.7 2.6l1.3 -4.3l-3.6 -2.8l4.5 0z"/><path d="M431.9 222.7l1.5 4.3l4.5 0.1l-3.6 2.7l1.3 4.3l-3.7 -2.6l-3.7 2.6l1.3 -4.3l-3.6 -2.7l4.5 -0.1z"/><path d="M401.5 245.9l1.5 4.2l4.5 0.1l-3.6 2.7l1.3 4.4l-3.7 -2.6l-3.7 2.6l1.3 -4.4l-3.6 -2.7l4.6 -0.1z"/><path d="M331.6 311.6l1.4 4.3l4.5 0l-3.6 2.8l1.4 4.3l-3.7 -2.6l-3.8 2.6l1.4 -4.3l-3.6 -2.8l4.5 0z"/><path d="M396 276.2l1.5 4.3l4.5 0.1l-3.6 2.7l1.3 4.3l-3.7 -2.6l-3.7 2.6l1.3 -4.3l-3.6 -2.7l4.5 -0.1z"/><path d="M423 244.4l1.4 4.2l4.6 0.1l-3.6 2.7l1.3 4.4l-3.7 -2.6l-3.7 2.6l1.3 -4.4l-3.6 -2.7l4.5 -0.1z"/><path d="M343.3 295.4l1.5 4.3l4.5 0l-3.6 2.7l1.4 4.4l-3.8 -2.6l-3.7 2.6l1.4 -4.4l-3.6 -2.7l4.5 0z"/><path d="M442.9 240.1l1.5 4.3l4.5 0.1l-3.6 2.7l1.3 4.3l-3.7 -2.6l-3.7 2.6l1.3 -4.3l-3.6 -2.7l4.5 -0.1z"/><path d="M408 248.7l1.4 4.3l4.6 0.1l-3.6 2.7l1.3 4.3l-3.7 -2.6l-3.7 2.6l1.3 -4.3l-3.6 -2.7l4.5 -0.1z"/><path d="M405.7 257.4l1.5 4.3l4.5 0.1l-3.6 2.7l1.3 4.3l-3.7 -2.6l-3.7 2.6l1.4 -4.3l-3.7 -2.7l4.6 -0.1z"/><path d="M405.3 246.6l1.5 4.3l4.5 0.1l-3.6 2.7l1.3 4.3l-3.7 -2.6l-3.7 2.6l1.4 -4.3l-3.7 -2.7l4.6 -0.1z"/><path d="M322.1 307.4l1.4 4.2l4.6 0.1l-3.7 2.7l1.4 4.4l-3.7 -2.6l-3.7 2.6l1.3 -4.4l-3.6 -2.7l4.5 -0.1z"/><path d="M343.7 284.6l1.4 4.3l4.6 0.1l-3.7 2.7l1.4 4.3l-3.7 -2.6l-3.7 2.6l1.3 -4.3l-3.6 -2.7l4.5 -0.1z"/><path d="M380.9 269.2l1.5 4.3l4.5 0.1l-3.6 2.7l1.3 4.3l-3.7 -2.6l-3.7 2.6l1.3 -4.3l-3.6 -2.7l4.5 -0.1z"/><path d="M298.1 327.4l1.5 4.3l4.5 0.1l-3.6 2.7l1.3 4.3l-3.7 -2.6l-3.7 2.6l1.3 -4.3l-3.6 -2.7l4.6 -0.1z"/><path d="M399.6 255.9l1.5 4.3l4.5 0l-3.6 2.7l1.3 4.4l-3.7 -2.6l-3.7 2.6l1.3 -4.4l-3.6 -2.7l4.6 0z"/><path d="M429 231.1l1.5 4.3l4.5 0.1l-3.6 2.7l1.3 4.3l-3.7 -2.6l-3.7 2.6l1.4 -4.3l-3.7 -2.7l4.6 -0.1z"/><path d="M465.2 201.9l1.5 4.3l4.5 0l-3.6 2.8l1.3 4.3l-3.7 -2.6l-3.7 2.6l1.3 -4.3l-3.6 -2.8l4.5 0z"/><path d="M448.8 212.6l1.5 4.2l4.5 0.1l-3.6 2.7l1.3 4.4l-3.7 -2.6l-3.7 2.6l1.4 -4.4l-3.6 -2.7l4.5 -0.1z"/><path d="M317.8 319.6l1.5 4.3l4.5 0.1l-3.6 2.7l1.3 4.3l-3.7 -2.6l-3.7 2.6l1.3 -4.3l-3.6 -2.7l4.5 -0.1z"/><path d="M431.5 225.1l1.5 4.3l4.5 0l-3.6 2.8l1.3 4.3l-3.7 -2.6l-3.7 2.6l1.3 -4.3l-3.6 -2.8l4.5 0z"/><path d="M466.8 202.8l1.5 4.3l4.5 0.1l-3.6 2.7l1.3 4.3l-3.7 -2.6l-3.7 2.6l1.3 -4.3l-3.6 -2.7l4.5 -0.1z"/><path d="M431.2 227l1.5 4.3l4.5 0.1l-3.6 2.7l1.3 4.3l-3.7 -2.6l-3.7 2.6l1.4 -4.3l-3.7 -2.7l4.6 -0.1z"/><path d="M392.1 255.5l1.5 4.2l4.5 0.1l-3.6 2.7l1.3 4.4l-3.7 -2.6l-3.7 2.6l1.3 -4.4l-3.6 -2.7l4.5 -0.1z"/><path d="M324.3 307.1l1.5 4.3l4.5 0.1l-3.6 2.7l1.3 4.3l-3.7 -2.6l-3.7 2.6l1.3 -4.3l-3.6 -2.7l4.5 -0.1z"/><path d="M419.9 229.7l1.5 4.2l4.5 0.1l-3.6 2.7l1.3 4.4l-3.7 -2.6l-3.7 2.6l1.3 -4.4l-3.6 -2.7l4.5 -0.1z"/><path d="M478.5 205.8l1.5 4.3l4.5 0.1l-3.6 2.7l1.3 4.3l-3.7 -2.6l-3.7 2.6l1.4 -4.3l-3.6 -2.7l4.5 -0.1z"/><path d="M408 261.1l1.4 4.3l4.6 0.1l-3.7 2.7l1.4 4.3l-3.7 -2.6l-3.7 2.6l1.3 -4.3l-3.6 -2.7l4.5 -0.1z"/><path d="M354 281.5l1.4 4.3l4.5 0l-3.6 2.7l1.4 4.4l-3.7 -2.6l-3.7 2.6l1.3 -4.4l-3.6 -2.7l4.5 0z"/><path d="M307.9 329.7l1.5 4.3l4.5 0.1l-3.6 2.7l1.3 4.3l-3.7 -2.6l-3.7 2.6l1.3 -4.3l-3.6 -2.7l4.5 -0.1z"/><path d="M455.7 211.4l1.5 4.2l4.5 0.1l-3.6 2.7l1.3 4.4l-3.7 -2.6l-3.7 2.6l1.3 -4.4l-3.6 -2.7l4.5 -0.1z"/><path d="M420.6 241.7l1.4 4.3l4.6 0l-3.6 2.8l1.3 4.3l-3.7 -2.6l-3.7 2.6l1.3 -4.3l-3.6 -2.8l4.5 0z"/><path d="M413.5 244.9l1.5 4.3l4.5 0.1l-3.6 2.7l1.3 4.3l-3.7 -2.6l-3.7 2.6l1.4 -4.3l-3.7 -2.7l4.6 -0.1z"/><path d="M322.4 305.8l1.5 4.2l4.5 0.1l-3.6 2.7l1.3 4.4l-3.7 -2.6l-3.7 2.6l1.3 -4.4l-3.6 -2.7l4.5 -0.1z"/><path d="M436.4 221.5l1.5 4.2l4.5 0.1l-3.6 2.7l1.3 4.4l-3.7 -2.6l-3.7 2.6l1.3 -4.4l-3.6 -2.7l4.5 -0.1z"/><path d="M448.9 218.4l1.5 4.3l4.5 0.1l-3.6 2.7l1.3 4.3l-3.7 -2.6l-3.7 2.6l1.4 -4.3l-3.7 -2.7l4.6 -0.1z"/><path d="M486.1 192.3l1.5 4.3l4.5 0.1l-3.6 2.7l1.3 4.3l-3.7 -2.6l-3.7 2.6l1.3 -4.3l-3.6 -2.7l4.5 -0.1z"/><path d="M465.7 206l1.5 4.3l4.5 0.1l-3.6 2.7l1.3 4.3l-3.7 -2.6l-3.7 2.6l1.3 -4.3l-3.6 -2.7l4.5 -0.1z"/><path d="M426.2 230.7l1.4 4.3l4.6 0l-3.6 2.8l1.3 4.3l-3.7 -2.6l-3.7 2.6l1.3 -4.3l-3.6 -2.8l4.5 0z"/><path d="M357.5 291l1.5 4.3l4.5 0l-3.6 2.8l1.3 4.3l-3.7 -2.6l-3.7 2.6l1.3 -4.3l-3.6 -2.8l4.6 0z"/><path d="M418.4 235.2l1.5 4.3l4.5 0.1l-3.6 2.7l1.3 4.3l-3.7 -2.6l-3.7 2.6l1.3 -4.3l-3.6 -2.7l4.5 -0.1z"/><path d="M443.3 222.1l1.5 4.2l4.5 0.1l-3.6 2.7l1.3 4.4l-3.7 -2.6l-3.7 2.6l1.3 -4.4l-3.6 -2.7l4.5 -0.1z"/><path d="M350.2 289.6l1.5 4.3l4.5 0.1l-3.6 2.7l1.3 4.3l-3.7 -2.6l-3.7 2.6l1.3 -4.3l-3.6 -2.7l4.5 -0.1z"/><path d="M477.1 191.6l1.5 4.3l4.5 0.1l-3.6 2.7l1.3 4.3l-3.7 -2.6l-3.7 2.6l1.3 -4.3l-3.6 -2.7l4.5 -0.1z"/><path d="M483.4 185.6l1.5 4.3l4.5 0.1l-3.6 2.7l1.3 4.3l-3.7 -2.6l-3.7 2.6l1.3 -4.3l-3.6 -2.7l4.5 -0.1z"/><path d="M362.1 282.6l1.5 4.3l4.5 0.1l-3.6 2.7l1.3 4.3l-3.7 -2.6l-3.7 2.6l1.3 -4.3l-3.6 -2.7l4.5 -0.1z"/><path d="M371.4 279.4l1.4 4.3l4.5 0l-3.6 2.8l1.4 4.3l-3.7 -2.6l-3.8 2.6l1.4 -4.3l-3.6 -2.8l4.5 0z"/><path d="M349.4 291.5l1.5 4.3l4.5 0.1l-3.6 2.7l1.3 4.3l-3.7 -2.6l-3.7 2.6l1.4 -4.3l-3.7 -2.7l4.6 -0.1z"/><path d="M303.5 324.5l1.5 4.3l4.5 0.1l-3.6 2.7l1.3 4.3l-3.7 -2.6l-3.7 2.6l1.3 -4.3l-3.6 -2.7l4.5 -0.1z"/><path d="M381.7 262.4l1.4 4.3l4.6 0.1l-3.7 2.7l1.4 4.3l-3.7 -2.6l-3.7 2.6l1.3 -4.3l-3.6 -2.7l4.5 -0.1z"/><path d="M361 283.3l1.4 4.3l4.6 0l-3.6 2.8l1.3 4.3l-3.7 -2.6l-3.7 2.6l1.3 -4.3l-3.6 -2.8l4.5 0z"/><path d="M404.9 248.9l1.5 4.3l4.5 0.1l-3.6 2.7l1.3 4.3l-3.7 -2.6l-3.7 2.6l1.3 -4.3l-3.6 -2.7l4.5 -0.1z"/><path d="M371.1 262.3l1.4 4.3l4.5 0l-3.6 2.7l1.4 4.4l-3.7 -2.6l-3.7 2.6l1.3 -4.4l-3.6 -2.7l4.5 0z"/><path d="M374.8 267.8l1.5 4.3l4.5 0l-3.6 2.8l1.3 4.3l-3.7 -2.6l-3.7 2.6l1.4 -4.3l-3.6 -2.8l4.5 0z"/><path d="M394.9 252.9l1.5 4.2l4.5 0.1l-3.6 2.7l1.3 4.4l-3.7 -2.6l-3.7 2.6l1.4 -4.4l-3.7 -2.7l4.6 -0.1z"/><path d="M436.6 227.9l1.4 4.3l4.6 0l-3.6 2.8l1.3 4.3l-3.7 -2.6l-3.7 2.6l1.3 -4.3l-3.6 -2.8l4.5 0z"/><path d="M357.1 294.8l1.5 4.2l4.5 0.1l-3.6 2.7l1.3 4.4l-3.7 -2.6l-3.7 2.6l1.4 -4.4l-3.7 -2.7l4.6 -0.1z"/><path d="M428.7 241.1l1.5 4.3l4.5 0l-3.6 2.8l1.4 4.3l-3.8 -2.6l-3.7 2.6l1.4 -4.3l-3.6 -2.8l4.5 0z"/><path d="M439.4 221.2l1.4 4.3l4.6 0l-3.7 2.7l1.4 4.4l-3.7 -2.6l-3.7 2.6l1.3 -4.4l-3.6 -2.7l4.5 0z"/><path d="M340.9 296l1.5 4.3l4.5 0.1l-3.6 2.7l1.3 4.3l-3.7 -2.6l-3.7 2.6l1.4 -4.3l-3.6 -2.7l4.5 -0.1z"/><path d="M424.2 229.4l1.5 4.3l4.5 0l-3.6 2.8l1.3 4.3l-3.7 -2.6l-3.7 2.6l1.3 -4.3l-3.6 -2.8l4.5 0z"/><path d="M384.5 260.3l1.5 4.3l4.5 0.1l-3.6 2.7l1.3 4.3l-3.7 -2.6l-3.7 2.6l1.3 -4.3l-3.6 -2.7l4.5 -0.1z"/><path d="M400.2 254.8l1.5 4.2l4.5 0.1l-3.6 2.7l1.3 4.4l-3.7 -2.6l-3.7 2.6l1.3 -4.4l-3.6 -2.7l4.5 -0.1z"/><path d="M415.4 243.3l1.4 4.2l4.6 0.1l-3.7 2.7l1.4 4.3l-3.7 -2.5l-3.7 2.5l1.3 -4.3l-3.6 -2.7l4.5 -0.1z"/><path d="M479.5 193.7l1.5 4.3l4.5 0.1l-3.6 2.7l1.3 4.3l-3.7 -2.6l-3.7 2.6l1.4 -4.3l-3.7 -2.7l4.6 -0.1z"/><path d="M303.9 325.6l1.4 4.3l4.6 0.1l-3.7 2.7l1.4 4.3l-3.7 -2.6l-3.7 2.6l1.3 -4.3l-3.6 -2.7l4.5 -0.1z"/><path d="M394.1 253.7l1.4 4.3l4.6 0.1l-3.7 2.7l1.4 4.3l-3.7 -2.6l-3.7 2.6l1.3 -4.3l-3.6 -2.7l4.5 -0.1z"/><path d="M316.1 311.1l1.5 4.3l4.5 0.1l-3.6 2.7l1.3 4.3l-3.7 -2.6l-3.7 2.6l1.3 -4.3l-3.6 -2.7l4.5 -0.1z"/><path d="M460.1 204.3l1.4 4.2l4.5 0.1l-3.6 2.7l1.4 4.4l-3.7 -2.6l-3.7 2.6l1.3 -4.4l-3.6 -2.7l4.5 -0.1z"/><path d="M455.4 235.6l1.5 4.3l4.5 0.1l-3.6 2.7l1.3 4.3l-3.7 -2.6l-3.7 2.6l1.3 -4.3l-3.6 -2.7l4.5 -0.1z"/><path d="M321.7 312.8l1.4 4.2l4.6 0.1l-3.7 2.7l1.4 4.4l-3.7 -2.6l-3.7 2.6l1.3 -4.4l-3.6 -2.7l4.5 -0.1z"/><path d="M447.7 216.4l1.4 4.2l4.6 0.1l-3.7 2.7l1.4 4.4l-3.7 -2.6l-3.7 2.6l1.3 -4.4l-3.6 -2.7l4.5 -0.1z"/><path d="M427.2 243.6l1.5 4.3l4.5 0l-3.6 2.8l1.3 4.3l-3.7 -2.6l-3.7 2.6l1.3 -4.3l-3.6 -2.8l4.6 0z"/><path d="M442.4 218.8l1.5 4.3l4.5 0.1l-3.6 2.7l1.3 4.3l-3.7 -2.6l-3.7 2.6l1.3 -4.3l-3.6 -2.7l4.5 -0.1z"/><path d="M369.3 280.5l1.4 4.3l4.6 0.1l-3.7 2.7l1.4 4.3l-3.7 -2.6l-3.7 2.6l1.3 -4.3l-3.6 -2.7l4.5 -0.1z"/><path d="M359.4 287.3l1.5 4.3l4.5 0.1l-3.6 2.7l1.3 4.3l-3.7 -2.6l-3.7 2.6l1.3 -4.3l-3.6 -2.7l4.5 -0.1z"/><path d="M374.4 279.7l1.5 4.3l4.5 0.1l-3.6 2.7l1.3 4.3l-3.7 -2.6l-3.7 2.6l1.3 -4.3l-3.6 -2.7l4.5 -0.1z"/><path d="M371 294.1l1.5 4.2l4.5 0.1l-3.6 2.7l1.3 4.4l-3.7 -2.6l-3.7 2.6l1.3 -4.4l-3.6 -2.7l4.6 -0.1z"/><path d="M446.1 212.5l1.5 4.3l4.5 0.1l-3.6 2.7l1.3 4.3l-3.7 -2.6l-3.7 2.6l1.4 -4.3l-3.7 -2.7l4.6 -0.1z"/><path d="M396.8 257.1l1.5 4.3l4.5 0.1l-3.6 2.7l1.3 4.3l-3.7 -2.6l-3.7 2.6l1.3 -4.3l-3.6 -2.7l4.5 -0.1z"/><path d="M327.4 316l1.5 4.3l4.5 0.1l-3.6 2.7l1.3 4.3l-3.7 -2.6l-3.7 2.6l1.4 -4.3l-3.6 -2.7l4.5 -0.1z"/><path d="M404.7 253.4l1.5 4.2l4.5 0.1l-3.6 2.7l1.4 4.4l-3.8 -2.6l-3.7 2.6l1.4 -4.4l-3.6 -2.7l4.5 -0.1z"/><path d="M323.4 316.5l1.5 4.3l4.5 0l-3.6 2.8l1.3 4.3l-3.7 -2.6l-3.7 2.6l1.3 -4.3l-3.6 -2.8l4.5 0z"/><path d="M311.4 323l1.4 4.3l4.6 0.1l-3.6 2.7l1.3 4.3l-3.7 -2.6l-3.7 2.6l1.3 -4.3l-3.6 -2.7l4.5 -0.1z"/><path d="M337.2 293.9l1.5 4.3l4.5 0.1l-3.6 2.7l1.3 4.3l-3.7 -2.6l-3.7 2.6l1.4 -4.3l-3.6 -2.7l4.5 -0.1z"/><path d="M452.7 229.8l1.5 4.3l4.5 0l-3.6 2.8l1.3 4.3l-3.7 -2.6l-3.7 2.6l1.4 -4.3l-3.7 -2.8l4.6 0z"/><path d="M311.2 323.4l1.5 4.3l4.5 0.1l-3.6 2.7l1.3 4.3l-3.7 -2.6l-3.7 2.6l1.4 -4.3l-3.7 -2.7l4.6 -0.1z"/><path d="M370.7 275.9l1.4 4.3l4.6 0l-3.6 2.8l1.3 4.3l-3.7 -2.6l-3.7 2.6l1.3 -4.3l-3.6 -2.8l4.5 0z"/><path d="M317.4 312.1l1.4 4.3l4.6 0.1l-3.6 2.7l1.3 4.3l-3.7 -2.6l-3.7 2.6l1.3 -4.3l-3.6 -2.7l4.5 -0.1z"/><path d="M397.9 256.4l1.5 4.3l4.5 0.1l-3.6 2.7l1.3 4.3l-3.7 -2.6l-3.7 2.6l1.3 -4.3l-3.6 -2.7l4.5 -0.1z"/><path d="M399.7 257.7l1.5 4.2l4.5 0.1l-3.6 2.7l1.3 4.4l-3.7 -2.6l-3.7 2.6l1.4 -4.4l-3.7 -2.7l4.6 -0.1z"/><path d="M388 258.8l1.5 4.3l4.5 0l-3.6 2.7l1.3 4.4l-3.7 -2.6l-3.7 2.6l1.3 -4.4l-3.6 -2.7l4.5 0z"/><path d="M450.6 211.2l1.4 4.2l4.6 0.1l-3.7 2.7l1.4 4.4l-3.7 -2.6l-3.7 2.6l1.3 -4.4l-3.6 -2.7l4.5 -0.1z"/><path d="M459.3 210.1l1.4 4.3l4.6 0.1l-3.7 2.7l1.4 4.3l-3.7 -2.6l-3.7 2.6l1.3 -4.3l-3.6 -2.7l4.5 -0.1z"/><path d="M318.2 315.7l1.5 4.3l4.5 0.1l-3.6 2.7l1.3 4.3l-3.7 -2.6l-3.7 2.6l1.4 -4.3l-3.6 -2.7l4.5 -0.1z"/><path d="M373 271.4l1.5 4.2l4.5 0.1l-3.6 2.7l1.3 4.4l-3.7 -2.6l-3.7 2.6l1.3 -4.4l-3.6 -2.7l4.6 -0.1z"/><path d="M468.1 205l1.5 4.3l4.5 0.1l-3.6 2.7l1.3 4.3l-3.7 -2.6l-3.7 2.6l1.3 -4.3l-3.6 -2.7l4.5 -0.1z"/><path d="M362.3 280.4l1.5 4.2l4.5 0.1l-3.6 2.7l1.4 4.4l-3.8 -2.6l-3.7 2.6l1.4 -4.4l-3.6 -2.7l4.5 -0.1z"/><path d="M335.7 310.9l1.5 4.3l4.5 0.1l-3.6 2.7l1.3 4.3l-3.7 -2.6l-3.7 2.6l1.3 -4.3l-3.6 -2.7l4.5 -0.1z"/><path d="M389.5 260.5l1.5 4.3l4.5 0.1l-3.6 2.7l1.3 4.3l-3.7 -2.6l-3.7 2.6l1.4 -4.3l-3.7 -2.7l4.6 -0.1z"/><path d="M320.9 309.4l1.4 4.3l4.6 0l-3.7 2.8l1.4 4.3l-3.7 -2.6l-3.7 2.6l1.3 -4.3l-3.6 -2.8l4.5 0z"/><path d="M398.9 212l1.5 4.3l4.5 0.1l-3.6 2.7l1.3 4.3l-3.7 -2.6l-3.7 2.6l1.3 -4.3l-3.6 -2.7l4.5 -0.1z"/><path d="M379.9 263.8l1.5 4.3l4.5 0l-3.6 2.8l1.3 4.3l-3.7 -2.6l-3.7 2.6l1.4 -4.3l-3.6 -2.8l4.5 0z"/><path d="M355.2 280l1.5 4.3l4.5 0.1l-3.6 2.7l1.3 4.3l-3.7 -2.6l-3.7 2.6l1.3 -4.3l-3.6 -2.7l4.6 -0.1z"/><path d="M330.5 308.5l1.5 4.3l4.5 0.1l-3.6 2.7l1.3 4.3l-3.7 -2.6l-3.7 2.6l1.4 -4.3l-3.6 -2.7l4.5 -0.1z"/><path d="M442 205.7l1.5 4.3l4.5 0.1l-3.6 2.7l1.3 4.3l-3.7 -2.6l-3.7 2.6l1.3 -4.3l-3.6 -2.7l4.5 -0.1z"/><path d="M330.6 308.1l1.5 4.2l4.5 0.1l-3.6 2.7l1.3 4.4l-3.7 -2.6l-3.7 2.6l1.4 -4.4l-3.7 -2.7l4.6 -0.1z"/><path d="M490.2 184.1l1.5 4.3l4.5 0.1l-3.6 2.7l1.3 4.3l-3.7 -2.6l-3.7 2.6l1.3 -4.3l-3.6 -2.7l4.5 -0.1z"/><path d="M420.2 263l1.5 4.3l4.5 0.1l-3.6 2.7l1.3 4.3l-3.7 -2.6l-3.7 2.6l1.3 -4.3l-3.6 -2.7l4.5 -0.1z"/><path d="M498.9 180.4l1.5 4.2l4.5 0.1l-3.6 2.7l1.3 4.4l-3.7 -2.6l-3.7 2.6l1.3 -4.4l-3.6 -2.7l4.5 -0.1z"/><path d="M412.8 238.8l1.5 4.3l4.5 0l-3.6 2.8l1.4 4.3l-3.8 -2.6l-3.7 2.6l1.4 -4.3l-3.6 -2.8l4.5 0z"/><path d="M374.4 275.8l1.4 4.2l4.6 0.1l-3.7 2.7l1.4 4.4l-3.7 -2.6l-3.7 2.6l1.3 -4.4l-3.6 -2.7l4.5 -0.1z"/><path d="M374.8 269.1l1.5 4.3l4.5 0.1l-3.6 2.7l1.3 4.3l-3.7 -2.6l-3.7 2.6l1.4 -4.3l-3.7 -2.7l4.6 -0.1z"/><path d="M299.8 334.6l1.4 4.2l4.6 0.1l-3.7 2.7l1.4 4.4l-3.7 -2.6l-3.7 2.6l1.3 -4.4l-3.6 -2.7l4.5 -0.1z"/><path d="M340.4 300.3l1.5 4.2l4.5 0.1l-3.6 2.7l1.3 4.4l-3.7 -2.6l-3.7 2.6l1.3 -4.4l-3.6 -2.7l4.5 -0.1z"/><path d="M310.5 326.8l1.4 4.2l4.6 0.1l-3.7 2.7l1.4 4.4l-3.7 -2.6l-3.7 2.6l1.3 -4.4l-3.6 -2.7l4.5 -0.1z"/><path d="M436.7 224.8l1.5 4.3l4.5 0.1l-3.6 2.7l1.3 4.3l-3.7 -2.6l-3.7 2.6l1.3 -4.3l-3.6 -2.7l4.5 -0.1z"/><path d="M391.3 259.5l1.5 4.3l4.5 0l-3.6 2.8l1.3 4.3l-3.7 -2.6l-3.7 2.6l1.3 -4.3l-3.6 -2.8l4.5 0z"/><path d="M451.6 225.6l1.4 4.3l4.6 0l-3.7 2.8l1.4 4.3l-3.7 -2.6l-3.7 2.6l1.3 -4.3l-3.6 -2.8l4.5 0z"/><path d="M495 186.3l1.5 4.2l4.5 0.1l-3.6 2.7l1.4 4.4l-3.8 -2.6l-3.7 2.6l1.4 -4.4l-3.6 -2.7l4.5 -0.1z"/><path d="M326.8 302.6l1.5 4.2l4.5 0.1l-3.6 2.7l1.3 4.4l-3.7 -2.6l-3.7 2.6l1.4 -4.4l-3.7 -2.7l4.6 -0.1z"/><path d="M319.8 317.3l1.5 4.3l4.5 0l-3.6 2.8l1.3 4.3l-3.7 -2.6l-3.7 2.6l1.3 -4.3l-3.6 -2.8l4.5 0z"/><path d="M393.2 253.8l1.5 4.3l4.5 0.1l-3.6 2.7l1.3 4.3l-3.7 -2.6l-3.7 2.6l1.3 -4.3l-3.6 -2.7l4.5 -0.1z"/><path d="M368.5 277.5l1.4 4.3l4.6 0.1l-3.6 2.7l1.3 4.3l-3.7 -2.6l-3.7 2.6l1.3 -4.3l-3.6 -2.7l4.5 -0.1z"/><path d="M362.4 282.7l1.4 4.3l4.6 0.1l-3.6 2.7l1.3 4.3l-3.7 -2.6l-3.7 2.6l1.3 -4.3l-3.6 -2.7l4.5 -0.1z"/><path d="M296.8 332.3l1.4 4.3l4.5 0.1l-3.6 2.7l1.4 4.3l-3.7 -2.6l-3.7 2.6l1.3 -4.3l-3.6 -2.7l4.5 -0.1z"/><path d="M486.8 187.8l1.5 4.3l4.5 0.1l-3.6 2.7l1.3 4.3l-3.7 -2.6l-3.7 2.6l1.3 -4.3l-3.6 -2.7l4.5 -0.1z"/><path d="M427.4 237.2l1.5 4.3l4.5 0.1l-3.6 2.7l1.3 4.3l-3.7 -2.6l-3.7 2.6l1.3 -4.3l-3.6 -2.7l4.5 -0.1z"/><path d="M366.8 278.8l1.4 4.3l4.5 0.1l-3.6 2.7l1.4 4.3l-3.7 -2.6l-3.7 2.6l1.3 -4.3l-3.6 -2.7l4.5 -0.1z"/><path d="M398.3 249.6l1.5 4.3l4.5 0.1l-3.6 2.7l1.4 4.3l-3.8 -2.6l-3.7 2.6l1.4 -4.3l-3.6 -2.7l4.5 -0.1z"/><path d="M334.2 304.3l1.4 4.3l4.6 0.1l-3.7 2.7l1.4 4.3l-3.7 -2.6l-3.7 2.6l1.3 -4.3l-3.6 -2.7l4.5 -0.1z"/><path d="M356 286.4l1.5 4.3l4.5 0.1l-3.6 2.7l1.3 4.3l-3.7 -2.6l-3.7 2.6l1.4 -4.3l-3.7 -2.7l4.6 -0.1z"/><path d="M426.3 232.7l1.5 4.3l4.5 0.1l-3.6 2.7l1.3 4.3l-3.7 -2.6l-3.7 2.6l1.4 -4.3l-3.7 -2.7l4.6 -0.1z"/><path d="M343.6 293.1l1.5 4.3l4.5 0.1l-3.6 2.7l1.3 4.3l-3.7 -2.6l-3.7 2.6l1.3 -4.3l-3.6 -2.7l4.5 -0.1z"/><path d="M486.3 179.1l1.5 4.3l4.5 0.1l-3.6 2.7l1.3 4.3l-3.7 -2.6l-3.7 2.6l1.4 -4.3l-3.7 -2.7l4.6 -0.1z"/><path d="M402.6 250.2l1.4 4.3l4.6 0.1l-3.6 2.7l1.3 4.3l-3.7 -2.6l-3.7 2.6l1.3 -4.3l-3.6 -2.7l4.5 -0.1z"/><path d="M377.5 274.5l1.5 4.2l4.5 0.1l-3.6 2.7l1.3 4.4l-3.7 -2.6l-3.7 2.6l1.4 -4.4l-3.7 -2.7l4.6 -0.1z"/><path d="M447.3 217l1.4 4.3l4.6 0l-3.6 2.8l1.3 4.3l-3.7 -2.6l-3.7 2.6l1.3 -4.3l-3.6 -2.8l4.5 0z"/><path d="M375.4 271.2l1.4 4.2l4.6 0.1l-3.6 2.7l1.3 4.4l-3.7 -2.6l-3.7 2.6l1.3 -4.4l-3.6 -2.7l4.5 -0.1z"/><path d="M290.9 329.6l1.5 4.3l4.5 0.1l-3.6 2.7l1.3 4.3l-3.7 -2.6l-3.7 2.6l1.3 -4.3l-3.6 -2.7l4.5 -0.1z"/><path d="M458.6 230.3l1.5 4.3l4.5 0l-3.6 2.7l1.3 4.4l-3.7 -2.6l-3.7 2.6l1.4 -4.4l-3.7 -2.7l4.6 0z"/><path d="M305.7 323.7l1.4 4.3l4.5 0.1l-3.6 2.7l1.4 4.3l-3.7 -2.6l-3.7 2.6l1.3 -4.3l-3.6 -2.7l4.5 -0.1z"/><path d="M434.5 221.7l1.5 4.3l4.5 0.1l-3.6 2.7l1.3 4.3l-3.7 -2.6l-3.7 2.6l1.3 -4.3l-3.6 -2.7l4.5 -0.1z"/><path d="M390.9 262.5l1.4 4.3l4.6 0l-3.6 2.8l1.3 4.3l-3.7 -2.6l-3.7 2.6l1.3 -4.3l-3.6 -2.8l4.5 0z"/><path d="M313.9 326.4l1.4 4.3l4.6 0.1l-3.7 2.7l1.4 4.3l-3.7 -2.6l-3.7 2.6l1.3 -4.3l-3.6 -2.7l4.5 -0.1z"/><path d="M292.9 336.4l1.5 4.3l4.5 0l-3.6 2.8l1.3 4.3l-3.7 -2.6l-3.7 2.6l1.3 -4.3l-3.6 -2.8l4.6 0z"/><path d="M328.1 320.4l1.5 4.3l4.5 0l-3.6 2.8l1.3 4.3l-3.7 -2.6l-3.7 2.6l1.3 -4.3l-3.6 -2.8l4.5 0z"/><path d="M398.9 252.8l1.5 4.3l4.5 0.1l-3.6 2.7l1.3 4.3l-3.7 -2.6l-3.7 2.6l1.3 -4.3l-3.6 -2.7l4.5 -0.1z"/><path d="M377.7 266.6l1.4 4.3l4.6 0.1l-3.7 2.7l1.4 4.3l-3.7 -2.6l-3.7 2.6l1.3 -4.3l-3.6 -2.7l4.5 -0.1z"/><path d="M469.1 203.1l1.5 4.2l4.5 0.1l-3.6 2.7l1.3 4.4l-3.7 -2.6l-3.7 2.6l1.3 -4.4l-3.6 -2.7l4.6 -0.1z"/><path d="M335.1 299.6l1.5 4.3l4.5 0l-3.6 2.8l1.3 4.3l-3.7 -2.6l-3.7 2.6l1.4 -4.3l-3.6 -2.8l4.5 0z"/><path d="M422.9 233.4l1.5 4.3l4.5 0l-3.6 2.8l1.3 4.3l-3.7 -2.6l-3.7 2.6l1.3 -4.3l-3.6 -2.8l4.5 0z"/><path d="M462.8 211l1.5 4.3l4.5 0l-3.6 2.8l1.4 4.3l-3.8 -2.6l-3.7 2.6l1.4 -4.3l-3.6 -2.8l4.5 0z"/><path d="M334.7 294.7l1.4 4.3l4.6 0.1l-3.7 2.7l1.4 4.3l-3.7 -2.6l-3.7 2.6l1.3 -4.3l-3.6 -2.7l4.5 -0.1z"/><path d="M381.8 268.7l1.5 4.3l4.5 0.1l-3.6 2.7l1.3 4.3l-3.7 -2.6l-3.7 2.6l1.3 -4.3l-3.6 -2.7l4.6 -0.1z"/><path d="M351.2 290.9l1.4 4.3l4.6 0.1l-3.7 2.7l1.4 4.3l-3.7 -2.6l-3.7 2.6l1.3 -4.3l-3.6 -2.7l4.5 -0.1z"/><path d="M483.3 192.3l1.5 4.3l4.5 0.1l-3.6 2.7l1.3 4.3l-3.7 -2.6l-3.7 2.6l1.3 -4.3l-3.6 -2.7l4.5 -0.1z"/><path d="M428.3 227.9l1.4 4.3l4.5 0.1l-3.6 2.7l1.4 4.3l-3.7 -2.6l-3.7 2.6l1.3 -4.3l-3.6 -2.7l4.5 -0.1z"/><path d="M451.3 211l1.5 4.3l4.5 0l-3.6 2.8l1.3 4.3l-3.7 -2.6l-3.7 2.6l1.3 -4.3l-3.6 -2.8l4.5 0z"/><path d="M387.9 257.5l1.4 4.2l4.5 0.1l-3.6 2.7l1.4 4.4l-3.7 -2.6l-3.7 2.6l1.3 -4.4l-3.6 -2.7l4.5 -0.1z"/><path d="M459.5 208.3l1.5 4.3l4.5 0.1l-3.6 2.7l1.3 4.3l-3.7 -2.6l-3.7 2.6l1.3 -4.3l-3.6 -2.7l4.6 -0.1z"/><path d="M396.4 257.4l1.5 4.2l4.5 0.1l-3.6 2.7l1.3 4.4l-3.7 -2.6l-3.7 2.6l1.3 -4.4l-3.6 -2.7l4.5 -0.1z"/><path d="M366.4 278.2l1.4 4.2l4.6 0.1l-3.6 2.7l1.3 4.4l-3.7 -2.6l-3.7 2.6l1.3 -4.4l-3.6 -2.7l4.5 -0.1z"/><path d="M407.9 245.1l1.5 4.3l4.5 0.1l-3.6 2.7l1.3 4.3l-3.7 -2.6l-3.7 2.6l1.4 -4.3l-3.6 -2.7l4.5 -0.1z"/><path d="M414.8 237.5l1.5 4.3l4.5 0.1l-3.6 2.7l1.3 4.3l-3.7 -2.6l-3.7 2.6l1.3 -4.3l-3.6 -2.7l4.6 -0.1z"/><path d="M301.9 328.1l1.5 4.3l4.5 0l-3.6 2.7l1.3 4.4l-3.7 -2.6l-3.7 2.6l1.3 -4.4l-3.6 -2.7l4.6 0z"/><path d="M344.1 287.7l1.5 4.3l4.5 0.1l-3.6 2.7l1.3 4.3l-3.7 -2.6l-3.7 2.6l1.4 -4.3l-3.7 -2.7l4.6 -0.1z"/><path d="M476.4 218l1.5 4.3l4.5 0l-3.6 2.8l1.3 4.3l-3.7 -2.6l-3.7 2.6l1.3 -4.3l-3.6 -2.8l4.5 0z"/><path d="M450.7 209.7l1.4 4.2l4.6 0.1l-3.7 2.7l1.4 4.4l-3.7 -2.6l-3.7 2.6l1.3 -4.4l-3.6 -2.7l4.5 -0.1z"/><path d="M394.5 249.8l1.5 4.3l4.5 0l-3.6 2.7l1.3 4.4l-3.7 -2.6l-3.7 2.6l1.3 -4.4l-3.6 -2.7l4.5 0z"/><path d="M356.4 293.6l1.5 4.2l4.5 0.1l-3.6 2.7l1.3 4.4l-3.7 -2.6l-3.7 2.6l1.4 -4.4l-3.7 -2.7l4.6 -0.1z"/><path d="M417.9 239.7l1.5 4.2l4.5 0.1l-3.6 2.7l1.3 4.4l-3.7 -2.6l-3.7 2.6l1.3 -4.4l-3.6 -2.7l4.5 -0.1z"/><path d="M379.2 273.7l1.5 4.3l4.5 0.1l-3.6 2.7l1.3 4.3l-3.7 -2.6l-3.7 2.6l1.4 -4.3l-3.7 -2.7l4.6 -0.1z"/><path d="M306.1 323.7l1.5 4.3l4.5 0.1l-3.6 2.7l1.3 4.3l-3.7 -2.6l-3.7 2.6l1.3 -4.3l-3.6 -2.7l4.5 -0.1z"/><path d="M368.7 267.3l1.5 4.3l4.5 0l-3.6 2.8l1.3 4.3l-3.7 -2.6l-3.7 2.6l1.3 -4.3l-3.6 -2.8l4.5 0z"/><path d="M444.1 216.8l1.5 4.3l4.5 0l-3.6 2.8l1.3 4.3l-3.7 -2.6l-3.7 2.6l1.3 -4.3l-3.6 -2.8l4.6 0z"/><path d="M448 208.9l1.5 4.3l4.5 0l-3.6 2.8l1.3 4.3l-3.7 -2.6l-3.7 2.6l1.4 -4.3l-3.6 -2.8l4.5 0z"/><path d="M313.9 316.7l1.4 4.3l4.6 0.1l-3.7 2.7l1.4 4.3l-3.7 -2.6l-3.7 2.6l1.3 -4.3l-3.6 -2.7l4.5 -0.1z"/><path d="M333.8 335.4l1.5 4.2l4.5 0.1l-3.6 2.7l1.3 4.4l-3.7 -2.6l-3.7 2.6l1.4 -4.4l-3.7 -2.7l4.6 -0.1z"/><path d="M407 245.9l1.5 4.2l4.5 0.1l-3.6 2.7l1.3 4.4l-3.7 -2.6l-3.7 2.6l1.4 -4.4l-3.7 -2.7l4.6 -0.1z"/><path d="M424.4 238.5l1.5 4.3l4.5 0l-3.6 2.8l1.3 4.3l-3.7 -2.6l-3.7 2.6l1.3 -4.3l-3.6 -2.8l4.5 0z"/><path d="M309.3 325.8l1.5 4.3l4.5 0.1l-3.6 2.7l1.3 4.3l-3.7 -2.6l-3.7 2.6l1.4 -4.3l-3.7 -2.7l4.6 -0.1z"/><path d="M478.7 196.5l1.4 4.3l4.5 0l-3.6 2.8l1.4 4.3l-3.7 -2.6l-3.7 2.6l1.3 -4.3l-3.6 -2.8l4.5 0z"/><path d="M447.5 217.9l1.5 4.3l4.5 0.1l-3.6 2.7l1.3 4.3l-3.7 -2.6l-3.7 2.6l1.4 -4.3l-3.7 -2.7l4.6 -0.1z"/><path d="M380.7 263.3l1.5 4.2l4.5 0.1l-3.6 2.7l1.3 4.4l-3.7 -2.6l-3.7 2.6l1.3 -4.4l-3.6 -2.7l4.5 -0.1z"/><path d="M468.5 195.5l1.5 4.2l4.5 0.1l-3.6 2.7l1.3 4.3l-3.7 -2.5l-3.7 2.5l1.3 -4.3l-3.6 -2.7l4.5 -0.1z"/><path d="M404.8 248.6l1.5 4.3l4.5 0l-3.6 2.8l1.3 4.3l-3.7 -2.6l-3.7 2.6l1.3 -4.3l-3.6 -2.8l4.6 0z"/><path d="M338.1 301.6l1.5 4.3l4.5 0.1l-3.6 2.7l1.3 4.3l-3.7 -2.6l-3.7 2.6l1.4 -4.3l-3.7 -2.7l4.6 -0.1z"/><path d="M477.1 200.6l1.5 4.3l4.5 0.1l-3.6 2.7l1.3 4.3l-3.7 -2.6l-3.7 2.6l1.3 -4.3l-3.6 -2.7l4.5 -0.1z"/><path d="M414.4 243.4l1.5 4.3l4.5 0l-3.6 2.7l1.3 4.4l-3.7 -2.6l-3.7 2.6l1.3 -4.4l-3.6 -2.7l4.5 0z"/><path d="M321.5 321.2l1.5 4.2l4.5 0.1l-3.6 2.7l1.3 4.4l-3.7 -2.6l-3.7 2.6l1.3 -4.4l-3.6 -2.7l4.5 -0.1z"/><path d="M407.1 227.7l1.5 4.3l4.5 0.1l-3.6 2.7l1.3 4.3l-3.7 -2.6l-3.7 2.6l1.3 -4.3l-3.6 -2.7l4.5 -0.1z"/><path d="M474.1 197.3l1.5 4.3l4.5 0l-3.6 2.7l1.3 4.4l-3.7 -2.6l-3.7 2.6l1.3 -4.4l-3.6 -2.7l4.5 0z"/><path d="M475 199.3l1.4 4.3l4.6 0l-3.7 2.7l1.4 4.4l-3.7 -2.6l-3.7 2.6l1.3 -4.4l-3.6 -2.7l4.5 0z"/><path d="M444 219.6l1.4 4.3l4.6 0l-3.7 2.8l1.4 4.3l-3.7 -2.6l-3.7 2.6l1.3 -4.3l-3.6 -2.8l4.5 0z"/><path d="M342.9 305.7l1.4 4.3l4.6 0l-3.7 2.8l1.4 4.3l-3.7 -2.6l-3.7 2.6l1.3 -4.3l-3.6 -2.8l4.5 0z"/><path d="M304 322.1l1.4 4.3l4.6 0.1l-3.7 2.7l1.4 4.3l-3.7 -2.6l-3.7 2.6l1.3 -4.3l-3.6 -2.7l4.5 -0.1z"/><path d="M366.6 268.9l1.5 4.2l4.5 0.1l-3.6 2.7l1.3 4.4l-3.7 -2.6l-3.7 2.6l1.3 -4.4l-3.6 -2.7l4.5 -0.1z"/><path d="M310.6 324l1.4 4.2l4.6 0.1l-3.7 2.7l1.4 4.4l-3.7 -2.6l-3.7 2.6l1.3 -4.4l-3.6 -2.7l4.5 -0.1z"/><path d="M341.5 299.4l1.4 4.2l4.6 0.1l-3.7 2.7l1.4 4.4l-3.7 -2.6l-3.7 2.6l1.3 -4.4l-3.6 -2.7l4.5 -0.1z"/><path d="M489.8 188.9l1.5 4.3l4.5 0.1l-3.6 2.7l1.3 4.3l-3.7 -2.6l-3.7 2.6l1.3 -4.3l-3.6 -2.7l4.5 -0.1z"/><path d="M480.4 193.4l1.5 4.3l4.5 0.1l-3.6 2.7l1.3 4.3l-3.7 -2.6l-3.7 2.6l1.4 -4.3l-3.6 -2.7l4.5 -0.1z"/><path d="M397.8 251.5l1.5 4.3l4.5 0.1l-3.6 2.7l1.3 4.3l-3.7 -2.6l-3.7 2.6l1.4 -4.3l-3.7 -2.7l4.6 -0.1z"/><path d="M336.2 303.7l1.4 4.3l4.6 0.1l-3.6 2.7l1.3 4.3l-3.7 -2.6l-3.7 2.6l1.3 -4.3l-3.6 -2.7l4.5 -0.1z"/><path d="M435 220.4l1.5 4.3l4.5 0.1l-3.6 2.7l1.3 4.3l-3.7 -2.6l-3.7 2.6l1.3 -4.3l-3.6 -2.7l4.5 -0.1z"/><path d="M462.4 200.8l1.4 4.3l4.6 0l-3.7 2.8l1.4 4.3l-3.7 -2.6l-3.7 2.6l1.3 -4.3l-3.6 -2.8l4.5 0z"/><path d="M445.7 227.7l1.4 4.3l4.5 0.1l-3.6 2.7l1.4 4.3l-3.7 -2.6l-3.8 2.6l1.4 -4.3l-3.6 -2.7l4.5 -0.1z"/><path d="M452.9 211.5l1.5 4.2l4.5 0.1l-3.6 2.7l1.3 4.4l-3.7 -2.6l-3.7 2.6l1.3 -4.4l-3.6 -2.7l4.6 -0.1z"/><path d="M467.2 195.9l1.5 4.3l4.5 0.1l-3.6 2.7l1.3 4.3l-3.7 -2.6l-3.7 2.6l1.3 -4.3l-3.6 -2.7l4.5 -0.1z"/><path d="M488.8 185.7l1.5 4.3l4.5 0.1l-3.6 2.7l1.3 4.3l-3.7 -2.6l-3.7 2.6l1.3 -4.3l-3.6 -2.7l4.5 -0.1z"/><path d="M338.9 293.3l1.5 4.3l4.5 0l-3.6 2.8l1.3 4.3l-3.7 -2.6l-3.7 2.6l1.3 -4.3l-3.6 -2.8l4.6 0z"/><path d="M401.2 254.5l1.5 4.2l4.5 0.1l-3.6 2.7l1.3 4.3l-3.7 -2.5l-3.7 2.5l1.4 -4.3l-3.6 -2.7l4.5 -0.1z"/><path d="M433.2 219.7l1.5 4.3l4.5 0l-3.6 2.7l1.3 4.4l-3.7 -2.6l-3.7 2.6l1.3 -4.4l-3.6 -2.7l4.6 0z"/><path d="M473.5 200.3l1.5 4.3l4.5 0.1l-3.6 2.7l1.3 4.3l-3.7 -2.6l-3.7 2.6l1.3 -4.3l-3.6 -2.7l4.5 -0.1z"/><path d="M441.8 221.9l1.4 4.3l4.6 0.1l-3.7 2.7l1.4 4.3l-3.7 -2.6l-3.7 2.6l1.3 -4.3l-3.6 -2.7l4.5 -0.1z"/><path d="M329 300.9l1.5 4.3l4.5 0.1l-3.6 2.7l1.3 4.3l-3.7 -2.6l-3.7 2.6l1.3 -4.3l-3.6 -2.7l4.6 -0.1z"/><path d="M345.2 285.3l1.5 4.3l4.5 0.1l-3.6 2.7l1.3 4.3l-3.7 -2.6l-3.7 2.6l1.3 -4.3l-3.6 -2.7l4.5 -0.1z"/><path d="M339.7 297.6l1.4 4.3l4.6 0.1l-3.7 2.7l1.4 4.3l-3.7 -2.6l-3.7 2.6l1.3 -4.3l-3.6 -2.7l4.5 -0.1z"/><path d="M379.7 272.9l1.5 4.3l4.5 0.1l-3.6 2.7l1.3 4.3l-3.7 -2.6l-3.7 2.6l1.4 -4.3l-3.7 -2.7l4.6 -0.1z"/><path d="M412.3 233.8l1.4 4.3l4.6 0.1l-3.6 2.7l1.3 4.3l-3.7 -2.6l-3.7 2.6l1.3 -4.3l-3.6 -2.7l4.5 -0.1z"/><path d="M389.7 259.5l1.5 4.3l4.5 0.1l-3.6 2.7l1.3 4.3l-3.7 -2.6l-3.7 2.6l1.3 -4.3l-3.6 -2.7l4.5 -0.1z"/><path d="M443.8 222.2l1.5 4.3l4.5 0.1l-3.6 2.7l1.3 4.3l-3.7 -2.6l-3.7 2.6l1.3 -4.3l-3.6 -2.7l4.5 -0.1z"/><path d="M411.8 240.5l1.5 4.2l4.5 0.1l-3.6 2.7l1.3 4.4l-3.7 -2.6l-3.7 2.6l1.3 -4.4l-3.6 -2.7l4.5 -0.1z"/><path d="M331.8 304.4l1.4 4.3l4.6 0l-3.7 2.7l1.4 4.4l-3.7 -2.6l-3.7 2.6l1.3 -4.4l-3.6 -2.7l4.5 0z"/><path d="M307.2 324.3l1.5 4.3l4.5 0l-3.6 2.8l1.3 4.3l-3.7 -2.6l-3.7 2.6l1.3 -4.3l-3.6 -2.8l4.5 0z"/><path d="M455.6 212.3l1.4 4.3l4.6 0l-3.6 2.8l1.3 4.3l-3.7 -2.6l-3.7 2.6l1.3 -4.3l-3.6 -2.8l4.5 0z"/><path d="M386 260.4l1.4 4.3l4.6 0.1l-3.6 2.7l1.3 4.3l-3.7 -2.6l-3.7 2.6l1.3 -4.3l-3.6 -2.7l4.5 -0.1z"/><path d="M490.1 233.1l1.5 4.3l4.5 0.1l-3.6 2.7l1.3 4.3l-3.7 -2.6l-3.7 2.6l1.3 -4.3l-3.6 -2.7l4.5 -0.1z"/><path d="M344 297.2l1.5 4.3l4.5 0.1l-3.6 2.7l1.3 4.3l-3.7 -2.6l-3.7 2.6l1.3 -4.3l-3.6 -2.7l4.5 -0.1z"/><path d="M481.7 198.4l1.5 4.3l4.5 0.1l-3.6 2.7l1.3 4.3l-3.7 -2.6l-3.7 2.6l1.4 -4.3l-3.7 -2.7l4.6 -0.1z"/><path d="M338.1 301.3l1.5 4.2l4.5 0.1l-3.6 2.7l1.3 4.4l-3.7 -2.6l-3.7 2.6l1.4 -4.4l-3.6 -2.7l4.5 -0.1z"/><path d="M433.6 221.1l1.4 4.3l4.6 0.1l-3.7 2.7l1.4 4.3l-3.7 -2.6l-3.7 2.6l1.3 -4.3l-3.6 -2.7l4.5 -0.1z"/><path d="M407.4 240l1.5 4.2l4.5 0.1l-3.6 2.7l1.3 4.4l-3.7 -2.6l-3.7 2.6l1.3 -4.4l-3.6 -2.7l4.5 -0.1z"/><path d="M461 207.1l1.5 4.2l4.5 0.1l-3.6 2.7l1.3 4.4l-3.7 -2.6l-3.7 2.6l1.4 -4.4l-3.7 -2.7l4.6 -0.1z"/><path d="M461.9 214.9l1.5 4.3l4.5 0.1l-3.6 2.7l1.3 4.3l-3.7 -2.6l-3.7 2.6l1.3 -4.3l-3.6 -2.7l4.5 -0.1z"/><path d="M434.1 230l1.4 4.3l4.5 0.1l-3.6 2.7l1.4 4.3l-3.7 -2.6l-3.7 2.6l1.3 -4.3l-3.6 -2.7l4.5 -0.1z"/><path d="M419.8 237.4l1.4 4.3l4.6 0.1l-3.7 2.7l1.4 4.3l-3.7 -2.6l-3.7 2.6l1.3 -4.3l-3.6 -2.7l4.5 -0.1z"/><path d="M389.2 263l1.4 4.3l4.6 0.1l-3.7 2.7l1.4 4.3l-3.7 -2.6l-3.7 2.6l1.3 -4.3l-3.6 -2.7l4.5 -0.1z"/><path d="M336.9 299.1l1.5 4.3l4.5 0.1l-3.6 2.7l1.3 4.3l-3.7 -2.6l-3.7 2.6l1.4 -4.3l-3.7 -2.7l4.6 -0.1z"/><path d="M418.2 240.6l1.4 4.3l4.5 0l-3.6 2.8l1.4 4.3l-3.7 -2.6l-3.8 2.6l1.4 -4.3l-3.6 -2.8l4.5 0z"/><path d="M340.3 300.2l1.5 4.3l4.5 0.1l-3.6 2.7l1.3 4.3l-3.7 -2.6l-3.7 2.6l1.3 -4.3l-3.6 -2.7l4.5 -0.1z"/><path d="M404.4 247.9l1.4 4.2l4.6 0.1l-3.6 2.7l1.3 4.3l-3.7 -2.5l-3.7 2.5l1.3 -4.3l-3.6 -2.7l4.5 -0.1z"/><path d="M386.5 262.6l1.5 4.3l4.5 0.1l-3.6 2.7l1.3 4.3l-3.7 -2.6l-3.7 2.6l1.4 -4.3l-3.7 -2.7l4.6 -0.1z"/><path d="M321.4 313.7l1.5 4.3l4.5 0.1l-3.6 2.7l1.3 4.3l-3.7 -2.6l-3.7 2.6l1.3 -4.3l-3.6 -2.7l4.6 -0.1z"/><path d="M529 176.3l1.5 4.3l4.5 0.1l-3.6 2.7l1.3 4.3l-3.7 -2.6l-3.7 2.6l1.3 -4.3l-3.6 -2.7l4.5 -0.1z"/><path d="M477.2 205.6l1.5 4.2l4.5 0.1l-3.6 2.7l1.3 4.4l-3.7 -2.6l-3.7 2.6l1.3 -4.4l-3.6 -2.7l4.5 -0.1z"/><path d="M306.4 323.7l1.4 4.3l4.6 0.1l-3.7 2.7l1.4 4.3l-3.7 -2.6l-3.7 2.6l1.3 -4.3l-3.6 -2.7l4.5 -0.1z"/><path d="M350.9 287.9l1.5 4.3l4.5 0l-3.6 2.7l1.3 4.4l-3.7 -2.6l-3.7 2.6l1.4 -4.4l-3.6 -2.7l4.5 0z"/><path d="M330.2 305.6l1.4 4.3l4.6 0l-3.7 2.8l1.4 4.3l-3.7 -2.6l-3.7 2.6l1.3 -4.3l-3.6 -2.8l4.5 0z"/><path d="M294.3 332.4l1.5 4.2l4.5 0.1l-3.6 2.7l1.3 4.3l-3.7 -2.5l-3.7 2.5l1.3 -4.3l-3.6 -2.7l4.5 -0.1z"/><path d="M412.9 240.4l1.5 4.2l4.5 0.1l-3.6 2.7l1.3 4.4l-3.7 -2.6l-3.7 2.6l1.3 -4.4l-3.6 -2.7l4.5 -0.1z"/><path d="M397.3 261.6l1.5 4.3l4.5 0.1l-3.6 2.7l1.3 4.3l-3.7 -2.6l-3.7 2.6l1.4 -4.3l-3.7 -2.7l4.6 -0.1z"/><path d="M434.2 228.9l1.5 4.3l4.5 0.1l-3.6 2.7l1.3 4.3l-3.7 -2.6l-3.7 2.6l1.3 -4.3l-3.6 -2.7l4.6 -0.1z"/><path d="M425.4 209.1l1.5 4.3l4.5 0.1l-3.6 2.7l1.3 4.3l-3.7 -2.6l-3.7 2.6l1.3 -4.3l-3.6 -2.7l4.5 -0.1z"/><path d="M364 283.2l1.5 4.3l4.5 0.1l-3.6 2.7l1.3 4.3l-3.7 -2.6l-3.7 2.6l1.3 -4.3l-3.6 -2.7l4.5 -0.1z"/><path d="M382.3 268.8l1.4 4.3l4.6 0l-3.7 2.8l1.4 4.3l-3.7 -2.6l-3.7 2.6l1.3 -4.3l-3.6 -2.8l4.5 0z"/><path d="M343.7 291.5l1.4 4.3l4.6 0.1l-3.7 2.7l1.4 4.3l-3.7 -2.6l-3.7 2.6l1.3 -4.3l-3.6 -2.7l4.5 -0.1z"/><path d="M421.7 232.7l1.5 4.3l4.5 0.1l-3.6 2.7l1.3 4.3l-3.7 -2.6l-3.7 2.6l1.4 -4.3l-3.7 -2.7l4.6 -0.1z"/><path d="M344.1 294.1l1.5 4.3l4.5 0.1l-3.6 2.7l1.3 4.3l-3.7 -2.6l-3.7 2.6l1.3 -4.3l-3.6 -2.7l4.5 -0.1z"/><path d="M355.3 282.4l1.4 4.2l4.6 0.1l-3.6 2.7l1.3 4.4l-3.7 -2.6l-3.7 2.6l1.3 -4.4l-3.6 -2.7l4.5 -0.1z"/><path d="M360.1 286.6l1.5 4.3l4.5 0l-3.6 2.8l1.3 4.3l-3.7 -2.6l-3.7 2.6l1.4 -4.3l-3.7 -2.8l4.6 0z"/><path d="M351.2 292.7l1.4 4.3l4.6 0.1l-3.7 2.7l1.4 4.3l-3.7 -2.6l-3.7 2.6l1.3 -4.3l-3.6 -2.7l4.5 -0.1z"/><path d="M395.8 256.1l1.5 4.2l4.5 0.1l-3.6 2.7l1.3 4.4l-3.7 -2.6l-3.7 2.6l1.4 -4.4l-3.7 -2.7l4.6 -0.1z"/><path d="M297.4 329.3l1.5 4.3l4.5 0l-3.6 2.8l1.3 4.3l-3.7 -2.6l-3.7 2.6l1.3 -4.3l-3.6 -2.8l4.6 0z"/><path d="M376.9 269.3l1.4 4.3l4.6 0.1l-3.7 2.7l1.4 4.3l-3.7 -2.6l-3.7 2.6l1.3 -4.3l-3.6 -2.7l4.5 -0.1z"/><path d="M362.7 281.5l1.5 4.2l4.5 0.1l-3.6 2.7l1.3 4.4l-3.7 -2.6l-3.7 2.6l1.3 -4.4l-3.6 -2.7l4.6 -0.1z"/><path d="M459 223.9l1.5 4.3l4.5 0.1l-3.6 2.7l1.3 4.3l-3.7 -2.6l-3.7 2.6l1.4 -4.3l-3.7 -2.7l4.6 -0.1z"/><path d="M442 213.8l1.4 4.3l4.5 0.1l-3.6 2.7l1.4 4.3l-3.7 -2.6l-3.7 2.6l1.3 -4.3l-3.6 -2.7l4.5 -0.1z"/><path d="M370.8 276.3l1.5 4.3l4.5 0.1l-3.6 2.7l1.3 4.3l-3.7 -2.6l-3.7 2.6l1.3 -4.3l-3.6 -2.7l4.5 -0.1z"/><path d="M427 228.7l1.5 4.3l4.5 0.1l-3.6 2.7l1.3 4.3l-3.7 -2.6l-3.7 2.6l1.3 -4.3l-3.6 -2.7l4.5 -0.1z"/><path d="M389.9 269.9l1.4 4.3l4.6 0l-3.7 2.8l1.4 4.3l-3.7 -2.6l-3.7 2.6l1.3 -4.3l-3.6 -2.8l4.5 0z"/><path d="M303.7 320.8l1.5 4.2l4.5 0.1l-3.6 2.7l1.3 4.4l-3.7 -2.6l-3.7 2.6l1.3 -4.4l-3.6 -2.7l4.5 -0.1z"/><path d="M313.4 314.6l1.5 4.3l4.5 0.1l-3.6 2.7l1.3 4.3l-3.7 -2.6l-3.7 2.6l1.3 -4.3l-3.6 -2.7l4.5 -0.1z"/><path d="M364.8 278.9l1.5 4.3l4.5 0.1l-3.6 2.7l1.3 4.3l-3.7 -2.6l-3.7 2.6l1.3 -4.3l-3.6 -2.7l4.5 -0.1z"/><path d="M398.8 253.9l1.5 4.3l4.5 0.1l-3.6 2.7l1.3 4.3l-3.7 -2.6l-3.7 2.6l1.4 -4.3l-3.6 -2.7l4.5 -0.1z"/><path d="M430.3 226.9l1.4 4.3l4.6 0.1l-3.7 2.7l1.4 4.3l-3.7 -2.6l-3.7 2.6l1.3 -4.3l-3.6 -2.7l4.5 -0.1z"/><path d="M485.6 195.9l1.5 4.3l4.5 0.1l-3.6 2.7l1.3 4.3l-3.7 -2.6l-3.7 2.6l1.3 -4.3l-3.6 -2.7l4.5 -0.1z"/><path d="M459.9 207l1.4 4.3l4.6 0.1l-3.7 2.7l1.4 4.3l-3.7 -2.6l-3.7 2.6l1.3 -4.3l-3.6 -2.7l4.5 -0.1z"/><path d="M390.9 259.4l1.5 4.3l4.5 0l-3.6 2.7l1.3 4.4l-3.7 -2.6l-3.7 2.6l1.4 -4.4l-3.6 -2.7l4.5 0z"/><path d="M325.2 313.1l1.5 4.2l4.5 0.1l-3.6 2.7l1.3 4.4l-3.7 -2.6l-3.7 2.6l1.4 -4.4l-3.6 -2.7l4.5 -0.1z"/><path d="M292.9 335.3l1.4 4.2l4.5 0.1l-3.6 2.7l1.4 4.4l-3.7 -2.6l-3.8 2.6l1.4 -4.4l-3.6 -2.7l4.5 -0.1z"/><path d="M463.8 204l1.5 4.3l4.5 0l-3.6 2.8l1.4 4.3l-3.8 -2.6l-3.7 2.6l1.4 -4.3l-3.6 -2.8l4.5 0z"/><path d="M413.8 253.3l1.4 4.2l4.6 0.1l-3.7 2.7l1.4 4.4l-3.7 -2.6l-3.7 2.6l1.3 -4.4l-3.6 -2.7l4.5 -0.1z"/><path d="M418.3 240.3l1.4 4.3l4.6 0.1l-3.6 2.7l1.3 4.3l-3.7 -2.6l-3.7 2.6l1.3 -4.3l-3.6 -2.7l4.5 -0.1z"/><path d="M416.6 238.8l1.4 4.3l4.6 0.1l-3.7 2.7l1.4 4.3l-3.7 -2.6l-3.7 2.6l1.3 -4.3l-3.6 -2.7l4.5 -0.1z"/><path d="M407.7 242l1.5 4.3l4.5 0l-3.6 2.7l1.3 4.4l-3.7 -2.6l-3.7 2.6l1.3 -4.4l-3.6 -2.7l4.6 0z"/><path d="M423.9 233l1.5 4.3l4.5 0.1l-3.6 2.7l1.3 4.3l-3.7 -2.6l-3.7 2.6l1.3 -4.3l-3.6 -2.7l4.5 -0.1z"/><path d="M396.1 248.4l1.5 4.3l4.5 0.1l-3.6 2.7l1.3 4.3l-3.7 -2.6l-3.7 2.6l1.3 -4.3l-3.6 -2.7l4.5 -0.1z"/><path d="M467.6 196.7l1.5 4.2l4.5 0.1l-3.6 2.7l1.3 4.4l-3.7 -2.6l-3.7 2.6l1.3 -4.4l-3.6 -2.7l4.5 -0.1z"/><path d="M384.1 267.7l1.5 4.3l4.5 0.1l-3.6 2.7l1.3 4.3l-3.7 -2.6l-3.7 2.6l1.3 -4.3l-3.6 -2.7l4.5 -0.1z"/><path d="M444 223l1.4 4.3l4.5 0.1l-3.6 2.7l1.4 4.3l-3.7 -2.6l-3.7 2.6l1.3 -4.3l-3.6 -2.7l4.5 -0.1z"/><path d="M435.8 222.7l1.5 4.3l4.5 0.1l-3.6 2.7l1.3 4.3l-3.7 -2.6l-3.7 2.6l1.3 -4.3l-3.6 -2.7l4.5 -0.1z"/><path d="M333.5 301l1.5 4.2l4.5 0.1l-3.6 2.7l1.3 4.4l-3.7 -2.6l-3.7 2.6l1.3 -4.4l-3.6 -2.7l4.5 -0.1z"/><path d="M400 254.3l1.5 4.3l4.5 0.1l-3.6 2.7l1.3 4.3l-3.7 -2.6l-3.7 2.6l1.3 -4.3l-3.6 -2.7l4.5 -0.1z"/><path d="M493.1 207.8l1.5 4.3l4.5 0.1l-3.6 2.7l1.3 4.3l-3.7 -2.6l-3.7 2.6l1.3 -4.3l-3.6 -2.7l4.5 -0.1z"/><path d="M371.2 276.8l1.5 4.2l4.5 0.1l-3.6 2.7l1.3 4.4l-3.7 -2.6l-3.7 2.6l1.4 -4.4l-3.6 -2.7l4.5 -0.1z"/><path d="M395.4 250l1.5 4.2l4.5 0.1l-3.6 2.7l1.3 4.4l-3.7 -2.6l-3.7 2.6l1.4 -4.4l-3.7 -2.7l4.6 -0.1z"/><path d="M426 248.9l1.5 4.3l4.5 0.1l-3.6 2.7l1.3 4.3l-3.7 -2.6l-3.7 2.6l1.3 -4.3l-3.6 -2.7l4.5 -0.1z"/><path d="M460 214.2l1.5 4.3l4.5 0.1l-3.6 2.7l1.3 4.3l-3.7 -2.6l-3.7 2.6l1.3 -4.3l-3.6 -2.7l4.5 -0.1z"/><path d="M482.8 190l1.5 4.2l4.5 0.1l-3.6 2.7l1.3 4.4l-3.7 -2.6l-3.7 2.6l1.3 -4.4l-3.6 -2.7l4.5 -0.1z"/><path d="M498.8 184.4l1.4 4.3l4.6 0l-3.7 2.8l1.4 4.3l-3.7 -2.6l-3.7 2.6l1.3 -4.3l-3.6 -2.8l4.5 0z"/><path d="M432.9 226.8l1.5 4.3l4.5 0.1l-3.6 2.7l1.3 4.3l-3.7 -2.6l-3.7 2.6l1.3 -4.3l-3.6 -2.7l4.5 -0.1z"/><path d="M300.6 341.8l1.5 4.3l4.5 0l-3.6 2.8l1.3 4.3l-3.7 -2.6l-3.7 2.6l1.4 -4.3l-3.7 -2.8l4.6 0z"/><path d="M295.2 338.6l1.4 4.2l4.6 0.1l-3.6 2.7l1.3 4.4l-3.7 -2.6l-3.7 2.6l1.3 -4.4l-3.6 -2.7l4.5 -0.1z"/><path d="M424.1 227.9l1.5 4.2l4.5 0.1l-3.6 2.7l1.3 4.4l-3.7 -2.6l-3.7 2.6l1.4 -4.4l-3.7 -2.7l4.6 -0.1z"/><path d="M429.1 228.4l1.5 4.3l4.5 0.1l-3.6 2.7l1.3 4.3l-3.7 -2.6l-3.7 2.6l1.3 -4.3l-3.6 -2.7l4.5 -0.1z"/><path d="M440.9 254.8l1.5 4.2l4.5 0.1l-3.6 2.7l1.3 4.4l-3.7 -2.6l-3.7 2.6l1.3 -4.4l-3.6 -2.7l4.5 -0.1z"/><path d="M391 260.7l1.5 4.3l4.5 0.1l-3.6 2.7l1.3 4.3l-3.7 -2.6l-3.7 2.6l1.3 -4.3l-3.6 -2.7l4.5 -0.1z"/><path d="M411.7 239.4l1.4 4.3l4.6 0.1l-3.7 2.7l1.4 4.3l-3.7 -2.6l-3.7 2.6l1.3 -4.3l-3.6 -2.7l4.5 -0.1z"/><path d="M428.1 225.2l1.5 4.3l4.5 0.1l-3.6 2.7l1.3 4.3l-3.7 -2.6l-3.7 2.6l1.3 -4.3l-3.6 -2.7l4.5 -0.1z"/><path d="M412.6 238.8l1.5 4.3l4.5 0l-3.6 2.8l1.3 4.3l-3.7 -2.6l-3.7 2.6l1.4 -4.3l-3.6 -2.8l4.5 0z"/><path d="M501.8 180.2l1.5 4.2l4.5 0.1l-3.6 2.7l1.3 4.4l-3.7 -2.6l-3.7 2.6l1.3 -4.4l-3.6 -2.7l4.5 -0.1z"/><path d="M386.9 256.4l1.5 4.3l4.5 0.1l-3.6 2.7l1.4 4.3l-3.8 -2.6l-3.7 2.6l1.4 -4.3l-3.6 -2.7l4.5 -0.1z"/><path d="M346.6 297.1l1.4 4.3l4.6 0.1l-3.7 2.7l1.4 4.3l-3.7 -2.6l-3.7 2.6l1.3 -4.3l-3.6 -2.7l4.5 -0.1z"/><path d="M417.8 243.6l1.5 4.3l4.5 0.1l-3.6 2.7l1.3 4.3l-3.7 -2.6l-3.7 2.6l1.3 -4.3l-3.6 -2.7l4.5 -0.1z"/><path d="M392.4 264.8l1.5 4.3l4.5 0l-3.6 2.8l1.3 4.3l-3.7 -2.6l-3.7 2.6l1.3 -4.3l-3.6 -2.8l4.6 0z"/><path d="M440.7 221.2l1.5 4.3l4.5 0.1l-3.6 2.7l1.3 4.3l-3.7 -2.6l-3.7 2.6l1.3 -4.3l-3.6 -2.7l4.5 -0.1z"/><path d="M466.3 231.6l1.5 4.3l4.5 0l-3.6 2.8l1.3 4.3l-3.7 -2.6l-3.7 2.6l1.3 -4.3l-3.6 -2.8l4.6 0z"/><path d="M381.2 264.4l1.5 4.3l4.5 0l-3.6 2.7l1.3 4.4l-3.7 -2.6l-3.7 2.6l1.3 -4.4l-3.6 -2.7l4.6 0z"/><path d="M461 208.6l1.5 4.3l4.5 0l-3.6 2.7l1.3 4.4l-3.7 -2.6l-3.7 2.6l1.3 -4.4l-3.6 -2.7l4.5 0z"/><path d="M451.5 214.6l1.5 4.2l4.5 0.1l-3.6 2.7l1.3 4.4l-3.7 -2.6l-3.7 2.6l1.3 -4.4l-3.6 -2.7l4.5 -0.1z"/><path d="M358.6 272.7l1.5 4.3l4.5 0.1l-3.6 2.7l1.3 4.3l-3.7 -2.6l-3.7 2.6l1.3 -4.3l-3.6 -2.7l4.5 -0.1z"/><path d="M332.6 302.4l1.5 4.3l4.5 0.1l-3.6 2.7l1.3 4.3l-3.7 -2.6l-3.7 2.6l1.4 -4.3l-3.7 -2.7l4.6 -0.1z"/><path d="M449.6 223.5l1.4 4.3l4.6 0.1l-3.7 2.7l1.4 4.3l-3.7 -2.6l-3.7 2.6l1.3 -4.3l-3.6 -2.7l4.5 -0.1z"/><path d="M371.4 273.6l1.5 4.2l4.5 0.1l-3.6 2.7l1.3 4.4l-3.7 -2.6l-3.7 2.6l1.3 -4.4l-3.6 -2.7l4.5 -0.1z"/><path d="M343.4 298.8l1.5 4.3l4.5 0.1l-3.6 2.7l1.3 4.3l-3.7 -2.6l-3.7 2.6l1.3 -4.3l-3.6 -2.7l4.5 -0.1z"/><path d="M329 312.4l1.4 4.3l4.6 0.1l-3.6 2.7l1.3 4.3l-3.7 -2.6l-3.7 2.6l1.3 -4.3l-3.6 -2.7l4.5 -0.1z"/><path d="M337.6 294.8l1.4 4.2l4.6 0.1l-3.6 2.7l1.3 4.4l-3.7 -2.6l-3.7 2.6l1.3 -4.4l-3.6 -2.7l4.5 -0.1z"/><path d="M319.8 314.3l1.5 4.3l4.5 0l-3.6 2.8l1.3 4.3l-3.7 -2.6l-3.7 2.6l1.3 -4.3l-3.6 -2.8l4.5 0z"/><path d="M322.1 302.5l1.4 4.2l4.5 0.1l-3.6 2.7l1.4 4.4l-3.7 -2.6l-3.7 2.6l1.3 -4.4l-3.6 -2.7l4.5 -0.1z"/><path d="M379.1 268.9l1.4 4.3l4.6 0.1l-3.6 2.7l1.3 4.3l-3.7 -2.6l-3.7 2.6l1.3 -4.3l-3.6 -2.7l4.5 -0.1z"/><path d="M329.1 306.1l1.4 4.2l4.6 0.1l-3.7 2.7l1.4 4.4l-3.7 -2.6l-3.7 2.6l1.3 -4.4l-3.6 -2.7l4.5 -0.1z"/><path d="M455.9 236.3l1.5 4.3l4.5 0.1l-3.6 2.7l1.3 4.3l-3.7 -2.6l-3.7 2.6l1.3 -4.3l-3.6 -2.7l4.5 -0.1z"/><path d="M481.2 190.9l1.5 4.3l4.5 0l-3.6 2.8l1.3 4.3l-3.7 -2.6l-3.7 2.6l1.3 -4.3l-3.6 -2.8l4.6 0z"/><path d="M388.3 260.6l1.5 4.3l4.5 0.1l-3.6 2.7l1.3 4.3l-3.7 -2.6l-3.7 2.6l1.4 -4.3l-3.7 -2.7l4.6 -0.1z"/><path d="M354.1 292.1l1.4 4.3l4.6 0l-3.6 2.8l1.3 4.3l-3.7 -2.6l-3.7 2.6l1.3 -4.3l-3.6 -2.8l4.5 0z"/><path d="M474 199.9l1.5 4.3l4.5 0l-3.6 2.8l1.3 4.3l-3.7 -2.6l-3.7 2.6l1.3 -4.3l-3.6 -2.8l4.5 0z"/><path d="M432.7 229l1.4 4.2l4.5 0.1l-3.6 2.7l1.4 4.4l-3.7 -2.6l-3.7 2.6l1.3 -4.4l-3.6 -2.7l4.5 -0.1z"/><path d="M312.4 315.8l1.4 4.2l4.6 0.1l-3.6 2.7l1.3 4.3l-3.7 -2.5l-3.7 2.5l1.3 -4.3l-3.6 -2.7l4.5 -0.1z"/><path d="M455.6 228.3l1.5 4.3l4.5 0.1l-3.6 2.7l1.3 4.3l-3.7 -2.6l-3.7 2.6l1.3 -4.3l-3.6 -2.7l4.5 -0.1z"/><path d="M400.3 247.3l1.5 4.3l4.5 0l-3.6 2.8l1.3 4.3l-3.7 -2.6l-3.7 2.6l1.4 -4.3l-3.7 -2.8l4.6 0z"/><path d="M328.3 298.6l1.5 4.3l4.5 0.1l-3.6 2.7l1.3 4.3l-3.7 -2.6l-3.7 2.6l1.3 -4.3l-3.6 -2.7l4.5 -0.1z"/><path d="M404.1 248l1.4 4.2l4.5 0.1l-3.6 2.7l1.4 4.4l-3.7 -2.6l-3.7 2.6l1.3 -4.4l-3.6 -2.7l4.5 -0.1z"/><path d="M356.7 286l1.5 4.2l4.5 0.1l-3.6 2.7l1.3 4.4l-3.7 -2.6l-3.7 2.6l1.4 -4.4l-3.6 -2.7l4.5 -0.1z"/><path d="M335.7 298.1l1.5 4.3l4.5 0.1l-3.6 2.7l1.3 4.3l-3.7 -2.6l-3.7 2.6l1.4 -4.3l-3.7 -2.7l4.6 -0.1z"/><path d="M319 312.3l1.4 4.3l4.6 0.1l-3.7 2.7l1.4 4.3l-3.7 -2.6l-3.7 2.6l1.3 -4.3l-3.6 -2.7l4.5 -0.1z"/><path d="M398.2 263.9l1.5 4.3l4.5 0.1l-3.6 2.7l1.3 4.3l-3.7 -2.6l-3.7 2.6l1.3 -4.3l-3.6 -2.7l4.5 -0.1z"/><path d="M384.3 260.6l1.5 4.3l4.5 0.1l-3.6 2.7l1.3 4.3l-3.7 -2.6l-3.7 2.6l1.4 -4.3l-3.7 -2.7l4.6 -0.1z"/><path d="M362.4 281.9l1.5 4.3l4.5 0.1l-3.6 2.7l1.3 4.3l-3.7 -2.6l-3.7 2.6l1.3 -4.3l-3.6 -2.7l4.5 -0.1z"/><path d="M384.8 258.3l1.4 4.2l4.6 0.1l-3.7 2.7l1.4 4.3l-3.7 -2.5l-3.7 2.5l1.3 -4.3l-3.6 -2.7l4.5 -0.1z"/><path d="M411.3 242.3l1.5 4.3l4.5 0.1l-3.6 2.7l1.3 4.3l-3.7 -2.6l-3.7 2.6l1.3 -4.3l-3.6 -2.7l4.6 -0.1z"/><path d="M460.5 203.3l1.5 4.2l4.5 0.1l-3.6 2.7l1.3 4.4l-3.7 -2.6l-3.7 2.6l1.3 -4.4l-3.6 -2.7l4.5 -0.1z"/><path d="M338 298.4l1.5 4.2l4.5 0.1l-3.6 2.7l1.4 4.4l-3.8 -2.6l-3.7 2.6l1.4 -4.4l-3.6 -2.7l4.5 -0.1z"/><path d="M385.3 261.5l1.5 4.3l4.5 0l-3.6 2.8l1.3 4.3l-3.7 -2.6l-3.7 2.6l1.3 -4.3l-3.6 -2.8l4.5 0z"/><path d="M337.1 299.8l1.5 4.3l4.5 0.1l-3.6 2.7l1.3 4.3l-3.7 -2.6l-3.7 2.6l1.3 -4.3l-3.6 -2.7l4.5 -0.1z"/><path d="M447.4 207.6l1.5 4.3l4.5 0.1l-3.6 2.7l1.3 4.3l-3.7 -2.6l-3.7 2.6l1.3 -4.3l-3.6 -2.7l4.5 -0.1z"/><path d="M448.2 221.7l1.4 4.2l4.6 0.1l-3.7 2.7l1.4 4.4l-3.7 -2.6l-3.7 2.6l1.3 -4.4l-3.6 -2.7l4.5 -0.1z"/><path d="M390.2 259.2l1.4 4.3l4.6 0.1l-3.7 2.7l1.4 4.3l-3.7 -2.6l-3.7 2.6l1.3 -4.3l-3.6 -2.7l4.5 -0.1z"/><path d="M435.5 227.2l1.5 4.3l4.5 0l-3.6 2.8l1.3 4.3l-3.7 -2.6l-3.7 2.6l1.3 -4.3l-3.6 -2.8l4.5 0z"/><path d="M342.1 291.3l1.4 4.3l4.6 0l-3.7 2.7l1.4 4.4l-3.7 -2.6l-3.7 2.6l1.3 -4.4l-3.6 -2.7l4.5 0z"/><path d="M421.6 237.1l1.4 4.3l4.6 0l-3.6 2.8l1.3 4.3l-3.7 -2.6l-3.7 2.6l1.3 -4.3l-3.6 -2.8l4.5 0z"/><path d="M341.9 303.7l1.4 4.3l4.6 0l-3.7 2.8l1.4 4.3l-3.7 -2.6l-3.7 2.6l1.3 -4.3l-3.6 -2.8l4.5 0z"/><path d="M431.5 220.9l1.5 4.2l4.5 0.1l-3.6 2.7l1.3 4.4l-3.7 -2.6l-3.7 2.6l1.3 -4.4l-3.6 -2.7l4.5 -0.1z"/><path d="M419.1 265.7l1.5 4.3l4.5 0.1l-3.6 2.7l1.3 4.3l-3.7 -2.6l-3.7 2.6l1.3 -4.3l-3.6 -2.7l4.5 -0.1z"/><path d="M496.4 186l1.5 4.3l4.5 0l-3.6 2.8l1.3 4.3l-3.7 -2.6l-3.7 2.6l1.4 -4.3l-3.7 -2.8l4.6 0z"/><path d="M483.9 193.1l1.5 4.3l4.5 0.1l-3.6 2.7l1.3 4.3l-3.7 -2.6l-3.7 2.6l1.3 -4.3l-3.6 -2.7l4.5 -0.1z"/><path d="M430 232.9l1.5 4.3l4.5 0l-3.6 2.8l1.3 4.3l-3.7 -2.6l-3.7 2.6l1.3 -4.3l-3.6 -2.8l4.6 0z"/><path d="M380.9 265.2l1.4 4.3l4.6 0.1l-3.7 2.7l1.4 4.3l-3.7 -2.6l-3.7 2.6l1.3 -4.3l-3.6 -2.7l4.5 -0.1z"/><path d="M375.8 269.6l1.5 4.3l4.5 0.1l-3.6 2.7l1.3 4.3l-3.7 -2.6l-3.7 2.6l1.4 -4.3l-3.7 -2.7l4.6 -0.1z"/><path d="M359 280.9l1.5 4.2l4.5 0.1l-3.6 2.7l1.3 4.4l-3.7 -2.6l-3.7 2.6l1.3 -4.4l-3.6 -2.7l4.5 -0.1z"/><path d="M451.1 209.7l1.5 4.3l4.5 0.1l-3.6 2.7l1.3 4.3l-3.7 -2.6l-3.7 2.6l1.3 -4.3l-3.6 -2.7l4.5 -0.1z"/><path d="M325.2 316.1l1.5 4.3l4.5 0l-3.6 2.8l1.3 4.3l-3.7 -2.6l-3.7 2.6l1.3 -4.3l-3.6 -2.8l4.5 0z"/><path d="M328.1 312.6l1.5 4.3l4.5 0.1l-3.6 2.7l1.3 4.3l-3.7 -2.6l-3.7 2.6l1.3 -4.3l-3.6 -2.7l4.5 -0.1z"/><path d="M379 276l1.5 4.3l4.5 0l-3.6 2.8l1.3 4.3l-3.7 -2.6l-3.7 2.6l1.3 -4.3l-3.6 -2.8l4.6 0z"/><path d="M360.5 282.7l1.4 4.2l4.6 0.1l-3.6 2.7l1.3 4.4l-3.7 -2.6l-3.7 2.6l1.3 -4.4l-3.6 -2.7l4.5 -0.1z"/><path d="M453.8 211.3l1.4 4.2l4.5 0.1l-3.6 2.7l1.4 4.4l-3.7 -2.6l-3.7 2.6l1.3 -4.4l-3.6 -2.7l4.5 -0.1z"/><path d="M389.3 261.5l1.4 4.3l4.5 0.1l-3.6 2.7l1.4 4.3l-3.7 -2.6l-3.7 2.6l1.3 -4.3l-3.6 -2.7l4.5 -0.1z"/><path d="M368.7 279.6l1.5 4.3l4.5 0.1l-3.6 2.7l1.3 4.3l-3.7 -2.6l-3.7 2.6l1.3 -4.3l-3.6 -2.7l4.5 -0.1z"/><path d="M418.8 233.4l1.5 4.2l4.5 0.1l-3.6 2.7l1.3 4.4l-3.7 -2.6l-3.7 2.6l1.3 -4.4l-3.6 -2.7l4.5 -0.1z"/><path d="M452.4 216.2l1.5 4.3l4.5 0.1l-3.6 2.7l1.3 4.3l-3.7 -2.6l-3.7 2.6l1.3 -4.3l-3.6 -2.7l4.5 -0.1z"/><path d="M321.2 314.8l1.4 4.3l4.6 0l-3.7 2.7l1.4 4.4l-3.7 -2.6l-3.7 2.6l1.3 -4.4l-3.6 -2.7l4.5 0z"/><path d="M317.7 311.7l1.5 4.3l4.5 0.1l-3.6 2.7l1.3 4.3l-3.7 -2.6l-3.7 2.6l1.3 -4.3l-3.6 -2.7l4.5 -0.1z"/><path d="M426.2 229.2l1.5 4.2l4.5 0.1l-3.6 2.7l1.3 4.4l-3.7 -2.6l-3.7 2.6l1.3 -4.4l-3.6 -2.7l4.5 -0.1z"/><path d="M444.9 220.4l1.4 4.3l4.6 0l-3.7 2.8l1.4 4.3l-3.7 -2.6l-3.7 2.6l1.3 -4.3l-3.6 -2.8l4.5 0z"/><path d="M327.8 305.5l1.5 4.3l4.5 0.1l-3.6 2.7l1.3 4.3l-3.7 -2.6l-3.7 2.6l1.4 -4.3l-3.7 -2.7l4.6 -0.1z"/><path d="M331.7 301l1.4 4.3l4.6 0l-3.6 2.8l1.3 4.3l-3.7 -2.6l-3.7 2.6l1.3 -4.3l-3.6 -2.8l4.5 0z"/><path d="M369.9 315.3l1.5 4.3l4.5 0.1l-3.6 2.7l1.3 4.3l-3.7 -2.6l-3.7 2.6l1.4 -4.3l-3.6 -2.7l4.5 -0.1z"/><path d="M328.2 302.1l1.5 4.3l4.5 0.1l-3.6 2.7l1.3 4.3l-3.7 -2.6l-3.7 2.6l1.4 -4.3l-3.6 -2.7l4.5 -0.1z"/><path d="M405.5 246.3l1.4 4.3l4.5 0l-3.6 2.8l1.4 4.3l-3.7 -2.6l-3.7 2.6l1.3 -4.3l-3.6 -2.8l4.5 0z"/><path d="M372.1 269.7l1.4 4.2l4.6 0.1l-3.7 2.7l1.4 4.4l-3.7 -2.6l-3.7 2.6l1.3 -4.4l-3.6 -2.7l4.5 -0.1z"/><path d="M295.2 331.1l1.5 4.3l4.5 0.1l-3.6 2.7l1.3 4.3l-3.7 -2.6l-3.7 2.6l1.3 -4.3l-3.6 -2.7l4.5 -0.1z"/><path d="M477.4 202.5l1.5 4.3l4.5 0l-3.6 2.8l1.3 4.3l-3.7 -2.6l-3.7 2.6l1.3 -4.3l-3.6 -2.8l4.5 0z"/><path d="M393.8 258.2l1.5 4.2l4.5 0.1l-3.6 2.7l1.3 4.4l-3.7 -2.6l-3.7 2.6l1.3 -4.4l-3.6 -2.7l4.5 -0.1z"/><path d="M343.8 295.5l1.4 4.3l4.6 0l-3.7 2.8l1.4 4.3l-3.7 -2.6l-3.7 2.6l1.3 -4.3l-3.6 -2.8l4.5 0z"/><path d="M452.3 222.9l1.5 4.2l4.5 0.1l-3.6 2.7l1.3 4.3l-3.7 -2.5l-3.7 2.5l1.3 -4.3l-3.6 -2.7l4.5 -0.1z"/><path d="M302.5 328.9l1.4 4.3l4.5 0.1l-3.6 2.7l1.4 4.3l-3.7 -2.6l-3.7 2.6l1.3 -4.3l-3.6 -2.7l4.5 -0.1z"/><path d="M400.7 247l1.5 4.3l4.5 0l-3.6 2.7l1.3 4.4l-3.7 -2.6l-3.7 2.6l1.3 -4.4l-3.6 -2.7l4.5 0z"/><path d="M434.8 227.7l1.4 4.2l4.6 0.1l-3.6 2.7l1.3 4.4l-3.7 -2.6l-3.7 2.6l1.3 -4.4l-3.6 -2.7l4.5 -0.1z"/><path d="M443.5 218.4l1.4 4.3l4.6 0l-3.6 2.8l1.3 4.3l-3.7 -2.6l-3.7 2.6l1.3 -4.3l-3.6 -2.8l4.5 0z"/><path d="M365.7 264.6l1.5 4.2l4.5 0.1l-3.6 2.7l1.3 4.3l-3.7 -2.5l-3.7 2.5l1.3 -4.3l-3.6 -2.7l4.5 -0.1z"/><path d="M319.9 311.8l1.4 4.3l4.6 0.1l-3.7 2.7l1.4 4.3l-3.7 -2.6l-3.7 2.6l1.3 -4.3l-3.6 -2.7l4.5 -0.1z"/><path d="M350.5 292.4l1.5 4.2l4.5 0.1l-3.6 2.7l1.3 4.4l-3.7 -2.6l-3.7 2.6l1.3 -4.4l-3.6 -2.7l4.6 -0.1z"/><path d="M310.4 310.7l1.5 4.3l4.5 0.1l-3.6 2.7l1.4 4.3l-3.8 -2.6l-3.7 2.6l1.4 -4.3l-3.6 -2.7l4.5 -0.1z"/><path d="M468.5 203.3l1.5 4.3l4.5 0.1l-3.6 2.7l1.3 4.3l-3.7 -2.6l-3.7 2.6l1.4 -4.3l-3.7 -2.7l4.6 -0.1z"/><path d="M338.8 319.3l1.5 4.2l4.5 0.1l-3.6 2.7l1.3 4.4l-3.7 -2.6l-3.7 2.6l1.4 -4.4l-3.7 -2.7l4.6 -0.1z"/><path d="M380.1 272.5l1.4 4.3l4.6 0.1l-3.7 2.7l1.4 4.3l-3.7 -2.6l-3.7 2.6l1.3 -4.3l-3.6 -2.7l4.5 -0.1z"/><path d="M457.4 219.4l1.5 4.3l4.5 0l-3.6 2.8l1.4 4.3l-3.8 -2.6l-3.7 2.6l1.4 -4.3l-3.6 -2.8l4.5 0z"/><path d="M411.7 243.3l1.4 4.3l4.5 0.1l-3.6 2.7l1.4 4.3l-3.7 -2.6l-3.7 2.6l1.3 -4.3l-3.6 -2.7l4.5 -0.1z"/><path d="M438.2 222.7l1.5 4.3l4.5 0.1l-3.6 2.7l1.3 4.3l-3.7 -2.6l-3.7 2.6l1.4 -4.3l-3.7 -2.7l4.6 -0.1z"/><path d="M366.8 277.8l1.5 4.3l4.5 0.1l-3.6 2.7l1.3 4.3l-3.7 -2.6l-3.7 2.6l1.3 -4.3l-3.6 -2.7l4.5 -0.1z"/><path d="M490.3 182.4l1.5 4.3l4.5 0.1l-3.6 2.7l1.3 4.3l-3.7 -2.6l-3.7 2.6l1.3 -4.3l-3.6 -2.7l4.5 -0.1z"/><path d="M317.4 314.4l1.4 4.2l4.6 0.1l-3.6 2.7l1.3 4.4l-3.7 -2.6l-3.7 2.6l1.3 -4.4l-3.6 -2.7l4.5 -0.1z"/><path d="M399.6 251.1l1.5 4.3l4.5 0.1l-3.6 2.7l1.3 4.3l-3.7 -2.6l-3.7 2.6l1.4 -4.3l-3.7 -2.7l4.6 -0.1z"/><path d="M450 209.8l1.5 4.2l4.5 0.1l-3.6 2.7l1.3 4.3l-3.7 -2.5l-3.7 2.5l1.3 -4.3l-3.6 -2.7l4.5 -0.1z"/><path d="M390.5 255.3l1.5 4.3l4.5 0l-3.6 2.8l1.3 4.3l-3.7 -2.6l-3.7 2.6l1.4 -4.3l-3.7 -2.8l4.6 0z"/><path d="M340.2 312l1.5 4.2l4.5 0.1l-3.6 2.7l1.3 4.4l-3.7 -2.6l-3.7 2.6l1.3 -4.4l-3.6 -2.7l4.5 -0.1z"/><path d="M485.3 202.3l1.5 4.3l4.5 0l-3.6 2.8l1.3 4.3l-3.7 -2.6l-3.7 2.6l1.3 -4.3l-3.6 -2.8l4.5 0z"/><path d="M366.9 274.5l1.5 4.3l4.5 0l-3.6 2.8l1.3 4.3l-3.7 -2.6l-3.7 2.6l1.4 -4.3l-3.7 -2.8l4.6 0z"/><path d="M332.2 317l1.5 4.3l4.5 0.1l-3.6 2.7l1.3 4.3l-3.7 -2.6l-3.7 2.6l1.3 -4.3l-3.6 -2.7l4.5 -0.1z"/><path d="M464.1 234.4l1.5 4.3l4.5 0.1l-3.6 2.7l1.3 4.3l-3.7 -2.6l-3.7 2.6l1.3 -4.3l-3.6 -2.7l4.5 -0.1z"/><path d="M299.7 341.7l1.5 4.3l4.5 0.1l-3.6 2.7l1.3 4.3l-3.7 -2.6l-3.7 2.6l1.3 -4.3l-3.6 -2.7l4.5 -0.1z"/><path d="M459.1 212.2l1.5 4.2l4.5 0.1l-3.6 2.7l1.3 4.4l-3.7 -2.6l-3.7 2.6l1.3 -4.4l-3.6 -2.7l4.5 -0.1z"/><path d="M354.2 278.8l1.5 4.2l4.5 0.1l-3.6 2.7l1.3 4.3l-3.7 -2.5l-3.7 2.5l1.3 -4.3l-3.6 -2.7l4.5 -0.1z"/><path d="M449.9 213.3l1.4 4.3l4.6 0.1l-3.7 2.7l1.4 4.3l-3.7 -2.6l-3.7 2.6l1.3 -4.3l-3.6 -2.7l4.5 -0.1z"/><path d="M317.9 305.4l1.5 4.3l4.5 0l-3.6 2.8l1.3 4.3l-3.7 -2.6l-3.7 2.6l1.3 -4.3l-3.6 -2.8l4.5 0z"/><path d="M498.9 181.3l1.5 4.3l4.5 0l-3.6 2.7l1.3 4.4l-3.7 -2.6l-3.7 2.6l1.4 -4.4l-3.6 -2.7l4.5 0z"/><path d="M429.3 229.1l1.4 4.3l4.6 0.1l-3.7 2.7l1.4 4.3l-3.7 -2.6l-3.7 2.6l1.3 -4.3l-3.6 -2.7l4.5 -0.1z"/><path d="M329.8 305.2l1.5 4.3l4.5 0.1l-3.6 2.7l1.3 4.3l-3.7 -2.6l-3.7 2.6l1.4 -4.3l-3.7 -2.7l4.6 -0.1z"/><path d="M335.8 304.5l1.5 4.3l4.5 0.1l-3.6 2.7l1.3 4.3l-3.7 -2.6l-3.7 2.6l1.3 -4.3l-3.6 -2.7l4.6 -0.1z"/><path d="M451.1 207.2l1.5 4.3l4.5 0l-3.6 2.8l1.3 4.3l-3.7 -2.6l-3.7 2.6l1.3 -4.3l-3.6 -2.8l4.5 0z"/><path d="M452.1 207.7l1.5 4.2l4.5 0.1l-3.6 2.7l1.3 4.4l-3.7 -2.6l-3.7 2.6l1.4 -4.4l-3.7 -2.7l4.6 -0.1z"/><path d="M381.1 265.3l1.4 4.3l4.6 0.1l-3.7 2.7l1.4 4.3l-3.7 -2.6l-3.7 2.6l1.3 -4.3l-3.6 -2.7l4.5 -0.1z"/><path d="M338.3 299.3l1.5 4.3l4.5 0.1l-3.6 2.7l1.3 4.3l-3.7 -2.6l-3.7 2.6l1.3 -4.3l-3.6 -2.7l4.5 -0.1z"/><path d="M308.8 320.7l1.5 4.2l4.5 0.1l-3.6 2.7l1.3 4.3l-3.7 -2.5l-3.7 2.5l1.4 -4.3l-3.7 -2.7l4.6 -0.1z"/><path d="M395.9 257.7l1.5 4.3l4.5 0.1l-3.6 2.7l1.3 4.3l-3.7 -2.6l-3.7 2.6l1.3 -4.3l-3.6 -2.7l4.5 -0.1z"/><path d="M471.4 196.3l1.4 4.3l4.6 0.1l-3.7 2.7l1.4 4.3l-3.7 -2.6l-3.7 2.6l1.3 -4.3l-3.6 -2.7l4.5 -0.1z"/><path d="M311 323.1l1.4 4.3l4.6 0.1l-3.6 2.7l1.3 4.3l-3.7 -2.6l-3.7 2.6l1.3 -4.3l-3.6 -2.7l4.5 -0.1z"/><path d="M410.9 247.5l1.4 4.3l4.6 0.1l-3.7 2.7l1.4 4.3l-3.7 -2.6l-3.7 2.6l1.3 -4.3l-3.6 -2.7l4.5 -0.1z"/><path d="M304.2 322.2l1.5 4.3l4.5 0.1l-3.6 2.7l1.3 4.3l-3.7 -2.6l-3.7 2.6l1.4 -4.3l-3.7 -2.7l4.6 -0.1z"/><path d="M297.9 340.6l1.5 4.2l4.5 0.1l-3.6 2.7l1.3 4.3l-3.7 -2.5l-3.7 2.5l1.4 -4.3l-3.7 -2.7l4.6 -0.1z"/><path d="M341.3 295.3l1.5 4.2l4.5 0.1l-3.6 2.7l1.3 4.3l-3.7 -2.5l-3.7 2.5l1.3 -4.3l-3.6 -2.7l4.5 -0.1z"/><path d="M360.8 285.6l1.5 4.2l4.5 0.1l-3.6 2.7l1.3 4.4l-3.7 -2.6l-3.7 2.6l1.4 -4.4l-3.7 -2.7l4.6 -0.1z"/><path d="M460 214.4l1.4 4.3l4.6 0l-3.6 2.8l1.3 4.3l-3.7 -2.6l-3.7 2.6l1.3 -4.3l-3.6 -2.8l4.5 0z"/><path d="M375.7 264.5l1.5 4.3l4.5 0.1l-3.6 2.7l1.3 4.3l-3.7 -2.6l-3.7 2.6l1.4 -4.3l-3.7 -2.7l4.6 -0.1z"/><path d="M450.5 214.7l1.5 4.3l4.5 0.1l-3.6 2.7l1.3 4.3l-3.7 -2.6l-3.7 2.6l1.3 -4.3l-3.6 -2.7l4.5 -0.1z"/><path d="M330.9 302.8l1.5 4.3l4.5 0.1l-3.6 2.7l1.3 4.3l-3.7 -2.6l-3.7 2.6l1.4 -4.3l-3.6 -2.7l4.5 -0.1z"/><path d="M435.7 225.2l1.4 4.3l4.6 0.1l-3.7 2.7l1.4 4.3l-3.7 -2.6l-3.7 2.6l1.3 -4.3l-3.6 -2.7l4.5 -0.1z"/><path d="M324 309.1l1.5 4.3l4.5 0.1l-3.6 2.7l1.3 4.3l-3.7 -2.6l-3.7 2.6l1.3 -4.3l-3.6 -2.7l4.5 -0.1z"/><path d="M409.4 246.6l1.5 4.3l4.5 0l-3.6 2.7l1.3 4.4l-3.7 -2.6l-3.7 2.6l1.3 -4.4l-3.6 -2.7l4.5 0z"/><path d="M384 242.5l1.5 4.3l4.5 0.1l-3.6 2.7l1.3 4.3l-3.7 -2.6l-3.7 2.6l1.3 -4.3l-3.6 -2.7l4.5 -0.1z"/><path d="M412.4 248.4l1.5 4.3l4.5 0l-3.6 2.8l1.3 4.3l-3.7 -2.6l-3.7 2.6l1.4 -4.3l-3.7 -2.8l4.6 0z"/><path d="M392.2 257.3l1.5 4.2l4.5 0.1l-3.6 2.7l1.3 4.4l-3.7 -2.6l-3.7 2.6l1.4 -4.4l-3.7 -2.7l4.6 -0.1z"/><path d="M321.4 314.8l1.5 4.3l4.5 0.1l-3.6 2.7l1.3 4.3l-3.7 -2.6l-3.7 2.6l1.3 -4.3l-3.6 -2.7l4.5 -0.1z"/><path d="M393.8 257.5l1.4 4.2l4.5 0.1l-3.6 2.7l1.4 4.4l-3.7 -2.6l-3.8 2.6l1.4 -4.4l-3.6 -2.7l4.5 -0.1z"/><path d="M469.2 239.4l1.4 4.3l4.6 0.1l-3.6 2.7l1.3 4.3l-3.7 -2.6l-3.7 2.6l1.3 -4.3l-3.6 -2.7l4.5 -0.1z"/><path d="M396 253.2l1.5 4.2l4.5 0.1l-3.6 2.7l1.3 4.4l-3.7 -2.6l-3.7 2.6l1.4 -4.4l-3.6 -2.7l4.5 -0.1z"/><path d="M434.6 227.7l1.4 4.2l4.6 0.1l-3.6 2.7l1.3 4.4l-3.7 -2.6l-3.7 2.6l1.3 -4.4l-3.6 -2.7l4.5 -0.1z"/><path d="M330.4 308.9l1.5 4.3l4.5 0.1l-3.6 2.7l1.3 4.3l-3.7 -2.6l-3.7 2.6l1.4 -4.3l-3.6 -2.7l4.5 -0.1z"/><path d="M470 193.7l1.5 4.3l4.5 0.1l-3.6 2.7l1.3 4.3l-3.7 -2.6l-3.7 2.6l1.3 -4.3l-3.6 -2.7l4.5 -0.1z"/><path d="M409.7 248.3l1.4 4.2l4.6 0.1l-3.7 2.7l1.4 4.3l-3.7 -2.5l-3.7 2.5l1.3 -4.3l-3.6 -2.7l4.5 -0.1z"/><path d="M405 253.3l1.5 4.2l4.5 0.1l-3.6 2.7l1.3 4.4l-3.7 -2.6l-3.7 2.6l1.3 -4.4l-3.6 -2.7l4.5 -0.1z"/><path d="M435 208.3l1.5 4.3l4.5 0.1l-3.6 2.7l1.3 4.3l-3.7 -2.6l-3.7 2.6l1.3 -4.3l-3.6 -2.7l4.5 -0.1z"/><path d="M298.4 327.2l1.5 4.3l4.5 0l-3.6 2.7l1.3 4.4l-3.7 -2.6l-3.7 2.6l1.4 -4.4l-3.7 -2.7l4.6 0z"/><path d="M448.9 218.5l1.5 4.2l4.5 0.1l-3.6 2.7l1.3 4.3l-3.7 -2.5l-3.7 2.5l1.4 -4.3l-3.7 -2.7l4.6 -0.1z"/><path d="M359.6 280l1.4 4.2l4.6 0.1l-3.7 2.7l1.4 4.4l-3.7 -2.6l-3.7 2.6l1.3 -4.4l-3.6 -2.7l4.5 -0.1z"/><path d="M342.9 299.5l1.4 4.3l4.6 0.1l-3.7 2.7l1.4 4.3l-3.7 -2.6l-3.7 2.6l1.3 -4.3l-3.6 -2.7l4.5 -0.1z"/><path d="M421 232.7l1.5 4.3l4.5 0.1l-3.6 2.7l1.3 4.3l-3.7 -2.6l-3.7 2.6l1.3 -4.3l-3.6 -2.7l4.5 -0.1z"/><path d="M422.8 235.8l1.5 4.3l4.5 0l-3.6 2.8l1.3 4.3l-3.7 -2.6l-3.7 2.6l1.3 -4.3l-3.6 -2.8l4.5 0z"/><path d="M458.3 205.7l1.5 4.2l4.5 0.1l-3.6 2.7l1.3 4.3l-3.7 -2.5l-3.7 2.5l1.3 -4.3l-3.6 -2.7l4.5 -0.1z"/><path d="M424.9 230.9l1.5 4.3l4.5 0.1l-3.6 2.7l1.3 4.3l-3.7 -2.6l-3.7 2.6l1.3 -4.3l-3.6 -2.7l4.6 -0.1z"/><path d="M357.8 279.1l1.5 4.3l4.5 0.1l-3.6 2.7l1.3 4.3l-3.7 -2.6l-3.7 2.6l1.4 -4.3l-3.7 -2.7l4.6 -0.1z"/><path d="M461.1 207.1l1.5 4.3l4.5 0.1l-3.6 2.7l1.3 4.3l-3.7 -2.6l-3.7 2.6l1.3 -4.3l-3.6 -2.7l4.5 -0.1z"/><path d="M400.7 252.8l1.4 4.3l4.6 0.1l-3.6 2.7l1.3 4.3l-3.7 -2.6l-3.7 2.6l1.3 -4.3l-3.6 -2.7l4.5 -0.1z"/><path d="M305.6 333l1.5 4.3l4.5 0.1l-3.6 2.7l1.3 4.3l-3.7 -2.6l-3.7 2.6l1.4 -4.3l-3.7 -2.7l4.6 -0.1z"/><path d="M292.3 324.4l1.5 4.3l4.5 0.1l-3.6 2.7l1.3 4.3l-3.7 -2.6l-3.7 2.6l1.3 -4.3l-3.6 -2.7l4.6 -0.1z"/><path d="M333.1 301.5l1.5 4.3l4.5 0.1l-3.6 2.7l1.3 4.3l-3.7 -2.6l-3.7 2.6l1.3 -4.3l-3.6 -2.7l4.6 -0.1z"/><path d="M323.2 310.4l1.4 4.3l4.6 0.1l-3.6 2.7l1.3 4.3l-3.7 -2.6l-3.7 2.6l1.3 -4.3l-3.6 -2.7l4.5 -0.1z"/><path d="M402.4 256.6l1.5 4.3l4.5 0.1l-3.6 2.7l1.3 4.3l-3.7 -2.6l-3.7 2.6l1.3 -4.3l-3.6 -2.7l4.5 -0.1z"/><path d="M294.9 333.9l1.5 4.3l4.5 0.1l-3.6 2.7l1.3 4.3l-3.7 -2.6l-3.7 2.6l1.3 -4.3l-3.6 -2.7l4.5 -0.1z"/><path d="M356.8 282l1.5 4.3l4.5 0l-3.6 2.8l1.3 4.3l-3.7 -2.6l-3.7 2.6l1.3 -4.3l-3.6 -2.8l4.5 0z"/><path d="M374.3 269.1l1.4 4.3l4.6 0.1l-3.7 2.7l1.4 4.3l-3.7 -2.6l-3.7 2.6l1.3 -4.3l-3.6 -2.7l4.5 -0.1z"/><path d="M337.9 300.5l1.5 4.3l4.5 0l-3.6 2.8l1.3 4.3l-3.7 -2.6l-3.7 2.6l1.3 -4.3l-3.6 -2.8l4.5 0z"/><path d="M476.1 196.4l1.5 4.2l4.5 0.1l-3.6 2.7l1.3 4.4l-3.7 -2.6l-3.7 2.6l1.4 -4.4l-3.6 -2.7l4.5 -0.1z"/><path d="M328.6 343.8l1.5 4.3l4.5 0.1l-3.6 2.7l1.3 4.3l-3.7 -2.6l-3.7 2.6l1.4 -4.3l-3.7 -2.7l4.6 -0.1z"/><path d="M306.4 322.9l1.5 4.3l4.5 0.1l-3.6 2.7l1.3 4.3l-3.7 -2.6l-3.7 2.6l1.4 -4.3l-3.7 -2.7l4.6 -0.1z"/><path d="M329.2 299.8l1.5 4.2l4.5 0.1l-3.6 2.7l1.3 4.4l-3.7 -2.6l-3.7 2.6l1.3 -4.4l-3.6 -2.7l4.5 -0.1z"/><path d="M299.2 326l1.5 4.3l4.5 0.1l-3.6 2.7l1.3 4.3l-3.7 -2.6l-3.7 2.6l1.3 -4.3l-3.6 -2.7l4.5 -0.1z"/><path d="M372.5 276.2l1.5 4.3l4.5 0.1l-3.6 2.7l1.3 4.3l-3.7 -2.6l-3.7 2.6l1.3 -4.3l-3.6 -2.7l4.5 -0.1z"/><path d="M398.6 251.5l1.5 4.2l4.5 0.1l-3.6 2.7l1.3 4.4l-3.7 -2.6l-3.7 2.6l1.3 -4.4l-3.6 -2.7l4.5 -0.1z"/><path d="M408.5 248l1.5 4.2l4.5 0.1l-3.6 2.7l1.3 4.3l-3.7 -2.5l-3.7 2.5l1.3 -4.3l-3.6 -2.7l4.6 -0.1z"/><path d="M409 258.5l1.4 4.3l4.5 0.1l-3.6 2.7l1.4 4.3l-3.7 -2.6l-3.7 2.6l1.3 -4.3l-3.6 -2.7l4.5 -0.1z"/><path d="M304 346.3l1.4 4.3l4.6 0.1l-3.6 2.7l1.3 4.3l-3.7 -2.6l-3.7 2.6l1.3 -4.3l-3.6 -2.7l4.5 -0.1z"/><path d="M380 263.5l1.5 4.3l4.5 0l-3.6 2.8l1.3 4.3l-3.7 -2.6l-3.7 2.6l1.4 -4.3l-3.6 -2.8l4.5 0z"/><path d="M360 284.3l1.5 4.3l4.5 0l-3.6 2.8l1.3 4.3l-3.7 -2.6l-3.7 2.6l1.3 -4.3l-3.6 -2.8l4.5 0z"/><path d="M475.7 198.3l1.5 4.3l4.5 0.1l-3.6 2.7l1.3 4.3l-3.7 -2.6l-3.7 2.6l1.4 -4.3l-3.7 -2.7l4.6 -0.1z"/><path d="M344.2 296.7l1.5 4.2l4.5 0.1l-3.6 2.7l1.3 4.4l-3.7 -2.6l-3.7 2.6l1.3 -4.4l-3.6 -2.7l4.5 -0.1z"/><path d="M430.2 244.5l1.5 4.3l4.5 0l-3.6 2.8l1.3 4.3l-3.7 -2.6l-3.7 2.6l1.4 -4.3l-3.7 -2.8l4.6 0z"/><path d="M416.8 276.4l1.4 4.3l4.6 0.1l-3.7 2.7l1.4 4.3l-3.7 -2.6l-3.7 2.6l1.3 -4.3l-3.6 -2.7l4.5 -0.1z"/><path d="M329.1 305.8l1.5 4.3l4.5 0.1l-3.6 2.7l1.3 4.3l-3.7 -2.6l-3.7 2.6l1.4 -4.3l-3.6 -2.7l4.5 -0.1z"/></g>
<line x1="127.2" y1="466.9" x2="623.7" y2="87.1" stroke="#1d1d1b" stroke-width="2.6"/>
<path d="M139.6 85.8v7.3M139.6 466.6v-7.3M152 85.8v7.3M152 466.6v-7.3M164.4 85.8v7.3M164.4 466.6v-7.3M176.9 85.8v7.3M176.9 466.6v-7.3M189.3 85.8v12.3M189.3 466.6v-12.3M201.7 85.8v7.3M201.7 466.6v-7.3M214.1 85.8v7.3M214.1 466.6v-7.3M226.5 85.8v7.3M226.5 466.6v-7.3M238.9 85.8v7.3M238.9 466.6v-7.3M251.3 85.8v12.3M251.3 466.6v-12.3M263.7 85.8v7.3M263.7 466.6v-7.3M276.2 85.8v7.3M276.2 466.6v-7.3M288.6 85.8v7.3M288.6 466.6v-7.3M301 85.8v7.3M301 466.6v-7.3M313.4 85.8v12.3M313.4 466.6v-12.3M325.8 85.8v7.3M325.8 466.6v-7.3M338.2 85.8v7.3M338.2 466.6v-7.3M350.6 85.8v7.3M350.6 466.6v-7.3M363 85.8v7.3M363 466.6v-7.3M375.5 85.8v12.3M375.5 466.6v-12.3M387.9 85.8v7.3M387.9 466.6v-7.3M400.3 85.8v7.3M400.3 466.6v-7.3M412.7 85.8v7.3M412.7 466.6v-7.3M425.1 85.8v7.3M425.1 466.6v-7.3M437.5 85.8v12.3M437.5 466.6v-12.3M449.9 85.8v7.3M449.9 466.6v-7.3M462.3 85.8v7.3M462.3 466.6v-7.3M474.8 85.8v7.3M474.8 466.6v-7.3M487.2 85.8v7.3M487.2 466.6v-7.3M499.6 85.8v12.3M499.6 466.6v-12.3M512 85.8v7.3M512 466.6v-7.3M524.4 85.8v7.3M524.4 466.6v-7.3M536.8 85.8v7.3M536.8 466.6v-7.3M549.2 85.8v7.3M549.2 466.6v-7.3M561.6 85.8v12.3M561.6 466.6v-12.3M574.1 85.8v7.3M574.1 466.6v-7.3M586.5 85.8v7.3M586.5 466.6v-7.3M598.9 85.8v7.3M598.9 466.6v-7.3M611.3 85.8v7.3M611.3 466.6v-7.3M127.2 455.1h7.3M623.7 455.1h-7.3M127.2 443.3h7.3M623.7 443.3h-7.3M127.2 431.4h12.3M623.7 431.4h-12.3M127.2 419.5h7.3M623.7 419.5h-7.3M127.2 407.7h7.3M623.7 407.7h-7.3M127.2 395.8h7.3M623.7 395.8h-7.3M127.2 383.9h7.3M623.7 383.9h-7.3M127.2 372h12.3M623.7 372h-12.3M127.2 360.2h7.3M623.7 360.2h-7.3M127.2 348.3h7.3M623.7 348.3h-7.3M127.2 336.4h7.3M623.7 336.4h-7.3M127.2 324.6h7.3M623.7 324.6h-7.3M127.2 312.7h12.3M623.7 312.7h-12.3M127.2 300.8h7.3M623.7 300.8h-7.3M127.2 288.9h7.3M623.7 288.9h-7.3M127.2 277.1h7.3M623.7 277.1h-7.3M127.2 265.2h7.3M623.7 265.2h-7.3M127.2 253.3h12.3M623.7 253.3h-12.3M127.2 241.4h7.3M623.7 241.4h-7.3M127.2 229.6h7.3M623.7 229.6h-7.3M127.2 217.7h7.3M623.7 217.7h-7.3M127.2 205.8h7.3M623.7 205.8h-7.3M127.2 194h12.3M623.7 194h-12.3M127.2 182.1h7.3M623.7 182.1h-7.3M127.2 170.2h7.3M623.7 170.2h-7.3M127.2 158.3h7.3M623.7 158.3h-7.3M127.2 146.5h7.3M623.7 146.5h-7.3M127.2 134.6h12.3M623.7 134.6h-12.3M127.2 122.7h7.3M623.7 122.7h-7.3M127.2 110.9h7.3M623.7 110.9h-7.3M127.2 99h7.3M623.7 99h-7.3M127.2 87.1h7.3M623.7 87.1h-7.3" stroke="#1d1d1b" stroke-width="2.3" fill="none"/>
<rect x="127.2" y="85.8" width="496.5" height="380.8" fill="none" stroke="#1d1d1b" stroke-width="2.3"/>
<text transform="translate(151.6 433.7) rotate(-37.3) scale(0.985 1)" font-size="29.7" fill="#1d1d1b" style="stroke:none">GMWL</text>
<text transform="translate(147.9 497.5) scale(0.995 1)" text-anchor="end" font-size="28.9" fill="#1d1d1b">−30</text>
<text transform="translate(207.2 497.5) scale(0.995 1)" text-anchor="end" font-size="28.9" fill="#1d1d1b">−25</text>
<text transform="translate(267.3 497.5) scale(0.995 1)" text-anchor="end" font-size="28.9" fill="#1d1d1b">−20</text>
<text transform="translate(327.9 497.5) scale(0.995 1)" text-anchor="end" font-size="28.9" fill="#1d1d1b">−15</text>
<text transform="translate(389.1 497.5) scale(0.995 1)" text-anchor="end" font-size="28.9" fill="#1d1d1b">−10</text>
<text transform="translate(447.9 497.5) scale(0.995 1)" text-anchor="end" font-size="28.9" fill="#1d1d1b">−5</text>
<text transform="translate(507.8 497.5) scale(0.995 1)" text-anchor="end" font-size="28.9" fill="#1d1d1b">0</text>
<text transform="translate(567.8 497.5) scale(0.995 1)" text-anchor="end" font-size="28.9" fill="#1d1d1b">5</text>
<text transform="translate(638.5 497.5) scale(0.995 1)" text-anchor="end" font-size="28.9" fill="#1d1d1b">10</text>
<text transform="translate(116.7 144.9) scale(0.96 1)" text-anchor="end" font-size="29.7" fill="#1d1d1b">50</text>
<text transform="translate(116.7 204.3) scale(0.96 1)" text-anchor="end" font-size="29.7" fill="#1d1d1b">0</text>
<text transform="translate(116.7 263.7) scale(0.96 1)" text-anchor="end" font-size="29.7" fill="#1d1d1b">−50</text>
<text transform="translate(116.7 323) scale(0.96 1)" text-anchor="end" font-size="29.7" fill="#1d1d1b">−100</text>
<text transform="translate(116.7 382.4) scale(0.96 1)" text-anchor="end" font-size="29.7" fill="#1d1d1b">−150</text>
<text transform="translate(116.7 441.8) scale(0.96 1)" text-anchor="end" font-size="29.7" fill="#1d1d1b">−200</text>
</g>
<g class="t">
<g fill="#4b60a9" stroke="#273067" stroke-width="0.55"><rect x="1000.8" y="332.8" width="8.2" height="8.2"/><rect x="1002.1" y="330.8" width="8.2" height="8.2"/><rect x="996.9" y="334.5" width="8.2" height="8.2"/><rect x="1016.2" y="323.3" width="8.2" height="8.2"/><rect x="1007.5" y="328.4" width="8.2" height="8.2"/><rect x="1011.2" y="328.8" width="8.2" height="8.2"/><rect x="1017.8" y="323.9" width="8.2" height="8.2"/><rect x="1008.2" y="329.6" width="8.2" height="8.2"/><rect x="1002.5" y="332" width="8.2" height="8.2"/><rect x="1008.6" y="327.9" width="8.2" height="8.2"/><rect x="1007.1" y="326.8" width="8.2" height="8.2"/><rect x="1003.3" y="332.3" width="8.2" height="8.2"/><rect x="1001.1" y="332.1" width="8.2" height="8.2"/><rect x="1004.8" y="331.6" width="8.2" height="8.2"/><rect x="1012.9" y="323.5" width="8.2" height="8.2"/><rect x="998.4" y="330.7" width="8.2" height="8.2"/><rect x="1019.5" y="320.2" width="8.2" height="8.2"/><rect x="1000.6" y="330.8" width="8.2" height="8.2"/><rect x="1002.7" y="332.7" width="8.2" height="8.2"/><rect x="998.6" y="333.9" width="8.2" height="8.2"/><rect x="1005.2" y="330" width="8.2" height="8.2"/><rect x="1004.7" y="330.4" width="8.2" height="8.2"/><rect x="1013.1" y="327.5" width="8.2" height="8.2"/><rect x="1018" y="323.7" width="8.2" height="8.2"/><rect x="1001.7" y="332.2" width="8.2" height="8.2"/><rect x="1016" y="325.2" width="8.2" height="8.2"/><rect x="1001.8" y="328.4" width="8.2" height="8.2"/><rect x="1005.3" y="329.4" width="8.2" height="8.2"/><rect x="999.1" y="334.8" width="8.2" height="8.2"/><rect x="1017.9" y="323.6" width="8.2" height="8.2"/><rect x="1004.6" y="330.1" width="8.2" height="8.2"/><rect x="1012.8" y="325.6" width="8.2" height="8.2"/><rect x="995.5" y="333.8" width="8.2" height="8.2"/><rect x="1013.7" y="327.8" width="8.2" height="8.2"/><rect x="1024.7" y="307" width="8.2" height="8.2"/><rect x="1028.8" y="299.6" width="8.2" height="8.2"/><rect x="1023.2" y="312.2" width="8.2" height="8.2"/><rect x="1024.2" y="309.1" width="8.2" height="8.2"/><rect x="1023.7" y="312.2" width="8.2" height="8.2"/><rect x="1027.7" y="300.8" width="8.2" height="8.2"/><rect x="1025.9" y="305.8" width="8.2" height="8.2"/><rect x="1028.1" y="302.6" width="8.2" height="8.2"/><rect x="1024.5" y="310" width="8.2" height="8.2"/><rect x="1026" y="300.5" width="8.2" height="8.2"/><rect x="1028" y="295.9" width="8.2" height="8.2"/><rect x="1024.7" y="313.2" width="8.2" height="8.2"/><rect x="1024.6" y="308.5" width="8.2" height="8.2"/><rect x="1028.4" y="298.4" width="8.2" height="8.2"/><rect x="1030.1" y="299.2" width="8.2" height="8.2"/><rect x="1027.4" y="298.1" width="8.2" height="8.2"/><rect x="1029.1" y="299.9" width="8.2" height="8.2"/><rect x="1031.7" y="296.6" width="8.2" height="8.2"/><rect x="1036.9" y="291.1" width="8.2" height="8.2"/><rect x="1034.3" y="295.8" width="8.2" height="8.2"/><rect x="1030.2" y="298" width="8.2" height="8.2"/><rect x="1054.1" y="277.2" width="8.2" height="8.2"/><rect x="1054.2" y="277.7" width="8.2" height="8.2"/><rect x="1049.2" y="280.1" width="8.2" height="8.2"/><rect x="1034.9" y="292.5" width="8.2" height="8.2"/><rect x="1052.1" y="278.5" width="8.2" height="8.2"/><rect x="1050.3" y="278.4" width="8.2" height="8.2"/><rect x="1037.7" y="291.7" width="8.2" height="8.2"/><rect x="1033.2" y="297.5" width="8.2" height="8.2"/><rect x="1033.1" y="297" width="8.2" height="8.2"/><rect x="1039.1" y="288.6" width="8.2" height="8.2"/><rect x="1049.6" y="276.9" width="8.2" height="8.2"/><rect x="1030.4" y="297.2" width="8.2" height="8.2"/><rect x="1039.9" y="288.4" width="8.2" height="8.2"/><rect x="1039.4" y="291.9" width="8.2" height="8.2"/><rect x="1052.3" y="276.6" width="8.2" height="8.2"/><rect x="1032.3" y="295.1" width="8.2" height="8.2"/><rect x="1047.2" y="283.9" width="8.2" height="8.2"/><rect x="1036.6" y="290.6" width="8.2" height="8.2"/><rect x="1045.8" y="283" width="8.2" height="8.2"/><rect x="1052.9" y="281.1" width="8.2" height="8.2"/><rect x="1052.7" y="280.7" width="8.2" height="8.2"/><rect x="1052.2" y="279.1" width="8.2" height="8.2"/><rect x="1036.7" y="292.3" width="8.2" height="8.2"/><rect x="1034.7" y="291.1" width="8.2" height="8.2"/><rect x="1032.4" y="296.9" width="8.2" height="8.2"/><rect x="1035.4" y="292.9" width="8.2" height="8.2"/><rect x="1031.9" y="296.5" width="8.2" height="8.2"/><rect x="1049.2" y="279.1" width="8.2" height="8.2"/><rect x="1029.6" y="298" width="8.2" height="8.2"/><rect x="1066.6" y="273.9" width="8.2" height="8.2"/><rect x="1055.6" y="273.8" width="8.2" height="8.2"/><rect x="1064.5" y="274.5" width="8.2" height="8.2"/><rect x="1069.2" y="272.8" width="8.2" height="8.2"/><rect x="1053.5" y="276.5" width="8.2" height="8.2"/><rect x="1061.5" y="273.6" width="8.2" height="8.2"/><rect x="1059.5" y="273.5" width="8.2" height="8.2"/><rect x="1057" y="275.3" width="8.2" height="8.2"/><rect x="1057" y="276.4" width="8.2" height="8.2"/><rect x="1053.1" y="276.9" width="8.2" height="8.2"/><rect x="1063.6" y="274.4" width="8.2" height="8.2"/><rect x="1055.7" y="277.8" width="8.2" height="8.2"/><rect x="1059.2" y="275.1" width="8.2" height="8.2"/><rect x="1068.3" y="271.5" width="8.2" height="8.2"/><rect x="1057.7" y="275" width="8.2" height="8.2"/><rect x="1057.3" y="275.8" width="8.2" height="8.2"/><rect x="1072.3" y="270.8" width="8.2" height="8.2"/><rect x="1068.4" y="271.9" width="8.2" height="8.2"/><rect x="1069.4" y="269.1" width="8.2" height="8.2"/><rect x="1071.5" y="271.1" width="8.2" height="8.2"/><rect x="1083.5" y="260.8" width="8.2" height="8.2"/><rect x="1073.6" y="266.4" width="8.2" height="8.2"/><rect x="1084.4" y="264.5" width="8.2" height="8.2"/><rect x="1065.4" y="274" width="8.2" height="8.2"/><rect x="1068.2" y="271.2" width="8.2" height="8.2"/><rect x="1086.8" y="261.4" width="8.2" height="8.2"/><rect x="1065.5" y="274.2" width="8.2" height="8.2"/><rect x="1063.9" y="270.4" width="8.2" height="8.2"/><rect x="1075.7" y="266.2" width="8.2" height="8.2"/><rect x="1069.3" y="267.7" width="8.2" height="8.2"/><rect x="1068.2" y="271" width="8.2" height="8.2"/><rect x="1077.4" y="264" width="8.2" height="8.2"/><rect x="1082.5" y="252.1" width="8.2" height="8.2"/><rect x="1071.2" y="256.1" width="8.2" height="8.2"/><rect x="1093.3" y="241.7" width="8.2" height="8.2"/><rect x="1087" y="250.1" width="8.2" height="8.2"/><rect x="1084.9" y="250.1" width="8.2" height="8.2"/><rect x="1084.7" y="246.6" width="8.2" height="8.2"/><rect x="1080.5" y="251" width="8.2" height="8.2"/><rect x="1092.5" y="245.5" width="8.2" height="8.2"/><rect x="1090" y="250.5" width="8.2" height="8.2"/><rect x="1082.8" y="253.9" width="8.2" height="8.2"/><rect x="1079" y="255.7" width="8.2" height="8.2"/><rect x="1073.1" y="253.5" width="8.2" height="8.2"/><rect x="1078.8" y="253.8" width="8.2" height="8.2"/><rect x="1080.3" y="254.1" width="8.2" height="8.2"/><rect x="1073.8" y="258.1" width="8.2" height="8.2"/><rect x="1093.9" y="245.5" width="8.2" height="8.2"/><rect x="1077.3" y="254.4" width="8.2" height="8.2"/><rect x="1086.1" y="253.5" width="8.2" height="8.2"/><rect x="1074.5" y="260" width="8.2" height="8.2"/><rect x="1084.5" y="250.2" width="8.2" height="8.2"/><rect x="1102" y="242" width="8.2" height="8.2"/><rect x="1102.7" y="241.6" width="8.2" height="8.2"/><rect x="1119" y="226.9" width="8.2" height="8.2"/><rect x="1105.7" y="238" width="8.2" height="8.2"/><rect x="1109.5" y="232.8" width="8.2" height="8.2"/><rect x="1121.6" y="231.6" width="8.2" height="8.2"/><rect x="1103.6" y="238.5" width="8.2" height="8.2"/><rect x="1121.3" y="229.8" width="8.2" height="8.2"/><rect x="1100.4" y="240.6" width="8.2" height="8.2"/><rect x="1091" y="244.3" width="8.2" height="8.2"/><rect x="1092.8" y="240.8" width="8.2" height="8.2"/><rect x="1113.8" y="235.3" width="8.2" height="8.2"/><rect x="1101.8" y="236.4" width="8.2" height="8.2"/><rect x="1116.3" y="229.2" width="8.2" height="8.2"/><rect x="1107.8" y="236.1" width="8.2" height="8.2"/><rect x="1112.2" y="232.7" width="8.2" height="8.2"/><rect x="1102.7" y="240.3" width="8.2" height="8.2"/><rect x="1111" y="237.9" width="8.2" height="8.2"/><rect x="1113.6" y="234.5" width="8.2" height="8.2"/><rect x="1103.4" y="239.8" width="8.2" height="8.2"/><rect x="1106.8" y="237.5" width="8.2" height="8.2"/><rect x="1118.9" y="233.3" width="8.2" height="8.2"/><rect x="1118.6" y="226.2" width="8.2" height="8.2"/><rect x="1102.7" y="240.6" width="8.2" height="8.2"/><rect x="1092.3" y="242.6" width="8.2" height="8.2"/><rect x="1116.6" y="228.9" width="8.2" height="8.2"/><rect x="1105.4" y="238.2" width="8.2" height="8.2"/><rect x="1121.5" y="228.6" width="8.2" height="8.2"/><rect x="1116.1" y="234.1" width="8.2" height="8.2"/><rect x="1104.1" y="241.8" width="8.2" height="8.2"/><rect x="1095.3" y="262.8" width="8.2" height="8.2"/><rect x="1097.2" y="264.3" width="8.2" height="8.2"/><rect x="1093.9" y="266.2" width="8.2" height="8.2"/><rect x="1095.5" y="263.2" width="8.2" height="8.2"/><rect x="1104.3" y="259.7" width="8.2" height="8.2"/><rect x="1103.1" y="261" width="8.2" height="8.2"/><rect x="1092" y="263.5" width="8.2" height="8.2"/><rect x="1122.6" y="255.6" width="8.2" height="8.2"/><rect x="1122.5" y="253.4" width="8.2" height="8.2"/><rect x="1115.1" y="255.3" width="8.2" height="8.2"/><rect x="1118.6" y="253" width="8.2" height="8.2"/><rect x="1143.5" y="211.2" width="8.2" height="8.2"/><rect x="1133.3" y="213.2" width="8.2" height="8.2"/><rect x="1130.6" y="214.9" width="8.2" height="8.2"/><rect x="1140.4" y="206.6" width="8.2" height="8.2"/><rect x="1129.9" y="217.1" width="8.2" height="8.2"/><rect x="1133.3" y="215.5" width="8.2" height="8.2"/><rect x="1167.4" y="194.5" width="8.2" height="8.2"/><rect x="1171" y="193.1" width="8.2" height="8.2"/><rect x="1148.6" y="202.6" width="8.2" height="8.2"/><rect x="1152.3" y="202.7" width="8.2" height="8.2"/><rect x="1161.5" y="196.7" width="8.2" height="8.2"/><rect x="1160.5" y="198.6" width="8.2" height="8.2"/><rect x="1167.4" y="195" width="8.2" height="8.2"/><rect x="1167.5" y="192.8" width="8.2" height="8.2"/><rect x="1152.7" y="207" width="8.2" height="8.2"/><rect x="1144" y="207" width="8.2" height="8.2"/><rect x="1165.5" y="194.7" width="8.2" height="8.2"/><rect x="1164.2" y="196.8" width="8.2" height="8.2"/><rect x="1149.1" y="203.4" width="8.2" height="8.2"/><rect x="1143.3" y="210.6" width="8.2" height="8.2"/><rect x="1142.2" y="211.4" width="8.2" height="8.2"/><rect x="1149" y="205.4" width="8.2" height="8.2"/><rect x="1151.8" y="207.9" width="8.2" height="8.2"/><rect x="1147.9" y="206.7" width="8.2" height="8.2"/><rect x="1142.8" y="210.3" width="8.2" height="8.2"/><rect x="1145.8" y="206.1" width="8.2" height="8.2"/><rect x="1151.2" y="201.3" width="8.2" height="8.2"/><rect x="1143.4" y="208.2" width="8.2" height="8.2"/><rect x="1147.6" y="206.2" width="8.2" height="8.2"/><rect x="1155.2" y="201.1" width="8.2" height="8.2"/><rect x="1170.1" y="194.1" width="8.2" height="8.2"/><rect x="1168.2" y="189.2" width="8.2" height="8.2"/><rect x="1153.5" y="200.9" width="8.2" height="8.2"/><rect x="1143.5" y="205.8" width="8.2" height="8.2"/><rect x="1151.1" y="207.2" width="8.2" height="8.2"/><rect x="1163.1" y="195.9" width="8.2" height="8.2"/><rect x="1154.1" y="201.7" width="8.2" height="8.2"/><rect x="1159.1" y="197.4" width="8.2" height="8.2"/><rect x="1166.5" y="196.6" width="8.2" height="8.2"/><rect x="1162.7" y="196.5" width="8.2" height="8.2"/><rect x="1170" y="193.1" width="8.2" height="8.2"/><rect x="1142" y="206.4" width="8.2" height="8.2"/><rect x="1151.9" y="206.4" width="8.2" height="8.2"/><rect x="1142.4" y="210.9" width="8.2" height="8.2"/><rect x="1158.9" y="200.7" width="8.2" height="8.2"/><rect x="1162.7" y="199.7" width="8.2" height="8.2"/><rect x="1139.2" y="229.2" width="8.2" height="8.2"/><rect x="1146.4" y="227.3" width="8.2" height="8.2"/><rect x="1140.7" y="226.1" width="8.2" height="8.2"/><rect x="1143.1" y="226.4" width="8.2" height="8.2"/><rect x="1144.3" y="228.4" width="8.2" height="8.2"/><rect x="1144.6" y="225.2" width="8.2" height="8.2"/><rect x="1135" y="229.6" width="8.2" height="8.2"/><rect x="1136.8" y="232.7" width="8.2" height="8.2"/><rect x="1150.7" y="222.8" width="8.2" height="8.2"/><rect x="1113.7" y="230" width="8.2" height="8.2"/><rect x="1113.7" y="231.7" width="8.2" height="8.2"/><rect x="1117.5" y="230" width="8.2" height="8.2"/><rect x="1127.1" y="227.1" width="8.2" height="8.2"/><rect x="1114.7" y="230.5" width="8.2" height="8.2"/><rect x="1119.8" y="226.8" width="8.2" height="8.2"/><rect x="1115.1" y="228.9" width="8.2" height="8.2"/><rect x="1113.4" y="231.4" width="8.2" height="8.2"/><rect x="1130.6" y="243.2" width="8.2" height="8.2"/><rect x="1137.5" y="253.1" width="8.2" height="8.2"/><rect x="1134.5" y="235.2" width="8.2" height="8.2"/><rect x="1148.4" y="244.1" width="8.2" height="8.2"/><rect x="1126.6" y="215.4" width="8.2" height="8.2"/><rect x="1134.5" y="219.8" width="8.2" height="8.2"/><rect x="1160.3" y="230.9" width="8.2" height="8.2"/><rect x="1164.3" y="228.7" width="8.2" height="8.2"/><rect x="1175.2" y="212" width="8.2" height="8.2"/><rect x="1175.8" y="207.9" width="8.2" height="8.2"/><rect x="1182.1" y="206.7" width="8.2" height="8.2"/><rect x="1188.1" y="204.1" width="8.2" height="8.2"/><rect x="1198" y="186" width="8.2" height="8.2"/><rect x="1202" y="183.7" width="8.2" height="8.2"/><rect x="1203.9" y="182.1" width="8.2" height="8.2"/><rect x="1212.9" y="176.7" width="8.2" height="8.2"/><rect x="1213.9" y="178.1" width="8.2" height="8.2"/><rect x="1234.3" y="179.7" width="8.2" height="8.2"/><rect x="1114.7" y="257.4" width="8.2" height="8.2"/><rect x="1121.7" y="254.1" width="8.2" height="8.2"/><rect x="1099.8" y="260" width="8.2" height="8.2"/><rect x="1102.8" y="261" width="8.2" height="8.2"/><rect x="993.7" y="332.4" width="8.2" height="8.2"/><rect x="997.7" y="334.4" width="8.2" height="8.2"/><rect x="1001.7" y="333" width="8.2" height="8.2"/></g>
<line x1="830.2" y1="466.7" x2="1326.6" y2="86.8" stroke="#1d1d1b" stroke-width="2.6"/>
<path d="M842.6 85.4v7.3M842.6 466.5v-7.3M855 85.4v7.3M855 466.5v-7.3M867.4 85.4v7.3M867.4 466.5v-7.3M879.8 85.4v7.3M879.8 466.5v-7.3M892.2 85.4v12.3M892.2 466.5v-12.3M904.7 85.4v7.3M904.7 466.5v-7.3M917.1 85.4v7.3M917.1 466.5v-7.3M929.5 85.4v7.3M929.5 466.5v-7.3M941.9 85.4v7.3M941.9 466.5v-7.3M954.3 85.4v12.3M954.3 466.5v-12.3M966.7 85.4v7.3M966.7 466.5v-7.3M979.1 85.4v7.3M979.1 466.5v-7.3M991.5 85.4v7.3M991.5 466.5v-7.3M1003.9 85.4v7.3M1003.9 466.5v-7.3M1016.4 85.4v12.3M1016.4 466.5v-12.3M1028.8 85.4v7.3M1028.8 466.5v-7.3M1041.2 85.4v7.3M1041.2 466.5v-7.3M1053.6 85.4v7.3M1053.6 466.5v-7.3M1066 85.4v7.3M1066 466.5v-7.3M1078.4 85.4v12.3M1078.4 466.5v-12.3M1090.8 85.4v7.3M1090.8 466.5v-7.3M1103.2 85.4v7.3M1103.2 466.5v-7.3M1115.6 85.4v7.3M1115.6 466.5v-7.3M1128 85.4v7.3M1128 466.5v-7.3M1140.4 85.4v12.3M1140.4 466.5v-12.3M1152.9 85.4v7.3M1152.9 466.5v-7.3M1165.3 85.4v7.3M1165.3 466.5v-7.3M1177.7 85.4v7.3M1177.7 466.5v-7.3M1190.1 85.4v7.3M1190.1 466.5v-7.3M1202.5 85.4v12.3M1202.5 466.5v-12.3M1214.9 85.4v7.3M1214.9 466.5v-7.3M1227.3 85.4v7.3M1227.3 466.5v-7.3M1239.7 85.4v7.3M1239.7 466.5v-7.3M1252.1 85.4v7.3M1252.1 466.5v-7.3M1264.5 85.4v12.3M1264.5 466.5v-12.3M1277 85.4v7.3M1277 466.5v-7.3M1289.4 85.4v7.3M1289.4 466.5v-7.3M1301.8 85.4v7.3M1301.8 466.5v-7.3M1314.2 85.4v7.3M1314.2 466.5v-7.3M830.2 454.8h7.3M1326.6 454.8h-7.3M830.2 443h7.3M1326.6 443h-7.3M830.2 431.1h12.3M1326.6 431.1h-12.3M830.2 419.2h7.3M1326.6 419.2h-7.3M830.2 407.4h7.3M1326.6 407.4h-7.3M830.2 395.5h7.3M1326.6 395.5h-7.3M830.2 383.6h7.3M1326.6 383.6h-7.3M830.2 371.7h12.3M1326.6 371.7h-12.3M830.2 359.9h7.3M1326.6 359.9h-7.3M830.2 348h7.3M1326.6 348h-7.3M830.2 336.1h7.3M1326.6 336.1h-7.3M830.2 324.3h7.3M1326.6 324.3h-7.3M830.2 312.4h12.3M1326.6 312.4h-12.3M830.2 300.5h7.3M1326.6 300.5h-7.3M830.2 288.6h7.3M1326.6 288.6h-7.3M830.2 276.8h7.3M1326.6 276.8h-7.3M830.2 264.9h7.3M1326.6 264.9h-7.3M830.2 253h12.3M1326.6 253h-12.3M830.2 241.1h7.3M1326.6 241.1h-7.3M830.2 229.3h7.3M1326.6 229.3h-7.3M830.2 217.4h7.3M1326.6 217.4h-7.3M830.2 205.5h7.3M1326.6 205.5h-7.3M830.2 193.7h12.3M1326.6 193.7h-12.3M830.2 181.8h7.3M1326.6 181.8h-7.3M830.2 169.9h7.3M1326.6 169.9h-7.3M830.2 158h7.3M1326.6 158h-7.3M830.2 146.2h7.3M1326.6 146.2h-7.3M830.2 134.3h12.3M1326.6 134.3h-12.3M830.2 122.4h7.3M1326.6 122.4h-7.3M830.2 110.6h7.3M1326.6 110.6h-7.3M830.2 98.7h7.3M1326.6 98.7h-7.3M830.2 86.8h7.3M1326.6 86.8h-7.3" stroke="#1d1d1b" stroke-width="2.1" fill="none"/>
<rect x="830.2" y="85.4" width="496.4" height="381.1" fill="none" stroke="#1d1d1b" stroke-width="2.1"/>
<text transform="translate(859.6 428.2) rotate(-37.3) scale(0.985 1)" font-size="29.7" fill="#1d1d1b" style="stroke:none">GMWL</text>
<text transform="translate(853.5 497.5) scale(0.995 1)" text-anchor="end" font-size="28.9" fill="#1d1d1b">−30</text>
<text transform="translate(918.9 497.5) scale(0.995 1)" text-anchor="end" font-size="28.9" fill="#1d1d1b">−25</text>
<text transform="translate(979.9 497.5) scale(0.995 1)" text-anchor="end" font-size="28.9" fill="#1d1d1b">−20</text>
<text transform="translate(1040.4 497.5) scale(0.995 1)" text-anchor="end" font-size="28.9" fill="#1d1d1b">−15</text>
<text transform="translate(1101 497.5) scale(0.995 1)" text-anchor="end" font-size="28.9" fill="#1d1d1b">−10</text>
<text transform="translate(1159.9 497.5) scale(0.995 1)" text-anchor="end" font-size="28.9" fill="#1d1d1b">−5</text>
<text transform="translate(1220 497.5) scale(0.995 1)" text-anchor="end" font-size="28.9" fill="#1d1d1b">0</text>
<text transform="translate(1274.6 497.5) scale(0.995 1)" text-anchor="end" font-size="28.9" fill="#1d1d1b">5</text>
<text transform="translate(1345.1 497.5) scale(0.995 1)" text-anchor="end" font-size="28.9" fill="#1d1d1b">10</text>
<text transform="translate(819.2 144.7) scale(0.96 1)" text-anchor="end" font-size="29.7" fill="#1d1d1b">50</text>
<text transform="translate(819.2 204) scale(0.96 1)" text-anchor="end" font-size="29.7" fill="#1d1d1b">0</text>
<text transform="translate(819.2 263.4) scale(0.96 1)" text-anchor="end" font-size="29.7" fill="#1d1d1b">−50</text>
<text transform="translate(819.2 322.7) scale(0.96 1)" text-anchor="end" font-size="29.7" fill="#1d1d1b">−100</text>
<text transform="translate(819.2 382.1) scale(0.96 1)" text-anchor="end" font-size="29.7" fill="#1d1d1b">−150</text>
<text transform="translate(819.2 441.5) scale(0.96 1)" text-anchor="end" font-size="29.7" fill="#1d1d1b">−200</text>
</g>
<g class="t">
<g fill="#78ab46" stroke="#2a4a18" stroke-width="0.6"><path d="M457.7 754.6l4.3 8.3h-8.7z"/><path d="M360.9 823.2l4.3 8.3h-8.7z"/><path d="M427.1 756.3l4.3 8.3h-8.7z"/><path d="M469.7 772.8l4.3 8.3h-8.7z"/><path d="M327.8 830.1l4.3 8.3h-8.7z"/><path d="M462.2 751.1l4.3 8.3h-8.7z"/><path d="M359.8 821.7l4.3 8.3h-8.7z"/><path d="M473 723.8l4.3 8.3h-8.7z"/><path d="M381 802.9l4.3 8.3h-8.7z"/><path d="M456.1 733.1l4.3 8.3h-8.7z"/><path d="M448.5 753.2l4.3 8.3h-8.7z"/><path d="M457 728.3l4.3 8.3h-8.7z"/><path d="M356.9 811.9l4.3 8.3h-8.7z"/><path d="M322.1 828.7l4.3 8.3h-8.7z"/><path d="M402.9 796.1l4.3 8.3h-8.7z"/><path d="M427 772l4.3 8.3h-8.7z"/><path d="M515.3 767.4l4.3 8.3h-8.7z"/><path d="M489.4 710l4.3 8.3h-8.7z"/><path d="M491.4 706.5l4.3 8.3h-8.7z"/><path d="M492.2 703.2l4.3 8.3h-8.7z"/><path d="M493.3 723.2l4.3 8.3h-8.7z"/><path d="M443.1 755.7l4.3 8.3h-8.7z"/><path d="M442.6 755.9l4.3 8.3h-8.7z"/><path d="M428.9 788.3l4.3 8.3h-8.7z"/><path d="M413.9 779.3l4.3 8.3h-8.7z"/><path d="M519.6 723.3l4.3 8.3h-8.7z"/><path d="M345.8 815.9l4.3 8.3h-8.7z"/><path d="M486.5 722.5l4.3 8.3h-8.7z"/><path d="M480.1 710.2l4.3 8.3h-8.7z"/><path d="M354.4 816.5l4.3 8.3h-8.7z"/><path d="M390.1 800.8l4.3 8.3h-8.7z"/><path d="M382.9 790.9l4.3 8.3h-8.7z"/><path d="M447.1 774l4.3 8.3h-8.7z"/><path d="M418 791.8l4.3 8.3h-8.7z"/><path d="M424 774.5l4.3 8.3h-8.7z"/><path d="M475 721.4l4.3 8.3h-8.7z"/><path d="M526.9 707.8l4.3 8.3h-8.7z"/><path d="M449.2 783.4l4.3 8.3h-8.7z"/><path d="M354.4 810.8l4.3 8.3h-8.7z"/><path d="M478 729.3l4.3 8.3h-8.7z"/><path d="M511.2 721.3l4.3 8.3h-8.7z"/><path d="M452.5 736.9l4.3 8.3h-8.7z"/><path d="M445.9 769.3l4.3 8.3h-8.7z"/><path d="M389.5 792l4.3 8.3h-8.7z"/><path d="M376.1 809l4.3 8.3h-8.7z"/><path d="M447.1 750.9l4.3 8.3h-8.7z"/><path d="M464.6 737.2l4.3 8.3h-8.7z"/><path d="M505 718.6l4.3 8.3h-8.7z"/><path d="M382 793.8l4.3 8.3h-8.7z"/><path d="M406 757.5l4.3 8.3h-8.7z"/><path d="M401.1 803.8l4.3 8.3h-8.7z"/><path d="M368.7 805.2l4.3 8.3h-8.7z"/><path d="M529.4 710.2l4.3 8.3h-8.7z"/><path d="M381.9 787.5l4.3 8.3h-8.7z"/><path d="M526.1 722.7l4.3 8.3h-8.7z"/><path d="M487.9 706.4l4.3 8.3h-8.7z"/><path d="M354.1 816.6l4.3 8.3h-8.7z"/><path d="M358.8 811.5l4.3 8.3h-8.7z"/><path d="M348.9 821l4.3 8.3h-8.7z"/><path d="M416.1 779.4l4.3 8.3h-8.7z"/><path d="M457.9 768.6l4.3 8.3h-8.7z"/><path d="M438.9 776.4l4.3 8.3h-8.7z"/><path d="M374 796.2l4.3 8.3h-8.7z"/><path d="M414.7 787.5l4.3 8.3h-8.7z"/><path d="M395.9 773.6l4.3 8.3h-8.7z"/><path d="M302.4 849.6l4.3 8.3h-8.7z"/><path d="M469.1 827.5l4.3 8.3h-8.7z"/><path d="M419.3 765.8l4.3 8.3h-8.7z"/><path d="M383.4 792.1l4.3 8.3h-8.7z"/><path d="M419.7 782.4l4.3 8.3h-8.7z"/><path d="M459.7 728.1l4.3 8.3h-8.7z"/><path d="M475.2 731l4.3 8.3h-8.7z"/><path d="M389.4 780.2l4.3 8.3h-8.7z"/><path d="M512 704.2l4.3 8.3h-8.7z"/><path d="M441.1 732.6l4.3 8.3h-8.7z"/><path d="M370.6 800.1l4.3 8.3h-8.7z"/><path d="M453.9 740.7l4.3 8.3h-8.7z"/><path d="M440.6 757.6l4.3 8.3h-8.7z"/><path d="M411 773.3l4.3 8.3h-8.7z"/><path d="M511.4 707.8l4.3 8.3h-8.7z"/><path d="M354.2 821.9l4.3 8.3h-8.7z"/><path d="M556.2 707.9l4.3 8.3h-8.7z"/><path d="M407.1 792.7l4.3 8.3h-8.7z"/><path d="M454.2 751l4.3 8.3h-8.7z"/><path d="M450.5 739.8l4.3 8.3h-8.7z"/><path d="M420.6 764.9l4.3 8.3h-8.7z"/><path d="M378.8 793.5l4.3 8.3h-8.7z"/><path d="M480.6 742.4l4.3 8.3h-8.7z"/><path d="M511.8 726.2l4.3 8.3h-8.7z"/><path d="M413.3 770.5l4.3 8.3h-8.7z"/><path d="M447.8 736.8l4.3 8.3h-8.7z"/><path d="M443.5 774.2l4.3 8.3h-8.7z"/><path d="M514.1 707.7l4.3 8.3h-8.7z"/><path d="M431.9 795.5l4.3 8.3h-8.7z"/><path d="M506.4 724.7l4.3 8.3h-8.7z"/><path d="M520.8 712.7l4.3 8.3h-8.7z"/><path d="M593.7 705l4.3 8.3h-8.7z"/><path d="M363.3 822.7l4.3 8.3h-8.7z"/><path d="M356.2 799.8l4.3 8.3h-8.7z"/><path d="M398 774.5l4.3 8.3h-8.7z"/><path d="M489 731l4.3 8.3h-8.7z"/><path d="M374.6 795.2l4.3 8.3h-8.7z"/><path d="M461.4 759.7l4.3 8.3h-8.7z"/><path d="M433.7 780.9l4.3 8.3h-8.7z"/><path d="M454.2 771.2l4.3 8.3h-8.7z"/><path d="M355.1 800.6l4.3 8.3h-8.7z"/><path d="M371.4 797l4.3 8.3h-8.7z"/><path d="M488.2 706.6l4.3 8.3h-8.7z"/><path d="M353.9 781l4.3 8.3h-8.7z"/><path d="M475.5 716.6l4.3 8.3h-8.7z"/><path d="M306.3 853.6l4.3 8.3h-8.7z"/><path d="M283.3 883.3l4.3 8.3h-8.7z"/><path d="M386 826.4l4.3 8.3h-8.7z"/><path d="M484.7 709.4l4.3 8.3h-8.7z"/><path d="M344.2 825.5l4.3 8.3h-8.7z"/><path d="M536 712.7l4.3 8.3h-8.7z"/><path d="M414.3 764.4l4.3 8.3h-8.7z"/><path d="M448.4 750.2l4.3 8.3h-8.7z"/><path d="M336.8 821.7l4.3 8.3h-8.7z"/><path d="M514.9 721.1l4.3 8.3h-8.7z"/><path d="M480.3 739.3l4.3 8.3h-8.7z"/><path d="M340 831l4.3 8.3h-8.7z"/><path d="M362 826.9l4.3 8.3h-8.7z"/><path d="M372.4 797.4l4.3 8.3h-8.7z"/><path d="M304.6 851.9l4.3 8.3h-8.7z"/><path d="M458.3 744l4.3 8.3h-8.7z"/><path d="M289.1 861.4l4.3 8.3h-8.7z"/><path d="M504.2 714l4.3 8.3h-8.7z"/><path d="M450.4 731.2l4.3 8.3h-8.7z"/><path d="M474.1 801.4l4.3 8.3h-8.7z"/><path d="M408.7 782.1l4.3 8.3h-8.7z"/><path d="M471.2 749.8l4.3 8.3h-8.7z"/><path d="M467.1 730.6l4.3 8.3h-8.7z"/><path d="M441.2 749l4.3 8.3h-8.7z"/><path d="M439.1 765.9l4.3 8.3h-8.7z"/><path d="M368.5 799.2l4.3 8.3h-8.7z"/><path d="M338.5 820.7l4.3 8.3h-8.7z"/><path d="M431 774.1l4.3 8.3h-8.7z"/><path d="M360.1 819.9l4.3 8.3h-8.7z"/><path d="M453.1 727.5l4.3 8.3h-8.7z"/><path d="M372.4 807.4l4.3 8.3h-8.7z"/><path d="M582.4 709.9l4.3 8.3h-8.7z"/><path d="M458.3 728.6l4.3 8.3h-8.7z"/><path d="M502.5 712.6l4.3 8.3h-8.7z"/><path d="M473.4 728l4.3 8.3h-8.7z"/><path d="M487.9 735.7l4.3 8.3h-8.7z"/><path d="M438.8 755.1l4.3 8.3h-8.7z"/><path d="M379.4 804.5l4.3 8.3h-8.7z"/><path d="M460.4 718.7l4.3 8.3h-8.7z"/><path d="M318.7 830.1l4.3 8.3h-8.7z"/><path d="M516.3 725.4l4.3 8.3h-8.7z"/><path d="M415 760.5l4.3 8.3h-8.7z"/><path d="M523.1 714.9l4.3 8.3h-8.7z"/><path d="M297.4 848.1l4.3 8.3h-8.7z"/><path d="M409.9 769.7l4.3 8.3h-8.7z"/><path d="M398.5 772.1l4.3 8.3h-8.7z"/><path d="M428.1 772.3l4.3 8.3h-8.7z"/><path d="M455.5 722.6l4.3 8.3h-8.7z"/><path d="M430.6 751.2l4.3 8.3h-8.7z"/><path d="M460.6 738.9l4.3 8.3h-8.7z"/><path d="M374 818.4l4.3 8.3h-8.7z"/><path d="M349.5 813.6l4.3 8.3h-8.7z"/><path d="M449.5 772.5l4.3 8.3h-8.7z"/><path d="M483.1 744.6l4.3 8.3h-8.7z"/><path d="M306 846.2l4.3 8.3h-8.7z"/><path d="M373.9 809.8l4.3 8.3h-8.7z"/><path d="M485.2 712.3l4.3 8.3h-8.7z"/><path d="M359.4 818.3l4.3 8.3h-8.7z"/><path d="M344.5 817l4.3 8.3h-8.7z"/><path d="M376.1 792.9l4.3 8.3h-8.7z"/><path d="M389.7 806.8l4.3 8.3h-8.7z"/><path d="M413.2 775.6l4.3 8.3h-8.7z"/><path d="M394.8 820.9l4.3 8.3h-8.7z"/><path d="M433 753.8l4.3 8.3h-8.7z"/><path d="M460.5 747l4.3 8.3h-8.7z"/><path d="M433.9 754.1l4.3 8.3h-8.7z"/><path d="M451.2 756.7l4.3 8.3h-8.7z"/><path d="M424.3 781.5l4.3 8.3h-8.7z"/><path d="M411.2 760.4l4.3 8.3h-8.7z"/><path d="M369.2 820.7l4.3 8.3h-8.7z"/><path d="M351.3 809l4.3 8.3h-8.7z"/><path d="M488.8 737.7l4.3 8.3h-8.7z"/><path d="M457.3 745.9l4.3 8.3h-8.7z"/><path d="M437.9 749.6l4.3 8.3h-8.7z"/><path d="M347.6 823.7l4.3 8.3h-8.7z"/><path d="M421.6 781.7l4.3 8.3h-8.7z"/><path d="M369.6 797l4.3 8.3h-8.7z"/><path d="M468.9 737.7l4.3 8.3h-8.7z"/><path d="M348.1 818.7l4.3 8.3h-8.7z"/><path d="M442 787.2l4.3 8.3h-8.7z"/><path d="M468 738.9l4.3 8.3h-8.7z"/><path d="M523.5 707l4.3 8.3h-8.7z"/><path d="M362 807.5l4.3 8.3h-8.7z"/><path d="M455.3 756.6l4.3 8.3h-8.7z"/><path d="M370.8 803.3l4.3 8.3h-8.7z"/><path d="M502 710.2l4.3 8.3h-8.7z"/><path d="M446.3 762.2l4.3 8.3h-8.7z"/><path d="M405.7 743.1l4.3 8.3h-8.7z"/><path d="M493.7 733.8l4.3 8.3h-8.7z"/><path d="M461.2 738.1l4.3 8.3h-8.7z"/><path d="M440.3 758.9l4.3 8.3h-8.7z"/><path d="M489.1 736.4l4.3 8.3h-8.7z"/><path d="M352.9 815.7l4.3 8.3h-8.7z"/><path d="M393.8 796.4l4.3 8.3h-8.7z"/><path d="M467 722.4l4.3 8.3h-8.7z"/><path d="M512.2 721.6l4.3 8.3h-8.7z"/><path d="M446.1 757.1l4.3 8.3h-8.7z"/><path d="M459.1 766.9l4.3 8.3h-8.7z"/><path d="M504.7 711.1l4.3 8.3h-8.7z"/><path d="M346.2 820.5l4.3 8.3h-8.7z"/><path d="M484.2 765.1l4.3 8.3h-8.7z"/><path d="M471 715.3l4.3 8.3h-8.7z"/><path d="M473.6 722.9l4.3 8.3h-8.7z"/><path d="M392.8 784.8l4.3 8.3h-8.7z"/><path d="M387 808.4l4.3 8.3h-8.7z"/><path d="M504.6 730.5l4.3 8.3h-8.7z"/><path d="M336.3 825.9l4.3 8.3h-8.7z"/><path d="M512.6 702.5l4.3 8.3h-8.7z"/><path d="M365.4 803.7l4.3 8.3h-8.7z"/><path d="M319.4 840.5l4.3 8.3h-8.7z"/><path d="M383.4 794.2l4.3 8.3h-8.7z"/><path d="M409.7 768.4l4.3 8.3h-8.7z"/><path d="M549.6 708.5l4.3 8.3h-8.7z"/><path d="M478 753l4.3 8.3h-8.7z"/><path d="M441.2 765.7l4.3 8.3h-8.7z"/><path d="M463.8 732.2l4.3 8.3h-8.7z"/><path d="M467.4 730.8l4.3 8.3h-8.7z"/><path d="M397.3 784.8l4.3 8.3h-8.7z"/><path d="M458.1 750.6l4.3 8.3h-8.7z"/><path d="M368.2 799.2l4.3 8.3h-8.7z"/><path d="M416.6 754l4.3 8.3h-8.7z"/><path d="M371 805.6l4.3 8.3h-8.7z"/><path d="M357.3 816.4l4.3 8.3h-8.7z"/><path d="M483.1 715.7l4.3 8.3h-8.7z"/><path d="M343.6 819.2l4.3 8.3h-8.7z"/><path d="M373 804.9l4.3 8.3h-8.7z"/><path d="M376 803.4l4.3 8.3h-8.7z"/><path d="M430.6 764.3l4.3 8.3h-8.7z"/><path d="M365.2 775.8l4.3 8.3h-8.7z"/><path d="M357.5 811.7l4.3 8.3h-8.7z"/><path d="M377.4 819.3l4.3 8.3h-8.7z"/><path d="M338.4 819.5l4.3 8.3h-8.7z"/><path d="M550.4 757.8l4.3 8.3h-8.7z"/><path d="M401.5 794.8l4.3 8.3h-8.7z"/><path d="M442.8 756.6l4.3 8.3h-8.7z"/><path d="M484.2 728.7l4.3 8.3h-8.7z"/><path d="M458.3 725.3l4.3 8.3h-8.7z"/><path d="M480.2 718.1l4.3 8.3h-8.7z"/><path d="M380.6 805.8l4.3 8.3h-8.7z"/><path d="M447.8 769.2l4.3 8.3h-8.7z"/><path d="M469.6 719.6l4.3 8.3h-8.7z"/><path d="M451.1 767.7l4.3 8.3h-8.7z"/><path d="M490.1 708l4.3 8.3h-8.7z"/><path d="M472.6 739.2l4.3 8.3h-8.7z"/><path d="M399.3 803l4.3 8.3h-8.7z"/><path d="M462.2 732.4l4.3 8.3h-8.7z"/><path d="M297.5 852.9l4.3 8.3h-8.7z"/><path d="M460.4 729.7l4.3 8.3h-8.7z"/><path d="M450.4 770.9l4.3 8.3h-8.7z"/><path d="M436.7 745l4.3 8.3h-8.7z"/><path d="M380.5 802.8l4.3 8.3h-8.7z"/><path d="M492.6 729.5l4.3 8.3h-8.7z"/><path d="M388.8 812.9l4.3 8.3h-8.7z"/><path d="M413 783.9l4.3 8.3h-8.7z"/><path d="M477.8 718.8l4.3 8.3h-8.7z"/><path d="M360.5 810.8l4.3 8.3h-8.7z"/><path d="M365.9 819.9l4.3 8.3h-8.7z"/><path d="M505 741.4l4.3 8.3h-8.7z"/><path d="M537.9 716.5l4.3 8.3h-8.7z"/><path d="M458 745.9l4.3 8.3h-8.7z"/><path d="M442.1 718.6l4.3 8.3h-8.7z"/><path d="M436.6 763.2l4.3 8.3h-8.7z"/><path d="M350.8 812.4l4.3 8.3h-8.7z"/><path d="M364.6 819l4.3 8.3h-8.7z"/><path d="M459.2 748.1l4.3 8.3h-8.7z"/><path d="M418.2 760.9l4.3 8.3h-8.7z"/><path d="M499.2 711.1l4.3 8.3h-8.7z"/><path d="M408.2 780.4l4.3 8.3h-8.7z"/><path d="M388.2 778.5l4.3 8.3h-8.7z"/><path d="M436.7 777.8l4.3 8.3h-8.7z"/><path d="M454.8 751.7l4.3 8.3h-8.7z"/><path d="M437.9 743.3l4.3 8.3h-8.7z"/><path d="M495.6 706l4.3 8.3h-8.7z"/><path d="M392.9 785.4l4.3 8.3h-8.7z"/><path d="M372.1 822.1l4.3 8.3h-8.7z"/><path d="M465.7 767l4.3 8.3h-8.7z"/><path d="M360.6 802.8l4.3 8.3h-8.7z"/><path d="M389.9 791.1l4.3 8.3h-8.7z"/><path d="M492.3 712.8l4.3 8.3h-8.7z"/><path d="M493.1 729.4l4.3 8.3h-8.7z"/><path d="M475.8 728.6l4.3 8.3h-8.7z"/><path d="M351.9 805.3l4.3 8.3h-8.7z"/><path d="M389.9 795.5l4.3 8.3h-8.7z"/><path d="M454.8 750.5l4.3 8.3h-8.7z"/><path d="M397.2 797.7l4.3 8.3h-8.7z"/><path d="M346 825.4l4.3 8.3h-8.7z"/><path d="M398.6 758.4l4.3 8.3h-8.7z"/><path d="M405.5 772.3l4.3 8.3h-8.7z"/><path d="M388.1 790.7l4.3 8.3h-8.7z"/><path d="M510 704.5l4.3 8.3h-8.7z"/><path d="M376.5 815.5l4.3 8.3h-8.7z"/><path d="M434.7 745l4.3 8.3h-8.7z"/><path d="M394.7 802.9l4.3 8.3h-8.7z"/><path d="M508.5 720.3l4.3 8.3h-8.7z"/><path d="M460.7 750.5l4.3 8.3h-8.7z"/><path d="M355.5 809.4l4.3 8.3h-8.7z"/><path d="M415.7 777.3l4.3 8.3h-8.7z"/><path d="M431.6 753.5l4.3 8.3h-8.7z"/><path d="M377.9 807.2l4.3 8.3h-8.7z"/><path d="M337.3 831.3l4.3 8.3h-8.7z"/><path d="M535.5 708.8l4.3 8.3h-8.7z"/><path d="M317.8 831.4l4.3 8.3h-8.7z"/><path d="M415.2 788.6l4.3 8.3h-8.7z"/><path d="M379.9 796.9l4.3 8.3h-8.7z"/><path d="M460.8 762.1l4.3 8.3h-8.7z"/><path d="M366.6 796.5l4.3 8.3h-8.7z"/><path d="M351 806.5l4.3 8.3h-8.7z"/><path d="M348.8 817.3l4.3 8.3h-8.7z"/><path d="M443.2 747l4.3 8.3h-8.7z"/><path d="M392.3 788.5l4.3 8.3h-8.7z"/><path d="M462.2 738.1l4.3 8.3h-8.7z"/><path d="M451.9 779.5l4.3 8.3h-8.7z"/><path d="M378 813.6l4.3 8.3h-8.7z"/><path d="M496 722l4.3 8.3h-8.7z"/><path d="M393.7 793.4l4.3 8.3h-8.7z"/><path d="M359.2 795.7l4.3 8.3h-8.7z"/><path d="M471.8 752l4.3 8.3h-8.7z"/><path d="M379.7 856l4.3 8.3h-8.7z"/><path d="M480.3 744l4.3 8.3h-8.7z"/><path d="M385.3 807.9l4.3 8.3h-8.7z"/><path d="M501.8 738.5l4.3 8.3h-8.7z"/><path d="M392.9 807.2l4.3 8.3h-8.7z"/><path d="M433.3 748.2l4.3 8.3h-8.7z"/><path d="M567 702.7l4.3 8.3h-8.7z"/><path d="M490.9 716.5l4.3 8.3h-8.7z"/><path d="M353.7 813.6l4.3 8.3h-8.7z"/><path d="M533.3 705.3l4.3 8.3h-8.7z"/><path d="M448.8 777.7l4.3 8.3h-8.7z"/><path d="M528.7 709.8l4.3 8.3h-8.7z"/><path d="M376.3 806.2l4.3 8.3h-8.7z"/><path d="M455.3 746.4l4.3 8.3h-8.7z"/><path d="M363.4 815.1l4.3 8.3h-8.7z"/><path d="M473.8 737.3l4.3 8.3h-8.7z"/><path d="M376.6 790.6l4.3 8.3h-8.7z"/><path d="M392.5 792.5l4.3 8.3h-8.7z"/><path d="M487.5 742.9l4.3 8.3h-8.7z"/><path d="M471.8 730.1l4.3 8.3h-8.7z"/><path d="M425.7 771.2l4.3 8.3h-8.7z"/><path d="M534.8 704.1l4.3 8.3h-8.7z"/><path d="M483.9 727.4l4.3 8.3h-8.7z"/><path d="M437.1 767.2l4.3 8.3h-8.7z"/><path d="M439.1 765.7l4.3 8.3h-8.7z"/><path d="M519.7 711l4.3 8.3h-8.7z"/><path d="M460.1 732.3l4.3 8.3h-8.7z"/><path d="M348 833.2l4.3 8.3h-8.7z"/><path d="M493.2 720.1l4.3 8.3h-8.7z"/><path d="M415.4 782.3l4.3 8.3h-8.7z"/><path d="M515.8 706.2l4.3 8.3h-8.7z"/><path d="M382.4 794.7l4.3 8.3h-8.7z"/><path d="M509.5 708.5l4.3 8.3h-8.7z"/><path d="M401.2 787l4.3 8.3h-8.7z"/><path d="M503.6 704.3l4.3 8.3h-8.7z"/><path d="M451.3 743.6l4.3 8.3h-8.7z"/><path d="M537.6 714.8l4.3 8.3h-8.7z"/><path d="M538.8 762.2l4.3 8.3h-8.7z"/><path d="M445.9 764l4.3 8.3h-8.7z"/><path d="M347.9 808.5l4.3 8.3h-8.7z"/><path d="M401.7 788.6l4.3 8.3h-8.7z"/><path d="M386 779.5l4.3 8.3h-8.7z"/><path d="M361.2 821.5l4.3 8.3h-8.7z"/><path d="M379.1 787.1l4.3 8.3h-8.7z"/><path d="M350.1 812.8l4.3 8.3h-8.7z"/><path d="M392.4 802.2l4.3 8.3h-8.7z"/><path d="M357.3 806l4.3 8.3h-8.7z"/><path d="M388.8 782.9l4.3 8.3h-8.7z"/><path d="M502.8 706.1l4.3 8.3h-8.7z"/><path d="M503.4 715.2l4.3 8.3h-8.7z"/><path d="M386.3 802.9l4.3 8.3h-8.7z"/><path d="M436.3 749.5l4.3 8.3h-8.7z"/><path d="M438.7 773.7l4.3 8.3h-8.7z"/><path d="M439.6 747.5l4.3 8.3h-8.7z"/><path d="M496.2 711.5l4.3 8.3h-8.7z"/><path d="M347.7 826.5l4.3 8.3h-8.7z"/><path d="M476.6 720.5l4.3 8.3h-8.7z"/><path d="M458.4 737.3l4.3 8.3h-8.7z"/><path d="M409.4 789.5l4.3 8.3h-8.7z"/><path d="M383.6 802.4l4.3 8.3h-8.7z"/><path d="M480.3 739.5l4.3 8.3h-8.7z"/><path d="M492.5 709.1l4.3 8.3h-8.7z"/><path d="M464.3 733.6l4.3 8.3h-8.7z"/><path d="M354.2 817.4l4.3 8.3h-8.7z"/><path d="M460.2 740.5l4.3 8.3h-8.7z"/><path d="M462.3 754.4l4.3 8.3h-8.7z"/><path d="M403.5 754.9l4.3 8.3h-8.7z"/><path d="M504.9 721.6l4.3 8.3h-8.7z"/><path d="M455 747.2l4.3 8.3h-8.7z"/><path d="M505.4 705.7l4.3 8.3h-8.7z"/><path d="M298.2 865.5l4.3 8.3h-8.7z"/><path d="M361.7 805.2l4.3 8.3h-8.7z"/><path d="M503.2 703.5l4.3 8.3h-8.7z"/><path d="M449.3 780.1l4.3 8.3h-8.7z"/><path d="M387.4 803.1l4.3 8.3h-8.7z"/><path d="M492.1 725.3l4.3 8.3h-8.7z"/><path d="M331.7 823.9l4.3 8.3h-8.7z"/><path d="M491.6 705.1l4.3 8.3h-8.7z"/><path d="M477.1 731.7l4.3 8.3h-8.7z"/><path d="M513.7 725.2l4.3 8.3h-8.7z"/><path d="M447.5 744.9l4.3 8.3h-8.7z"/><path d="M372 803.1l4.3 8.3h-8.7z"/><path d="M459.7 749.3l4.3 8.3h-8.7z"/><path d="M387.9 800.7l4.3 8.3h-8.7z"/><path d="M353.7 825.7l4.3 8.3h-8.7z"/><path d="M492.9 718.1l4.3 8.3h-8.7z"/><path d="M474.9 713.8l4.3 8.3h-8.7z"/><path d="M424.4 755.4l4.3 8.3h-8.7z"/><path d="M508.8 723l4.3 8.3h-8.7z"/><path d="M446.9 736.9l4.3 8.3h-8.7z"/><path d="M450 735l4.3 8.3h-8.7z"/><path d="M373.3 810.6l4.3 8.3h-8.7z"/><path d="M473.6 722.6l4.3 8.3h-8.7z"/><path d="M417.1 785.3l4.3 8.3h-8.7z"/><path d="M535.4 705.4l4.3 8.3h-8.7z"/><path d="M529.7 704.6l4.3 8.3h-8.7z"/><path d="M485.2 729.8l4.3 8.3h-8.7z"/><path d="M520.6 717.1l4.3 8.3h-8.7z"/><path d="M450 752.3l4.3 8.3h-8.7z"/><path d="M350.6 819.5l4.3 8.3h-8.7z"/><path d="M453.3 748.8l4.3 8.3h-8.7z"/><path d="M449.1 784.8l4.3 8.3h-8.7z"/><path d="M526.6 711l4.3 8.3h-8.7z"/><path d="M436.2 783.2l4.3 8.3h-8.7z"/><path d="M434.8 748.2l4.3 8.3h-8.7z"/><path d="M339.8 824.4l4.3 8.3h-8.7z"/><path d="M436 742.9l4.3 8.3h-8.7z"/><path d="M435.5 757.1l4.3 8.3h-8.7z"/><path d="M498.8 730.3l4.3 8.3h-8.7z"/><path d="M396.1 794.5l4.3 8.3h-8.7z"/><path d="M453.4 730.7l4.3 8.3h-8.7z"/><path d="M490.3 720.1l4.3 8.3h-8.7z"/><path d="M430.1 769l4.3 8.3h-8.7z"/><path d="M460 742.1l4.3 8.3h-8.7z"/><path d="M367 798.9l4.3 8.3h-8.7z"/><path d="M517.1 720.6l4.3 8.3h-8.7z"/><path d="M410.2 774l4.3 8.3h-8.7z"/><path d="M388.7 804.3l4.3 8.3h-8.7z"/><path d="M361.7 828.3l4.3 8.3h-8.7z"/><path d="M518.3 709.4l4.3 8.3h-8.7z"/><path d="M393.5 794.5l4.3 8.3h-8.7z"/><path d="M396.7 801.3l4.3 8.3h-8.7z"/><path d="M356.4 817.4l4.3 8.3h-8.7z"/><path d="M438.1 781.7l4.3 8.3h-8.7z"/><path d="M459.3 733.2l4.3 8.3h-8.7z"/><path d="M436.2 776.9l4.3 8.3h-8.7z"/><path d="M273.7 855.1l4.3 8.3h-8.7z"/><path d="M288.7 856l4.3 8.3h-8.7z"/><path d="M443.8 763.5l4.3 8.3h-8.7z"/><path d="M445.9 736.8l4.3 8.3h-8.7z"/><path d="M488 724l4.3 8.3h-8.7z"/><path d="M440.9 772.8l4.3 8.3h-8.7z"/><path d="M494.1 717.6l4.3 8.3h-8.7z"/><path d="M468 752.8l4.3 8.3h-8.7z"/><path d="M430.4 780.9l4.3 8.3h-8.7z"/><path d="M294.6 858.6l4.3 8.3h-8.7z"/><path d="M352 818.9l4.3 8.3h-8.7z"/><path d="M369.1 802l4.3 8.3h-8.7z"/><path d="M400.3 779.4l4.3 8.3h-8.7z"/><path d="M462 743.1l4.3 8.3h-8.7z"/><path d="M338.2 831.9l4.3 8.3h-8.7z"/><path d="M360.3 805.2l4.3 8.3h-8.7z"/><path d="M470.6 729.9l4.3 8.3h-8.7z"/><path d="M367.2 813.9l4.3 8.3h-8.7z"/><path d="M460.5 741.8l4.3 8.3h-8.7z"/><path d="M402.8 806.7l4.3 8.3h-8.7z"/><path d="M467.8 733.9l4.3 8.3h-8.7z"/><path d="M460.4 749.4l4.3 8.3h-8.7z"/><path d="M451.5 747.8l4.3 8.3h-8.7z"/><path d="M453.5 768.3l4.3 8.3h-8.7z"/><path d="M414.3 751l4.3 8.3h-8.7z"/><path d="M500.3 715.8l4.3 8.3h-8.7z"/><path d="M429.2 781.2l4.3 8.3h-8.7z"/><path d="M337.3 834.5l4.3 8.3h-8.7z"/><path d="M427 774.1l4.3 8.3h-8.7z"/><path d="M290.1 860.1l4.3 8.3h-8.7z"/><path d="M297.4 856.5l4.3 8.3h-8.7z"/><path d="M455.1 724.3l4.3 8.3h-8.7z"/><path d="M427 783.3l4.3 8.3h-8.7z"/><path d="M503.3 709.5l4.3 8.3h-8.7z"/><path d="M451.4 768.4l4.3 8.3h-8.7z"/><path d="M405.5 798.5l4.3 8.3h-8.7z"/><path d="M300 854.2l4.3 8.3h-8.7z"/><path d="M523 709.2l4.3 8.3h-8.7z"/><path d="M368.7 798.7l4.3 8.3h-8.7z"/><path d="M458.2 729l4.3 8.3h-8.7z"/><path d="M392.5 791.7l4.3 8.3h-8.7z"/><path d="M303.7 849.6l4.3 8.3h-8.7z"/><path d="M332.6 822.5l4.3 8.3h-8.7z"/><path d="M367 804.2l4.3 8.3h-8.7z"/><path d="M431.3 773.7l4.3 8.3h-8.7z"/><path d="M370.9 794l4.3 8.3h-8.7z"/><path d="M283 853.9l4.3 8.3h-8.7z"/><path d="M254.8 865.8l4.3 8.3h-8.7z"/><path d="M392.7 794.1l4.3 8.3h-8.7z"/><path d="M342.4 837.7l4.3 8.3h-8.7z"/><path d="M354.5 813.6l4.3 8.3h-8.7z"/><path d="M359.9 795.2l4.3 8.3h-8.7z"/><path d="M444.1 769.2l4.3 8.3h-8.7z"/><path d="M510.4 748.5l4.3 8.3h-8.7z"/><path d="M388.1 783.6l4.3 8.3h-8.7z"/><path d="M356.8 816.1l4.3 8.3h-8.7z"/><path d="M502.6 722.8l4.3 8.3h-8.7z"/><path d="M476.8 709.5l4.3 8.3h-8.7z"/><path d="M471.8 755.3l4.3 8.3h-8.7z"/><path d="M443.6 748.3l4.3 8.3h-8.7z"/><path d="M302.4 842.6l4.3 8.3h-8.7z"/><path d="M321.9 835.5l4.3 8.3h-8.7z"/><path d="M414.1 798.6l4.3 8.3h-8.7z"/><path d="M336.5 833.1l4.3 8.3h-8.7z"/><path d="M365.2 798.5l4.3 8.3h-8.7z"/><path d="M485.1 724.5l4.3 8.3h-8.7z"/><path d="M490.8 717.5l4.3 8.3h-8.7z"/><path d="M508.4 713.5l4.3 8.3h-8.7z"/><path d="M474.8 739.5l4.3 8.3h-8.7z"/><path d="M515.5 711.5l4.3 8.3h-8.7z"/><path d="M493 720.9l4.3 8.3h-8.7z"/><path d="M383.4 796.6l4.3 8.3h-8.7z"/><path d="M495.3 765.7l4.3 8.3h-8.7z"/><path d="M378.7 811.3l4.3 8.3h-8.7z"/><path d="M480.5 708.3l4.3 8.3h-8.7z"/><path d="M386.8 803.1l4.3 8.3h-8.7z"/><path d="M573.4 683.8l4.3 8.3h-8.7z"/><path d="M427.7 768.1l4.3 8.3h-8.7z"/><path d="M382.3 795.6l4.3 8.3h-8.7z"/><path d="M448.1 728.6l4.3 8.3h-8.7z"/><path d="M372.2 797.6l4.3 8.3h-8.7z"/><path d="M409.5 767.9l4.3 8.3h-8.7z"/><path d="M445.7 732.2l4.3 8.3h-8.7z"/><path d="M449.1 744.5l4.3 8.3h-8.7z"/><path d="M423.1 764.8l4.3 8.3h-8.7z"/><path d="M328 851.2l4.3 8.3h-8.7z"/><path d="M515.4 723.2l4.3 8.3h-8.7z"/><path d="M366.1 802.7l4.3 8.3h-8.7z"/><path d="M460.1 756.5l4.3 8.3h-8.7z"/><path d="M467.4 737.5l4.3 8.3h-8.7z"/><path d="M477.6 741.6l4.3 8.3h-8.7z"/><path d="M345 828.8l4.3 8.3h-8.7z"/><path d="M417.8 788.9l4.3 8.3h-8.7z"/><path d="M530.5 721.4l4.3 8.3h-8.7z"/><path d="M444.2 762.4l4.3 8.3h-8.7z"/><path d="M501 705.5l4.3 8.3h-8.7z"/><path d="M438 750l4.3 8.3h-8.7z"/><path d="M372.2 796.5l4.3 8.3h-8.7z"/><path d="M524 750.6l4.3 8.3h-8.7z"/><path d="M423.4 781.6l4.3 8.3h-8.7z"/><path d="M453.2 753.4l4.3 8.3h-8.7z"/><path d="M346.3 829.3l4.3 8.3h-8.7z"/><path d="M517.5 717l4.3 8.3h-8.7z"/><path d="M459.7 725.7l4.3 8.3h-8.7z"/><path d="M519.7 711.9l4.3 8.3h-8.7z"/><path d="M452.2 735.9l4.3 8.3h-8.7z"/><path d="M462.5 747.2l4.3 8.3h-8.7z"/><path d="M467 738.7l4.3 8.3h-8.7z"/><path d="M369.2 803.5l4.3 8.3h-8.7z"/><path d="M460.7 732.3l4.3 8.3h-8.7z"/><path d="M351.7 813.3l4.3 8.3h-8.7z"/><path d="M448.4 756.5l4.3 8.3h-8.7z"/><path d="M437.4 754l4.3 8.3h-8.7z"/><path d="M382.9 808.7l4.3 8.3h-8.7z"/><path d="M372.6 804.6l4.3 8.3h-8.7z"/><path d="M358 803.7l4.3 8.3h-8.7z"/><path d="M447 763.5l4.3 8.3h-8.7z"/><path d="M489.4 710.1l4.3 8.3h-8.7z"/><path d="M358.3 801.6l4.3 8.3h-8.7z"/><path d="M420 795.5l4.3 8.3h-8.7z"/><path d="M398.6 800.4l4.3 8.3h-8.7z"/><path d="M490.3 718.4l4.3 8.3h-8.7z"/><path d="M459.9 756.5l4.3 8.3h-8.7z"/><path d="M513.8 724l4.3 8.3h-8.7z"/><path d="M406.6 787.1l4.3 8.3h-8.7z"/><path d="M454.5 759.7l4.3 8.3h-8.7z"/><path d="M499.2 718.8l4.3 8.3h-8.7z"/><path d="M426.6 795l4.3 8.3h-8.7z"/><path d="M408.8 792l4.3 8.3h-8.7z"/><path d="M448.4 755.1l4.3 8.3h-8.7z"/><path d="M434 770.3l4.3 8.3h-8.7z"/><path d="M332.3 831.3l4.3 8.3h-8.7z"/><path d="M461.1 724.9l4.3 8.3h-8.7z"/><path d="M507.1 725.8l4.3 8.3h-8.7z"/><path d="M473.3 727l4.3 8.3h-8.7z"/><path d="M455.4 764.8l4.3 8.3h-8.7z"/><path d="M468.1 731.1l4.3 8.3h-8.7z"/><path d="M342.4 824.5l4.3 8.3h-8.7z"/><path d="M519 709.5l4.3 8.3h-8.7z"/><path d="M375.7 797.1l4.3 8.3h-8.7z"/><path d="M431.8 762.3l4.3 8.3h-8.7z"/><path d="M485.6 711.9l4.3 8.3h-8.7z"/><path d="M367.9 805.6l4.3 8.3h-8.7z"/><path d="M371.1 810.9l4.3 8.3h-8.7z"/><path d="M309.1 846.5l4.3 8.3h-8.7z"/><path d="M456.2 738.6l4.3 8.3h-8.7z"/><path d="M490.4 716.8l4.3 8.3h-8.7z"/><path d="M380 804l4.3 8.3h-8.7z"/><path d="M491 709l4.3 8.3h-8.7z"/><path d="M424.3 745.7l4.3 8.3h-8.7z"/><path d="M443.2 747.5l4.3 8.3h-8.7z"/><path d="M448 775.6l4.3 8.3h-8.7z"/><path d="M429.6 795.1l4.3 8.3h-8.7z"/><path d="M399.8 807.4l4.3 8.3h-8.7z"/><path d="M499.6 723.5l4.3 8.3h-8.7z"/><path d="M333 815.2l4.3 8.3h-8.7z"/><path d="M489.7 745l4.3 8.3h-8.7z"/><path d="M436.6 770l4.3 8.3h-8.7z"/><path d="M371 807.1l4.3 8.3h-8.7z"/><path d="M516.3 705.3l4.3 8.3h-8.7z"/><path d="M395.2 794.3l4.3 8.3h-8.7z"/><path d="M488.7 707.4l4.3 8.3h-8.7z"/><path d="M359.6 825.1l4.3 8.3h-8.7z"/><path d="M526.7 712.2l4.3 8.3h-8.7z"/><path d="M464.8 802.3l4.3 8.3h-8.7z"/><path d="M341.7 818.1l4.3 8.3h-8.7z"/><path d="M398.4 804.1l4.3 8.3h-8.7z"/><path d="M527 716.7l4.3 8.3h-8.7z"/><path d="M346.6 830.4l4.3 8.3h-8.7z"/><path d="M457.6 733.5l4.3 8.3h-8.7z"/><path d="M486.9 720.6l4.3 8.3h-8.7z"/><path d="M425.3 765.2l4.3 8.3h-8.7z"/><path d="M398.6 776.4l4.3 8.3h-8.7z"/><path d="M479 715.7l4.3 8.3h-8.7z"/><path d="M373.5 807.7l4.3 8.3h-8.7z"/><path d="M451.8 754.4l4.3 8.3h-8.7z"/><path d="M500.1 725l4.3 8.3h-8.7z"/><path d="M430.4 745.6l4.3 8.3h-8.7z"/><path d="M452.9 746.6l4.3 8.3h-8.7z"/><path d="M481.3 717.6l4.3 8.3h-8.7z"/><path d="M491.1 728.5l4.3 8.3h-8.7z"/><path d="M381.4 785.8l4.3 8.3h-8.7z"/><path d="M342 845.5l4.3 8.3h-8.7z"/><path d="M478.5 715.2l4.3 8.3h-8.7z"/><path d="M404.3 798.1l4.3 8.3h-8.7z"/><path d="M486.6 715l4.3 8.3h-8.7z"/><path d="M345.4 812.6l4.3 8.3h-8.7z"/><path d="M461.3 744.9l4.3 8.3h-8.7z"/><path d="M365.4 804.5l4.3 8.3h-8.7z"/><path d="M483.8 719.6l4.3 8.3h-8.7z"/><path d="M538.8 750.6l4.3 8.3h-8.7z"/><path d="M498.3 745.9l4.3 8.3h-8.7z"/><path d="M418.9 733.1l4.3 8.3h-8.7z"/><path d="M445.4 771.7l4.3 8.3h-8.7z"/><path d="M425.8 764l4.3 8.3h-8.7z"/><path d="M284.3 858l4.3 8.3h-8.7z"/><path d="M505.8 718.4l4.3 8.3h-8.7z"/><path d="M505.3 728.8l4.3 8.3h-8.7z"/><path d="M311.6 845.2l4.3 8.3h-8.7z"/><path d="M469.3 742.4l4.3 8.3h-8.7z"/><path d="M456.9 726l4.3 8.3h-8.7z"/><path d="M357.9 820.2l4.3 8.3h-8.7z"/><path d="M413.3 765.6l4.3 8.3h-8.7z"/><path d="M452.6 739.8l4.3 8.3h-8.7z"/><path d="M480.8 729.8l4.3 8.3h-8.7z"/><path d="M484.3 731.2l4.3 8.3h-8.7z"/><path d="M355 840.6l4.3 8.3h-8.7z"/><path d="M480.9 726.9l4.3 8.3h-8.7z"/><path d="M436.8 780.6l4.3 8.3h-8.7z"/><path d="M462.8 752.2l4.3 8.3h-8.7z"/><path d="M397.2 785.9l4.3 8.3h-8.7z"/><path d="M390.8 811.7l4.3 8.3h-8.7z"/><path d="M465.3 732.3l4.3 8.3h-8.7z"/><path d="M428.6 753l4.3 8.3h-8.7z"/><path d="M527.2 715.1l4.3 8.3h-8.7z"/><path d="M301.7 848.6l4.3 8.3h-8.7z"/><path d="M461.5 772.9l4.3 8.3h-8.7z"/><path d="M474.7 716.5l4.3 8.3h-8.7z"/><path d="M461.9 753.6l4.3 8.3h-8.7z"/><path d="M485 731.3l4.3 8.3h-8.7z"/><path d="M317.3 838.7l4.3 8.3h-8.7z"/><path d="M454.4 772.4l4.3 8.3h-8.7z"/><path d="M389 789.7l4.3 8.3h-8.7z"/><path d="M411.8 767.5l4.3 8.3h-8.7z"/><path d="M378.2 816.4l4.3 8.3h-8.7z"/><path d="M366.6 796.5l4.3 8.3h-8.7z"/><path d="M474.4 736l4.3 8.3h-8.7z"/><path d="M382.2 792.9l4.3 8.3h-8.7z"/><path d="M598.3 710.2l4.3 8.3h-8.7z"/><path d="M474 753.2l4.3 8.3h-8.7z"/><path d="M474 738.8l4.3 8.3h-8.7z"/><path d="M355 813.4l4.3 8.3h-8.7z"/><path d="M499.6 723.5l4.3 8.3h-8.7z"/><path d="M389.3 786.2l4.3 8.3h-8.7z"/><path d="M417.7 794.4l4.3 8.3h-8.7z"/><path d="M356.3 829.2l4.3 8.3h-8.7z"/><path d="M451.7 768.9l4.3 8.3h-8.7z"/><path d="M359.1 820.5l4.3 8.3h-8.7z"/><path d="M331.4 839.1l4.3 8.3h-8.7z"/><path d="M518.4 712.1l4.3 8.3h-8.7z"/><path d="M496.5 717l4.3 8.3h-8.7z"/><path d="M461.4 723.5l4.3 8.3h-8.7z"/><path d="M449.4 788.3l4.3 8.3h-8.7z"/><path d="M374.6 788.8l4.3 8.3h-8.7z"/><path d="M511.7 713l4.3 8.3h-8.7z"/><path d="M479.1 719.9l4.3 8.3h-8.7z"/><path d="M410.1 759.1l4.3 8.3h-8.7z"/><path d="M431.8 755.8l4.3 8.3h-8.7z"/><path d="M450.1 784.5l4.3 8.3h-8.7z"/><path d="M454.8 777.3l4.3 8.3h-8.7z"/><path d="M442.3 768.7l4.3 8.3h-8.7z"/><path d="M336.5 822.1l4.3 8.3h-8.7z"/><path d="M357.9 812l4.3 8.3h-8.7z"/><path d="M421.4 775.5l4.3 8.3h-8.7z"/><path d="M530.9 715.9l4.3 8.3h-8.7z"/><path d="M429.5 776.6l4.3 8.3h-8.7z"/><path d="M479.8 719.3l4.3 8.3h-8.7z"/><path d="M387.6 800.5l4.3 8.3h-8.7z"/><path d="M319.4 827.9l4.3 8.3h-8.7z"/><path d="M521.4 711.1l4.3 8.3h-8.7z"/><path d="M338.3 817.1l4.3 8.3h-8.7z"/><path d="M517.1 724.9l4.3 8.3h-8.7z"/><path d="M379.7 789.6l4.3 8.3h-8.7z"/><path d="M493.3 730l4.3 8.3h-8.7z"/><path d="M352.8 809.9l4.3 8.3h-8.7z"/><path d="M454.7 727.5l4.3 8.3h-8.7z"/><path d="M411.2 775.8l4.3 8.3h-8.7z"/><path d="M418 772.1l4.3 8.3h-8.7z"/><path d="M459 758.4l4.3 8.3h-8.7z"/><path d="M364.9 817.6l4.3 8.3h-8.7z"/><path d="M447.7 732.9l4.3 8.3h-8.7z"/><path d="M294 854.9l4.3 8.3h-8.7z"/><path d="M281.8 869.2l4.3 8.3h-8.7z"/><path d="M358.5 809.2l4.3 8.3h-8.7z"/><path d="M356.6 804.8l4.3 8.3h-8.7z"/><path d="M460.4 745.8l4.3 8.3h-8.7z"/><path d="M381.1 802.3l4.3 8.3h-8.7z"/><path d="M371.7 801l4.3 8.3h-8.7z"/><path d="M363.4 800.5l4.3 8.3h-8.7z"/><path d="M360.6 821.4l4.3 8.3h-8.7z"/><path d="M444.2 740l4.3 8.3h-8.7z"/><path d="M481.3 750l4.3 8.3h-8.7z"/><path d="M393.1 791.4l4.3 8.3h-8.7z"/><path d="M510.4 708.7l4.3 8.3h-8.7z"/><path d="M456.7 752.6l4.3 8.3h-8.7z"/><path d="M495 716l4.3 8.3h-8.7z"/><path d="M534.9 713.7l4.3 8.3h-8.7z"/><path d="M457.8 745.4l4.3 8.3h-8.7z"/><path d="M425.6 803.7l4.3 8.3h-8.7z"/><path d="M360.6 806.9l4.3 8.3h-8.7z"/><path d="M269.4 860.9l4.3 8.3h-8.7z"/><path d="M374.3 822.8l4.3 8.3h-8.7z"/><path d="M438.4 752.7l4.3 8.3h-8.7z"/><path d="M415.4 759.5l4.3 8.3h-8.7z"/><path d="M510.8 728.2l4.3 8.3h-8.7z"/><path d="M457.7 745.9l4.3 8.3h-8.7z"/><path d="M470.8 762.7l4.3 8.3h-8.7z"/><path d="M445.8 751.6l4.3 8.3h-8.7z"/><path d="M494.6 707.2l4.3 8.3h-8.7z"/><path d="M381.7 822.4l4.3 8.3h-8.7z"/><path d="M463.2 736.2l4.3 8.3h-8.7z"/><path d="M483.2 724.1l4.3 8.3h-8.7z"/><path d="M411.4 781.7l4.3 8.3h-8.7z"/><path d="M327 830.1l4.3 8.3h-8.7z"/><path d="M484.4 722.3l4.3 8.3h-8.7z"/><path d="M338.9 815.8l4.3 8.3h-8.7z"/><path d="M507.6 704.7l4.3 8.3h-8.7z"/><path d="M549.3 706l4.3 8.3h-8.7z"/><path d="M321.5 847.5l4.3 8.3h-8.7z"/><path d="M504.6 813l4.3 8.3h-8.7z"/><path d="M443.1 768.3l4.3 8.3h-8.7z"/><path d="M347.9 816.9l4.3 8.3h-8.7z"/><path d="M403.8 783.2l4.3 8.3h-8.7z"/><path d="M484.6 721.9l4.3 8.3h-8.7z"/><path d="M392.6 807.7l4.3 8.3h-8.7z"/><path d="M506.7 708.6l4.3 8.3h-8.7z"/><path d="M396.6 772.7l4.3 8.3h-8.7z"/><path d="M470.7 758.2l4.3 8.3h-8.7z"/><path d="M339.4 838.2l4.3 8.3h-8.7z"/><path d="M473.3 720.3l4.3 8.3h-8.7z"/><path d="M452.6 759.6l4.3 8.3h-8.7z"/><path d="M392.1 790.6l4.3 8.3h-8.7z"/><path d="M428.5 771.5l4.3 8.3h-8.7z"/><path d="M442.5 746.4l4.3 8.3h-8.7z"/><path d="M445.4 748.8l4.3 8.3h-8.7z"/><path d="M486.3 727.6l4.3 8.3h-8.7z"/><path d="M445.1 767.1l4.3 8.3h-8.7z"/><path d="M359.5 821.3l4.3 8.3h-8.7z"/><path d="M375.2 792.1l4.3 8.3h-8.7z"/><path d="M512.3 716.9l4.3 8.3h-8.7z"/><path d="M453.5 734.7l4.3 8.3h-8.7z"/><path d="M354.9 819.8l4.3 8.3h-8.7z"/><path d="M427.5 772l4.3 8.3h-8.7z"/><path d="M465.1 778.8l4.3 8.3h-8.7z"/><path d="M312.1 842.5l4.3 8.3h-8.7z"/><path d="M509.3 721.4l4.3 8.3h-8.7z"/><path d="M393.3 799l4.3 8.3h-8.7z"/><path d="M481 717.8l4.3 8.3h-8.7z"/><path d="M364.7 809.7l4.3 8.3h-8.7z"/><path d="M487.4 712.7l4.3 8.3h-8.7z"/><path d="M444.3 767.4l4.3 8.3h-8.7z"/><path d="M583 696.9l4.3 8.3h-8.7z"/><path d="M381.4 799.9l4.3 8.3h-8.7z"/><path d="M334.1 849.2l4.3 8.3h-8.7z"/><path d="M439 759.1l4.3 8.3h-8.7z"/><path d="M330.6 830.7l4.3 8.3h-8.7z"/><path d="M370 815l4.3 8.3h-8.7z"/><path d="M304.2 862.4l4.3 8.3h-8.7z"/><path d="M482.2 735.1l4.3 8.3h-8.7z"/><path d="M473.6 728.9l4.3 8.3h-8.7z"/><path d="M421.7 762l4.3 8.3h-8.7z"/><path d="M445.5 745.5l4.3 8.3h-8.7z"/><path d="M497.9 714.9l4.3 8.3h-8.7z"/><path d="M392.7 807l4.3 8.3h-8.7z"/><path d="M488.3 712.1l4.3 8.3h-8.7z"/><path d="M396.8 775.7l4.3 8.3h-8.7z"/><path d="M406.6 801.8l4.3 8.3h-8.7z"/><path d="M472.5 728.9l4.3 8.3h-8.7z"/><path d="M441.2 781.9l4.3 8.3h-8.7z"/><path d="M313.6 842.2l4.3 8.3h-8.7z"/><path d="M306.6 856.8l4.3 8.3h-8.7z"/><path d="M366.4 813.7l4.3 8.3h-8.7z"/><path d="M425.9 748.2l4.3 8.3h-8.7z"/><path d="M328.3 824.6l4.3 8.3h-8.7z"/><path d="M421 781.4l4.3 8.3h-8.7z"/><path d="M339.9 827.2l4.3 8.3h-8.7z"/><path d="M490.3 750.4l4.3 8.3h-8.7z"/><path d="M348.1 822.6l4.3 8.3h-8.7z"/><path d="M481.6 729l4.3 8.3h-8.7z"/><path d="M363.9 801.6l4.3 8.3h-8.7z"/><path d="M441.4 736.5l4.3 8.3h-8.7z"/><path d="M460.6 760l4.3 8.3h-8.7z"/><path d="M406.6 789.5l4.3 8.3h-8.7z"/><path d="M323.4 844.4l4.3 8.3h-8.7z"/><path d="M325.9 818.3l4.3 8.3h-8.7z"/><path d="M392.4 779.4l4.3 8.3h-8.7z"/><path d="M456 728.3l4.3 8.3h-8.7z"/><path d="M503.7 708.3l4.3 8.3h-8.7z"/><path d="M503.5 715.7l4.3 8.3h-8.7z"/><path d="M439.2 773l4.3 8.3h-8.7z"/><path d="M430.7 760.7l4.3 8.3h-8.7z"/><path d="M358.2 815.3l4.3 8.3h-8.7z"/><path d="M383.9 808l4.3 8.3h-8.7z"/><path d="M442 781.4l4.3 8.3h-8.7z"/><path d="M425.6 746.3l4.3 8.3h-8.7z"/><path d="M432.3 755l4.3 8.3h-8.7z"/><path d="M502.5 719.8l4.3 8.3h-8.7z"/><path d="M456.5 746.5l4.3 8.3h-8.7z"/><path d="M461.3 752.6l4.3 8.3h-8.7z"/><path d="M393.5 789.7l4.3 8.3h-8.7z"/><path d="M327 830.2l4.3 8.3h-8.7z"/><path d="M441.4 770.3l4.3 8.3h-8.7z"/><path d="M484.5 716.6l4.3 8.3h-8.7z"/><path d="M481.1 719l4.3 8.3h-8.7z"/><path d="M454.1 759.3l4.3 8.3h-8.7z"/><path d="M474.6 712.7l4.3 8.3h-8.7z"/><path d="M452.6 740.3l4.3 8.3h-8.7z"/><path d="M499.6 731.6l4.3 8.3h-8.7z"/><path d="M427.4 743.8l4.3 8.3h-8.7z"/><path d="M354.6 816l4.3 8.3h-8.7z"/><path d="M359.7 814.4l4.3 8.3h-8.7z"/><path d="M383.5 799.6l4.3 8.3h-8.7z"/><path d="M381.8 800.8l4.3 8.3h-8.7z"/><path d="M387 791.9l4.3 8.3h-8.7z"/><path d="M490.8 746l4.3 8.3h-8.7z"/><path d="M474.6 758.4l4.3 8.3h-8.7z"/><path d="M455.7 767.3l4.3 8.3h-8.7z"/><path d="M290.2 863.5l4.3 8.3h-8.7z"/><path d="M513.8 714.9l4.3 8.3h-8.7z"/><path d="M353.4 798l4.3 8.3h-8.7z"/><path d="M429.9 763.8l4.3 8.3h-8.7z"/><path d="M487.2 712.3l4.3 8.3h-8.7z"/><path d="M520.1 725.2l4.3 8.3h-8.7z"/><path d="M606.2 704.1l4.3 8.3h-8.7z"/><path d="M377.5 808.2l4.3 8.3h-8.7z"/><path d="M513.2 708.2l4.3 8.3h-8.7z"/><path d="M486.7 731.7l4.3 8.3h-8.7z"/><path d="M442.9 755.9l4.3 8.3h-8.7z"/><path d="M421.3 781.2l4.3 8.3h-8.7z"/><path d="M358.3 819.4l4.3 8.3h-8.7z"/><path d="M438 776.3l4.3 8.3h-8.7z"/><path d="M503.3 709.9l4.3 8.3h-8.7z"/><path d="M343.2 817.9l4.3 8.3h-8.7z"/><path d="M318.2 811.9l4.3 8.3h-8.7z"/><path d="M390.8 793.2l4.3 8.3h-8.7z"/><path d="M382.8 795.4l4.3 8.3h-8.7z"/><path d="M450.8 766.4l4.3 8.3h-8.7z"/><path d="M504.4 721.8l4.3 8.3h-8.7z"/><path d="M403.5 776.7l4.3 8.3h-8.7z"/><path d="M456 737.1l4.3 8.3h-8.7z"/><path d="M359.5 809.3l4.3 8.3h-8.7z"/><path d="M440.2 779l4.3 8.3h-8.7z"/><path d="M443.4 753.3l4.3 8.3h-8.7z"/><path d="M459.8 760.3l4.3 8.3h-8.7z"/><path d="M501.9 730.1l4.3 8.3h-8.7z"/><path d="M383.5 767.4l4.3 8.3h-8.7z"/><path d="M341.9 817.1l4.3 8.3h-8.7z"/><path d="M528.1 712.3l4.3 8.3h-8.7z"/><path d="M475.7 735.3l4.3 8.3h-8.7z"/><path d="M412.8 768.7l4.3 8.3h-8.7z"/><path d="M502.9 729.1l4.3 8.3h-8.7z"/><path d="M360.2 801.9l4.3 8.3h-8.7z"/><path d="M335.9 834.5l4.3 8.3h-8.7z"/><path d="M357.8 811.3l4.3 8.3h-8.7z"/><path d="M377.8 815.7l4.3 8.3h-8.7z"/><path d="M462.2 752.4l4.3 8.3h-8.7z"/><path d="M352.3 804.8l4.3 8.3h-8.7z"/><path d="M420.6 784.9l4.3 8.3h-8.7z"/><path d="M376.1 795.3l4.3 8.3h-8.7z"/><path d="M403 775.8l4.3 8.3h-8.7z"/><path d="M467.5 739.2l4.3 8.3h-8.7z"/><path d="M466.3 736.2l4.3 8.3h-8.7z"/><path d="M473.8 730.5l4.3 8.3h-8.7z"/><path d="M345.6 836.5l4.3 8.3h-8.7z"/><path d="M323.9 836.3l4.3 8.3h-8.7z"/><path d="M353.6 807.8l4.3 8.3h-8.7z"/><path d="M453.6 757l4.3 8.3h-8.7z"/><path d="M357.3 800l4.3 8.3h-8.7z"/><path d="M391.6 796.3l4.3 8.3h-8.7z"/><path d="M446.5 739.6l4.3 8.3h-8.7z"/><path d="M432.4 758.5l4.3 8.3h-8.7z"/><path d="M493 710.1l4.3 8.3h-8.7z"/><path d="M379.3 815.7l4.3 8.3h-8.7z"/><path d="M414.9 787.3l4.3 8.3h-8.7z"/><path d="M415 779l4.3 8.3h-8.7z"/><path d="M372.7 802l4.3 8.3h-8.7z"/><path d="M414.1 763.2l4.3 8.3h-8.7z"/><path d="M238 905.9l4.3 8.3h-8.7z"/><path d="M474.7 716.9l4.3 8.3h-8.7z"/><path d="M352.1 814.4l4.3 8.3h-8.7z"/><path d="M491.4 706.6l4.3 8.3h-8.7z"/><path d="M478.6 733.3l4.3 8.3h-8.7z"/><path d="M468 736.6l4.3 8.3h-8.7z"/><path d="M426.3 772.9l4.3 8.3h-8.7z"/><path d="M351.8 802l4.3 8.3h-8.7z"/><path d="M338.3 822.6l4.3 8.3h-8.7z"/><path d="M445 741.5l4.3 8.3h-8.7z"/><path d="M373.3 794.4l4.3 8.3h-8.7z"/><path d="M333.4 821.5l4.3 8.3h-8.7z"/><path d="M341.8 811.6l4.3 8.3h-8.7z"/><path d="M437.5 784.7l4.3 8.3h-8.7z"/><path d="M468.9 759.8l4.3 8.3h-8.7z"/><path d="M282.1 860l4.3 8.3h-8.7z"/><path d="M354.4 813.3l4.3 8.3h-8.7z"/><path d="M481.4 731l4.3 8.3h-8.7z"/><path d="M449.3 731.9l4.3 8.3h-8.7z"/><path d="M487.2 730.1l4.3 8.3h-8.7z"/><path d="M455.4 767.3l4.3 8.3h-8.7z"/><path d="M464.9 748l4.3 8.3h-8.7z"/><path d="M401.9 799.7l4.3 8.3h-8.7z"/><path d="M492.9 733.5l4.3 8.3h-8.7z"/><path d="M491.7 703.7l4.3 8.3h-8.7z"/><path d="M393 778.9l4.3 8.3h-8.7z"/><path d="M339.2 819l4.3 8.3h-8.7z"/><path d="M519.7 718.9l4.3 8.3h-8.7z"/><path d="M350.8 812.5l4.3 8.3h-8.7z"/><path d="M452.2 761.5l4.3 8.3h-8.7z"/><path d="M471.7 733.4l4.3 8.3h-8.7z"/><path d="M407.3 777.7l4.3 8.3h-8.7z"/><path d="M466.6 741.2l4.3 8.3h-8.7z"/><path d="M505.4 725.4l4.3 8.3h-8.7z"/><path d="M432.2 770.8l4.3 8.3h-8.7z"/><path d="M527.6 717.2l4.3 8.3h-8.7z"/><path d="M337.9 828.7l4.3 8.3h-8.7z"/><path d="M506.9 713.1l4.3 8.3h-8.7z"/><path d="M371 801.4l4.3 8.3h-8.7z"/><path d="M435.2 772.6l4.3 8.3h-8.7z"/><path d="M462.5 740.5l4.3 8.3h-8.7z"/><path d="M461.3 763.3l4.3 8.3h-8.7z"/><path d="M456.2 745.3l4.3 8.3h-8.7z"/><path d="M503.5 729.9l4.3 8.3h-8.7z"/><path d="M379.7 795.5l4.3 8.3h-8.7z"/><path d="M476.1 740.5l4.3 8.3h-8.7z"/><path d="M408 775.4l4.3 8.3h-8.7z"/><path d="M304 842.8l4.3 8.3h-8.7z"/><path d="M459.1 734.8l4.3 8.3h-8.7z"/><path d="M527.6 723.2l4.3 8.3h-8.7z"/><path d="M461.2 743.1l4.3 8.3h-8.7z"/><path d="M487.6 739.8l4.3 8.3h-8.7z"/><path d="M345 812.3l4.3 8.3h-8.7z"/><path d="M480.5 718.1l4.3 8.3h-8.7z"/><path d="M434.5 760.9l4.3 8.3h-8.7z"/><path d="M387.9 788.1l4.3 8.3h-8.7z"/><path d="M441.8 772l4.3 8.3h-8.7z"/><path d="M342.7 814.2l4.3 8.3h-8.7z"/><path d="M436.8 776.4l4.3 8.3h-8.7z"/><path d="M478 729.8l4.3 8.3h-8.7z"/><path d="M537.3 706.1l4.3 8.3h-8.7z"/><path d="M482.6 730.5l4.3 8.3h-8.7z"/><path d="M468.8 748.4l4.3 8.3h-8.7z"/><path d="M395.6 791.5l4.3 8.3h-8.7z"/><path d="M312 859.2l4.3 8.3h-8.7z"/><path d="M353.2 812l4.3 8.3h-8.7z"/><path d="M436 728.2l4.3 8.3h-8.7z"/><path d="M392.4 779.9l4.3 8.3h-8.7z"/><path d="M456.5 740l4.3 8.3h-8.7z"/><path d="M407 792.3l4.3 8.3h-8.7z"/><path d="M410.6 768.7l4.3 8.3h-8.7z"/><path d="M435.3 756.5l4.3 8.3h-8.7z"/><path d="M491.9 719.5l4.3 8.3h-8.7z"/><path d="M479.9 802l4.3 8.3h-8.7z"/><path d="M445.6 780.7l4.3 8.3h-8.7z"/><path d="M358.2 813.2l4.3 8.3h-8.7z"/><path d="M445.4 772l4.3 8.3h-8.7z"/><path d="M513.9 706.7l4.3 8.3h-8.7z"/><path d="M442.9 747.7l4.3 8.3h-8.7z"/><path d="M427.5 764.5l4.3 8.3h-8.7z"/><path d="M501.5 705.4l4.3 8.3h-8.7z"/><path d="M469 758.5l4.3 8.3h-8.7z"/><path d="M383.9 785.7l4.3 8.3h-8.7z"/><path d="M497.7 720.9l4.3 8.3h-8.7z"/><path d="M347.8 820l4.3 8.3h-8.7z"/><path d="M349.7 811.4l4.3 8.3h-8.7z"/><path d="M385.2 790.2l4.3 8.3h-8.7z"/><path d="M442.6 765.5l4.3 8.3h-8.7z"/><path d="M357.4 810.7l4.3 8.3h-8.7z"/><path d="M407.4 787l4.3 8.3h-8.7z"/><path d="M466 723.6l4.3 8.3h-8.7z"/><path d="M262.1 863.8l4.3 8.3h-8.7z"/><path d="M388 814l4.3 8.3h-8.7z"/></g>
<line x1="126" y1="983.5" x2="622.7" y2="603.4" stroke="#1d1d1b" stroke-width="3.0"/>
<path d="M138.4 602.4v7.3M138.4 983.2v-7.3M150.8 602.4v7.3M150.8 983.2v-7.3M163.3 602.4v7.3M163.3 983.2v-7.3M175.7 602.4v7.3M175.7 983.2v-7.3M188.1 602.4v12.3M188.1 983.2v-12.3M200.5 602.4v7.3M200.5 983.2v-7.3M212.9 602.4v7.3M212.9 983.2v-7.3M225.3 602.4v7.3M225.3 983.2v-7.3M237.8 602.4v7.3M237.8 983.2v-7.3M250.2 602.4v12.3M250.2 983.2v-12.3M262.6 602.4v7.3M262.6 983.2v-7.3M275 602.4v7.3M275 983.2v-7.3M287.4 602.4v7.3M287.4 983.2v-7.3M299.8 602.4v7.3M299.8 983.2v-7.3M312.3 602.4v12.3M312.3 983.2v-12.3M324.7 602.4v7.3M324.7 983.2v-7.3M337.1 602.4v7.3M337.1 983.2v-7.3M349.5 602.4v7.3M349.5 983.2v-7.3M361.9 602.4v7.3M361.9 983.2v-7.3M374.4 602.4v12.3M374.4 983.2v-12.3M386.8 602.4v7.3M386.8 983.2v-7.3M399.2 602.4v7.3M399.2 983.2v-7.3M411.6 602.4v7.3M411.6 983.2v-7.3M424 602.4v7.3M424 983.2v-7.3M436.4 602.4v12.3M436.4 983.2v-12.3M448.9 602.4v7.3M448.9 983.2v-7.3M461.3 602.4v7.3M461.3 983.2v-7.3M473.7 602.4v7.3M473.7 983.2v-7.3M486.1 602.4v7.3M486.1 983.2v-7.3M498.5 602.4v12.3M498.5 983.2v-12.3M510.9 602.4v7.3M510.9 983.2v-7.3M523.4 602.4v7.3M523.4 983.2v-7.3M535.8 602.4v7.3M535.8 983.2v-7.3M548.2 602.4v7.3M548.2 983.2v-7.3M560.6 602.4v12.3M560.6 983.2v-12.3M573 602.4v7.3M573 983.2v-7.3M585.4 602.4v7.3M585.4 983.2v-7.3M597.9 602.4v7.3M597.9 983.2v-7.3M610.3 602.4v7.3M610.3 983.2v-7.3M126 971.8h7.3M622.7 971.8h-7.3M126 959.9h7.3M622.7 959.9h-7.3M126 948h12.3M622.7 948h-12.3M126 936.1h7.3M622.7 936.1h-7.3M126 924.2h7.3M622.7 924.2h-7.3M126 912.3h7.3M622.7 912.3h-7.3M126 900.5h7.3M622.7 900.5h-7.3M126 888.6h12.3M622.7 888.6h-12.3M126 876.7h7.3M622.7 876.7h-7.3M126 864.8h7.3M622.7 864.8h-7.3M126 852.9h7.3M622.7 852.9h-7.3M126 841h7.3M622.7 841h-7.3M126 829.2h12.3M622.7 829.2h-12.3M126 817.3h7.3M622.7 817.3h-7.3M126 805.4h7.3M622.7 805.4h-7.3M126 793.5h7.3M622.7 793.5h-7.3M126 781.6h7.3M622.7 781.6h-7.3M126 769.7h12.3M622.7 769.7h-12.3M126 757.9h7.3M622.7 757.9h-7.3M126 746h7.3M622.7 746h-7.3M126 734.1h7.3M622.7 734.1h-7.3M126 722.2h7.3M622.7 722.2h-7.3M126 710.3h12.3M622.7 710.3h-12.3M126 698.4h7.3M622.7 698.4h-7.3M126 686.6h7.3M622.7 686.6h-7.3M126 674.7h7.3M622.7 674.7h-7.3M126 662.8h7.3M622.7 662.8h-7.3M126 650.9h12.3M622.7 650.9h-12.3M126 639h7.3M622.7 639h-7.3M126 627.1h7.3M622.7 627.1h-7.3M126 615.2h7.3M622.7 615.2h-7.3M126 603.4h7.3M622.7 603.4h-7.3" stroke="#1d1d1b" stroke-width="2.3" fill="none"/>
<rect x="126" y="602.4" width="496.7" height="380.8" fill="none" stroke="#1d1d1b" stroke-width="2.3"/>
<text transform="translate(150.6 950.1) rotate(-37.3) scale(0.985 1)" font-size="29.7" fill="#1d1d1b" style="stroke:none">GMWL</text>
<text transform="translate(147.3 1025.3) scale(0.995 1)" text-anchor="end" font-size="28.9" fill="#1d1d1b">−30</text>
<text transform="translate(206.8 1025.3) scale(0.995 1)" text-anchor="end" font-size="28.9" fill="#1d1d1b">−25</text>
<text transform="translate(266.9 1025.3) scale(0.995 1)" text-anchor="end" font-size="28.9" fill="#1d1d1b">−20</text>
<text transform="translate(327.5 1025.3) scale(0.995 1)" text-anchor="end" font-size="28.9" fill="#1d1d1b">−15</text>
<text transform="translate(388.4 1025.3) scale(0.995 1)" text-anchor="end" font-size="28.9" fill="#1d1d1b">−10</text>
<text transform="translate(447.9 1025.3) scale(0.995 1)" text-anchor="end" font-size="28.9" fill="#1d1d1b">−5</text>
<text transform="translate(507.8 1025.3) scale(0.995 1)" text-anchor="end" font-size="28.9" fill="#1d1d1b">0</text>
<text transform="translate(567.8 1025.3) scale(0.995 1)" text-anchor="end" font-size="28.9" fill="#1d1d1b">5</text>
<text transform="translate(638.5 1025.3) scale(0.995 1)" text-anchor="end" font-size="28.9" fill="#1d1d1b">10</text>
<text transform="translate(117.3 661.7) scale(0.96 1)" text-anchor="end" font-size="29.7" fill="#1d1d1b">50</text>
<text transform="translate(117.3 721.1) scale(0.96 1)" text-anchor="end" font-size="29.7" fill="#1d1d1b">0</text>
<text transform="translate(117.3 780.5) scale(0.96 1)" text-anchor="end" font-size="29.7" fill="#1d1d1b">−50</text>
<text transform="translate(117.3 840) scale(0.96 1)" text-anchor="end" font-size="29.7" fill="#1d1d1b">−100</text>
<text transform="translate(117.3 899.4) scale(0.96 1)" text-anchor="end" font-size="29.7" fill="#1d1d1b">−150</text>
<text transform="translate(117.3 958.8) scale(0.96 1)" text-anchor="end" font-size="29.7" fill="#1d1d1b">−200</text>
</g>
<g class="t">
<g fill="#d0d0d0" stroke="#484848" stroke-width="0.7"><circle cx="1131.6" cy="764.7" r="4.1"/><circle cx="1021.7" cy="839.9" r="4.1"/><circle cx="1092.4" cy="794.9" r="4.1"/><circle cx="1049.6" cy="809.4" r="4.1"/><circle cx="1055.3" cy="800.9" r="4.1"/><circle cx="1009.6" cy="842.1" r="4.1"/><circle cx="1078.9" cy="796.4" r="4.1"/><circle cx="1037.3" cy="820.7" r="4.1"/><circle cx="1057.6" cy="802.7" r="4.1"/><circle cx="1001" cy="843.2" r="4.1"/><circle cx="1215.7" cy="699.1" r="4.1"/><circle cx="1083.8" cy="792.3" r="4.1"/><circle cx="1076.2" cy="795.1" r="4.1"/><circle cx="1136.2" cy="770" r="4.1"/><circle cx="1142.1" cy="748.5" r="4.1"/><circle cx="1128.4" cy="796.9" r="4.1"/><circle cx="1060.4" cy="818.3" r="4.1"/><circle cx="1114.6" cy="773.1" r="4.1"/><circle cx="1082.8" cy="821.4" r="4.1"/><circle cx="1148.2" cy="773.9" r="4.1"/><circle cx="1086.2" cy="789.7" r="4.1"/><circle cx="1201" cy="719" r="4.1"/><circle cx="1082.8" cy="806.1" r="4.1"/><circle cx="1041.8" cy="822.3" r="4.1"/><circle cx="1165.4" cy="733.7" r="4.1"/><circle cx="1014.9" cy="846.5" r="4.1"/><circle cx="1228.6" cy="691.9" r="4.1"/><circle cx="1233.2" cy="710.8" r="4.1"/><circle cx="1098" cy="771" r="4.1"/><circle cx="1076.5" cy="803.6" r="4.1"/><circle cx="1021.3" cy="856.2" r="4.1"/><circle cx="1093.2" cy="785.2" r="4.1"/><circle cx="1150.7" cy="779.5" r="4.1"/><circle cx="1048.3" cy="814.8" r="4.1"/><circle cx="1139.4" cy="764.5" r="4.1"/><circle cx="1062.7" cy="829.1" r="4.1"/><circle cx="1110.7" cy="767.5" r="4.1"/><circle cx="1157.7" cy="738.8" r="4.1"/><circle cx="1090.1" cy="782.9" r="4.1"/><circle cx="1137.3" cy="750.5" r="4.1"/><circle cx="1069.8" cy="809.6" r="4.1"/><circle cx="1115.5" cy="781.6" r="4.1"/><circle cx="1161" cy="756.6" r="4.1"/><circle cx="1188.7" cy="711" r="4.1"/><circle cx="1210.4" cy="699.1" r="4.1"/><circle cx="1055.2" cy="815.5" r="4.1"/><circle cx="1020.3" cy="826.3" r="4.1"/><circle cx="995.5" cy="860.9" r="4.1"/><circle cx="1032.1" cy="841.3" r="4.1"/><circle cx="1148" cy="744.7" r="4.1"/><circle cx="1037.3" cy="818.6" r="4.1"/><circle cx="1143" cy="747.8" r="4.1"/><circle cx="1008.5" cy="844.4" r="4.1"/><circle cx="1155.8" cy="751.9" r="4.1"/><circle cx="1081" cy="795.9" r="4.1"/><circle cx="1036.5" cy="824.5" r="4.1"/><circle cx="1124.7" cy="785.7" r="4.1"/><circle cx="1148.4" cy="779.1" r="4.1"/><circle cx="1015.6" cy="841.5" r="4.1"/><circle cx="1089.4" cy="779.7" r="4.1"/><circle cx="1027.9" cy="827.7" r="4.1"/><circle cx="1210.9" cy="697.2" r="4.1"/><circle cx="1082.3" cy="799.6" r="4.1"/><circle cx="1099.3" cy="808.9" r="4.1"/><circle cx="1126.8" cy="775.6" r="4.1"/><circle cx="1155.3" cy="745.6" r="4.1"/><circle cx="1193.3" cy="708.2" r="4.1"/><circle cx="1078.1" cy="797.5" r="4.1"/><circle cx="1089" cy="791" r="4.1"/><circle cx="1174.1" cy="737" r="4.1"/><circle cx="1141" cy="773.3" r="4.1"/><circle cx="1132.7" cy="773" r="4.1"/><circle cx="1155.5" cy="726.9" r="4.1"/><circle cx="1193.2" cy="716.2" r="4.1"/><circle cx="1009.1" cy="842.4" r="4.1"/><circle cx="1114.1" cy="764.6" r="4.1"/><circle cx="1056.9" cy="802.3" r="4.1"/><circle cx="1196" cy="758.1" r="4.1"/><circle cx="988.2" cy="858.3" r="4.1"/><circle cx="1086.5" cy="790.2" r="4.1"/><circle cx="1090.6" cy="789.3" r="4.1"/><circle cx="1008" cy="844.3" r="4.1"/><circle cx="1075.6" cy="790.9" r="4.1"/><circle cx="1079.9" cy="788.1" r="4.1"/><circle cx="1021.6" cy="829.7" r="4.1"/><circle cx="1149.3" cy="753.8" r="4.1"/><circle cx="1068" cy="801.1" r="4.1"/><circle cx="1096.2" cy="786.9" r="4.1"/><circle cx="1163.6" cy="734.5" r="4.1"/><circle cx="1177.8" cy="753.6" r="4.1"/><circle cx="1056.6" cy="810.3" r="4.1"/><circle cx="1139.8" cy="752.2" r="4.1"/><circle cx="1053.8" cy="828.5" r="4.1"/><circle cx="1211.2" cy="744.9" r="4.1"/><circle cx="1195.5" cy="753" r="4.1"/><circle cx="1097.7" cy="811.3" r="4.1"/><circle cx="1019.3" cy="838.8" r="4.1"/><circle cx="1172.9" cy="758.5" r="4.1"/><circle cx="1129" cy="758" r="4.1"/><circle cx="1154.4" cy="782.3" r="4.1"/><circle cx="1103.2" cy="773.5" r="4.1"/><circle cx="1213" cy="713.1" r="4.1"/><circle cx="1069.5" cy="788.5" r="4.1"/><circle cx="1143.1" cy="764" r="4.1"/><circle cx="1021.2" cy="840.6" r="4.1"/><circle cx="1191.8" cy="725.5" r="4.1"/><circle cx="1076.7" cy="810.7" r="4.1"/><circle cx="1031.8" cy="822.3" r="4.1"/><circle cx="1078.3" cy="788.9" r="4.1"/><circle cx="1026.4" cy="833" r="4.1"/><circle cx="1111.5" cy="771.4" r="4.1"/><circle cx="1117.1" cy="774.3" r="4.1"/><circle cx="1045.4" cy="817.9" r="4.1"/><circle cx="1018" cy="849.9" r="4.1"/><circle cx="1175.3" cy="720" r="4.1"/><circle cx="1138.4" cy="768.1" r="4.1"/><circle cx="1115.5" cy="786.5" r="4.1"/><circle cx="1204" cy="705.6" r="4.1"/><circle cx="1021.1" cy="837.1" r="4.1"/><circle cx="1110.1" cy="805.5" r="4.1"/><circle cx="1013.9" cy="853.2" r="4.1"/><circle cx="1175.3" cy="729.3" r="4.1"/><circle cx="1175.7" cy="717.4" r="4.1"/><circle cx="1084.9" cy="787.5" r="4.1"/><circle cx="1124" cy="782.5" r="4.1"/><circle cx="1150.6" cy="772.7" r="4.1"/><circle cx="1136.3" cy="765.3" r="4.1"/><circle cx="1132.9" cy="795.7" r="4.1"/><circle cx="1063.3" cy="810.3" r="4.1"/><circle cx="1147.3" cy="736.9" r="4.1"/><circle cx="1143.1" cy="756.2" r="4.1"/><circle cx="1090.5" cy="788.2" r="4.1"/><circle cx="1111.9" cy="772.9" r="4.1"/><circle cx="1078" cy="789" r="4.1"/><circle cx="1124.6" cy="770.3" r="4.1"/><circle cx="1186.2" cy="755.5" r="4.1"/><circle cx="993.7" cy="868.4" r="4.1"/><circle cx="1150.1" cy="761.8" r="4.1"/><circle cx="1146.4" cy="798.6" r="4.1"/><circle cx="1089.5" cy="808.6" r="4.1"/><circle cx="1052.3" cy="811" r="4.1"/><circle cx="1115.1" cy="762.5" r="4.1"/><circle cx="1142.4" cy="748.1" r="4.1"/><circle cx="1038.4" cy="816.8" r="4.1"/><circle cx="1109" cy="789.4" r="4.1"/><circle cx="1141.3" cy="766.6" r="4.1"/><circle cx="1059.4" cy="825.5" r="4.1"/><circle cx="1156.2" cy="739.3" r="4.1"/><circle cx="1107.2" cy="773.1" r="4.1"/><circle cx="1005" cy="853.5" r="4.1"/><circle cx="1171.7" cy="751.5" r="4.1"/><circle cx="1001.6" cy="854.3" r="4.1"/><circle cx="1156.6" cy="768.2" r="4.1"/><circle cx="1106.4" cy="773.7" r="4.1"/><circle cx="977.8" cy="867.5" r="4.1"/><circle cx="1036.2" cy="850" r="4.1"/><circle cx="1028.1" cy="837.6" r="4.1"/><circle cx="1125.2" cy="773.1" r="4.1"/><circle cx="1142.1" cy="750" r="4.1"/><circle cx="1074.1" cy="803" r="4.1"/><circle cx="1116.8" cy="766.2" r="4.1"/><circle cx="1104.5" cy="800.5" r="4.1"/><circle cx="1172.1" cy="726.4" r="4.1"/><circle cx="1041.1" cy="814.9" r="4.1"/><circle cx="1018.9" cy="836.5" r="4.1"/><circle cx="1089.7" cy="775.7" r="4.1"/><circle cx="1167.9" cy="756.5" r="4.1"/><circle cx="1061.9" cy="804.8" r="4.1"/><circle cx="1160.6" cy="766.2" r="4.1"/><circle cx="1022.7" cy="829" r="4.1"/><circle cx="1174.6" cy="728.9" r="4.1"/><circle cx="1092.6" cy="801.9" r="4.1"/><circle cx="1165.9" cy="730.1" r="4.1"/><circle cx="1099.9" cy="767.5" r="4.1"/><circle cx="1106.7" cy="767.5" r="4.1"/><circle cx="1129.7" cy="755.9" r="4.1"/><circle cx="1034.8" cy="828.9" r="4.1"/><circle cx="999.8" cy="865" r="4.1"/><circle cx="1084.3" cy="790.1" r="4.1"/><circle cx="1026" cy="829.5" r="4.1"/><circle cx="1045" cy="810.7" r="4.1"/><circle cx="1038.3" cy="814.2" r="4.1"/><circle cx="1027.4" cy="830.9" r="4.1"/><circle cx="1171.4" cy="721.7" r="4.1"/><circle cx="1123.1" cy="783.1" r="4.1"/><circle cx="1072.5" cy="797.9" r="4.1"/><circle cx="1180.3" cy="735.5" r="4.1"/><circle cx="982" cy="866.2" r="4.1"/><circle cx="1185.5" cy="753.4" r="4.1"/><circle cx="1153.7" cy="753.8" r="4.1"/><circle cx="1095.1" cy="805" r="4.1"/><circle cx="1193.5" cy="711.5" r="4.1"/><circle cx="1076.4" cy="823.1" r="4.1"/><circle cx="1035" cy="830.8" r="4.1"/><circle cx="1019.3" cy="852.1" r="4.1"/><circle cx="1144.9" cy="743.4" r="4.1"/><circle cx="1053.8" cy="829.2" r="4.1"/><circle cx="1056.5" cy="802.9" r="4.1"/><circle cx="1160.3" cy="743" r="4.1"/><circle cx="1167.3" cy="745.8" r="4.1"/><circle cx="1081.5" cy="789.4" r="4.1"/><circle cx="1076.7" cy="808.2" r="4.1"/><circle cx="1105.8" cy="773.5" r="4.1"/><circle cx="1084.9" cy="791.4" r="4.1"/><circle cx="1188.8" cy="722.2" r="4.1"/><circle cx="1103.6" cy="786.6" r="4.1"/><circle cx="1058.1" cy="833" r="4.1"/><circle cx="976.5" cy="868.2" r="4.1"/><circle cx="1198.4" cy="735.4" r="4.1"/><circle cx="1073.1" cy="798.8" r="4.1"/><circle cx="1197.7" cy="703.7" r="4.1"/><circle cx="1178.4" cy="730.9" r="4.1"/><circle cx="1078.5" cy="814.9" r="4.1"/><circle cx="1042.3" cy="818.4" r="4.1"/><circle cx="1150.6" cy="765.2" r="4.1"/><circle cx="1018.2" cy="845.5" r="4.1"/><circle cx="1012.2" cy="841.1" r="4.1"/><circle cx="992.3" cy="859.2" r="4.1"/><circle cx="1113.4" cy="786.3" r="4.1"/><circle cx="1161.4" cy="762" r="4.1"/><circle cx="1125.2" cy="758" r="4.1"/><circle cx="1201" cy="711.5" r="4.1"/><circle cx="1011.7" cy="840.6" r="4.1"/><circle cx="1150.4" cy="745.2" r="4.1"/><circle cx="1139.5" cy="750.5" r="4.1"/><circle cx="1140.7" cy="757.2" r="4.1"/><circle cx="1103.1" cy="800.1" r="4.1"/><circle cx="1037.6" cy="830" r="4.1"/><circle cx="1072.7" cy="800.5" r="4.1"/><circle cx="1043.7" cy="836.4" r="4.1"/><circle cx="1209.6" cy="691.5" r="4.1"/><circle cx="1160" cy="749.8" r="4.1"/><circle cx="1180.8" cy="731.9" r="4.1"/><circle cx="1103.1" cy="790.2" r="4.1"/><circle cx="1015.9" cy="858.6" r="4.1"/><circle cx="1146.2" cy="739.7" r="4.1"/><circle cx="1066.6" cy="808.9" r="4.1"/><circle cx="1137" cy="747.8" r="4.1"/><circle cx="1088.6" cy="778.9" r="4.1"/><circle cx="1107.1" cy="766.3" r="4.1"/><circle cx="1038.2" cy="837.2" r="4.1"/><circle cx="1177.4" cy="710.7" r="4.1"/><circle cx="1061.7" cy="805.1" r="4.1"/><circle cx="1176.3" cy="752.6" r="4.1"/><circle cx="1185.8" cy="733.7" r="4.1"/><circle cx="1105.8" cy="775.2" r="4.1"/><circle cx="1033.2" cy="848" r="4.1"/><circle cx="1086.1" cy="812" r="4.1"/><circle cx="1095.5" cy="807.9" r="4.1"/><circle cx="1065.4" cy="793.5" r="4.1"/><circle cx="1013.3" cy="840" r="4.1"/><circle cx="1206.6" cy="727.4" r="4.1"/><circle cx="1123.5" cy="788.9" r="4.1"/><circle cx="1091" cy="786.2" r="4.1"/><circle cx="1020.1" cy="858.5" r="4.1"/><circle cx="1103" cy="783.8" r="4.1"/><circle cx="1156.1" cy="742.3" r="4.1"/><circle cx="1030.6" cy="836.6" r="4.1"/><circle cx="1194.9" cy="731.7" r="4.1"/><circle cx="1044.8" cy="817.5" r="4.1"/><circle cx="1016.8" cy="841" r="4.1"/><circle cx="1141.5" cy="752" r="4.1"/><circle cx="1033.4" cy="827.5" r="4.1"/><circle cx="1184" cy="721.1" r="4.1"/><circle cx="1056.4" cy="800.2" r="4.1"/><circle cx="1008.6" cy="845.5" r="4.1"/><circle cx="1126.5" cy="778.7" r="4.1"/><circle cx="984" cy="869.6" r="4.1"/><circle cx="1022" cy="847.9" r="4.1"/><circle cx="1121" cy="779.1" r="4.1"/><circle cx="1151" cy="789.2" r="4.1"/><circle cx="1092.2" cy="798.1" r="4.1"/><circle cx="1170" cy="739.4" r="4.1"/><circle cx="1038.4" cy="836.8" r="4.1"/><circle cx="1158.4" cy="736.1" r="4.1"/><circle cx="1094.3" cy="814.9" r="4.1"/><circle cx="1168.9" cy="741.5" r="4.1"/><circle cx="1030.8" cy="842.5" r="4.1"/><circle cx="1110.8" cy="772" r="4.1"/><circle cx="1026.5" cy="830.3" r="4.1"/><circle cx="1037.4" cy="818.6" r="4.1"/><circle cx="1066" cy="825.2" r="4.1"/><circle cx="1112.2" cy="770" r="4.1"/><circle cx="1111.7" cy="774.9" r="4.1"/><circle cx="1045.4" cy="826.5" r="4.1"/><circle cx="1056.6" cy="822.6" r="4.1"/><circle cx="1213.1" cy="718" r="4.1"/><circle cx="993" cy="853.9" r="4.1"/><circle cx="1087.5" cy="783.2" r="4.1"/><circle cx="1167.6" cy="766.3" r="4.1"/><circle cx="1133.9" cy="747.1" r="4.1"/><circle cx="1111.2" cy="756.3" r="4.1"/><circle cx="1039.7" cy="823" r="4.1"/><circle cx="1050.3" cy="817.1" r="4.1"/><circle cx="1227" cy="704.2" r="4.1"/><circle cx="1113.2" cy="776.1" r="4.1"/><circle cx="1065.1" cy="801.1" r="4.1"/><circle cx="1189.4" cy="733.6" r="4.1"/><circle cx="1155.5" cy="720.9" r="4.1"/><circle cx="1150.4" cy="741.6" r="4.1"/><circle cx="1047.3" cy="834.8" r="4.1"/><circle cx="1077.9" cy="792.9" r="4.1"/><circle cx="1173.7" cy="719.1" r="4.1"/><circle cx="1065.3" cy="809.8" r="4.1"/><circle cx="1203.1" cy="701.6" r="4.1"/><circle cx="1088.5" cy="791.4" r="4.1"/><circle cx="1097.8" cy="767.3" r="4.1"/><circle cx="1147.1" cy="734.5" r="4.1"/><circle cx="1016.6" cy="834.8" r="4.1"/><circle cx="1126.8" cy="784.3" r="4.1"/><circle cx="1127.2" cy="796.4" r="4.1"/><circle cx="1030" cy="838.4" r="4.1"/><circle cx="1038.5" cy="825.2" r="4.1"/><circle cx="995.6" cy="853.4" r="4.1"/><circle cx="1065.8" cy="809.2" r="4.1"/><circle cx="1121.3" cy="781.3" r="4.1"/><circle cx="1014.1" cy="856.5" r="4.1"/><circle cx="1109.7" cy="771.4" r="4.1"/><circle cx="1029.1" cy="828.9" r="4.1"/><circle cx="1162.5" cy="740.8" r="4.1"/><circle cx="1009" cy="851.1" r="4.1"/><circle cx="973.5" cy="871.9" r="4.1"/><circle cx="1132.2" cy="787.9" r="4.1"/><circle cx="1077.4" cy="802.3" r="4.1"/><circle cx="1183.2" cy="712.2" r="4.1"/><circle cx="1087.9" cy="773" r="4.1"/><circle cx="1163.6" cy="750.6" r="4.1"/><circle cx="1097.5" cy="772.3" r="4.1"/><circle cx="1100.6" cy="803.5" r="4.1"/><circle cx="1080.4" cy="787.2" r="4.1"/><circle cx="1129.6" cy="789.1" r="4.1"/><circle cx="1000.5" cy="851" r="4.1"/><circle cx="1160.2" cy="737.6" r="4.1"/><circle cx="1139" cy="755.5" r="4.1"/><circle cx="1144" cy="770.6" r="4.1"/><circle cx="1018.3" cy="844.4" r="4.1"/><circle cx="1144.7" cy="757" r="4.1"/><circle cx="1113.5" cy="775" r="4.1"/><circle cx="1146.3" cy="763.4" r="4.1"/><circle cx="1106.3" cy="798.5" r="4.1"/><circle cx="1182.8" cy="714.7" r="4.1"/><circle cx="1160.9" cy="773.6" r="4.1"/><circle cx="1103.8" cy="779.2" r="4.1"/><circle cx="1234.6" cy="707.7" r="4.1"/><circle cx="1107.9" cy="794.8" r="4.1"/><circle cx="1076.3" cy="794.3" r="4.1"/><circle cx="1174.2" cy="723.2" r="4.1"/><circle cx="1037.9" cy="828.9" r="4.1"/><circle cx="1140.1" cy="759.2" r="4.1"/><circle cx="1109.1" cy="810.2" r="4.1"/><circle cx="1214.3" cy="701.3" r="4.1"/><circle cx="995.7" cy="858.3" r="4.1"/><circle cx="1055.2" cy="811.4" r="4.1"/><circle cx="1195" cy="735.1" r="4.1"/><circle cx="1117.5" cy="799.9" r="4.1"/><circle cx="1044.6" cy="820.9" r="4.1"/><circle cx="1136.5" cy="761.2" r="4.1"/><circle cx="1099.7" cy="778.2" r="4.1"/><circle cx="1111.8" cy="784.4" r="4.1"/><circle cx="1037.4" cy="838.2" r="4.1"/><circle cx="995.7" cy="856.1" r="4.1"/><circle cx="1177.1" cy="731.1" r="4.1"/><circle cx="1127.9" cy="775.6" r="4.1"/><circle cx="1208.4" cy="719.3" r="4.1"/><circle cx="1102" cy="776.7" r="4.1"/><circle cx="1059.4" cy="804" r="4.1"/><circle cx="1009.4" cy="850.1" r="4.1"/><circle cx="1113.1" cy="758.4" r="4.1"/><circle cx="1156.5" cy="753" r="4.1"/><circle cx="1191.7" cy="708.2" r="4.1"/><circle cx="1077.2" cy="801.2" r="4.1"/><circle cx="1053.1" cy="826.9" r="4.1"/><circle cx="1047.3" cy="826.1" r="4.1"/><circle cx="1191.1" cy="736.2" r="4.1"/><circle cx="1130.2" cy="748.4" r="4.1"/><circle cx="1114.1" cy="769.4" r="4.1"/><circle cx="1197.2" cy="729.8" r="4.1"/><circle cx="1146.3" cy="751.2" r="4.1"/><circle cx="1103.8" cy="791.5" r="4.1"/><circle cx="1151" cy="762.1" r="4.1"/><circle cx="1132.6" cy="771" r="4.1"/><circle cx="1140.8" cy="779" r="4.1"/><circle cx="1072.2" cy="807.7" r="4.1"/><circle cx="1128.2" cy="752.8" r="4.1"/><circle cx="1038.9" cy="822.5" r="4.1"/><circle cx="996.3" cy="864.5" r="4.1"/><circle cx="1093.7" cy="776.8" r="4.1"/><circle cx="1142.6" cy="758.7" r="4.1"/><circle cx="1043.3" cy="821" r="4.1"/><circle cx="1179" cy="714" r="4.1"/><circle cx="1097.6" cy="775.7" r="4.1"/><circle cx="1129.3" cy="787.7" r="4.1"/><circle cx="1171" cy="730.7" r="4.1"/><circle cx="1162.7" cy="772" r="4.1"/><circle cx="1136.3" cy="783.4" r="4.1"/><circle cx="1059.7" cy="802" r="4.1"/><circle cx="1033.7" cy="843.1" r="4.1"/><circle cx="1106.7" cy="761.1" r="4.1"/><circle cx="1117.9" cy="783.1" r="4.1"/><circle cx="1120" cy="768.6" r="4.1"/><circle cx="1090" cy="784.1" r="4.1"/><circle cx="1035.2" cy="828.7" r="4.1"/><circle cx="1192.5" cy="713.1" r="4.1"/><circle cx="1130.5" cy="750" r="4.1"/><circle cx="1132.7" cy="779.1" r="4.1"/><circle cx="996.9" cy="852.3" r="4.1"/><circle cx="1106.8" cy="774.3" r="4.1"/><circle cx="1109.3" cy="768" r="4.1"/><circle cx="1012.8" cy="840.6" r="4.1"/><circle cx="1049.4" cy="821.8" r="4.1"/><circle cx="1037.3" cy="821.9" r="4.1"/><circle cx="1121.3" cy="788.4" r="4.1"/><circle cx="1174.5" cy="740" r="4.1"/><circle cx="1115.8" cy="778.1" r="4.1"/><circle cx="1072.6" cy="811.7" r="4.1"/><circle cx="1174.5" cy="747.4" r="4.1"/><circle cx="1111.5" cy="791" r="4.1"/><circle cx="1163.7" cy="738.4" r="4.1"/><circle cx="1116.6" cy="790.7" r="4.1"/><circle cx="1036.5" cy="832.7" r="4.1"/><circle cx="1087.5" cy="796.7" r="4.1"/><circle cx="1058" cy="802.9" r="4.1"/><circle cx="1056.2" cy="806.3" r="4.1"/><circle cx="1009.2" cy="847" r="4.1"/><circle cx="1149.7" cy="740.7" r="4.1"/><circle cx="1105.2" cy="808.2" r="4.1"/><circle cx="1075.1" cy="806" r="4.1"/><circle cx="1148.7" cy="731.5" r="4.1"/><circle cx="1096.9" cy="797.1" r="4.1"/><circle cx="1010.1" cy="836" r="4.1"/><circle cx="1163.5" cy="755.4" r="4.1"/><circle cx="1153.5" cy="753.1" r="4.1"/><circle cx="1103.3" cy="788.8" r="4.1"/><circle cx="1121.3" cy="765.8" r="4.1"/><circle cx="1103.5" cy="765.5" r="4.1"/><circle cx="1056.2" cy="822.4" r="4.1"/><circle cx="1005.3" cy="837" r="4.1"/><circle cx="1126.5" cy="777.4" r="4.1"/><circle cx="1059.3" cy="811.1" r="4.1"/><circle cx="1142.7" cy="750.3" r="4.1"/><circle cx="1057.1" cy="812.9" r="4.1"/><circle cx="1080.1" cy="786.4" r="4.1"/><circle cx="1181.1" cy="722" r="4.1"/><circle cx="1018.3" cy="837.8" r="4.1"/><circle cx="1063.5" cy="807.4" r="4.1"/><circle cx="1134.1" cy="773" r="4.1"/><circle cx="1079.1" cy="779.4" r="4.1"/><circle cx="1174.7" cy="714.8" r="4.1"/><circle cx="1021.6" cy="835.4" r="4.1"/><circle cx="979.4" cy="872.8" r="4.1"/><circle cx="1161.2" cy="732.9" r="4.1"/><circle cx="1036.5" cy="822.9" r="4.1"/><circle cx="1059.3" cy="808.2" r="4.1"/><circle cx="1045.9" cy="826.2" r="4.1"/><circle cx="1086.8" cy="780.8" r="4.1"/><circle cx="1188.6" cy="703.9" r="4.1"/><circle cx="1096.3" cy="777" r="4.1"/><circle cx="1150.6" cy="746" r="4.1"/><circle cx="1035.1" cy="834.7" r="4.1"/><circle cx="1105.4" cy="781.4" r="4.1"/><circle cx="1049.5" cy="812.7" r="4.1"/><circle cx="1050.4" cy="831.4" r="4.1"/><circle cx="1054.6" cy="811.3" r="4.1"/><circle cx="1080.4" cy="794.1" r="4.1"/><circle cx="1141" cy="783.4" r="4.1"/><circle cx="1016.5" cy="836.9" r="4.1"/><circle cx="1057.2" cy="808.7" r="4.1"/><circle cx="1219.7" cy="713.6" r="4.1"/><circle cx="1072.6" cy="815.2" r="4.1"/><circle cx="985.1" cy="864.4" r="4.1"/><circle cx="1174.4" cy="735.3" r="4.1"/><circle cx="968.8" cy="881.6" r="4.1"/><circle cx="1077.2" cy="821.6" r="4.1"/><circle cx="1136.5" cy="776" r="4.1"/><circle cx="1189.6" cy="732.8" r="4.1"/><circle cx="1177.3" cy="726.7" r="4.1"/><circle cx="1190.3" cy="737.2" r="4.1"/><circle cx="1122.4" cy="759.5" r="4.1"/><circle cx="1208.2" cy="713.4" r="4.1"/><circle cx="1043.9" cy="821.5" r="4.1"/><circle cx="1073.8" cy="800.7" r="4.1"/><circle cx="1131.4" cy="775.6" r="4.1"/><circle cx="1124.6" cy="793.6" r="4.1"/><circle cx="1160.9" cy="750.8" r="4.1"/><circle cx="1018.9" cy="847.1" r="4.1"/><circle cx="1066.3" cy="824.2" r="4.1"/><circle cx="1122.4" cy="766.9" r="4.1"/><circle cx="1017.1" cy="852.9" r="4.1"/><circle cx="1097.1" cy="804.4" r="4.1"/><circle cx="1184.8" cy="720.1" r="4.1"/><circle cx="993.2" cy="873.1" r="4.1"/><circle cx="1173.7" cy="745" r="4.1"/><circle cx="1144.5" cy="762" r="4.1"/><circle cx="1085.6" cy="811" r="4.1"/><circle cx="1047.1" cy="810.1" r="4.1"/><circle cx="1160.7" cy="746.7" r="4.1"/><circle cx="1071.5" cy="807.6" r="4.1"/><circle cx="1121.3" cy="788.9" r="4.1"/><circle cx="1021.8" cy="838" r="4.1"/><circle cx="1141.5" cy="775.3" r="4.1"/><circle cx="1196.7" cy="734" r="4.1"/><circle cx="1189.2" cy="731.2" r="4.1"/><circle cx="1218.8" cy="714.8" r="4.1"/><circle cx="1013.3" cy="844.8" r="4.1"/><circle cx="1162.4" cy="747.9" r="4.1"/><circle cx="1051.2" cy="817.4" r="4.1"/><circle cx="1025.2" cy="837.9" r="4.1"/><circle cx="1163.8" cy="751.6" r="4.1"/><circle cx="1188.8" cy="714.7" r="4.1"/><circle cx="1008.6" cy="851.9" r="4.1"/><circle cx="1049.1" cy="817" r="4.1"/><circle cx="1092.1" cy="778.5" r="4.1"/><circle cx="1172" cy="736.9" r="4.1"/><circle cx="1094.2" cy="797.8" r="4.1"/><circle cx="1002.1" cy="847.4" r="4.1"/><circle cx="1141.2" cy="756.2" r="4.1"/><circle cx="1203.3" cy="721" r="4.1"/><circle cx="1036.3" cy="824.6" r="4.1"/><circle cx="1158.8" cy="763.1" r="4.1"/><circle cx="1208.9" cy="746.5" r="4.1"/><circle cx="1085.1" cy="792.7" r="4.1"/><circle cx="1164.8" cy="761.5" r="4.1"/><circle cx="1122.2" cy="775.2" r="4.1"/><circle cx="1219" cy="722.2" r="4.1"/><circle cx="1129.6" cy="782.2" r="4.1"/><circle cx="1063.3" cy="806.9" r="4.1"/><circle cx="1136.2" cy="773.6" r="4.1"/><circle cx="1073.5" cy="802.3" r="4.1"/><circle cx="1070.5" cy="795.9" r="4.1"/><circle cx="968.6" cy="879.3" r="4.1"/><circle cx="1003.7" cy="852.3" r="4.1"/><circle cx="1039.1" cy="815.9" r="4.1"/><circle cx="1133" cy="749.4" r="4.1"/><circle cx="1108.5" cy="780.4" r="4.1"/><circle cx="1081.4" cy="797.4" r="4.1"/><circle cx="1120" cy="751.1" r="4.1"/><circle cx="1073.2" cy="815.7" r="4.1"/><circle cx="1070.9" cy="805" r="4.1"/><circle cx="1125" cy="780.3" r="4.1"/><circle cx="1141.9" cy="772.4" r="4.1"/><circle cx="1141" cy="767.1" r="4.1"/><circle cx="1113" cy="774.9" r="4.1"/><circle cx="1216.1" cy="698.5" r="4.1"/><circle cx="1229.8" cy="719" r="4.1"/><circle cx="1198" cy="697.5" r="4.1"/><circle cx="1053.4" cy="837" r="4.1"/><circle cx="1145.9" cy="765.4" r="4.1"/><circle cx="1020" cy="843.3" r="4.1"/><circle cx="1237.6" cy="701" r="4.1"/><circle cx="1109" cy="794.7" r="4.1"/><circle cx="1010" cy="850.6" r="4.1"/><circle cx="1024" cy="837.3" r="4.1"/><circle cx="1124.7" cy="775.7" r="4.1"/><circle cx="1130.8" cy="752.1" r="4.1"/><circle cx="1065.7" cy="823.5" r="4.1"/><circle cx="1097.4" cy="775" r="4.1"/><circle cx="1157.4" cy="738.4" r="4.1"/><circle cx="1154.5" cy="742.3" r="4.1"/><circle cx="1148.4" cy="752.8" r="4.1"/><circle cx="1074.5" cy="798.2" r="4.1"/><circle cx="1077.5" cy="804.7" r="4.1"/><circle cx="1138.9" cy="743.4" r="4.1"/><circle cx="1018.9" cy="848.8" r="4.1"/><circle cx="1131.9" cy="779.2" r="4.1"/><circle cx="1136.4" cy="762.9" r="4.1"/><circle cx="1139.8" cy="741.8" r="4.1"/><circle cx="1050.9" cy="806.6" r="4.1"/><circle cx="1073.5" cy="809.7" r="4.1"/><circle cx="1044.5" cy="832.1" r="4.1"/><circle cx="1088.6" cy="792.8" r="4.1"/><circle cx="1120.6" cy="770.5" r="4.1"/><circle cx="1093.1" cy="783.2" r="4.1"/><circle cx="1186.6" cy="716.7" r="4.1"/><circle cx="1126.1" cy="759.3" r="4.1"/><circle cx="1153.7" cy="778.3" r="4.1"/><circle cx="1213" cy="709.5" r="4.1"/><circle cx="1154" cy="730.7" r="4.1"/><circle cx="1049.2" cy="824.1" r="4.1"/><circle cx="1071.5" cy="794.7" r="4.1"/><circle cx="1002.1" cy="847.6" r="4.1"/><circle cx="1090" cy="789.3" r="4.1"/><circle cx="1079" cy="792.4" r="4.1"/><circle cx="1071" cy="804.3" r="4.1"/><circle cx="1076.1" cy="787.7" r="4.1"/><circle cx="1045.7" cy="820" r="4.1"/><circle cx="1154" cy="776.2" r="4.1"/><circle cx="1083.7" cy="799.5" r="4.1"/><circle cx="979.5" cy="868.2" r="4.1"/><circle cx="1092.3" cy="786.6" r="4.1"/><circle cx="1076" cy="808.3" r="4.1"/><circle cx="1038.7" cy="829.6" r="4.1"/><circle cx="1137.1" cy="768.1" r="4.1"/><circle cx="1078.5" cy="802.2" r="4.1"/><circle cx="1159.9" cy="759.8" r="4.1"/><circle cx="1120.4" cy="773.3" r="4.1"/><circle cx="1209.5" cy="719.2" r="4.1"/><circle cx="1069.6" cy="810" r="4.1"/><circle cx="995" cy="853.5" r="4.1"/><circle cx="1039.8" cy="827" r="4.1"/><circle cx="1148" cy="767.4" r="4.1"/><circle cx="1048.5" cy="817.7" r="4.1"/><circle cx="1121.1" cy="770.3" r="4.1"/><circle cx="1019.7" cy="828.5" r="4.1"/><circle cx="1169.7" cy="741.7" r="4.1"/><circle cx="1088.8" cy="793" r="4.1"/><circle cx="1063.6" cy="809.8" r="4.1"/><circle cx="1177.8" cy="735.3" r="4.1"/><circle cx="1136.9" cy="757.6" r="4.1"/><circle cx="1123.1" cy="751.9" r="4.1"/><circle cx="1184.7" cy="758.5" r="4.1"/><circle cx="1155.8" cy="763.6" r="4.1"/><circle cx="978.2" cy="875.4" r="4.1"/><circle cx="1183.6" cy="710.1" r="4.1"/><circle cx="1051.1" cy="815.1" r="4.1"/><circle cx="1140.5" cy="761.5" r="4.1"/><circle cx="1059.3" cy="796.5" r="4.1"/><circle cx="1056" cy="811.6" r="4.1"/><circle cx="1082.9" cy="791.5" r="4.1"/><circle cx="970.7" cy="863.5" r="4.1"/><circle cx="1171.1" cy="732.4" r="4.1"/><circle cx="1054.7" cy="800.1" r="4.1"/><circle cx="1120.3" cy="757.5" r="4.1"/><circle cx="1032.4" cy="825.3" r="4.1"/><circle cx="1024.5" cy="829.1" r="4.1"/><circle cx="982" cy="863.3" r="4.1"/><circle cx="1094.4" cy="782.8" r="4.1"/><circle cx="1081" cy="813.7" r="4.1"/><circle cx="1151.1" cy="750.7" r="4.1"/><circle cx="1079" cy="795.9" r="4.1"/><circle cx="1092.4" cy="797.8" r="4.1"/><circle cx="1113.3" cy="772.5" r="4.1"/><circle cx="1033" cy="825.4" r="4.1"/><circle cx="1074.7" cy="807.9" r="4.1"/><circle cx="1165.2" cy="727.3" r="4.1"/><circle cx="1227.7" cy="725.6" r="4.1"/><circle cx="1097.6" cy="799.7" r="4.1"/><circle cx="1055.1" cy="823.9" r="4.1"/><circle cx="1167.2" cy="726.7" r="4.1"/><circle cx="1107" cy="765.2" r="4.1"/><circle cx="999" cy="855.7" r="4.1"/><circle cx="1030.4" cy="840.8" r="4.1"/><circle cx="1115.6" cy="776.1" r="4.1"/><circle cx="1020.9" cy="835.2" r="4.1"/><circle cx="1110.8" cy="776.1" r="4.1"/><circle cx="1211.2" cy="696.2" r="4.1"/><circle cx="1109.5" cy="794.5" r="4.1"/><circle cx="1094.1" cy="781.4" r="4.1"/><circle cx="1163.3" cy="729.2" r="4.1"/><circle cx="1106.3" cy="789.6" r="4.1"/><circle cx="1173.7" cy="727" r="4.1"/><circle cx="988.4" cy="862.1" r="4.1"/><circle cx="1172.4" cy="761.3" r="4.1"/><circle cx="1034.9" cy="827.1" r="4.1"/><circle cx="1043.3" cy="817.8" r="4.1"/><circle cx="1109.5" cy="773.5" r="4.1"/><circle cx="1127.3" cy="786.1" r="4.1"/><circle cx="1040.1" cy="833.4" r="4.1"/><circle cx="1158.4" cy="727.9" r="4.1"/><circle cx="1096" cy="782.6" r="4.1"/><circle cx="1151.3" cy="736.2" r="4.1"/><circle cx="1076" cy="807" r="4.1"/><circle cx="1069.1" cy="798.6" r="4.1"/><circle cx="1114" cy="772.9" r="4.1"/><circle cx="1138.4" cy="786.7" r="4.1"/><circle cx="1141.6" cy="749.6" r="4.1"/><circle cx="1070.7" cy="798.3" r="4.1"/><circle cx="1119.6" cy="772.2" r="4.1"/><circle cx="1060" cy="813.9" r="4.1"/><circle cx="1135.2" cy="754.7" r="4.1"/><circle cx="1082.8" cy="815.3" r="4.1"/><circle cx="1197.1" cy="721.4" r="4.1"/><circle cx="1147.2" cy="776.1" r="4.1"/><circle cx="1009.9" cy="844.9" r="4.1"/><circle cx="1115.2" cy="774.8" r="4.1"/><circle cx="1081" cy="801.2" r="4.1"/><circle cx="1070.1" cy="801.8" r="4.1"/><circle cx="1049.6" cy="821.2" r="4.1"/><circle cx="1131.6" cy="750.4" r="4.1"/><circle cx="1167.4" cy="741.1" r="4.1"/><circle cx="1090.6" cy="795.5" r="4.1"/><circle cx="1098.9" cy="792.7" r="4.1"/><circle cx="1070" cy="807.3" r="4.1"/><circle cx="1158.4" cy="775" r="4.1"/><circle cx="1236.8" cy="722.9" r="4.1"/><circle cx="1098.2" cy="785.4" r="4.1"/><circle cx="1093.2" cy="798.7" r="4.1"/><circle cx="1031.8" cy="828.5" r="4.1"/><circle cx="1060.8" cy="804.2" r="4.1"/><circle cx="1088" cy="786.2" r="4.1"/><circle cx="1080" cy="806" r="4.1"/><circle cx="1033.5" cy="839.3" r="4.1"/><circle cx="1068" cy="794.6" r="4.1"/><circle cx="1005.1" cy="845.5" r="4.1"/><circle cx="1061.6" cy="816.5" r="4.1"/><circle cx="1132.2" cy="764.3" r="4.1"/><circle cx="1181.7" cy="724.8" r="4.1"/><circle cx="1051.1" cy="835.7" r="4.1"/><circle cx="1127.3" cy="762.2" r="4.1"/><circle cx="1043.5" cy="807" r="4.1"/><circle cx="1201.9" cy="701.7" r="4.1"/><circle cx="1041" cy="815.2" r="4.1"/><circle cx="997.9" cy="848.7" r="4.1"/><circle cx="1205.3" cy="735.3" r="4.1"/><circle cx="1073.8" cy="799.6" r="4.1"/><circle cx="1043.1" cy="834.3" r="4.1"/><circle cx="1091.7" cy="779.4" r="4.1"/><circle cx="1173.3" cy="741.4" r="4.1"/><circle cx="1078.4" cy="805.6" r="4.1"/><circle cx="1096.9" cy="799.3" r="4.1"/><circle cx="1127.8" cy="781.8" r="4.1"/><circle cx="990.5" cy="854.2" r="4.1"/><circle cx="1187.6" cy="739" r="4.1"/><circle cx="1127.9" cy="787.3" r="4.1"/><circle cx="1126.5" cy="758" r="4.1"/><circle cx="1072.3" cy="793.9" r="4.1"/><circle cx="1222.8" cy="699" r="4.1"/><circle cx="1014.1" cy="842.6" r="4.1"/><circle cx="972.2" cy="873.7" r="4.1"/><circle cx="1120.5" cy="784.6" r="4.1"/><circle cx="1131.3" cy="765.7" r="4.1"/><circle cx="1036" cy="830.5" r="4.1"/><circle cx="1164.6" cy="731.1" r="4.1"/><circle cx="1086.2" cy="796.8" r="4.1"/><circle cx="1074.5" cy="817.4" r="4.1"/><circle cx="1148.1" cy="732.9" r="4.1"/><circle cx="1085.4" cy="793.3" r="4.1"/><circle cx="1032.4" cy="821.6" r="4.1"/><circle cx="1086.2" cy="804.3" r="4.1"/><circle cx="996.1" cy="861.2" r="4.1"/><circle cx="1061" cy="804" r="4.1"/><circle cx="1117.9" cy="793.2" r="4.1"/><circle cx="1006.9" cy="846.3" r="4.1"/><circle cx="1085.8" cy="800.2" r="4.1"/><circle cx="1092.2" cy="790.3" r="4.1"/><circle cx="1001.6" cy="852" r="4.1"/><circle cx="1050.9" cy="813.7" r="4.1"/><circle cx="998.1" cy="843.8" r="4.1"/><circle cx="1105.7" cy="783.4" r="4.1"/><circle cx="1119.1" cy="763.5" r="4.1"/><circle cx="968.5" cy="877.5" r="4.1"/><circle cx="1111.7" cy="786.8" r="4.1"/><circle cx="1176" cy="762" r="4.1"/><circle cx="992.8" cy="860.7" r="4.1"/><circle cx="1115.7" cy="768.6" r="4.1"/><circle cx="1070.8" cy="826.7" r="4.1"/><circle cx="1040.4" cy="831.3" r="4.1"/><circle cx="1166.8" cy="732.9" r="4.1"/><circle cx="1055.6" cy="816.9" r="4.1"/><circle cx="1169.2" cy="742.7" r="4.1"/><circle cx="1180.7" cy="717.5" r="4.1"/><circle cx="1044" cy="815" r="4.1"/><circle cx="1171.3" cy="737.9" r="4.1"/><circle cx="1177.9" cy="738.3" r="4.1"/><circle cx="967.7" cy="874.6" r="4.1"/><circle cx="1182.7" cy="753.7" r="4.1"/><circle cx="1126.5" cy="774.1" r="4.1"/><circle cx="969" cy="874.1" r="4.1"/><circle cx="1105.3" cy="768.8" r="4.1"/><circle cx="1167" cy="741.2" r="4.1"/><circle cx="1165.3" cy="732.2" r="4.1"/><circle cx="1177.8" cy="741.2" r="4.1"/><circle cx="1106.4" cy="779.1" r="4.1"/><circle cx="1019.6" cy="846.5" r="4.1"/><circle cx="1072.7" cy="807" r="4.1"/><circle cx="1055.1" cy="837.8" r="4.1"/><circle cx="1126.1" cy="773" r="4.1"/><circle cx="1060.1" cy="804.3" r="4.1"/><circle cx="1112.4" cy="773" r="4.1"/><circle cx="1054.6" cy="817.6" r="4.1"/><circle cx="1100.2" cy="776.4" r="4.1"/><circle cx="1119.9" cy="761.6" r="4.1"/><circle cx="1156" cy="732.5" r="4.1"/><circle cx="1002.2" cy="857.5" r="4.1"/><circle cx="1095.6" cy="783.2" r="4.1"/><circle cx="1069" cy="797" r="4.1"/><circle cx="1119.8" cy="806.5" r="4.1"/><circle cx="1146.8" cy="761.4" r="4.1"/><circle cx="1130.2" cy="797.6" r="4.1"/><circle cx="1034.6" cy="834.5" r="4.1"/><circle cx="1032.4" cy="824" r="4.1"/><circle cx="1165.8" cy="734.9" r="4.1"/><circle cx="1053.4" cy="823.8" r="4.1"/><circle cx="1137.3" cy="740.3" r="4.1"/><circle cx="990.1" cy="862.3" r="4.1"/><circle cx="1118.3" cy="775.2" r="4.1"/><circle cx="1050.2" cy="819.7" r="4.1"/><circle cx="1132.2" cy="767.1" r="4.1"/><circle cx="1008" cy="847.8" r="4.1"/><circle cx="1180.1" cy="738.5" r="4.1"/><circle cx="1131.2" cy="754.3" r="4.1"/><circle cx="1119.2" cy="789.3" r="4.1"/><circle cx="1091.6" cy="787.4" r="4.1"/><circle cx="1162" cy="731.8" r="4.1"/><circle cx="1083" cy="808.9" r="4.1"/><circle cx="1117.2" cy="761.2" r="4.1"/><circle cx="1082.9" cy="811.6" r="4.1"/><circle cx="984.9" cy="858.2" r="4.1"/><circle cx="1099.4" cy="784.1" r="4.1"/><circle cx="1153.9" cy="761.5" r="4.1"/><circle cx="1121" cy="774.3" r="4.1"/><circle cx="1025.5" cy="833.7" r="4.1"/><circle cx="1001.4" cy="860.3" r="4.1"/><circle cx="1030.2" cy="831.2" r="4.1"/><circle cx="1119.3" cy="764.6" r="4.1"/><circle cx="1061.7" cy="821.8" r="4.1"/><circle cx="1044.9" cy="844.9" r="4.1"/><circle cx="1172.4" cy="754" r="4.1"/><circle cx="982.2" cy="856.2" r="4.1"/><circle cx="1155.9" cy="761.9" r="4.1"/><circle cx="1066.3" cy="807.1" r="4.1"/><circle cx="1159.8" cy="728.7" r="4.1"/><circle cx="1056.7" cy="805.4" r="4.1"/><circle cx="1103.5" cy="798.7" r="4.1"/><circle cx="1031.6" cy="835.2" r="4.1"/><circle cx="1055.3" cy="798.2" r="4.1"/><circle cx="1119.4" cy="794.2" r="4.1"/><circle cx="1139" cy="752.7" r="4.1"/><circle cx="1039.7" cy="832.3" r="4.1"/><circle cx="1125.2" cy="794.9" r="4.1"/><circle cx="1223.5" cy="710.5" r="4.1"/><circle cx="1126" cy="753.3" r="4.1"/><circle cx="1055.2" cy="813.5" r="4.1"/><circle cx="1133.3" cy="774.2" r="4.1"/><circle cx="1124.5" cy="765.6" r="4.1"/><circle cx="1138.8" cy="764" r="4.1"/><circle cx="1171.8" cy="756.8" r="4.1"/><circle cx="1190.6" cy="731.3" r="4.1"/><circle cx="1032.7" cy="838" r="4.1"/><circle cx="1043" cy="824.4" r="4.1"/><circle cx="1025.5" cy="832.7" r="4.1"/><circle cx="1248.3" cy="717.4" r="4.1"/><circle cx="1218.5" cy="749.8" r="4.1"/><circle cx="1139.5" cy="782.2" r="4.1"/><circle cx="1126.2" cy="758.8" r="4.1"/><circle cx="1039.2" cy="845.9" r="4.1"/><circle cx="1064.6" cy="831.2" r="4.1"/><circle cx="1025.2" cy="833" r="4.1"/><circle cx="1077.6" cy="813" r="4.1"/><circle cx="1019.4" cy="846.2" r="4.1"/><circle cx="980.5" cy="878.7" r="4.1"/><circle cx="1014" cy="836.9" r="4.1"/><circle cx="1087.8" cy="812" r="4.1"/><circle cx="1031.7" cy="839.8" r="4.1"/><circle cx="1011.1" cy="853.8" r="4.1"/><circle cx="1140.7" cy="755.8" r="4.1"/><circle cx="1141.3" cy="741.4" r="4.1"/><circle cx="1200.9" cy="707.7" r="4.1"/><circle cx="1162.6" cy="748.2" r="4.1"/><circle cx="1203.4" cy="696.9" r="4.1"/><circle cx="1135.2" cy="764.7" r="4.1"/><circle cx="1111.3" cy="777" r="4.1"/><circle cx="1084.3" cy="779.7" r="4.1"/><circle cx="1071.6" cy="825.8" r="4.1"/><circle cx="987.4" cy="865.2" r="4.1"/><circle cx="1127.5" cy="750.2" r="4.1"/><circle cx="1077.3" cy="785.6" r="4.1"/><circle cx="1147.1" cy="740.1" r="4.1"/><circle cx="1194.8" cy="722.3" r="4.1"/><circle cx="1155.3" cy="769.2" r="4.1"/><circle cx="1093.5" cy="777.3" r="4.1"/><circle cx="1110.1" cy="795.8" r="4.1"/><circle cx="1179" cy="733.9" r="4.1"/><circle cx="1049.4" cy="813.3" r="4.1"/><circle cx="1115.9" cy="774.9" r="4.1"/><circle cx="1119.6" cy="771.6" r="4.1"/><circle cx="1118.3" cy="782.1" r="4.1"/><circle cx="1053.1" cy="831.1" r="4.1"/><circle cx="1098.7" cy="770" r="4.1"/><circle cx="1101.1" cy="781.2" r="4.1"/><circle cx="1156.7" cy="750.6" r="4.1"/><circle cx="1204.2" cy="708.8" r="4.1"/><circle cx="1011.8" cy="844.7" r="4.1"/><circle cx="1153.3" cy="749.8" r="4.1"/><circle cx="1100.6" cy="770.7" r="4.1"/><circle cx="1121.1" cy="771.7" r="4.1"/><circle cx="1110.9" cy="799.1" r="4.1"/><circle cx="1155.7" cy="752.1" r="4.1"/><circle cx="1084.3" cy="798.8" r="4.1"/><circle cx="1084.8" cy="795.4" r="4.1"/><circle cx="1110.1" cy="776" r="4.1"/><circle cx="1211" cy="704.3" r="4.1"/><circle cx="1083.1" cy="792" r="4.1"/><circle cx="1083.1" cy="796.7" r="4.1"/><circle cx="1095.4" cy="788.2" r="4.1"/><circle cx="1238.8" cy="703.2" r="4.1"/><circle cx="1033" cy="840.6" r="4.1"/><circle cx="1126.3" cy="785.1" r="4.1"/><circle cx="1123.2" cy="809" r="4.1"/><circle cx="1181.2" cy="700" r="4.1"/><circle cx="1075.5" cy="794.5" r="4.1"/><circle cx="1118.2" cy="783.1" r="4.1"/><circle cx="1045.9" cy="823.7" r="4.1"/><circle cx="1081.4" cy="793.4" r="4.1"/><circle cx="1008.7" cy="852.5" r="4.1"/><circle cx="1054.8" cy="807.3" r="4.1"/><circle cx="1084.9" cy="790.7" r="4.1"/><circle cx="1054.8" cy="808.1" r="4.1"/><circle cx="1083.4" cy="809" r="4.1"/><circle cx="1062.5" cy="830" r="4.1"/><circle cx="1064.1" cy="825.9" r="4.1"/><circle cx="1073.6" cy="814.7" r="4.1"/><circle cx="1131.9" cy="766.9" r="4.1"/><circle cx="1117.3" cy="795.2" r="4.1"/><circle cx="1217.1" cy="734.5" r="4.1"/><circle cx="1031.7" cy="836.6" r="4.1"/><circle cx="1160.1" cy="756.2" r="4.1"/><circle cx="1013.2" cy="837.2" r="4.1"/><circle cx="1042.5" cy="824.5" r="4.1"/><circle cx="984.6" cy="861.6" r="4.1"/><circle cx="1099.5" cy="782.8" r="4.1"/><circle cx="987.6" cy="852.8" r="4.1"/><circle cx="1005" cy="840" r="4.1"/><circle cx="1121.9" cy="766.7" r="4.1"/><circle cx="1138.7" cy="740" r="4.1"/><circle cx="1026.6" cy="842.2" r="4.1"/><circle cx="1117.8" cy="756.2" r="4.1"/><circle cx="1088.2" cy="806.9" r="4.1"/><circle cx="1176.4" cy="712.1" r="4.1"/><circle cx="1114" cy="782.8" r="4.1"/><circle cx="1113.2" cy="768.6" r="4.1"/><circle cx="1227.5" cy="700.6" r="4.1"/><circle cx="1058.4" cy="814" r="4.1"/><circle cx="1098.3" cy="810.6" r="4.1"/><circle cx="1150.3" cy="751.6" r="4.1"/><circle cx="1149.8" cy="750.3" r="4.1"/><circle cx="996.4" cy="853.4" r="4.1"/><circle cx="983.4" cy="866.1" r="4.1"/><circle cx="1061.7" cy="825.8" r="4.1"/><circle cx="1217" cy="694.3" r="4.1"/><circle cx="1008.9" cy="844.2" r="4.1"/><circle cx="989.5" cy="857.6" r="4.1"/><circle cx="1192.4" cy="734.6" r="4.1"/><circle cx="1038.9" cy="845.5" r="4.1"/><circle cx="1053.8" cy="804.8" r="4.1"/><circle cx="1165.3" cy="746.2" r="4.1"/><circle cx="1082.3" cy="798.9" r="4.1"/><circle cx="999.7" cy="864" r="4.1"/><circle cx="1080.5" cy="809.3" r="4.1"/><circle cx="1151.4" cy="765.8" r="4.1"/><circle cx="1035.8" cy="839.3" r="4.1"/><circle cx="1054" cy="811.4" r="4.1"/><circle cx="1068.3" cy="815.2" r="4.1"/><circle cx="989.6" cy="849.9" r="4.1"/><circle cx="1128.6" cy="758.6" r="4.1"/><circle cx="1016.3" cy="839.1" r="4.1"/><circle cx="1043.8" cy="834.6" r="4.1"/><circle cx="1090.5" cy="791.5" r="4.1"/><circle cx="1142" cy="779" r="4.1"/><circle cx="1009.7" cy="856.3" r="4.1"/><circle cx="1211.5" cy="743" r="4.1"/><circle cx="1095.8" cy="791.2" r="4.1"/><circle cx="1035.2" cy="834.4" r="4.1"/><circle cx="1029.8" cy="829.7" r="4.1"/><circle cx="1106.7" cy="787.3" r="4.1"/><circle cx="1024.1" cy="858" r="4.1"/><circle cx="1034.3" cy="832.7" r="4.1"/><circle cx="1212.9" cy="737" r="4.1"/><circle cx="1169.4" cy="728.2" r="4.1"/><circle cx="1126.2" cy="756" r="4.1"/><circle cx="1142.1" cy="738.8" r="4.1"/><circle cx="1024.4" cy="852.5" r="4.1"/><circle cx="1062.6" cy="804" r="4.1"/><circle cx="990.9" cy="876.1" r="4.1"/><circle cx="1116.9" cy="772.9" r="4.1"/><circle cx="974.3" cy="875.5" r="4.1"/><circle cx="1027.5" cy="847" r="4.1"/><circle cx="1244.5" cy="703.2" r="4.1"/><circle cx="1028.2" cy="835.3" r="4.1"/><circle cx="1224.8" cy="701.4" r="4.1"/><circle cx="1106.1" cy="789.3" r="4.1"/><circle cx="1096.1" cy="777.1" r="4.1"/><circle cx="1020" cy="841.1" r="4.1"/><circle cx="1087.7" cy="781.8" r="4.1"/><circle cx="1066.1" cy="797.7" r="4.1"/><circle cx="1135.7" cy="786.5" r="4.1"/><circle cx="1213.7" cy="713" r="4.1"/><circle cx="1066.1" cy="808.4" r="4.1"/><circle cx="1000.9" cy="849" r="4.1"/><circle cx="1203.9" cy="705.5" r="4.1"/><circle cx="1097.2" cy="779" r="4.1"/><circle cx="1089" cy="799.2" r="4.1"/><circle cx="1141.7" cy="751.6" r="4.1"/><circle cx="1119.7" cy="763.6" r="4.1"/><circle cx="1112.1" cy="773.7" r="4.1"/><circle cx="1036" cy="827.3" r="4.1"/><circle cx="1159.6" cy="738" r="4.1"/><circle cx="1043.1" cy="836.2" r="4.1"/><circle cx="1121.3" cy="786.7" r="4.1"/><circle cx="1038.7" cy="820.1" r="4.1"/><circle cx="1047.2" cy="815.5" r="4.1"/><circle cx="1122.7" cy="786.9" r="4.1"/><circle cx="1148.2" cy="770.7" r="4.1"/><circle cx="1218.1" cy="743.6" r="4.1"/><circle cx="1133.5" cy="749.5" r="4.1"/><circle cx="1119.2" cy="769" r="4.1"/><circle cx="1118.2" cy="798.3" r="4.1"/><circle cx="1054" cy="822" r="4.1"/><circle cx="1187.5" cy="730.8" r="4.1"/><circle cx="1119.1" cy="804.6" r="4.1"/><circle cx="1012.5" cy="856.3" r="4.1"/><circle cx="1092.7" cy="805.2" r="4.1"/><circle cx="1072.8" cy="798" r="4.1"/><circle cx="1037.5" cy="832.6" r="4.1"/><circle cx="1135.8" cy="757.3" r="4.1"/><circle cx="1157.8" cy="737.6" r="4.1"/><circle cx="1188.8" cy="717.1" r="4.1"/><circle cx="1166.1" cy="723" r="4.1"/><circle cx="1235.2" cy="686.8" r="4.1"/><circle cx="1029.9" cy="825.6" r="4.1"/><circle cx="1108.7" cy="799.1" r="4.1"/><circle cx="1077.9" cy="808.8" r="4.1"/><circle cx="1140.3" cy="773.9" r="4.1"/><circle cx="1138.3" cy="741.6" r="4.1"/><circle cx="1012.8" cy="844.5" r="4.1"/><circle cx="1053.5" cy="807.8" r="4.1"/><circle cx="1041.8" cy="821.4" r="4.1"/><circle cx="1005" cy="843.1" r="4.1"/><circle cx="1063.5" cy="805.6" r="4.1"/><circle cx="1096" cy="785.7" r="4.1"/><circle cx="1063.4" cy="798.4" r="4.1"/><circle cx="1035.8" cy="840.4" r="4.1"/><circle cx="1161.4" cy="742.7" r="4.1"/><circle cx="1005.3" cy="848.1" r="4.1"/><circle cx="1049.6" cy="812" r="4.1"/><circle cx="1130.8" cy="766.2" r="4.1"/><circle cx="1085.6" cy="789.7" r="4.1"/><circle cx="1116.7" cy="783.3" r="4.1"/><circle cx="1007.7" cy="850" r="4.1"/><circle cx="1198.8" cy="747.2" r="4.1"/><circle cx="1078.7" cy="811" r="4.1"/><circle cx="1153.8" cy="761.3" r="4.1"/><circle cx="1081.3" cy="813.6" r="4.1"/><circle cx="1166.8" cy="778" r="4.1"/><circle cx="1001.6" cy="847.5" r="4.1"/><circle cx="1063.9" cy="802.1" r="4.1"/><circle cx="1236.2" cy="722.8" r="4.1"/><circle cx="1009.1" cy="846.1" r="4.1"/><circle cx="1172" cy="733.4" r="4.1"/><circle cx="1072.5" cy="809.6" r="4.1"/><circle cx="1098" cy="779.5" r="4.1"/><circle cx="1060.7" cy="798.6" r="4.1"/><circle cx="1076.8" cy="821.1" r="4.1"/><circle cx="1221.7" cy="702.6" r="4.1"/><circle cx="1090.5" cy="786.9" r="4.1"/><circle cx="1037.7" cy="834.7" r="4.1"/><circle cx="1146.4" cy="739.6" r="4.1"/><circle cx="1050.4" cy="809.7" r="4.1"/><circle cx="1106.6" cy="782.3" r="4.1"/><circle cx="1154.4" cy="730.9" r="4.1"/><circle cx="1096.4" cy="778.6" r="4.1"/><circle cx="1018.8" cy="853.9" r="4.1"/><circle cx="1146.8" cy="760.9" r="4.1"/><circle cx="1195.6" cy="707.6" r="4.1"/><circle cx="1135.7" cy="772.6" r="4.1"/><circle cx="1189.2" cy="746.5" r="4.1"/><circle cx="1099.9" cy="783.2" r="4.1"/><circle cx="1042.2" cy="832.8" r="4.1"/><circle cx="1071.3" cy="803.7" r="4.1"/><circle cx="1157" cy="752.9" r="4.1"/><circle cx="1201" cy="740.9" r="4.1"/><circle cx="1062.9" cy="827.3" r="4.1"/><circle cx="1163.2" cy="736.6" r="4.1"/><circle cx="1142.8" cy="745.4" r="4.1"/><circle cx="1046.9" cy="825.2" r="4.1"/><circle cx="1162.7" cy="740.3" r="4.1"/><circle cx="1088.4" cy="794.3" r="4.1"/><circle cx="1035.7" cy="832.5" r="4.1"/><circle cx="1108.7" cy="804" r="4.1"/><circle cx="1043.8" cy="819.2" r="4.1"/><circle cx="1109" cy="784.6" r="4.1"/><circle cx="1212" cy="695.7" r="4.1"/><circle cx="1049.6" cy="817.6" r="4.1"/><circle cx="1112.6" cy="768.1" r="4.1"/><circle cx="1109.9" cy="784.5" r="4.1"/><circle cx="1029.6" cy="833.9" r="4.1"/><circle cx="1117.1" cy="788.5" r="4.1"/><circle cx="1045.9" cy="825.9" r="4.1"/><circle cx="1187.6" cy="744.8" r="4.1"/><circle cx="1170.1" cy="737" r="4.1"/><circle cx="1114.1" cy="795" r="4.1"/><circle cx="1046.6" cy="836.7" r="4.1"/><circle cx="1037.4" cy="821" r="4.1"/><circle cx="1049.3" cy="805.5" r="4.1"/><circle cx="1102.6" cy="775.5" r="4.1"/><circle cx="1120.2" cy="761.8" r="4.1"/><circle cx="1035.4" cy="828.9" r="4.1"/><circle cx="1151.7" cy="743.9" r="4.1"/><circle cx="1100.2" cy="790.1" r="4.1"/><circle cx="1216.6" cy="701.1" r="4.1"/><circle cx="1081.4" cy="797.6" r="4.1"/><circle cx="1096.2" cy="792.4" r="4.1"/><circle cx="1156.3" cy="737.8" r="4.1"/><circle cx="1082.3" cy="795.3" r="4.1"/><circle cx="1158.9" cy="739.1" r="4.1"/><circle cx="1103.1" cy="772.7" r="4.1"/><circle cx="1021.3" cy="839.1" r="4.1"/><circle cx="1177.5" cy="725.9" r="4.1"/><circle cx="1176.8" cy="712.9" r="4.1"/><circle cx="1026.5" cy="846.1" r="4.1"/><circle cx="1066.2" cy="825" r="4.1"/><circle cx="1110.6" cy="782.4" r="4.1"/><circle cx="1025.6" cy="824.1" r="4.1"/><circle cx="1078.8" cy="786.2" r="4.1"/><circle cx="1004.6" cy="845.5" r="4.1"/><circle cx="1102.8" cy="782.3" r="4.1"/><circle cx="1100.9" cy="774.3" r="4.1"/><circle cx="1194.8" cy="702.5" r="4.1"/><circle cx="1153.7" cy="741.1" r="4.1"/><circle cx="1065.2" cy="805.1" r="4.1"/><circle cx="1134.8" cy="773.3" r="4.1"/><circle cx="1212.2" cy="737.9" r="4.1"/><circle cx="1017.2" cy="842" r="4.1"/><circle cx="1109.7" cy="781" r="4.1"/><circle cx="1037.7" cy="819.9" r="4.1"/><circle cx="1046.2" cy="813" r="4.1"/><circle cx="1096.2" cy="806" r="4.1"/><circle cx="979.6" cy="868.7" r="4.1"/><circle cx="1092.8" cy="808.5" r="4.1"/><circle cx="1056.2" cy="812.1" r="4.1"/><circle cx="1009.1" cy="847.8" r="4.1"/><circle cx="1102.7" cy="785.5" r="4.1"/><circle cx="1041.8" cy="840.6" r="4.1"/><circle cx="1048" cy="815.7" r="4.1"/><circle cx="1201.1" cy="724" r="4.1"/><circle cx="1081" cy="796.2" r="4.1"/><circle cx="1109" cy="791.4" r="4.1"/><circle cx="1022.2" cy="832.8" r="4.1"/><circle cx="1210.8" cy="706.4" r="4.1"/><circle cx="1121.4" cy="773.4" r="4.1"/><circle cx="1059.4" cy="808.6" r="4.1"/><circle cx="1127.7" cy="762" r="4.1"/><circle cx="1115" cy="762.5" r="4.1"/><circle cx="1095.6" cy="784.8" r="4.1"/><circle cx="1079.3" cy="792.6" r="4.1"/><circle cx="1020" cy="833.7" r="4.1"/><circle cx="1141.4" cy="801" r="4.1"/><circle cx="1001.1" cy="851" r="4.1"/><circle cx="1007.3" cy="842" r="4.1"/><circle cx="1122.8" cy="759.1" r="4.1"/><circle cx="1171.5" cy="735.9" r="4.1"/><circle cx="1185.2" cy="740.2" r="4.1"/><circle cx="1044.1" cy="819.7" r="4.1"/><circle cx="1153.9" cy="741.4" r="4.1"/><circle cx="1039.1" cy="841.4" r="4.1"/><circle cx="1046.8" cy="823.2" r="4.1"/><circle cx="1099" cy="779.3" r="4.1"/><circle cx="1108" cy="786.7" r="4.1"/><circle cx="1102.8" cy="792.3" r="4.1"/><circle cx="1178.1" cy="759.7" r="4.1"/><circle cx="1091.9" cy="798.9" r="4.1"/><circle cx="874.3" cy="928.6" r="4.1"/><circle cx="892.6" cy="913.7" r="4.1"/><circle cx="895.6" cy="915.7" r="4.1"/><circle cx="943.2" cy="879.7" r="4.1"/><circle cx="949.9" cy="883.7" r="4.1"/><circle cx="954.2" cy="887" r="4.1"/><circle cx="957.2" cy="882" r="4.1"/><circle cx="1269.5" cy="683.3" r="4.1"/><circle cx="1266.8" cy="706.6" r="4.1"/><circle cx="1253.8" cy="708.9" r="4.1"/><circle cx="1264.5" cy="717.3" r="4.1"/><circle cx="1278.4" cy="718.6" r="4.1"/><circle cx="1256.1" cy="717.3" r="4.1"/><circle cx="1248.8" cy="719.9" r="4.1"/><circle cx="1269.5" cy="737.6" r="4.1"/><circle cx="1316" cy="734.9" r="4.1"/><circle cx="1234.5" cy="750.5" r="4.1"/><circle cx="1241.8" cy="751.5" r="4.1"/><circle cx="1220.5" cy="754.5" r="4.1"/><circle cx="1208.5" cy="777.5" r="4.1"/><circle cx="1193.6" cy="774.2" r="4.1"/><circle cx="1178.9" cy="772.2" r="4.1"/><circle cx="1177.9" cy="782.2" r="4.1"/><circle cx="1166.9" cy="784.2" r="4.1"/><circle cx="1159.6" cy="788.2" r="4.1"/><circle cx="1149.6" cy="811.8" r="4.1"/><circle cx="1133.6" cy="810.5" r="4.1"/><circle cx="1101.3" cy="818.4" r="4.1"/><circle cx="1094" cy="832.4" r="4.1"/><circle cx="1079.7" cy="829.8" r="4.1"/><circle cx="1072.4" cy="837.4" r="4.1"/><circle cx="1074.7" cy="846.4" r="4.1"/><circle cx="1075.7" cy="850.4" r="4.1"/><circle cx="1044.8" cy="844.8" r="4.1"/><circle cx="1039.8" cy="849.1" r="4.1"/><circle cx="1023.1" cy="856.4" r="4.1"/><circle cx="1029.8" cy="850.4" r="4.1"/><circle cx="1065.4" cy="788.2" r="4.1"/></g>
<line x1="824.6" y1="987" x2="1318.6" y2="604.9" stroke="#1d1d1b" stroke-width="4.0"/>
<path d="M837 603.4v7.3M837 986.9v-7.3M849.3 603.4v7.3M849.3 986.9v-7.3M861.6 603.4v7.3M861.6 986.9v-7.3M874 603.4v7.3M874 986.9v-7.3M886.4 603.4v12.3M886.4 986.9v-12.3M898.7 603.4v7.3M898.7 986.9v-7.3M911 603.4v7.3M911 986.9v-7.3M923.4 603.4v7.3M923.4 986.9v-7.3M935.8 603.4v7.3M935.8 986.9v-7.3M948.1 603.4v12.3M948.1 986.9v-12.3M960.5 603.4v7.3M960.5 986.9v-7.3M972.8 603.4v7.3M972.8 986.9v-7.3M985.1 603.4v7.3M985.1 986.9v-7.3M997.5 603.4v7.3M997.5 986.9v-7.3M1009.8 603.4v12.3M1009.8 986.9v-12.3M1022.2 603.4v7.3M1022.2 986.9v-7.3M1034.5 603.4v7.3M1034.5 986.9v-7.3M1046.9 603.4v7.3M1046.9 986.9v-7.3M1059.2 603.4v7.3M1059.2 986.9v-7.3M1071.6 603.4v12.3M1071.6 986.9v-12.3M1084 603.4v7.3M1084 986.9v-7.3M1096.3 603.4v7.3M1096.3 986.9v-7.3M1108.7 603.4v7.3M1108.7 986.9v-7.3M1121 603.4v7.3M1121 986.9v-7.3M1133.3 603.4v12.3M1133.3 986.9v-12.3M1145.7 603.4v7.3M1145.7 986.9v-7.3M1158 603.4v7.3M1158 986.9v-7.3M1170.4 603.4v7.3M1170.4 986.9v-7.3M1182.8 603.4v7.3M1182.8 986.9v-7.3M1195.1 603.4v12.3M1195.1 986.9v-12.3M1207.4 603.4v7.3M1207.4 986.9v-7.3M1219.8 603.4v7.3M1219.8 986.9v-7.3M1232.1 603.4v7.3M1232.1 986.9v-7.3M1244.5 603.4v7.3M1244.5 986.9v-7.3M1256.8 603.4v12.3M1256.8 986.9v-12.3M1269.2 603.4v7.3M1269.2 986.9v-7.3M1281.5 603.4v7.3M1281.5 986.9v-7.3M1293.9 603.4v7.3M1293.9 986.9v-7.3M1306.2 603.4v7.3M1306.2 986.9v-7.3M824.6 975.1h7.3M1318.6 975.1h-7.3M824.6 963.1h7.3M1318.6 963.1h-7.3M824.6 951.2h12.3M1318.6 951.2h-12.3M824.6 939.3h7.3M1318.6 939.3h-7.3M824.6 927.3h7.3M1318.6 927.3h-7.3M824.6 915.4h7.3M1318.6 915.4h-7.3M824.6 903.4h7.3M1318.6 903.4h-7.3M824.6 891.5h12.3M1318.6 891.5h-12.3M824.6 879.6h7.3M1318.6 879.6h-7.3M824.6 867.6h7.3M1318.6 867.6h-7.3M824.6 855.7h7.3M1318.6 855.7h-7.3M824.6 843.7h7.3M1318.6 843.7h-7.3M824.6 831.8h12.3M1318.6 831.8h-12.3M824.6 819.9h7.3M1318.6 819.9h-7.3M824.6 807.9h7.3M1318.6 807.9h-7.3M824.6 796h7.3M1318.6 796h-7.3M824.6 784h7.3M1318.6 784h-7.3M824.6 772.1h12.3M1318.6 772.1h-12.3M824.6 760.2h7.3M1318.6 760.2h-7.3M824.6 748.2h7.3M1318.6 748.2h-7.3M824.6 736.3h7.3M1318.6 736.3h-7.3M824.6 724.3h7.3M1318.6 724.3h-7.3M824.6 712.4h12.3M1318.6 712.4h-12.3M824.6 700.5h7.3M1318.6 700.5h-7.3M824.6 688.5h7.3M1318.6 688.5h-7.3M824.6 676.6h7.3M1318.6 676.6h-7.3M824.6 664.6h7.3M1318.6 664.6h-7.3M824.6 652.7h12.3M1318.6 652.7h-12.3M824.6 640.8h7.3M1318.6 640.8h-7.3M824.6 628.8h7.3M1318.6 628.8h-7.3M824.6 616.9h7.3M1318.6 616.9h-7.3M824.6 604.9h7.3M1318.6 604.9h-7.3" stroke="#1d1d1b" stroke-width="1.8" fill="none"/>
<rect x="824.6" y="603.4" width="494" height="383.5" fill="none" stroke="#1d1d1b" stroke-width="1.8"/>
<text transform="translate(849.7 931.8) rotate(-37.3) scale(0.985 1)" font-size="29.7" fill="#1d1d1b" style="stroke:none">GMWL</text>
<text transform="translate(840.8 1025.3) scale(0.995 1)" text-anchor="end" font-size="28.9" fill="#1d1d1b">−30</text>
<text transform="translate(901.8 1025.3) scale(0.995 1)" text-anchor="end" font-size="28.9" fill="#1d1d1b">−25</text>
<text transform="translate(962.3 1025.3) scale(0.995 1)" text-anchor="end" font-size="28.9" fill="#1d1d1b">−20</text>
<text transform="translate(1022.9 1025.3) scale(0.995 1)" text-anchor="end" font-size="28.9" fill="#1d1d1b">−15</text>
<text transform="translate(1084.1 1025.3) scale(0.995 1)" text-anchor="end" font-size="28.9" fill="#1d1d1b">−10</text>
<text transform="translate(1142.9 1025.3) scale(0.995 1)" text-anchor="end" font-size="28.9" fill="#1d1d1b">−5</text>
<text transform="translate(1202.8 1025.3) scale(0.995 1)" text-anchor="end" font-size="28.9" fill="#1d1d1b">0</text>
<text transform="translate(1262.8 1025.3) scale(0.995 1)" text-anchor="end" font-size="28.9" fill="#1d1d1b">5</text>
<text transform="translate(1333.1 1025.3) scale(0.995 1)" text-anchor="end" font-size="28.9" fill="#1d1d1b">10</text>
<text transform="translate(811.2 663.1) scale(0.96 1)" text-anchor="end" font-size="29.7" fill="#1d1d1b">50</text>
<text transform="translate(811.2 722.8) scale(0.96 1)" text-anchor="end" font-size="29.7" fill="#1d1d1b">0</text>
<text transform="translate(811.2 782.5) scale(0.96 1)" text-anchor="end" font-size="29.7" fill="#1d1d1b">−50</text>
<text transform="translate(811.2 842.2) scale(0.96 1)" text-anchor="end" font-size="29.7" fill="#1d1d1b">−100</text>
<text transform="translate(811.2 901.9) scale(0.96 1)" text-anchor="end" font-size="29.7" fill="#1d1d1b">−150</text>
<text transform="translate(811.2 961.6) scale(0.96 1)" text-anchor="end" font-size="29.7" fill="#1d1d1b">−200</text>
</g>
<text x="134.3" y="68.8" font-size="32" font-weight="bold" fill="#1d1d1b" stroke="#1d1d1b" stroke-width="1.7" stroke-linejoin="round">a</text>
<text x="833.8" y="73.2" font-size="32" font-weight="bold" fill="#1d1d1b" stroke="#1d1d1b" stroke-width="1.7" stroke-linejoin="round">b</text>
<text x="126.3" y="581.5" font-size="32" font-weight="bold" fill="#1d1d1b" stroke="#1d1d1b" stroke-width="1.7" stroke-linejoin="round">c</text>
<text x="827.8" y="581.5" font-size="32" font-weight="bold" fill="#1d1d1b" stroke="#1d1d1b" stroke-width="1.7" stroke-linejoin="round">d</text>
<g class="t" style="stroke-width:.3px">
<text transform="translate(604.3 1082.2)" font-size="28.6" fill="#1d1d1b"><tspan font-family='"Liberation Serif", serif' font-size="31" style="stroke-width:.2px">δ</tspan><tspan dy="-11" dx="2" font-size="18" style="stroke-width:.15px">18</tspan><tspan dy="11" dx="1.2">O (‰</tspan><tspan dx="4.5"> V-SMOW)</tspan></text>
<text transform="translate(35.2 627.1) rotate(-90)" font-size="29.2" fill="#1d1d1b"><tspan font-family='"Liberation Serif", serif' font-size="31" style="stroke-width:.2px">δ</tspan><tspan dy="-11" dx="0.5" font-size="18" style="stroke-width:.15px">2</tspan><tspan dy="11" dx="0">H (‰</tspan><tspan dx="1"> V-SMOW)</tspan></text>
</g>
</svg>
</body></html>
